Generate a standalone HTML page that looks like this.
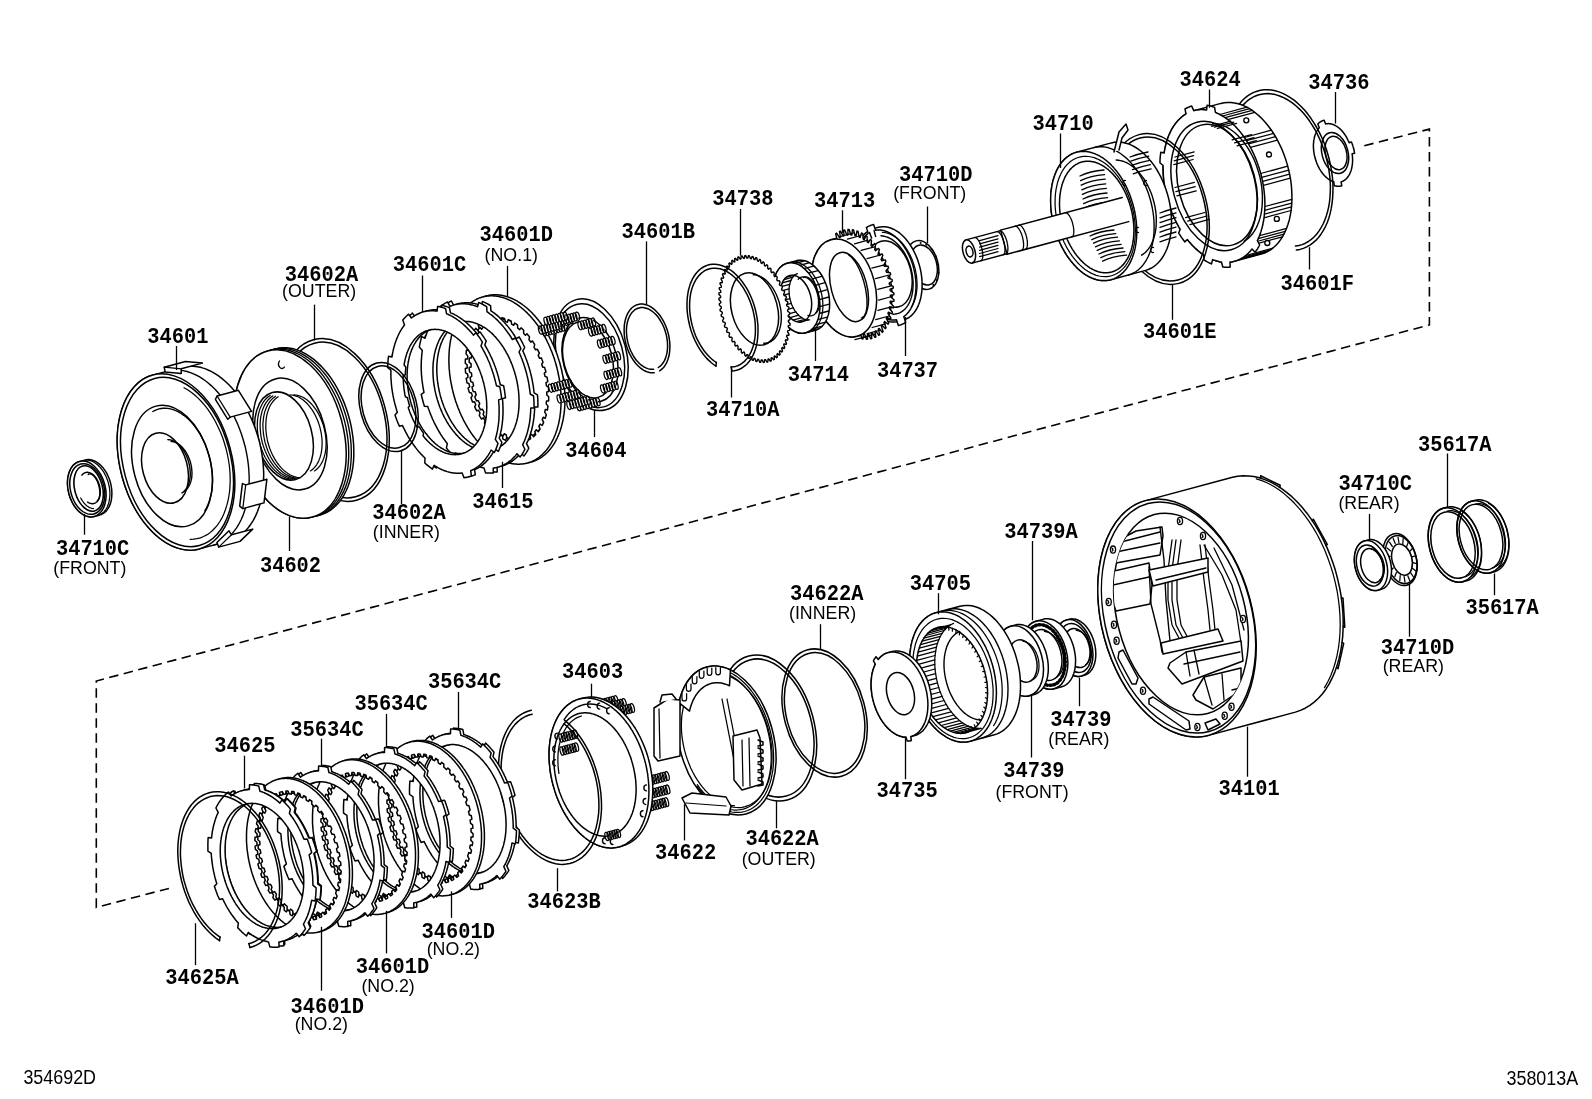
<!DOCTYPE html>
<html><head><meta charset="utf-8"><style>
html,body{margin:0;padding:0;background:#fff;}
svg{display:block;}
.m{font-family:"Liberation Mono",monospace;font-weight:bold;font-size:20.4px;fill:#000;}
.s{font-family:"Liberation Sans",sans-serif;font-size:17.8px;fill:#000;}
.c{font-family:"Liberation Sans",sans-serif;font-size:17.9px;fill:#000;}
</style></head><body>
<svg width="1592" height="1099" viewBox="0 0 1592 1099">
<g fill="none" stroke="#000" stroke-width="1.6" stroke-dasharray="9.5 5.5">
<polyline points="1364.3,145.7 1429.4,129.1 1429.4,324.9 96.3,681 96.3,907.4 168.9,888.4"/>
</g>
<g fill="#fff" stroke="#000" stroke-width="1.5" stroke-linejoin="round" stroke-linecap="round">
<polygon points="1353.4,147.5 1353.5,148.1 1353.7,148.7 1353.8,149.3 1353.9,149.8 1354.1,150.4 1354.2,151.0 1354.3,151.6 1354.4,152.2 1354.5,152.7 1354.6,153.3 1352.1,153.8 1352.2,154.3 1352.3,154.8 1352.3,155.3 1352.4,155.8 1352.4,156.4 1352.5,156.9 1352.5,157.4 1352.5,157.9 1352.5,158.4 1352.6,158.9 1352.6,159.4 1352.6,159.9 1352.6,160.4 1352.6,160.9 1352.6,161.4 1352.5,161.9 1352.5,162.4 1352.5,162.8 1352.4,163.3 1352.4,163.8 1352.4,164.3 1352.3,164.7 1352.2,165.2 1352.2,165.7 1352.1,166.1 1352.0,166.6 1351.9,167.0 1351.8,167.5 1351.8,167.9 1351.7,168.4 1351.5,168.8 1351.4,169.2 1351.3,169.7 1351.2,170.1 1351.1,170.5 1350.9,170.9 1350.8,171.3 1350.6,171.7 1350.5,172.1 1350.3,172.5 1350.2,172.9 1350.0,173.2 1349.8,173.6 1349.7,174.0 1349.5,174.3 1349.3,174.7 1349.1,175.0 1348.9,175.4 1348.7,175.7 1348.5,176.0 1348.3,176.3 1348.1,176.6 1347.9,176.9 1347.6,177.2 1347.4,177.5 1347.2,177.8 1346.9,178.1 1346.7,178.3 1346.4,178.6 1346.2,178.8 1345.9,179.1 1345.7,179.3 1345.4,179.5 1345.2,179.7 1344.9,180.0 1344.6,180.2 1344.3,180.3 1344.1,180.5 1343.8,180.7 1343.5,180.9 1343.2,181.0 1342.9,181.2 1342.6,181.3 1342.3,181.4 1342.0,181.6 1341.7,181.7 1341.4,181.8 1341.1,181.9 1341.8,185.8 1341.4,185.9 1341.1,186.0 1340.7,186.1 1340.4,186.1 1340.0,186.2 1339.6,186.2 1339.3,186.3 1338.9,186.3 1338.5,186.3 1338.1,186.3 1337.8,186.3 1337.4,186.3 1337.0,186.2 1336.6,186.2 1336.2,186.1 1335.8,186.1 1335.5,186.0 1335.1,185.9 1334.7,185.8 1334.3,185.7 1333.8,181.8 1333.5,181.7 1333.1,181.6 1332.8,181.4 1332.4,181.3 1332.1,181.2 1331.8,181.0 1331.4,180.8 1331.1,180.7 1330.7,180.5 1330.4,180.3 1330.1,180.1 1329.7,179.9 1329.4,179.7 1329.1,179.5 1328.7,179.3 1328.4,179.0 1328.1,178.8 1327.7,178.5 1327.4,178.3 1327.1,178.0 1326.7,177.8 1326.4,177.5 1326.1,177.2 1325.8,176.9 1325.5,176.6 1325.2,176.3 1324.8,176.0 1324.5,175.6 1324.2,175.3 1323.9,175.0 1323.6,174.6 1323.3,174.3 1323.0,173.9 1322.7,173.6 1322.4,173.2 1322.2,172.8 1321.9,172.4 1321.6,172.1 1321.3,171.7 1321.1,171.3 1320.8,170.9 1320.5,170.4 1320.3,170.0 1320.0,169.6 1319.7,169.2 1319.5,168.8 1319.3,168.3 1319.0,167.9 1318.8,167.4 1318.5,167.0 1318.3,166.5 1318.1,166.1 1317.9,165.6 1317.7,165.2 1317.4,164.7 1317.2,164.2 1317.0,163.7 1316.8,163.3 1316.7,162.8 1316.5,162.3 1316.3,161.8 1316.1,161.3 1315.9,160.8 1315.8,160.3 1315.6,159.8 1315.5,159.3 1315.3,158.8 1315.2,158.3 1315.0,157.8 1314.9,157.3 1314.8,156.8 1314.7,156.3 1314.5,155.8 1314.4,155.3 1314.3,154.8 1314.2,154.2 1314.1,153.7 1314.0,153.2 1314.0,152.7 1313.9,152.2 1313.8,151.7 1313.7,151.2 1313.7,150.7 1313.6,150.2 1313.6,149.6 1313.5,149.1 1313.5,148.6 1313.5,148.1 1313.5,147.6 1313.4,147.1 1313.4,146.6 1313.4,146.1 1313.4,145.6 1313.4,145.1 1313.4,144.6 1313.5,144.1 1313.5,143.6 1313.5,143.2 1313.6,142.7 1313.6,142.2 1313.6,141.7 1313.7,141.3 1313.8,140.8 1313.8,140.3 1313.9,139.9 1314.0,139.4 1314.1,139.0 1314.2,138.5 1314.2,138.1 1314.3,137.6 1314.5,137.2 1314.6,136.8 1314.7,136.3 1314.8,135.9 1314.9,135.5 1315.1,135.1 1315.2,134.7 1315.4,134.3 1315.5,133.9 1315.7,133.5 1315.8,133.1 1316.0,132.8 1316.2,132.4 1316.3,132.0 1316.5,131.7 1316.7,131.3 1316.9,131.0 1317.1,130.6 1317.3,130.3 1317.5,130.0 1317.7,129.7 1317.9,129.4 1318.1,129.1 1318.4,128.8 1318.6,128.5 1318.8,128.2 1319.1,127.9 1319.3,127.7 1317.8,124.0 1318.1,123.7 1318.3,123.5 1318.6,123.2 1318.9,122.9 1319.2,122.7 1319.5,122.5 1319.8,122.2 1320.2,122.0 1320.5,121.8 1320.8,121.6 1321.1,121.4 1321.5,121.2 1321.8,121.1 1322.1,120.9 1322.5,120.8 1322.8,120.6 1323.1,120.5 1323.5,120.4 1323.8,120.3 1324.2,120.2 1325.6,123.9 1325.9,123.9 1326.2,123.8 1326.5,123.8 1326.8,123.7 1327.2,123.7 1327.5,123.7 1327.8,123.6 1328.1,123.6 1328.5,123.6 1328.8,123.6 1329.1,123.7 1329.5,123.7 1329.8,123.7 1330.2,123.8 1330.5,123.8 1330.8,123.9 1331.2,124.0 1331.5,124.0 1331.8,124.1 1332.2,124.2 1332.5,124.3 1332.9,124.4 1333.2,124.6 1333.6,124.7 1333.9,124.8 1334.2,125.0 1334.6,125.2 1334.9,125.3 1335.3,125.5 1335.6,125.7 1335.9,125.9 1336.3,126.1 1336.6,126.3 1336.9,126.5 1337.3,126.7 1337.6,127.0 1337.9,127.2 1338.3,127.5 1338.6,127.7 1338.9,128.0 1339.3,128.2 1339.6,128.5 1339.9,128.8 1340.2,129.1 1340.5,129.4 1340.8,129.7 1341.2,130.0 1341.5,130.4 1341.8,130.7 1342.1,131.0 1342.4,131.4 1342.7,131.7 1343.0,132.1 1343.3,132.4 1343.6,132.8 1343.8,133.2 1344.1,133.6 1344.4,133.9 1344.7,134.3 1344.9,134.7 1345.2,135.1 1345.5,135.6 1345.7,136.0 1346.0,136.4 1346.3,136.8 1346.5,137.2 1346.7,137.7 1347.0,138.1 1347.2,138.6 1347.5,139.0 1347.7,139.5 1347.9,139.9 1348.1,140.4 1348.3,140.8 1348.6,141.3 1348.8,141.8 1349.0,142.3 1349.2,142.7 1351.5,141.9 1351.7,142.5 1351.9,143.0 1352.1,143.6 1352.3,144.1 1352.5,144.7 1352.7,145.3 1352.9,145.8 1353.0,146.4 1353.2,147.0" fill="#fff" stroke-width="1.5"/>
<ellipse cx="1335.0" cy="153.0" rx="13.0" ry="21.0" transform="rotate(-15 1335.0 153.0)" fill="none" stroke-width="1.5" />
<ellipse cx="1336.0" cy="153.0" rx="10.5" ry="17.0" transform="rotate(-15 1336.0 153.0)" fill="none" stroke-width="1.5" />
<polyline points="1230.9,119.9 1232.6,115.6 1234.5,111.6 1236.7,107.8 1239.0,104.4 1241.6,101.3 1244.4,98.5 1247.3,96.1 1250.4,94.1 1253.7,92.4 1257.0,91.2 1260.5,90.3 1264.1,89.8 1267.8,89.7 1271.5,90.1 1275.2,90.8 1279.0,91.9 1282.8,93.4 1286.6,95.3 1290.3,97.6 1294.0,100.2 1297.6,103.2 1301.1,106.5 1304.5,110.1 1307.8,114.1 1310.9,118.3 1313.9,122.8 1316.7,127.5 1319.3,132.4 1321.8,137.5 1324.0,142.8 1326.0,148.2 1327.7,153.7 1329.2,159.3 1330.5,164.9 1331.5,170.6 1332.3,176.3 1332.8,181.9 1333.0,187.5 1332.9,193.0 1332.6,198.4 1332.0,203.6 1331.2,208.7 1330.1,213.6 1328.8,218.2 1327.2,222.7 1325.3,226.8 1323.2,230.7 1321.0,234.2 1318.5,237.5 1315.8,240.4 1312.9,242.9 1309.9,245.1 1306.7,246.9 1303.4,248.4 1299.9,249.4 1296.4,250.1" fill="none" stroke-width="1.5"/>
<polyline points="1233.2,122.4 1234.9,118.3 1236.7,114.4 1238.7,110.9 1241.0,107.6 1243.5,104.6 1246.1,102.0 1248.9,99.7 1251.8,97.8 1254.9,96.2 1258.1,95.0 1261.4,94.2 1264.9,93.7 1268.3,93.6 1271.9,94.0 1275.4,94.6 1279.0,95.7 1282.6,97.2 1286.2,99.0 1289.8,101.1 1293.3,103.6 1296.7,106.5 1300.0,109.6 1303.3,113.1 1306.4,116.8 1309.4,120.8 1312.2,125.1 1314.9,129.5 1317.4,134.2 1319.7,139.1 1321.8,144.1 1323.7,149.2 1325.4,154.5 1326.8,159.8 1328.0,165.2 1329.0,170.6 1329.7,176.0 1330.2,181.4 1330.4,186.7 1330.3,191.9 1330.0,197.0 1329.5,202.0 1328.7,206.8 1327.6,211.5 1326.3,215.9 1324.8,220.1 1323.1,224.0 1321.1,227.7 1318.9,231.1 1316.6,234.2 1314.0,237.0 1311.3,239.4 1308.4,241.5 1305.4,243.2 1302.2,244.6 1298.9,245.5 1295.5,246.1" fill="none" stroke-width="1.5"/>
<polygon points="1220.9,103.4 1224.2,102.7 1227.6,102.4 1231.0,102.5 1234.5,102.9 1238.1,103.7 1241.6,104.8 1245.2,106.4 1248.7,108.2 1252.2,110.4 1255.6,113.0 1259.0,115.9 1262.3,119.0 1265.4,122.5 1268.5,126.2 1271.4,130.2 1274.2,134.5 1276.8,138.9 1279.2,143.6 1281.5,148.4 1283.5,153.3 1285.4,158.4 1287.0,163.6 1288.4,168.9 1289.6,174.2 1290.6,179.5 1291.3,184.8 1291.7,190.1 1291.9,195.4 1291.9,200.5 1291.6,205.6 1291.1,210.5 1290.3,215.3 1289.3,219.9 1288.0,224.3 1286.5,228.4 1284.8,232.3 1282.9,236.0 1280.8,239.4 1278.5,242.5 1276.0,245.3 1273.3,247.7 1270.5,249.8 1267.5,251.6 1264.4,253.0 1261.2,254.1 1234.2,261.3 1230.9,262.0 1227.5,262.4 1224.0,262.3 1220.5,261.9 1217.0,261.1 1213.4,259.9 1209.9,258.4 1206.4,256.5 1202.9,254.3 1199.4,251.8 1196.1,248.9 1192.8,245.7 1189.6,242.2 1186.6,238.5 1183.6,234.5 1180.9,230.3 1178.3,225.8 1175.8,221.2 1173.6,216.4 1171.5,211.4 1169.7,206.3 1168.0,201.1 1166.6,195.9 1165.4,190.6 1164.5,185.2 1163.8,179.9 1163.3,174.6 1163.1,169.4 1163.2,164.2 1163.5,159.2 1164.0,154.2 1164.8,149.5 1165.8,144.9 1167.0,140.5 1168.5,136.3 1170.2,132.4 1172.1,128.7 1174.2,125.4 1176.6,122.3 1179.1,119.5 1181.7,117.0 1184.5,114.9 1187.5,113.1 1190.6,111.7 1193.8,110.7" fill="#fff" stroke-width="1.5"/>
<line x1="1219.9" y1="114.5" x2="1246.9" y2="107.2" stroke-width="1.25"/>
<line x1="1222.5" y1="116.0" x2="1249.6" y2="108.7" stroke-width="1.25"/>
<line x1="1225.1" y1="117.7" x2="1252.2" y2="110.4" stroke-width="1.25"/>
<line x1="1227.7" y1="119.6" x2="1254.8" y2="112.3" stroke-width="1.25"/>
<line x1="1244.4" y1="137.5" x2="1271.4" y2="130.2" stroke-width="1.25"/>
<line x1="1246.5" y1="140.6" x2="1273.5" y2="133.4" stroke-width="1.25"/>
<line x1="1248.5" y1="143.9" x2="1275.5" y2="136.7" stroke-width="1.25"/>
<line x1="1250.4" y1="147.3" x2="1277.4" y2="140.1" stroke-width="1.25"/>
<line x1="1260.7" y1="173.5" x2="1287.8" y2="166.2" stroke-width="1.25"/>
<line x1="1261.7" y1="177.4" x2="1288.8" y2="170.2" stroke-width="1.25"/>
<line x1="1262.6" y1="181.4" x2="1289.6" y2="174.2" stroke-width="1.25"/>
<line x1="1263.3" y1="185.4" x2="1290.3" y2="178.2" stroke-width="1.25"/>
<line x1="1264.9" y1="206.5" x2="1291.9" y2="199.3" stroke-width="1.25"/>
<line x1="1264.7" y1="210.3" x2="1291.8" y2="203.1" stroke-width="1.25"/>
<line x1="1264.4" y1="214.1" x2="1291.5" y2="206.8" stroke-width="1.25"/>
<line x1="1264.0" y1="217.8" x2="1291.1" y2="210.5" stroke-width="1.25"/>
<line x1="1259.5" y1="235.7" x2="1286.5" y2="228.4" stroke-width="1.25"/>
<line x1="1258.2" y1="238.6" x2="1285.3" y2="231.4" stroke-width="1.25"/>
<line x1="1256.9" y1="241.5" x2="1283.9" y2="234.2" stroke-width="1.25"/>
<line x1="1255.4" y1="244.1" x2="1282.4" y2="236.9" stroke-width="1.25"/>
<line x1="1245.6" y1="255.5" x2="1272.6" y2="248.3" stroke-width="1.25"/>
<line x1="1243.5" y1="257.1" x2="1270.5" y2="249.8" stroke-width="1.25"/>
<line x1="1241.2" y1="258.5" x2="1268.3" y2="251.2" stroke-width="1.25"/>
<line x1="1239.0" y1="259.6" x2="1266.0" y2="252.4" stroke-width="1.25"/>
<circle cx="1246.3" cy="120.3" r="2.5" fill="#fff" stroke-width="1.35"/>
<circle cx="1269.0" cy="154.5" r="2.5" fill="#fff" stroke-width="1.35"/>
<circle cx="1276.8" cy="218.9" r="2.5" fill="#fff" stroke-width="1.35"/>
<circle cx="1267.3" cy="243.0" r="2.5" fill="#fff" stroke-width="1.35"/>
<polygon points="1260.7,173.5 1261.1,174.8 1261.4,176.1 1261.7,177.4 1262.0,178.8 1262.3,180.1 1262.6,181.4 1262.8,182.8 1263.1,184.1 1263.3,185.4 1263.5,186.8 1263.7,188.1 1263.9,189.4 1264.1,190.8 1264.2,192.1 1264.3,193.4 1264.5,194.7 1264.6,196.1 1264.7,197.4 1264.7,198.7 1264.8,200.0 1264.8,201.3 1264.9,202.6 1264.9,203.9 1264.9,205.2 1264.9,206.5 1264.8,207.8 1264.8,209.1 1264.7,210.3 1264.6,211.6 1264.5,212.8 1264.4,214.1 1264.3,215.3 1264.2,216.5 1264.0,217.8 1263.8,219.0 1263.7,220.2 1263.5,221.3 1263.2,222.5 1263.0,223.7 1262.8,224.8 1262.5,226.0 1262.2,227.1 1261.9,228.2 1261.6,229.3 1261.3,230.4 1261.0,231.5 1260.6,232.6 1260.3,233.6 1259.9,234.6 1259.5,235.7 1259.1,236.7 1258.7,237.7 1258.2,238.6 1257.8,239.6 1257.3,240.5 1259.6,245.0 1259.1,246.0 1258.6,246.9 1258.0,247.9 1257.5,248.8 1256.9,249.7 1256.3,250.5 1255.7,251.4 1255.1,252.2 1252.0,249.0 1251.4,249.7 1250.8,250.5 1250.2,251.2 1249.6,251.9 1248.9,252.5 1248.3,253.2 1247.6,253.8 1247.0,254.4 1246.3,255.0 1245.6,255.5 1244.9,256.1 1244.2,256.6 1243.5,257.1 1242.7,257.6 1242.0,258.0 1241.2,258.5 1240.5,258.9 1239.7,259.3 1239.0,259.6 1238.2,260.0 1237.4,260.3 1236.6,260.6 1235.8,260.9 1235.0,261.1 1234.2,261.3 1233.4,261.5 1232.5,261.7 1231.7,261.9 1230.9,262.0 1230.0,262.1 1230.2,267.1 1229.3,267.2 1228.4,267.2 1227.4,267.3 1226.5,267.3 1225.6,267.2 1224.7,267.2 1223.7,267.1 1222.8,267.0 1221.4,262.0 1220.5,261.9 1219.6,261.7 1218.8,261.5 1217.9,261.3 1217.0,261.1 1216.1,260.8 1215.2,260.5 1214.3,260.2 1213.4,259.9 1212.6,259.6 1211.5,263.9 1210.6,263.5 1209.6,263.0 1208.7,262.6 1207.8,262.1 1206.8,261.6 1205.9,261.0 1204.9,260.5 1204.0,259.9 1203.7,254.9 1202.9,254.3 1202.0,253.7 1201.1,253.1 1200.3,252.4 1199.4,251.8 1198.6,251.1 1197.7,250.4 1196.9,249.6 1196.1,248.9 1195.2,248.1 1194.4,247.3 1193.6,246.5 1192.8,245.7 1192.0,244.9 1191.2,244.0 1190.4,243.1 1189.6,242.2 1188.8,241.3 1188.1,240.4 1187.3,239.5 1184.8,241.9 1184.0,240.8 1183.2,239.8 1182.5,238.7 1181.7,237.6 1180.9,236.5 1180.2,235.4 1179.5,234.3 1178.7,233.1 1180.2,229.2 1179.5,228.1 1178.9,227.0 1178.3,225.8 1177.6,224.7 1177.0,223.5 1176.4,222.4 1175.8,221.2 1175.2,220.0 1174.7,218.8 1174.1,217.6 1173.6,216.4 1173.0,215.1 1172.5,213.9 1172.0,212.7 1171.5,211.4 1171.0,210.1 1170.6,208.9 1170.1,207.6 1169.7,206.3 1169.2,205.0 1168.8,203.7 1168.4,202.4 1168.0,201.1 1167.6,199.8 1167.3,198.5 1166.9,197.2 1166.6,195.9 1166.3,194.6 1166.0,193.2 1165.7,191.9 1165.4,190.6 1165.2,189.2 1164.9,187.9 1164.7,186.6 1164.5,185.2 1164.3,183.9 1164.1,182.6 1163.9,181.2 1163.8,179.9 1163.7,178.6 1163.5,177.3 1163.4,175.9 1163.3,174.6 1163.3,173.3 1163.2,172.0 1163.2,170.7 1163.1,169.4 1163.1,168.1 1163.1,166.8 1163.1,165.5 1159.9,162.8 1160.0,161.5 1160.0,160.1 1160.1,158.8 1160.2,157.4 1160.3,156.1 1160.5,154.8 1160.6,153.5 1160.8,152.2 1164.2,153.0 1164.3,151.8 1164.5,150.7 1164.8,149.5 1165.0,148.3 1165.2,147.2 1165.5,146.0 1165.8,144.9 1166.1,143.8 1166.4,142.7 1166.7,141.6 1167.0,140.5 1167.4,139.4 1167.7,138.4 1168.1,137.4 1168.5,136.3 1168.9,135.3 1169.3,134.3 1169.8,133.4 1170.2,132.4 1170.7,131.5 1171.1,130.5 1171.6,129.6 1172.1,128.7 1172.6,127.9 1173.2,127.0 1173.7,126.2 1174.2,125.4 1174.8,124.6 1175.4,123.8 1176.0,123.0 1176.6,122.3 1177.2,121.5 1177.8,120.8 1178.4,120.1 1179.1,119.5 1179.7,118.8 1180.4,118.2 1181.0,117.6 1181.7,117.0 1182.4,116.5 1183.1,115.9 1183.8,115.4 1184.5,114.9 1185.3,114.4 1186.0,114.0 1185.0,108.9 1185.8,108.5 1186.6,108.0 1187.4,107.7 1188.3,107.3 1189.1,107.0 1189.9,106.6 1190.8,106.3 1191.7,106.1 1193.8,110.7 1194.6,110.5 1195.5,110.3 1196.3,110.1 1197.1,110.0 1198.0,109.9 1198.8,109.8 1199.7,109.7 1200.5,109.6 1201.4,109.6 1202.2,109.6 1203.1,109.7 1204.0,109.7 1204.8,109.8 1205.7,109.9 1206.6,110.0 1207.1,105.3 1208.0,105.4 1208.9,105.6 1209.9,105.9 1210.8,106.1 1211.8,106.4 1212.7,106.7 1213.6,107.0 1214.6,107.3 1215.4,112.4 1216.3,112.8 1217.2,113.2 1218.1,113.6 1219.0,114.0 1219.9,114.5 1220.8,115.0 1221.6,115.5 1222.5,116.0 1223.4,116.5 1224.3,117.1 1225.1,117.7 1226.0,118.3 1226.9,118.9 1227.7,119.6 1228.6,120.2 1229.4,120.9 1230.3,121.6 1231.1,122.4 1231.9,123.1 1232.8,123.9 1233.6,124.7 1234.4,125.5 1235.2,126.3 1236.0,127.1 1236.8,128.0 1237.6,128.9 1238.4,129.8 1239.2,130.7 1239.9,131.6 1240.7,132.5 1241.4,133.5 1242.2,134.5 1242.9,135.5 1243.6,136.5 1244.4,137.5 1245.1,138.5 1245.8,139.6 1246.5,140.6 1247.1,141.7 1247.8,142.8 1248.5,143.9 1249.1,145.0 1249.7,146.2 1250.4,147.3 1251.0,148.5 1251.6,149.6 1252.2,150.8 1252.8,152.0 1253.3,153.2 1253.9,154.4 1254.4,155.6 1255.0,156.9 1255.5,158.1 1256.0,159.3 1256.5,160.6 1257.0,161.9 1257.4,163.1 1257.9,164.4 1258.3,165.7 1258.8,167.0 1259.2,168.3 1259.6,169.6 1260.0,170.9 1260.4,172.2" fill="#fff" stroke-width="1.5"/>
<ellipse cx="1214.0" cy="186.0" rx="40.9" ry="66.0" transform="rotate(-15 1214.0 186.0)" fill="none" stroke-width="1.5" />
<ellipse cx="1217.0" cy="185.0" rx="38.4" ry="62.0" transform="rotate(-15 1217.0 185.0)" fill="none" stroke-width="1.5" />
<polyline points="1212.6,123.3 1215.4,123.5 1218.2,124.0 1221.0,124.7 1223.9,125.8 1226.7,127.2 1229.5,128.8 1232.2,130.7 1234.9,132.8 1237.6,135.2 1240.1,137.9 1242.6,140.8 1245.0,143.8 1247.3,147.1 1249.4,150.6 1251.4,154.2 1253.3,157.9 1255.0,161.8 1256.5,165.8 1257.9,169.9 1259.1,174.1 1260.2,178.3 1261.0,182.5 1261.7,186.7 1262.1,190.9 1262.4,195.1 1262.4,199.3 1262.3,203.3 1262.0,207.3 1261.5,211.2 1260.8,214.9 1259.9,218.4 1258.8,221.8 1257.5,225.1 1256.1,228.1 1254.5,230.9 1252.7,233.5 1250.8,235.8 1248.7,237.9 1246.6,239.7 1244.3,241.2" fill="none" stroke-width="1.4"/>
<line x1="1211.6" y1="126.3" x2="1230.9" y2="121.1" stroke-width="1.25"/>
<line x1="1214.4" y1="127.2" x2="1233.8" y2="122.1" stroke-width="1.25"/>
<line x1="1217.3" y1="128.5" x2="1236.6" y2="123.3" stroke-width="1.25"/>
<line x1="1232.1" y1="139.9" x2="1251.4" y2="134.7" stroke-width="1.25"/>
<line x1="1234.6" y1="142.8" x2="1253.9" y2="137.6" stroke-width="1.25"/>
<line x1="1237.0" y1="145.8" x2="1256.3" y2="140.7" stroke-width="1.25"/>
<line x1="1189.9" y1="224.6" x2="1209.2" y2="219.4" stroke-width="1.25"/>
<line x1="1187.7" y1="221.2" x2="1207.0" y2="216.0" stroke-width="1.25"/>
<line x1="1185.6" y1="217.7" x2="1204.9" y2="212.5" stroke-width="1.25"/>
<line x1="1176.9" y1="195.9" x2="1196.2" y2="190.8" stroke-width="1.25"/>
<line x1="1175.8" y1="191.7" x2="1195.2" y2="186.6" stroke-width="1.25"/>
<line x1="1175.0" y1="187.5" x2="1194.3" y2="182.3" stroke-width="1.25"/>
<line x1="1173.8" y1="164.7" x2="1193.1" y2="159.5" stroke-width="1.25"/>
<line x1="1174.2" y1="160.8" x2="1193.6" y2="155.6" stroke-width="1.25"/>
<line x1="1174.9" y1="157.0" x2="1194.2" y2="151.8" stroke-width="1.25"/>
<ellipse cx="1159.0" cy="209.0" rx="47.7" ry="77.0" transform="rotate(-15 1159.0 209.0)" fill="none" stroke-width="1.5" />
<ellipse cx="1159.0" cy="209.0" rx="45.6" ry="73.5" transform="rotate(-15 1159.0 209.0)" fill="none" stroke-width="1.5" />
<polygon points="1111.4,142.9 1114.2,142.3 1117.1,142.1 1120.0,142.1 1122.9,142.5 1125.9,143.2 1128.9,144.1 1131.9,145.4 1134.9,147.0 1137.9,148.9 1140.8,151.0 1143.6,153.5 1146.4,156.2 1149.1,159.1 1151.7,162.3 1154.2,165.6 1156.5,169.2 1158.7,173.0 1160.8,176.9 1162.7,181.0 1164.4,185.2 1166.0,189.5 1167.4,193.9 1168.6,198.3 1169.6,202.8 1170.4,207.3 1171.0,211.8 1171.3,216.3 1171.5,220.7 1171.5,225.1 1171.2,229.4 1170.8,233.6 1170.1,237.6 1169.3,241.5 1168.2,245.2 1167.0,248.7 1165.5,252.0 1163.9,255.1 1162.1,258.0 1160.2,260.6 1158.0,263.0 1155.8,265.0 1153.4,266.8 1150.9,268.3 1148.3,269.5 1145.6,270.4 1110.8,279.8 1108.0,280.3 1105.1,280.6 1102.2,280.6 1099.2,280.2 1096.2,279.5 1093.2,278.5 1090.2,277.3 1087.2,275.7 1084.3,273.8 1081.4,271.6 1078.5,269.2 1075.8,266.5 1073.1,263.6 1070.5,260.4 1068.0,257.0 1065.7,253.5 1063.5,249.7 1061.4,245.8 1059.5,241.7 1057.7,237.5 1056.2,233.2 1054.8,228.8 1053.6,224.4 1052.6,219.9 1051.8,215.4 1051.2,210.9 1050.8,206.4 1050.7,201.9 1050.7,197.6 1050.9,193.3 1051.4,189.1 1052.0,185.1 1052.9,181.2 1054.0,177.5 1055.2,174.0 1056.6,170.6 1058.3,167.5 1060.1,164.7 1062.0,162.1 1064.1,159.7 1066.4,157.6 1068.8,155.8 1071.3,154.3 1073.9,153.1 1076.6,152.2" fill="#fff" stroke-width="1.5"/>
<polyline points="1094.0,147.6 1096.8,147.0 1099.7,146.7 1102.6,146.8 1105.6,147.1 1108.6,147.8 1111.6,148.8 1114.6,150.1 1117.5,151.7 1120.5,153.5 1123.4,155.7 1126.3,158.1 1129.0,160.8 1131.7,163.7 1134.3,166.9 1136.8,170.3 1139.1,173.9 1141.3,177.6 1143.4,181.6 1145.3,185.6 1147.0,189.8 1148.6,194.1 1150.0,198.5 1151.2,203.0 1152.2,207.5 1153.0,212.0 1153.6,216.5 1154.0,221.0 1154.1,225.4 1154.1,229.8 1153.9,234.0 1153.4,238.2 1152.8,242.2 1151.9,246.1 1150.8,249.8 1149.6,253.4 1148.1,256.7 1146.5,259.8 1144.7,262.7 1142.8,265.3 1140.7,267.6 1138.4,269.7 1136.0,271.5 1133.5,273.0 1130.9,274.2 1128.2,275.1" fill="none" stroke-width="1.4"/>
<path d="M1080.0,176.0 q10,-5 24,-6" fill="none" stroke-width="1.3"/>
<path d="M1080.6,180.6 q10,-5 24,-6" fill="none" stroke-width="1.3"/>
<path d="M1081.2,185.2 q10,-5 24,-6" fill="none" stroke-width="1.3"/>
<path d="M1081.8,189.8 q10,-5 24,-6" fill="none" stroke-width="1.3"/>
<path d="M1082.4,194.4 q10,-5 24,-6" fill="none" stroke-width="1.3"/>
<path d="M1083.0,199.0 q10,-5 24,-6" fill="none" stroke-width="1.3"/>
<path d="M1083.6,203.6 q10,-5 24,-6" fill="none" stroke-width="1.3"/>
<path d="M1084.2,208.2 q10,-5 24,-6" fill="none" stroke-width="1.3"/>
<path d="M1090.0,236.0 q10,-5 24,-6" fill="none" stroke-width="1.3"/>
<path d="M1091.8,239.6 q10,-5 24,-6" fill="none" stroke-width="1.3"/>
<path d="M1093.6,243.2 q10,-5 24,-6" fill="none" stroke-width="1.3"/>
<path d="M1095.4,246.8 q10,-5 24,-6" fill="none" stroke-width="1.3"/>
<path d="M1097.2,250.4 q10,-5 24,-6" fill="none" stroke-width="1.3"/>
<path d="M1099.0,254.0 q10,-5 24,-6" fill="none" stroke-width="1.3"/>
<path d="M1100.8,257.6 q10,-5 24,-6" fill="none" stroke-width="1.3"/>
<path d="M1102.6,261.2 q10,-5 24,-6" fill="none" stroke-width="1.3"/>
<path d="M1130.0,157.0 q8,-3 18,-5" fill="none" stroke-width="1.3"/>
<path d="M1130.8,161.2 q8,-3 18,-5" fill="none" stroke-width="1.3"/>
<path d="M1131.6,165.4 q8,-3 18,-5" fill="none" stroke-width="1.3"/>
<path d="M1132.4,169.6 q8,-3 18,-5" fill="none" stroke-width="1.3"/>
<path d="M1133.2,173.8 q8,-3 18,-5" fill="none" stroke-width="1.3"/>
<path d="M1160.0,213.0 q8,-3 16,-5" fill="none" stroke-width="1.3"/>
<path d="M1160.0,217.8 q8,-3 16,-5" fill="none" stroke-width="1.3"/>
<path d="M1160.0,222.6 q8,-3 16,-5" fill="none" stroke-width="1.3"/>
<path d="M1160.0,227.4 q8,-3 16,-5" fill="none" stroke-width="1.3"/>
<path d="M1160.0,232.2 q8,-3 16,-5" fill="none" stroke-width="1.3"/>
<path d="M1160.0,237.0 q8,-3 16,-5" fill="none" stroke-width="1.3"/>
<path d="M1160.0,241.8 q8,-3 16,-5" fill="none" stroke-width="1.3"/>
<polyline points="1116.2,160.0 1118.4,160.2 1120.6,160.6 1122.9,161.2 1125.2,162.1 1127.5,163.2 1129.7,164.5 1131.9,166.0 1134.1,167.7 1136.3,169.7 1138.3,171.8 1140.3,174.1 1142.2,176.6 1144.1,179.2 1145.8,182.0 1147.4,184.9 1148.9,188.0 1150.3,191.1 1151.6,194.3 1152.7,197.6 1153.6,201.0 1154.5,204.4 1155.2,207.8 1155.7,211.2 1156.1,214.6 1156.3,218.0 1156.3,221.3 1156.2,224.6 1156.0,227.8 1155.5,230.9 1155.0,233.9 1154.2,236.8 1153.4,239.5 1152.3,242.1 1151.2,244.6 1149.9,246.8 1148.5,248.9 1146.9,250.8 1145.3,252.5 1143.5,253.9 1141.6,255.2" fill="none" stroke-width="1.4"/>
<path d="M1133.2,205.4 L1133.5,206.5 L1133.8,207.6 L1134.1,208.8 L1134.3,209.9 L1134.6,211.0 L1134.8,212.1 L1135.0,213.3 L1135.2,214.4 L1135.4,215.5 L1135.6,216.6 L1135.8,217.8 L1135.9,218.9 L1136.1,220.0 L1136.2,221.1 L1136.3,222.3 L1136.4,223.4 L1136.5,224.5 L1136.6,225.6 L1136.6,226.7 L1136.7,227.9 L1136.7,229.0 L1136.7,230.1 L1136.8,231.2 L1136.8,232.3 L1136.7,233.3 L1136.7,234.4 L1136.7,235.5 L1136.6,236.6 L1136.6,237.6 L1136.5,238.7 L1136.4,239.8 L1136.3,240.8 L1136.2,241.8 L1136.0,242.9 L1135.9,243.9 L1135.7,244.9 L1135.5,245.9 L1135.4,246.9 L1135.2,247.9 L1135.0,248.9 L1134.7,249.8 L1134.5,250.8 L1134.3,251.7 L1134.0,252.7 L1133.7,253.6 L1133.4,254.5 L1133.1,255.4 L1132.8,256.3 L1132.5,257.2 L1132.2,258.0 L1131.8,258.9 L1131.5,259.7 L1131.1,260.5 L1130.8,261.4 L1130.4,262.1 L1130.0,262.9 L1129.6,263.7 L1129.1,264.5 L1128.7,265.2 L1128.3,265.9 L1127.8,266.6 L1127.3,267.3 L1126.9,268.0 L1126.4,268.7 L1125.9,269.3 L1125.4,269.9 L1124.9,270.5 L1124.3,271.1 L1123.8,271.7 L1123.3,272.3 L1122.7,272.8 L1122.2,273.4 L1121.6,273.9 L1121.0,274.4 L1120.4,274.8 L1119.8,275.3 L1119.2,275.7 L1118.6,276.2 L1118.0,276.6 L1117.4,276.9 L1116.8,277.3 L1116.1,277.7 L1115.5,278.0 L1114.8,278.3 L1114.2,278.6 L1113.5,278.9 L1112.8,279.1 L1112.2,279.3 L1111.5,279.6 L1110.8,279.8 L1110.1,279.9 L1109.4,280.1 L1108.7,280.2 L1108.0,280.3 L1107.3,280.4 L1106.6,280.5 L1105.8,280.6 L1105.1,280.6 L1104.4,280.6 L1103.7,280.6 L1102.9,280.6 L1102.2,280.6 L1101.5,280.5 L1100.7,280.4 L1100.0,280.3 L1099.2,280.2 L1098.5,280.1 L1097.7,279.9 L1097.0,279.7 L1096.2,279.5 L1095.5,279.3 L1094.7,279.1 L1094.0,278.8 L1093.2,278.5 L1092.5,278.3 L1091.7,277.9 L1091.0,277.6 L1090.2,277.3 L1089.5,276.9 L1088.7,276.5 L1088.0,276.1 L1087.2,275.7 L1086.5,275.2 L1085.8,274.8 L1085.0,274.3 L1084.3,273.8 L1083.6,273.3 L1082.8,272.8 L1082.1,272.2 L1081.4,271.6 L1080.7,271.1 L1079.9,270.5 L1079.2,269.8 L1078.5,269.2 L1077.8,268.6 L1077.1,267.9 L1076.4,267.2 L1075.8,266.5 L1075.1,265.8 L1074.4,265.1 L1073.7,264.4 L1073.1,263.6 L1072.4,262.8 L1071.8,262.0 L1071.1,261.2 L1070.5,260.4 L1069.9,259.6 L1069.2,258.8 L1068.6,257.9 L1068.0,257.0 L1067.4,256.2 L1066.8,255.3 L1066.2,254.4 L1065.7,253.5 L1065.1,252.5 L1064.5,251.6 L1064.0,250.7 L1063.5,249.7 L1062.9,248.7 L1062.4,247.8 L1061.9,246.8 L1061.4,245.8 L1060.9,244.8 L1060.4,243.8 L1059.9,242.7 L1059.5,241.7 L1059.0,240.7 L1058.6,239.6 L1058.2,238.6 L1057.7,237.5 L1057.3,236.4 L1056.9,235.4 L1056.6,234.3 L1056.2,233.2 L1055.8,232.1 L1055.5,231.0 L1055.1,229.9 L1054.8,228.8 L1054.5,227.7 L1054.2,226.6 L1053.9,225.5 L1053.6,224.4 L1053.3,223.2 L1053.1,222.1 L1052.8,221.0 L1052.6,219.9 L1052.4,218.7 L1052.2,217.6 L1052.0,216.5 L1051.8,215.4 L1051.6,214.2 L1051.5,213.1 L1051.3,212.0 L1051.2,210.9 L1051.1,209.7 L1051.0,208.6 L1050.9,207.5 L1050.8,206.4 L1050.8,205.3 L1050.7,204.1 L1050.7,203.0 L1050.7,201.9 L1050.6,200.8 L1050.6,199.7 L1050.7,198.7 L1050.7,197.6 L1050.7,196.5 L1050.8,195.4 L1050.8,194.4 L1050.9,193.3 L1051.0,192.2 L1051.1,191.2 L1051.2,190.2 L1051.4,189.1 L1051.5,188.1 L1051.7,187.1 L1051.9,186.1 L1052.0,185.1 L1052.2,184.1 L1052.4,183.1 L1052.7,182.2 L1052.9,181.2 L1053.1,180.3 L1053.4,179.3 L1053.7,178.4 L1054.0,177.5 L1054.3,176.6 L1054.6,175.7 L1054.9,174.8 L1055.2,174.0 L1055.6,173.1 L1055.9,172.3 L1056.3,171.5 L1056.6,170.6 L1057.0,169.9 L1057.4,169.1 L1057.8,168.3 L1058.3,167.5 L1058.7,166.8 L1059.1,166.1 L1059.6,165.4 L1060.1,164.7 L1060.5,164.0 L1061.0,163.3 L1061.5,162.7 L1062.0,162.1 L1062.5,161.5 L1063.1,160.9 L1063.6,160.3 L1064.1,159.7 L1064.7,159.2 L1065.2,158.6 L1065.8,158.1 L1066.4,157.6 L1067.0,157.2 L1067.6,156.7 L1068.2,156.3 L1068.8,155.8 L1069.4,155.4 L1070.0,155.1 L1070.6,154.7 L1071.3,154.3 L1071.9,154.0 L1072.6,153.7 L1073.2,153.4 L1073.9,153.1 L1074.6,152.9 L1075.2,152.7 L1075.9,152.4 L1076.6,152.2 L1077.3,152.1 L1078.0,151.9 L1078.7,151.8 L1079.4,151.7 L1080.1,151.6 L1080.8,151.5 L1081.6,151.4 L1082.3,151.4 L1083.0,151.4 L1083.7,151.4 L1084.5,151.4 L1085.2,151.4 L1085.9,151.5 L1086.7,151.6 L1087.4,151.7 L1088.2,151.8 L1088.9,151.9 L1089.7,152.1 L1090.4,152.3 L1091.2,152.5 L1091.9,152.7 L1092.7,152.9 L1093.4,153.2 L1094.2,153.5 L1094.9,153.7 L1095.7,154.1 L1096.4,154.4 L1097.2,154.7 L1097.9,155.1 L1098.7,155.5 L1099.4,155.9 L1100.2,156.3 L1100.9,156.8 L1101.6,157.2 L1102.4,157.7 L1103.1,158.2 L1103.8,158.7 L1104.6,159.2 L1105.3,159.8 L1106.0,160.4 L1106.7,160.9 L1107.5,161.5 L1108.2,162.2 L1108.9,162.8 L1109.6,163.4 L1110.3,164.1 L1111.0,164.8 L1111.6,165.5 L1112.3,166.2 L1113.0,166.9 L1113.7,167.6 L1114.3,168.4 L1115.0,169.2 L1115.6,170.0 L1116.3,170.8 L1116.9,171.6 L1117.5,172.4 L1118.2,173.2 L1118.8,174.1 L1119.4,175.0 L1120.0,175.8 L1120.6,176.7 L1121.2,177.6 L1121.7,178.5 L1122.3,179.5 L1122.9,180.4 L1123.4,181.3 L1123.9,182.3 L1124.5,183.3 L1125.0,184.2 L1125.5,185.2 L1126.0,186.2 L1126.5,187.2 L1127.0,188.2 L1127.5,189.3 L1127.9,190.3 L1128.4,191.3 L1128.8,192.4 L1129.2,193.4 L1129.7,194.5 L1130.1,195.6 L1130.5,196.6 L1130.8,197.7 L1131.2,198.8 L1131.6,199.9 L1131.9,201.0 L1132.3,202.1 L1132.6,203.2 L1132.9,204.3 Z M1130.8,207.9 L1131.1,208.8 L1131.3,209.8 L1131.6,210.7 L1131.8,211.7 L1132.0,212.7 L1132.2,213.7 L1132.4,214.6 L1132.6,215.6 L1132.7,216.6 L1132.9,217.6 L1133.0,218.5 L1133.2,219.5 L1133.3,220.5 L1133.4,221.4 L1133.5,222.4 L1133.6,223.4 L1133.7,224.4 L1133.7,225.3 L1133.8,226.3 L1133.8,227.2 L1133.9,228.2 L1133.9,229.1 L1133.9,230.1 L1133.9,231.0 L1133.9,232.0 L1133.8,232.9 L1133.8,233.8 L1133.8,234.8 L1133.7,235.7 L1133.6,236.6 L1133.6,237.5 L1133.5,238.4 L1133.4,239.3 L1133.2,240.2 L1133.1,241.1 L1133.0,242.0 L1132.8,242.8 L1132.7,243.7 L1132.5,244.5 L1132.3,245.4 L1132.1,246.2 L1131.9,247.0 L1131.7,247.9 L1131.5,248.7 L1131.3,249.5 L1131.0,250.3 L1130.8,251.0 L1130.5,251.8 L1130.2,252.6 L1129.9,253.3 L1129.6,254.0 L1129.3,254.8 L1129.0,255.5 L1128.7,256.2 L1128.4,256.9 L1128.0,257.5 L1127.7,258.2 L1127.3,258.8 L1126.9,259.5 L1126.5,260.1 L1126.2,260.7 L1125.8,261.3 L1125.3,261.9 L1124.9,262.5 L1124.5,263.0 L1124.1,263.6 L1123.6,264.1 L1123.2,264.6 L1122.7,265.1 L1122.2,265.6 L1121.8,266.1 L1121.3,266.5 L1120.8,267.0 L1120.3,267.4 L1119.8,267.8 L1119.3,268.2 L1118.8,268.6 L1118.2,269.0 L1117.7,269.3 L1117.2,269.6 L1116.6,269.9 L1116.1,270.2 L1115.5,270.5 L1114.9,270.8 L1114.4,271.1 L1113.8,271.3 L1113.2,271.5 L1112.6,271.7 L1112.0,271.9 L1111.5,272.1 L1110.9,272.2 L1110.3,272.3 L1109.6,272.5 L1109.0,272.6 L1108.4,272.6 L1107.8,272.7 L1107.2,272.8 L1106.6,272.8 L1105.9,272.8 L1105.3,272.8 L1104.7,272.8 L1104.0,272.8 L1103.4,272.7 L1102.8,272.6 L1102.1,272.5 L1101.5,272.4 L1100.8,272.3 L1100.2,272.2 L1099.5,272.0 L1098.9,271.9 L1098.2,271.7 L1097.6,271.5 L1096.9,271.3 L1096.3,271.0 L1095.6,270.8 L1095.0,270.5 L1094.3,270.2 L1093.7,269.9 L1093.1,269.6 L1092.4,269.3 L1091.8,268.9 L1091.1,268.5 L1090.5,268.2 L1089.8,267.8 L1089.2,267.3 L1088.6,266.9 L1087.9,266.5 L1087.3,266.0 L1086.7,265.5 L1086.1,265.1 L1085.4,264.6 L1084.8,264.0 L1084.2,263.5 L1083.6,263.0 L1083.0,262.4 L1082.4,261.8 L1081.8,261.2 L1081.2,260.6 L1080.6,260.0 L1080.0,259.4 L1079.5,258.8 L1078.9,258.1 L1078.3,257.4 L1077.8,256.8 L1077.2,256.1 L1076.6,255.4 L1076.1,254.7 L1075.6,253.9 L1075.0,253.2 L1074.5,252.5 L1074.0,251.7 L1073.5,250.9 L1073.0,250.1 L1072.5,249.4 L1072.0,248.6 L1071.5,247.7 L1071.0,246.9 L1070.6,246.1 L1070.1,245.3 L1069.7,244.4 L1069.2,243.6 L1068.8,242.7 L1068.4,241.8 L1068.0,241.0 L1067.5,240.1 L1067.1,239.2 L1066.8,238.3 L1066.4,237.4 L1066.0,236.5 L1065.6,235.6 L1065.3,234.6 L1064.9,233.7 L1064.6,232.8 L1064.3,231.9 L1064.0,230.9 L1063.7,230.0 L1063.4,229.0 L1063.1,228.1 L1062.8,227.1 L1062.6,226.1 L1062.3,225.2 L1062.1,224.2 L1061.8,223.3 L1061.6,222.3 L1061.4,221.3 L1061.2,220.3 L1061.0,219.4 L1060.8,218.4 L1060.7,217.4 L1060.5,216.4 L1060.4,215.5 L1060.2,214.5 L1060.1,213.5 L1060.0,212.6 L1059.9,211.6 L1059.8,210.6 L1059.7,209.6 L1059.7,208.7 L1059.6,207.7 L1059.6,206.8 L1059.5,205.8 L1059.5,204.9 L1059.5,203.9 L1059.5,203.0 L1059.5,202.0 L1059.6,201.1 L1059.6,200.2 L1059.6,199.2 L1059.7,198.3 L1059.8,197.4 L1059.8,196.5 L1059.9,195.6 L1060.0,194.7 L1060.2,193.8 L1060.3,192.9 L1060.4,192.0 L1060.6,191.2 L1060.7,190.3 L1060.9,189.5 L1061.1,188.6 L1061.3,187.8 L1061.5,187.0 L1061.7,186.1 L1061.9,185.3 L1062.1,184.5 L1062.4,183.7 L1062.6,183.0 L1062.9,182.2 L1063.2,181.4 L1063.5,180.7 L1063.8,180.0 L1064.1,179.2 L1064.4,178.5 L1064.7,177.8 L1065.0,177.1 L1065.4,176.5 L1065.7,175.8 L1066.1,175.2 L1066.5,174.5 L1066.9,173.9 L1067.2,173.3 L1067.6,172.7 L1068.1,172.1 L1068.5,171.5 L1068.9,171.0 L1069.3,170.4 L1069.8,169.9 L1070.2,169.4 L1070.7,168.9 L1071.2,168.4 L1071.6,167.9 L1072.1,167.5 L1072.6,167.0 L1073.1,166.6 L1073.6,166.2 L1074.1,165.8 L1074.6,165.4 L1075.2,165.0 L1075.7,164.7 L1076.2,164.4 L1076.8,164.1 L1077.3,163.8 L1077.9,163.5 L1078.5,163.2 L1079.0,162.9 L1079.6,162.7 L1080.2,162.5 L1080.8,162.3 L1081.4,162.1 L1081.9,161.9 L1082.5,161.8 L1083.1,161.7 L1083.8,161.5 L1084.4,161.4 L1085.0,161.4 L1085.6,161.3 L1086.2,161.2 L1086.8,161.2 L1087.5,161.2 L1088.1,161.2 L1088.7,161.2 L1089.4,161.2 L1090.0,161.3 L1090.6,161.4 L1091.3,161.5 L1091.9,161.6 L1092.6,161.7 L1093.2,161.8 L1093.9,162.0 L1094.5,162.1 L1095.2,162.3 L1095.8,162.5 L1096.5,162.7 L1097.1,163.0 L1097.8,163.2 L1098.4,163.5 L1099.1,163.8 L1099.7,164.1 L1100.3,164.4 L1101.0,164.7 L1101.6,165.1 L1102.3,165.5 L1102.9,165.8 L1103.6,166.2 L1104.2,166.7 L1104.8,167.1 L1105.5,167.5 L1106.1,168.0 L1106.7,168.5 L1107.3,168.9 L1108.0,169.4 L1108.6,170.0 L1109.2,170.5 L1109.8,171.0 L1110.4,171.6 L1111.0,172.2 L1111.6,172.8 L1112.2,173.4 L1112.8,174.0 L1113.4,174.6 L1113.9,175.2 L1114.5,175.9 L1115.1,176.6 L1115.6,177.2 L1116.2,177.9 L1116.8,178.6 L1117.3,179.3 L1117.8,180.1 L1118.4,180.8 L1118.9,181.5 L1119.4,182.3 L1119.9,183.1 L1120.4,183.9 L1120.9,184.6 L1121.4,185.4 L1121.9,186.3 L1122.4,187.1 L1122.8,187.9 L1123.3,188.7 L1123.7,189.6 L1124.2,190.4 L1124.6,191.3 L1125.0,192.2 L1125.4,193.0 L1125.9,193.9 L1126.3,194.8 L1126.6,195.7 L1127.0,196.6 L1127.4,197.5 L1127.8,198.4 L1128.1,199.4 L1128.5,200.3 L1128.8,201.2 L1129.1,202.1 L1129.4,203.1 L1129.7,204.0 L1130.0,205.0 L1130.3,205.9 L1130.6,206.9 Z" fill="#fff" fill-rule="evenodd" stroke-width="1.5"/>
<polyline points="1058.4,226.4 1057.3,222.2 1056.5,218.0 1055.9,213.8 1055.4,209.6 1055.1,205.5 1055.1,201.4 1055.2,197.3 1055.5,193.4 1056.0,189.6 1056.8,185.9 1057.6,182.3 1058.7,179.0 1060.0,175.8 1061.4,172.8 1063.0,170.0 1064.7,167.4 1066.6,165.1 1068.7,163.1 1070.8,161.2 1073.1,159.7 1075.5,158.5 1078.0,157.5 1080.6,156.8 1083.2,156.4 1085.9,156.3 1088.7,156.5 1091.4,157.0 1094.2,157.7 1097.0,158.8 1099.8,160.1 1102.6,161.7 1105.3,163.6 1108.0,165.8 1110.6,168.1 1113.2,170.8 1115.6,173.6 1118.0,176.7 1120.2,179.9 1122.4,183.3 1124.4,186.9 1126.2,190.6 1127.9,194.5 1129.5,198.5 1130.8,202.5 1132.0,206.6 1133.1,210.8 1133.9,215.0 1134.5,219.2 1135.0,223.4 1135.3,227.5 1135.3,231.6 1135.2,235.7 1134.9,239.6 1134.4,243.4 1133.6,247.1 1132.8,250.7 1131.7,254.0 1130.4,257.2 1129.0,260.2 1127.4,263.0 1125.7,265.6 1123.8,267.9 1121.7,269.9 1119.6,271.8 1117.3,273.3 1114.9,274.5 1112.4,275.5 1109.8,276.2 1107.2,276.6 1104.5,276.7 1101.7,276.5 1099.0,276.0 1096.2,275.3 1093.4,274.2 1090.6,272.9 1087.8,271.3 1085.1,269.4 1082.4,267.2 1079.8,264.9 1077.2,262.2 1074.8,259.4 1072.4,256.3 1070.2,253.1 1068.0,249.7 1066.0,246.1 1064.2,242.4 1062.5,238.5 1060.9,234.5 1059.6,230.5 1058.4,226.4" fill="none" stroke-width="1.25"/>
<path d="M1125.5,180.5 a2.2,2.6 0 1 0 0,5" fill="none" stroke-width="1.3"/>
<path d="M1146.5,180.5 a2.2,2.6 0 1 0 0,5" fill="none" stroke-width="1.3"/>
<path d="M1138.5,227.5 a2.2,2.6 0 1 0 0,5" fill="none" stroke-width="1.3"/>
<path d="M1153.5,247.5 a2.2,2.6 0 1 0 0,5" fill="none" stroke-width="1.3"/>
<polyline points="1114.0,152.0 1119.0,132.0 1126.0,124.0 1128.0,130.0 1122.0,138.0 1119.0,150.0" fill="#fff" stroke-width="1.5"/>
<polygon points="1000.5,230.1 1122.2,197.5 1128.7,221.6 1007.0,254.3" fill="#fff" stroke="none"/>
<line x1="1000.5" y1="230.1" x2="1122.2" y2="197.5" stroke-width="1.5"/>
<line x1="1128.7" y1="221.6" x2="1007.0" y2="254.3" stroke-width="1.5"/>
<polygon points="965.9,239.9 1000.7,230.6 1006.9,253.8 972.1,263.1" fill="#fff" stroke-width="1.5"/>
<polyline points="1065.3,212.8 1065.6,212.7 1065.9,212.7 1066.2,212.8 1066.5,212.9 1066.9,213.1 1067.3,213.4 1067.6,213.6 1068.0,214.0 1068.4,214.4 1068.7,214.9 1069.1,215.4 1069.5,215.9 1069.8,216.5 1070.2,217.2 1070.5,217.8 1070.9,218.5 1071.2,219.3 1071.5,220.0 1071.8,220.8 1072.1,221.6 1072.4,222.5 1072.6,223.3 1072.8,224.1 1073.0,225.0 1073.2,225.8 1073.4,226.7 1073.5,227.5 1073.6,228.3 1073.7,229.1 1073.8,229.9 1073.8,230.7 1073.8,231.4 1073.8,232.1 1073.8,232.7 1073.7,233.4 1073.6,233.9 1073.5,234.5 1073.3,235.0 1073.2,235.4 1073.0,235.8 1072.8,236.1 1072.5,236.4 1072.3,236.6 1072.0,236.8 1071.7,236.9" fill="none" stroke-width="1.3"/>
<polyline points="1015.0,226.2 1015.3,226.2 1015.6,226.2 1016.0,226.3 1016.3,226.4 1016.7,226.6 1017.0,226.8 1017.4,227.1 1017.8,227.5 1018.1,227.9 1018.5,228.3 1018.9,228.8 1019.2,229.4 1019.6,230.0 1020.0,230.6 1020.3,231.3 1020.6,232.0 1021.0,232.7 1021.3,233.5 1021.6,234.3 1021.9,235.1 1022.1,235.9 1022.4,236.7 1022.6,237.6 1022.8,238.4 1023.0,239.3 1023.1,240.1 1023.3,241.0 1023.4,241.8 1023.5,242.6 1023.5,243.4 1023.6,244.1 1023.6,244.8 1023.6,245.5 1023.5,246.2 1023.5,246.8 1023.4,247.4 1023.2,247.9 1023.1,248.4 1022.9,248.9 1022.7,249.3 1022.5,249.6 1022.3,249.9 1022.1,250.1 1021.8,250.3 1021.5,250.4" fill="none" stroke-width="1.3"/>
<polyline points="1018.9,225.2 1019.2,225.1 1019.5,225.2 1019.8,225.2 1020.2,225.3 1020.5,225.5 1020.9,225.8 1021.3,226.1 1021.6,226.4 1022.0,226.8 1022.4,227.3 1022.7,227.8 1023.1,228.3 1023.5,228.9 1023.8,229.6 1024.2,230.2 1024.5,231.0 1024.8,231.7 1025.1,232.5 1025.4,233.2 1025.7,234.1 1026.0,234.9 1026.2,235.7 1026.5,236.6 1026.7,237.4 1026.8,238.2 1027.0,239.1 1027.1,239.9 1027.3,240.7 1027.3,241.5 1027.4,242.3 1027.4,243.1 1027.4,243.8 1027.4,244.5 1027.4,245.2 1027.3,245.8 1027.2,246.4 1027.1,246.9 1027.0,247.4 1026.8,247.8 1026.6,248.2 1026.4,248.6 1026.2,248.8 1025.9,249.1 1025.6,249.2 1025.4,249.3" fill="none" stroke-width="1.3"/>
<polyline points="996.8,231.6 997.1,231.6 997.4,231.6 997.7,231.7 998.0,231.8 998.4,232.0 998.7,232.2 999.1,232.5 999.4,232.8 999.8,233.2 1000.1,233.6 1000.5,234.1 1000.8,234.7 1001.2,235.2 1001.5,235.8 1001.9,236.5 1002.2,237.2 1002.5,237.9 1002.8,238.6 1003.1,239.4 1003.4,240.1 1003.6,240.9 1003.9,241.7 1004.1,242.5 1004.3,243.3 1004.4,244.2 1004.6,245.0 1004.7,245.8 1004.8,246.6 1004.9,247.3 1005.0,248.1 1005.0,248.8 1005.0,249.5 1005.0,250.2 1005.0,250.8 1004.9,251.4 1004.8,252.0 1004.7,252.5 1004.6,252.9 1004.4,253.4 1004.2,253.7 1004.0,254.1 1003.8,254.3 1003.5,254.5 1003.3,254.7 1003.0,254.8" fill="none" stroke-width="1.3"/>
<polyline points="999.7,230.9 1000.0,230.8 1000.3,230.8 1000.6,230.9 1000.9,231.0 1001.3,231.2 1001.6,231.4 1002.0,231.7 1002.3,232.0 1002.7,232.4 1003.0,232.9 1003.4,233.3 1003.7,233.9 1004.1,234.4 1004.4,235.1 1004.8,235.7 1005.1,236.4 1005.4,237.1 1005.7,237.8 1006.0,238.6 1006.3,239.4 1006.5,240.1 1006.8,241.0 1007.0,241.8 1007.2,242.6 1007.3,243.4 1007.5,244.2 1007.6,245.0 1007.7,245.8 1007.8,246.5 1007.9,247.3 1007.9,248.0 1007.9,248.7 1007.9,249.4 1007.9,250.0 1007.8,250.6 1007.7,251.2 1007.6,251.7 1007.5,252.2 1007.3,252.6 1007.1,253.0 1006.9,253.3 1006.7,253.6 1006.4,253.8 1006.2,253.9 1005.9,254.0" fill="none" stroke-width="1.3"/>
<polyline points="974.6,237.6 974.9,237.5 975.2,237.5 975.5,237.6 975.8,237.7 976.2,237.9 976.5,238.1 976.9,238.4 977.2,238.8 977.6,239.2 977.9,239.6 978.3,240.1 978.6,240.6 979.0,241.2 979.3,241.8 979.7,242.4 980.0,243.1 980.3,243.8 980.6,244.6 980.9,245.3 981.1,246.1 981.4,246.9 981.6,247.7 981.9,248.5 982.1,249.3 982.2,250.1 982.4,250.9 982.5,251.7 982.6,252.5 982.7,253.3 982.8,254.0 982.8,254.8 982.8,255.5 982.8,256.1 982.7,256.8 982.7,257.4 982.6,257.9 982.5,258.4 982.3,258.9 982.2,259.3 982.0,259.7 981.8,260.0 981.6,260.3 981.3,260.5 981.1,260.7 980.8,260.8" fill="none" stroke-width="1.3"/>
<line x1="979.6" y1="240.7" x2="998.0" y2="235.7" stroke-width="1.25"/>
<line x1="979.6" y1="243.9" x2="998.0" y2="238.9" stroke-width="1.25"/>
<line x1="979.6" y1="247.1" x2="998.0" y2="242.1" stroke-width="1.25"/>
<line x1="979.6" y1="250.3" x2="998.0" y2="245.3" stroke-width="1.25"/>
<line x1="979.6" y1="253.5" x2="998.0" y2="248.5" stroke-width="1.25"/>
<line x1="979.6" y1="256.7" x2="998.0" y2="251.7" stroke-width="1.25"/>
<ellipse cx="969.0" cy="251.5" rx="6.0" ry="12.0" transform="rotate(-15 969.0 251.5)" fill="#fff" stroke-width="1.5" />
<ellipse cx="969.5" cy="251.5" rx="3.3" ry="5.5" transform="rotate(-15 969.5 251.5)" fill="none" stroke-width="1.5" />
<ellipse cx="922.5" cy="265.0" rx="15.5" ry="25.0" transform="rotate(-15 922.5 265.0)" fill="#fff" stroke-width="1.5" />
<ellipse cx="924.0" cy="265.0" rx="12.7" ry="20.5" transform="rotate(-15 924.0 265.0)" fill="none" stroke-width="1.5" />
<circle cx="920.6" cy="243.0" r="1" fill="#000" stroke="none"/>
<circle cx="926.2" cy="244.7" r="1" fill="#000" stroke="none"/>
<circle cx="931.5" cy="249.3" r="1" fill="#000" stroke="none"/>
<circle cx="935.7" cy="256.2" r="1" fill="#000" stroke="none"/>
<circle cx="938.2" cy="264.4" r="1" fill="#000" stroke="none"/>
<circle cx="938.6" cy="272.7" r="1" fill="#000" stroke="none"/>
<circle cx="936.9" cy="279.9" r="1" fill="#000" stroke="none"/>
<circle cx="933.3" cy="284.9" r="1" fill="#000" stroke="none"/>
<polygon points="878.4,227.3 880.4,226.9 882.5,226.7 884.7,226.8 886.8,227.0 889.0,227.5 891.2,228.2 893.4,229.2 895.5,230.3 897.7,231.7 899.8,233.2 901.9,235.0 903.9,237.0 905.8,239.1 907.7,241.4 909.5,243.9 911.2,246.5 912.8,249.2 914.3,252.1 915.7,255.0 917.0,258.1 918.1,261.2 919.1,264.4 920.0,267.6 920.7,270.9 921.3,274.2 921.7,277.4 922.0,280.7 922.1,283.9 922.1,287.1 921.9,290.2 921.6,293.2 921.1,296.2 920.5,299.0 919.7,301.7 918.8,304.3 917.8,306.7 916.6,308.9 915.3,311.0 913.9,312.9 912.3,314.6 910.7,316.2 909.0,317.5 907.1,318.5 905.2,319.4 903.3,320.1 898.4,321.4 896.4,321.8 894.3,322.0 892.2,322.0 890.0,321.7 887.8,321.2 885.7,320.5 883.5,319.6 881.3,318.4 879.2,317.0 877.0,315.5 875.0,313.7 873.0,311.7 871.0,309.6 869.1,307.3 867.3,304.9 865.6,302.2 864.0,299.5 862.5,296.7 861.1,293.7 859.8,290.6 858.7,287.5 857.7,284.3 856.8,281.1 856.1,277.8 855.5,274.5 855.1,271.3 854.8,268.0 854.7,264.8 854.7,261.6 854.9,258.5 855.2,255.5 855.7,252.5 856.3,249.7 857.1,247.0 858.0,244.4 859.1,242.0 860.2,239.8 861.5,237.7 863.0,235.8 864.5,234.1 866.1,232.6 867.9,231.3 869.7,230.2 871.6,229.3 873.6,228.6" fill="#fff" stroke-width="1.5"/>
<polygon points="913.5,267.6 913.8,268.4 913.9,269.2 914.1,270.0 914.3,270.7 914.5,271.5 914.6,272.3 914.8,273.1 914.9,273.9 915.1,274.7 915.2,275.4 915.3,276.2 915.4,277.0 915.5,277.8 915.6,278.6 915.7,279.4 915.8,280.2 915.8,280.9 915.9,281.7 915.9,282.5 916.0,283.3 916.0,284.0 916.0,284.8 916.0,285.6 916.0,286.3 916.0,287.1 916.0,287.8 916.0,288.6 915.9,289.3 915.9,290.1 915.8,290.8 915.7,291.6 915.7,292.3 915.6,293.0 915.5,293.7 915.4,294.4 915.3,295.1 915.2,295.8 915.0,296.5 914.9,297.2 914.8,297.9 914.6,298.6 914.4,299.2 914.3,299.9 914.1,300.6 913.9,301.2 913.7,301.8 913.5,302.5 913.3,303.1 913.1,303.7 912.8,304.3 912.6,304.9 912.3,305.5 912.1,306.0 911.8,306.6 911.6,307.2 911.3,307.7 911.0,308.2 910.7,308.8 910.4,309.3 910.1,309.8 909.8,310.3 909.4,310.8 909.1,311.2 908.8,311.7 908.4,312.2 908.1,312.6 907.7,313.0 907.4,313.4 907.0,313.8 906.6,314.2 906.2,314.6 905.8,315.0 905.4,315.3 905.0,315.7 904.6,316.0 904.2,316.3 903.8,316.6 905.6,322.4 905.2,322.7 904.7,323.0 904.2,323.3 903.7,323.6 903.2,323.8 902.6,324.1 902.1,324.3 901.6,324.5 901.1,324.7 900.5,324.9 900.0,325.1 899.5,325.2 898.9,325.4 898.4,325.5 896.4,319.8 896.0,319.8 895.5,319.9 895.0,320.0 894.5,320.0 894.0,320.0 893.4,320.0 892.9,320.0 892.4,320.0 891.9,320.0 891.4,320.0 890.9,319.9 890.4,319.8 889.9,319.7 889.3,319.6 888.8,319.5 888.3,319.4 887.8,319.3 887.2,319.1 886.7,319.0 886.2,318.8 885.7,318.6 885.1,318.4 884.6,318.2 884.1,317.9 883.6,317.7 883.1,317.4 882.5,317.2 882.0,316.9 881.5,316.6 881.0,316.3 880.5,316.0 880.0,315.6 879.4,315.3 878.9,314.9 878.4,314.6 877.9,314.2 877.4,313.8 876.9,313.4 876.4,313.0 875.9,312.5 875.4,312.1 874.9,311.6 874.5,311.2 874.0,310.7 873.5,310.2 873.0,309.7 872.5,309.2 872.1,308.7 871.6,308.2 871.2,307.6 870.7,307.1 870.3,306.5 869.8,306.0 869.4,305.4 868.9,304.8 868.5,304.2 868.1,303.6 867.7,303.0 867.3,302.4 866.9,301.7 866.5,301.1 866.1,300.5 865.7,299.8 865.3,299.2 864.9,298.5 864.5,297.8 864.2,297.1 863.8,296.4 863.5,295.8 863.1,295.0 862.8,294.3 862.5,293.6 862.2,292.9 861.8,292.2 861.5,291.5 861.2,290.7 860.9,290.0 860.7,289.2 860.4,288.5 860.1,287.7 859.8,287.0 859.6,286.2 859.3,285.5 859.1,284.7 858.9,283.9 858.7,283.2 858.5,282.4 858.2,281.6 858.1,280.8 857.9,280.0 857.7,279.3 857.5,278.5 857.4,277.7 857.2,276.9 857.1,276.1 856.9,275.3 856.8,274.6 856.7,273.8 856.6,273.0 856.5,272.2 856.4,271.4 856.3,270.6 856.2,269.8 856.2,269.1 856.1,268.3 856.1,267.5 856.0,266.7 856.0,266.0 856.0,265.2 856.0,264.4 856.0,263.7 856.0,262.9 856.0,262.2 856.0,261.4 856.1,260.7 856.1,259.9 856.2,259.2 856.3,258.4 856.3,257.7 856.4,257.0 856.5,256.3 856.6,255.6 856.7,254.9 856.8,254.2 857.0,253.5 857.1,252.8 857.2,252.1 857.4,251.4 857.6,250.8 857.7,250.1 857.9,249.4 858.1,248.8 858.3,248.2 858.5,247.5 858.7,246.9 858.9,246.3 859.2,245.7 859.4,245.1 859.7,244.5 859.9,244.0 860.2,243.4 860.4,242.8 860.7,242.3 861.0,241.8 861.3,241.2 861.6,240.7 861.9,240.2 862.2,239.7 862.6,239.2 862.9,238.8 863.2,238.3 863.6,237.8 863.9,237.4 864.3,237.0 864.6,236.6 865.0,236.2 865.4,235.8 865.8,235.4 866.2,235.0 866.6,234.7 867.0,234.3 867.4,234.0 867.8,233.7 868.2,233.4 866.4,227.6 866.8,227.3 867.3,227.0 867.8,226.7 868.3,226.4 868.8,226.2 869.4,225.9 869.9,225.7 870.4,225.5 870.9,225.3 871.5,225.1 872.0,224.9 872.5,224.8 873.1,224.6 873.6,224.5 875.6,230.2 876.0,230.2 876.5,230.1 877.0,230.0 877.5,230.0 878.0,230.0 878.6,230.0 879.1,230.0 879.6,230.0 880.1,230.0 880.6,230.0 881.1,230.1 881.6,230.2 882.1,230.3 882.7,230.4 883.2,230.5 883.7,230.6 884.2,230.7 884.8,230.9 885.3,231.0 885.8,231.2 886.3,231.4 886.9,231.6 887.4,231.8 887.9,232.1 888.4,232.3 888.9,232.6 889.5,232.8 890.0,233.1 890.5,233.4 891.0,233.7 891.5,234.0 892.0,234.4 892.6,234.7 893.1,235.1 893.6,235.4 894.1,235.8 894.6,236.2 895.1,236.6 895.6,237.0 896.1,237.5 896.6,237.9 897.1,238.4 897.5,238.8 898.0,239.3 898.5,239.8 899.0,240.3 899.5,240.8 899.9,241.3 900.4,241.8 900.8,242.4 901.3,242.9 901.7,243.5 902.2,244.0 902.6,244.6 903.1,245.2 903.5,245.8 903.9,246.4 904.3,247.0 904.7,247.6 905.1,248.3 905.5,248.9 905.9,249.5 906.3,250.2 906.7,250.8 907.1,251.5 907.5,252.2 907.8,252.9 908.2,253.6 908.5,254.2 908.9,255.0 909.2,255.7 909.5,256.4 909.8,257.1 910.2,257.8 910.5,258.5 910.8,259.3 911.1,260.0 911.3,260.8 911.6,261.5 911.9,262.3 912.2,263.0 912.4,263.8 912.7,264.5 912.9,265.3 913.1,266.1 913.3,266.8" fill="#fff" stroke-width="1.5"/>
<ellipse cx="890.0" cy="274.0" rx="21.1" ry="34.0" transform="rotate(-15 890.0 274.0)" fill="#fff" stroke-width="1.5" />
<polyline points="881.0,235.8 882.7,236.0 884.6,236.3 886.4,236.8 888.2,237.5 890.0,238.3 891.8,239.4 893.6,240.6 895.3,242.0 897.0,243.5 898.7,245.2 900.3,247.1 901.8,249.1 903.3,251.2 904.7,253.4 906.0,255.8 907.2,258.2 908.3,260.7 909.3,263.3 910.2,265.9 911.0,268.6 911.6,271.3 912.2,274.0 912.6,276.8 912.9,279.5 913.1,282.2 913.1,284.9 913.0,287.5 912.8,290.0 912.5,292.5 912.0,294.9 911.4,297.2 910.7,299.4 909.9,301.5 909.0,303.4 907.9,305.3 906.8,306.9 905.6,308.4 904.2,309.8 902.8,310.9 901.4,311.9 899.8,312.8 898.2,313.4 896.5,313.8 894.8,314.1 893.0,314.2" fill="none" stroke-width="1.4"/>
<polyline points="882.5,232.4 884.4,232.5 886.4,232.9 888.3,233.4 890.3,234.1 892.2,235.1 894.2,236.2 896.1,237.5 898.0,239.0 899.8,240.7 901.6,242.5 903.3,244.5 904.9,246.6 906.5,248.9 908.0,251.3 909.4,253.8 910.7,256.4 911.9,259.1 913.0,261.9 913.9,264.7 914.8,267.6 915.5,270.5 916.0,273.4 916.5,276.4 916.8,279.3 917.0,282.2 917.1,285.1 917.0,287.9 916.7,290.7 916.4,293.3 915.9,295.9 915.3,298.4 914.5,300.7 913.6,303.0 912.6,305.1 911.5,307.0" fill="none" stroke-width="1.25"/>
<line x1="869.5" y1="232.5" x2="871.6" y2="238.1" stroke-width="1.5"/>
<line x1="874.1" y1="230.6" x2="875.6" y2="236.4" stroke-width="1.5"/>
<polygon points="846.5,235.6 848.6,235.1 850.8,234.9 853.0,234.9 855.3,235.2 857.5,235.7 859.8,236.5 862.1,237.4 864.3,238.6 866.6,240.1 868.8,241.7 870.9,243.5 873.0,245.6 875.1,247.8 877.0,250.2 878.9,252.8 880.7,255.5 882.4,258.3 883.9,261.3 885.4,264.4 886.7,267.6 887.9,270.8 888.9,274.2 889.8,277.5 890.6,280.9 891.2,284.3 891.6,287.8 891.9,291.2 892.1,294.5 892.0,297.8 891.9,301.1 891.5,304.2 891.0,307.3 890.4,310.2 889.6,313.0 888.6,315.7 887.5,318.2 886.3,320.6 884.9,322.7 883.5,324.7 881.9,326.5 880.1,328.1 878.3,329.4 876.4,330.6 874.5,331.5 872.4,332.2 856.9,336.3 854.8,336.7 852.6,336.9 850.4,336.9 848.2,336.6 845.9,336.1 843.6,335.4 841.4,334.4 839.1,333.2 836.9,331.8 834.7,330.2 832.5,328.3 830.4,326.3 828.4,324.1 826.4,321.7 824.5,319.1 822.8,316.4 821.1,313.5 819.5,310.6 818.1,307.5 816.8,304.3 815.6,301.0 814.5,297.7 813.6,294.3 812.9,290.9 812.3,287.5 811.8,284.1 811.5,280.7 811.4,277.3 811.4,274.0 811.6,270.8 811.9,267.6 812.4,264.6 813.1,261.6 813.9,258.8 814.8,256.2 815.9,253.6 817.2,251.3 818.5,249.1 820.0,247.1 821.6,245.4 823.3,243.8 825.1,242.4 827.0,241.3 829.0,240.4 831.1,239.7" fill="#fff" stroke-width="1.5"/>
<polyline points="837.0,239.3 835.7,233.8 836.6,233.1 839.5,237.6 840.4,237.1 839.5,231.5 840.5,231.1 843.1,236.0 844.0,235.7 843.6,230.1 844.7,229.9 846.9,235.1 847.9,235.0 847.9,229.5 849.1,229.5 850.9,235.0 851.9,235.0 852.4,229.8 853.6,230.0 855.0,235.6 856.0,235.9 857.0,231.0 858.1,231.4 859.1,237.0 860.1,237.5 861.5,233.0 862.7,233.6 863.2,239.2 864.2,239.8 866.0,235.7 867.1,236.5 867.2,242.0 868.2,242.8 870.4,239.3 871.5,240.3 871.0,245.5 872.0,246.5 874.6,243.5 875.6,244.7 874.7,249.7 875.5,250.8 878.5,248.4 879.4,249.7 878.0,254.3 878.8,255.6 882.0,253.8 882.9,255.3 881.1,259.5 881.8,260.8 885.2,259.8 885.9,261.3 883.8,265.0 884.4,266.4 888.0,266.1 888.6,267.7 886.0,270.8 886.5,272.3 890.2,272.7 890.7,274.4 887.9,276.9 888.2,278.4 892.0,279.4 892.3,281.2 889.2,283.0 889.5,284.6 893.2,286.3 893.4,288.0 890.1,289.2 890.2,290.7 893.9,293.1 893.9,294.8 890.4,295.3 890.4,296.8 894.0,299.8 893.9,301.4 890.2,301.2 890.1,302.7 893.5,306.2 893.3,307.8 889.5,306.9 889.3,308.3 892.4,312.3 892.1,313.8 888.3,312.2 888.0,313.5 890.9,318.0 890.4,319.3 886.7,317.1 886.2,318.2 888.7,323.1 888.1,324.3 884.6,321.5 884.0,322.5 886.1,327.7 885.4,328.7 882.0,325.2 881.3,326.1 883.1,331.5 882.3,332.4 879.1,328.4 878.3,329.1 879.7,334.7 878.7,335.3 875.8,330.9 874.9,331.4 875.9,337.0 874.9,337.4 872.2,332.6 871.3,332.9 871.8,338.5 870.7,338.7 868.5,333.6 867.5,333.7 867.5,339.2 866.4,339.2 864.5,333.8 863.5,333.7 863.0,339.0 861.9,338.8 860.4,333.2 859.4,333.0" fill="#fff" stroke-width="1.4"/>
<line x1="853.6" y1="232.9" x2="840.2" y2="236.6" stroke-width="1.25"/>
<line x1="860.8" y1="235.5" x2="847.4" y2="239.1" stroke-width="1.25"/>
<line x1="867.9" y1="240.1" x2="854.5" y2="243.8" stroke-width="1.25"/>
<line x1="874.5" y1="246.8" x2="861.1" y2="250.4" stroke-width="1.25"/>
<line x1="880.4" y1="255.0" x2="867.0" y2="258.7" stroke-width="1.25"/>
<line x1="885.3" y1="264.6" x2="871.8" y2="268.2" stroke-width="1.25"/>
<line x1="889.0" y1="275.0" x2="875.5" y2="278.6" stroke-width="1.25"/>
<line x1="891.2" y1="285.8" x2="877.8" y2="289.4" stroke-width="1.25"/>
<line x1="892.0" y1="296.5" x2="878.6" y2="300.2" stroke-width="1.25"/>
<line x1="891.3" y1="306.8" x2="877.9" y2="310.4" stroke-width="1.25"/>
<line x1="889.1" y1="316.0" x2="875.7" y2="319.6" stroke-width="1.25"/>
<line x1="885.6" y1="323.9" x2="872.1" y2="327.5" stroke-width="1.25"/>
<line x1="880.8" y1="330.0" x2="867.3" y2="333.6" stroke-width="1.25"/>
<line x1="874.9" y1="334.1" x2="861.5" y2="337.8" stroke-width="1.25"/>
<line x1="868.4" y1="336.1" x2="854.9" y2="339.7" stroke-width="1.25"/>
<ellipse cx="844.0" cy="288.0" rx="31.0" ry="50.0" transform="rotate(-15 844.0 288.0)" fill="#fff" stroke-width="1.5" />
<ellipse cx="849.0" cy="287.0" rx="17.8" ry="35.5" transform="rotate(-15 849.0 287.0)" fill="#fff" stroke-width="1.5" />
<polyline points="848.8,255.0 849.7,255.7 850.7,256.5 851.7,257.4 852.6,258.5 853.6,259.7 854.6,261.0 855.6,262.4 856.5,264.0 857.5,265.7 858.4,267.5 859.3,269.3 860.1,271.3 861.0,273.3 861.8,275.4 862.5,277.5 863.2,279.7 863.9,281.9 864.4,284.1 865.0,286.4 865.5,288.6 865.9,290.8 866.2,293.0 866.5,295.2 866.8,297.3 866.9,299.3 867.0,301.3 867.0,303.3 867.0,305.1 866.9,306.9 866.7,308.5 866.5,310.0 866.2,311.4 865.8,312.7 865.3,313.9 864.8,314.9 864.3,315.8 863.7,316.6 863.0,317.1 862.3,317.6 861.5,317.9" fill="none" stroke-width="1.4"/>
<polygon points="796.8,260.6 798.4,260.3 799.9,260.2 801.5,260.2 803.1,260.4 804.8,260.8 806.4,261.3 808.1,262.0 809.7,262.9 811.3,263.9 812.9,265.1 814.4,266.4 815.9,267.9 817.4,269.5 818.8,271.2 820.2,273.0 821.5,275.0 822.7,277.0 823.8,279.2 824.8,281.4 825.8,283.7 826.6,286.0 827.4,288.4 828.0,290.9 828.6,293.3 829.0,295.8 829.3,298.2 829.5,300.7 829.6,303.1 829.6,305.5 829.5,307.8 829.2,310.1 828.9,312.3 828.4,314.4 827.8,316.4 827.2,318.3 826.4,320.1 825.5,321.8 824.5,323.4 823.4,324.8 822.3,326.1 821.1,327.2 819.8,328.2 818.4,329.0 817.0,329.7 815.5,330.2 805.8,332.8 804.3,333.1 802.7,333.2 801.1,333.2 799.5,333.0 797.9,332.7 796.2,332.1 794.6,331.4 793.0,330.6 791.4,329.5 789.8,328.4 788.2,327.0 786.7,325.6 785.2,324.0 783.8,322.2 782.5,320.4 781.2,318.4 780.0,316.4 778.9,314.2 777.8,312.0 776.9,309.7 776.0,307.4 775.3,305.0 774.6,302.6 774.1,300.1 773.7,297.7 773.3,295.2 773.1,292.7 773.0,290.3 773.0,287.9 773.2,285.6 773.4,283.3 773.8,281.1 774.2,279.0 774.8,277.0 775.5,275.1 776.3,273.3 777.2,271.6 778.2,270.0 779.2,268.6 780.4,267.3 781.6,266.2 782.9,265.2 784.3,264.4 785.7,263.7 787.2,263.2" fill="#fff" stroke-width="1.5"/>
<polyline points="790.1,262.5 791.6,262.1 793.2,262.0 794.8,262.0 796.4,262.2 798.0,262.6 799.7,263.1 801.3,263.8 802.9,264.7 804.5,265.7 806.1,266.9 807.7,268.2 809.2,269.7 810.7,271.3 812.1,273.0 813.4,274.8 814.7,276.8 815.9,278.8 817.0,281.0 818.1,283.2 819.0,285.5 819.9,287.8 820.6,290.2 821.3,292.7 821.8,295.1 822.2,297.6 822.6,300.0 822.8,302.5 822.9,304.9 822.9,307.3 822.7,309.6 822.5,311.9 822.1,314.1 821.7,316.2 821.1,318.2 820.4,320.1 819.6,322.0 818.7,323.7 817.7,325.2 816.7,326.6 815.5,327.9 814.3,329.1 813.0,330.0 811.6,330.9 810.2,331.5 808.7,332.0" fill="none" stroke-width="1.25"/>
<line x1="789.6" y1="263.3" x2="799.2" y2="260.7" stroke-width="1.3"/>
<line x1="794.3" y1="263.6" x2="804.0" y2="261.0" stroke-width="1.3"/>
<line x1="799.2" y1="265.5" x2="808.8" y2="262.9" stroke-width="1.3"/>
<line x1="803.9" y1="268.7" x2="813.6" y2="266.1" stroke-width="1.3"/>
<line x1="808.3" y1="273.2" x2="818.0" y2="270.6" stroke-width="1.3"/>
<line x1="812.2" y1="278.8" x2="821.8" y2="276.3" stroke-width="1.3"/>
<line x1="815.4" y1="285.3" x2="825.0" y2="282.7" stroke-width="1.3"/>
<line x1="817.8" y1="292.3" x2="827.4" y2="289.7" stroke-width="1.3"/>
<line x1="819.2" y1="299.6" x2="828.9" y2="297.0" stroke-width="1.3"/>
<line x1="819.7" y1="306.7" x2="829.3" y2="304.2" stroke-width="1.3"/>
<line x1="819.1" y1="313.5" x2="828.8" y2="311.0" stroke-width="1.3"/>
<line x1="817.6" y1="319.7" x2="827.2" y2="317.1" stroke-width="1.3"/>
<line x1="815.1" y1="324.8" x2="824.7" y2="322.3" stroke-width="1.3"/>
<line x1="811.8" y1="328.9" x2="821.5" y2="326.3" stroke-width="1.3"/>
<line x1="807.9" y1="331.5" x2="817.5" y2="328.9" stroke-width="1.3"/>
<ellipse cx="796.5" cy="298.0" rx="22.3" ry="36.0" transform="rotate(-15 796.5 298.0)" fill="#fff" stroke-width="1.5" />
<ellipse cx="796.0" cy="298.7" rx="14.9" ry="24.0" transform="rotate(-15 796.0 298.7)" fill="#fff" stroke-width="1.5" />
<polyline points="809.6,319.8 808.6,319.9 807.5,319.8 806.4,319.7 805.3,319.4 804.2,319.0 803.1,318.5 802.0,317.9 800.9,317.1 799.8,316.3 798.8,315.4 797.8,314.3 796.8,313.2 795.9,312.0 795.0,310.8 794.1,309.4 793.4,308.0 792.6,306.5 791.9,305.0 791.3,303.4 790.8,301.8 790.3,300.2 789.9,298.6 789.6,296.9 789.3,295.3 789.2,293.6 789.1,292.0 789.0,290.3 789.1,288.8 789.2,287.2 789.4,285.7 789.7,284.3 790.1,282.9 790.5,281.5 791.0,280.3 791.6,279.1 792.2,278.0 792.9,277.0 793.7,276.1 794.5,275.4 795.4,274.7 796.3,274.1 797.3,273.6" fill="none" stroke-width="1.3"/>
<line x1="799.6" y1="322.2" x2="808.3" y2="319.9" stroke-width="1.3"/>
<line x1="796.4" y1="321.6" x2="805.1" y2="319.3" stroke-width="1.3"/>
<line x1="793.1" y1="320.1" x2="801.8" y2="317.7" stroke-width="1.3"/>
<line x1="790.0" y1="317.6" x2="798.7" y2="315.2" stroke-width="1.3"/>
<line x1="787.1" y1="314.3" x2="795.8" y2="311.9" stroke-width="1.3"/>
<line x1="784.6" y1="310.2" x2="793.3" y2="307.9" stroke-width="1.3"/>
<line x1="782.6" y1="305.7" x2="791.3" y2="303.4" stroke-width="1.3"/>
<line x1="781.2" y1="300.9" x2="789.9" y2="298.6" stroke-width="1.3"/>
<line x1="780.5" y1="296.0" x2="789.2" y2="293.7" stroke-width="1.3"/>
<line x1="780.4" y1="291.2" x2="789.1" y2="288.9" stroke-width="1.3"/>
<line x1="781.0" y1="286.7" x2="789.7" y2="284.4" stroke-width="1.3"/>
<line x1="782.3" y1="282.8" x2="790.9" y2="280.5" stroke-width="1.3"/>
<line x1="784.1" y1="279.6" x2="792.8" y2="277.2" stroke-width="1.3"/>
<line x1="786.5" y1="277.1" x2="795.2" y2="274.8" stroke-width="1.3"/>
<polyline points="798.2,279.2 798.8,278.6 799.4,278.1 800.1,277.6 800.8,277.3 801.5,277.1 802.3,276.9 803.0,276.8 803.8,276.9 804.6,277.0 805.5,277.2 806.3,277.6 807.1,278.0 807.9,278.5 808.8,279.1 809.6,279.7 810.4,280.5 811.1,281.3 811.9,282.2 812.6,283.2 813.3,284.2 814.0,285.3 814.6,286.5 815.2,287.7 815.8,288.9 816.3,290.2 816.7,291.5 817.1,292.9 817.5,294.2 817.8,295.6 818.1,296.9 818.3,298.3 818.4,299.6 818.5,301.0 818.5,302.3 818.5,303.6 818.4,304.8 818.3,306.0 818.1,307.2 817.8,308.3 817.5,309.3 817.1,310.3 816.7,311.2 816.3,312.1 815.7,312.9 815.2,313.6 814.6,314.2 814.0,314.7 813.3,315.1 812.6,315.4 811.9,315.7 811.1,315.8 810.3,315.9 809.5,315.9 808.7,315.7 807.9,315.5" fill="none" stroke-width="1.3"/>
<polyline points="803.4,277.7 803.9,277.3 804.5,277.1 805.1,277.0 805.7,276.9 806.3,276.9 806.9,277.0 807.6,277.2 808.2,277.5 808.9,277.9 809.6,278.4 810.2,278.9 810.9,279.5 811.6,280.3 812.2,281.0 812.9,281.9 813.5,282.8 814.1,283.8 814.7,284.8 815.2,285.9 815.8,287.0 816.3,288.2 816.7,289.4 817.2,290.6 817.6,291.9 818.0,293.2 818.3,294.4 818.6,295.7 818.8,297.0 819.0,298.3 819.1,299.6 819.2,300.8 819.3,302.0 819.3,303.2 819.3,304.4 819.2,305.5 819.1,306.5 818.9,307.5 818.7,308.5 818.4,309.3 818.1,310.2 817.7,310.9 817.3,311.6 816.9,312.1 816.5,312.6 816.0,313.1" fill="none" stroke-width="1.25"/>
<polygon points="785.6,300.7 787.6,301.6 787.9,303.0 786.6,304.6 786.9,306.0 788.8,307.2 789.0,308.6 787.6,309.9 787.8,311.3 789.6,312.8 789.7,314.2 788.2,315.3 788.3,316.6 790.0,318.3 790.1,319.7 788.4,320.5 788.4,321.8 790.1,323.8 790.1,325.1 788.3,325.6 788.2,326.9 789.8,329.1 789.6,330.4 787.8,330.6 787.6,331.8 789.0,334.2 788.8,335.4 786.9,335.3 786.6,336.4 787.9,338.9 787.6,340.1 785.7,339.7 785.3,340.7 786.5,343.4 786.1,344.5 784.1,343.8 783.7,344.7 784.7,347.5 784.2,348.5 782.2,347.5 781.7,348.3 782.5,351.2 781.9,352.0 780.1,350.7 779.5,351.5 780.1,354.4 779.4,355.1 777.6,353.6 776.9,354.2 777.3,357.1 776.6,357.7 774.9,355.9 774.1,356.4 774.4,359.3 773.6,359.7 771.9,357.7 771.1,358.1 771.2,360.9 770.3,361.2 768.8,359.0 768.0,359.2 767.8,362.0 766.9,362.1 765.5,359.7 764.6,359.8 764.2,362.4 763.3,362.5 762.1,359.9 761.2,359.9 760.6,362.3 759.7,362.2 758.6,359.5 757.7,359.3 756.9,361.6 756.0,361.4 755.0,358.6 754.1,358.3 753.2,360.4 752.2,360.0 751.5,357.1 750.6,356.7 749.5,358.5 748.5,358.0 748.0,355.1 747.1,354.5 745.8,356.2 744.9,355.5 744.5,352.6 743.7,351.9 742.2,353.3 741.4,352.5 741.2,349.6 740.4,348.8 738.8,349.9 738.0,349.0 738.0,346.2 737.2,345.3 735.6,346.1 734.8,345.1 735.0,342.4 734.3,341.3 732.5,341.9 731.8,340.7 732.2,338.2 731.5,337.1 729.7,337.3 729.0,336.1 729.6,333.6 729.0,332.5 727.2,332.4 726.6,331.1 727.4,328.8 726.8,327.6 724.9,327.2 724.4,325.9 725.4,323.8 724.9,322.5 723.0,321.9 722.6,320.5 723.7,318.7 723.4,317.3 721.4,316.4 721.1,315.0 722.4,313.4 722.1,312.0 720.2,310.8 720.0,309.4 721.4,308.1 721.2,306.7 719.4,305.2 719.3,303.8 720.8,302.7 720.7,301.4 719.0,299.7 718.9,298.3 720.6,297.5 720.6,296.2 718.9,294.2 718.9,292.9 720.7,292.4 720.8,291.1 719.2,288.9 719.4,287.6 721.2,287.4 721.4,286.2 720.0,283.8 720.2,282.6 722.1,282.7 722.4,281.6 721.1,279.1 721.4,277.9 723.3,278.3 723.7,277.3 722.5,274.6 722.9,273.5 724.9,274.2 725.3,273.3 724.3,270.5 724.8,269.5 726.8,270.5 727.3,269.7 726.5,266.8 727.1,266.0 728.9,267.3 729.5,266.5 728.9,263.6 729.6,262.9 731.4,264.4 732.1,263.8 731.7,260.9 732.4,260.3 734.1,262.1 734.9,261.6 734.6,258.7 735.4,258.3 737.1,260.3 737.9,259.9 737.8,257.1 738.7,256.8 740.2,259.0 741.0,258.8 741.2,256.0 742.1,255.9 743.5,258.3 744.4,258.2 744.8,255.6 745.7,255.5 746.9,258.1 747.8,258.1 748.4,255.7 749.3,255.8 750.4,258.5 751.3,258.7 752.1,256.4 753.0,256.6 754.0,259.4 754.9,259.7 755.8,257.6 756.8,258.0 757.5,260.9 758.4,261.3 759.5,259.5 760.5,260.0 761.0,262.9 761.9,263.5 763.2,261.8 764.1,262.5 764.5,265.4 765.3,266.1 766.8,264.7 767.6,265.5 767.8,268.4 768.6,269.2 770.2,268.1 771.0,269.0 771.0,271.8 771.8,272.7 773.4,271.9 774.2,272.9 774.0,275.6 774.7,276.7 776.5,276.1 777.2,277.3 776.8,279.8 777.5,280.9 779.3,280.7 780.0,281.9 779.4,284.4 780.0,285.5 781.8,285.6 782.4,286.9 781.6,289.2 782.2,290.4 784.1,290.8 784.6,292.1 783.6,294.2 784.1,295.5 786.0,296.1 786.4,297.5 785.3,299.3 785.6,300.7" fill="#fff" stroke-width="1.4"/>
<ellipse cx="754.5" cy="309.0" rx="22.9" ry="37.0" transform="rotate(-15 754.5 309.0)" fill="none" stroke-width="1.5" />
<polyline points="753.2,274.7 754.8,274.8 756.4,275.1 758.0,275.6 759.5,276.2 761.1,276.9 762.7,277.8 764.3,278.9 765.8,280.1 767.3,281.5 768.7,283.0 770.1,284.6 771.5,286.3 772.8,288.2 774.0,290.1 775.1,292.2 776.2,294.3 777.1,296.5 778.0,298.7 778.8,301.0 779.5,303.4 780.0,305.8 780.5,308.1 780.9,310.5 781.1,312.9 781.3,315.3 781.3,317.6 781.3,319.9 781.1,322.2 780.8,324.3 780.4,326.4 779.9,328.4 779.3,330.4 778.5,332.2 777.7,333.9 776.8,335.5 775.8,336.9 774.8,338.2 773.6,339.4 772.4,340.4 771.1,341.3 769.7,342.0 768.3,342.6 766.8,343.0 765.3,343.2 763.8,343.3" fill="none" stroke-width="1.4"/>
<polyline points="715.9,366.1 713.5,364.5 711.1,362.5 708.8,360.4 706.5,358.1 704.3,355.5 702.2,352.8 700.2,349.9 698.3,346.9 696.6,343.6 694.9,340.3 693.4,336.9 692.0,333.3 690.8,329.7 689.8,326.0 688.9,322.3 688.2,318.6 687.6,314.8 687.2,311.1 687.0,307.4 687.0,303.7 687.1,300.2 687.4,296.7 687.9,293.3 688.5,290.0 689.4,286.9 690.3,283.9 691.5,281.1 692.8,278.4 694.2,276.0 695.8,273.7 697.5,271.7 699.4,269.9 701.3,268.3 703.4,267.0 705.5,266.0 707.8,265.1 710.1,264.6 712.4,264.3 714.8,264.3 717.3,264.5 719.8,265.0 722.3,265.7 724.8,266.7 727.3,268.0 729.7,269.5 732.1,271.2 734.5,273.2 736.8,275.4 739.1,277.8 741.3,280.4 743.3,283.2 745.3,286.1 747.2,289.2 748.9,292.4 750.5,295.8 752.0,299.3 753.3,302.8 754.5,306.5 755.5,310.2 756.3,313.9 757.0,317.6 757.5,321.4 757.9,325.1 758.0,328.8 758.0,332.4 757.8,336.0 757.5,339.5 757.0,342.8 756.3,346.1 755.4,349.2 754.4,352.1 753.2,354.9 751.8,357.5 750.4,359.9 748.7,362.0 747.0,364.0 745.1,365.7 743.1,367.2 741.1,368.5 738.9,369.5 736.6,370.2 734.3,370.7 731.9,370.9" fill="none" stroke-width="1.5"/>
<polyline points="716.4,362.6 714.2,361.0 712.0,359.3 709.8,357.3 707.7,355.1 705.7,352.8 703.7,350.2 701.9,347.5 700.1,344.7 698.5,341.7 696.9,338.6 695.5,335.5 694.3,332.2 693.2,328.8 692.2,325.4 691.4,322.0 690.7,318.5 690.2,315.0 689.8,311.6 689.6,308.1 689.6,304.8 689.7,301.4 690.0,298.2 690.4,295.1 691.0,292.0 691.8,289.1 692.7,286.4 693.8,283.7 695.0,281.3 696.3,279.0 697.8,277.0 699.4,275.1 701.1,273.4 702.9,272.0 704.8,270.7 706.8,269.7 708.8,269.0 711.0,268.5 713.2,268.2 715.4,268.2 717.7,268.4 720.0,268.8 722.3,269.5 724.6,270.5 726.9,271.6 729.2,273.0 731.4,274.6 733.6,276.5 735.8,278.5 737.9,280.7 739.9,283.1 741.8,285.7 743.6,288.4 745.3,291.3 747.0,294.3 748.4,297.4 749.8,300.6 751.0,303.9 752.1,307.3 753.1,310.7 753.8,314.2 754.5,317.6 755.0,321.1 755.3,324.6 755.4,328.0 755.4,331.3 755.3,334.6 754.9,337.9 754.4,341.0 753.8,344.0 753.0,346.8 752.0,349.6 750.9,352.1 749.7,354.5 748.3,356.8 746.8,358.8 745.2,360.6 743.5,362.2 741.6,363.6 739.7,364.8 737.7,365.7 735.6,366.4 733.4,366.8 731.2,367.0" fill="none" stroke-width="1.5"/>
<line x1="715.9" y1="366.1" x2="716.4" y2="362.6" stroke-width="1.5"/>
<line x1="731.9" y1="370.9" x2="731.2" y2="367.0" stroke-width="1.5"/>
<polyline points="654.2,372.7 652.7,372.8 651.1,372.7 649.5,372.5 647.9,372.1 646.3,371.5 644.7,370.8 643.1,369.9 641.6,368.8 640.0,367.6 638.5,366.3 637.0,364.8 635.6,363.2 634.3,361.5 633.0,359.7 631.7,357.7 630.6,355.7 629.5,353.6 628.5,351.4 627.6,349.1 626.8,346.8 626.1,344.5 625.5,342.1 625.0,339.7 624.6,337.3 624.3,334.9 624.2,332.5 624.1,330.2 624.2,327.8 624.3,325.6 624.6,323.4 625.0,321.3 625.5,319.2 626.1,317.3 626.8,315.4 627.6,313.7 628.5,312.1 629.5,310.6 630.5,309.3 631.7,308.0 632.9,307.0 634.2,306.1 635.6,305.4 637.0,304.8 638.5,304.4 640.0,304.1 641.5,304.0 643.1,304.1 644.7,304.4 646.3,304.8 647.9,305.4 649.5,306.1 651.1,307.0 652.6,308.1 654.2,309.3 655.7,310.7 657.1,312.2 658.5,313.8 659.9,315.5 661.2,317.4 662.4,319.3 663.6,321.4 664.6,323.5 665.6,325.7 666.5,328.0 667.3,330.3 668.0,332.6 668.6,335.0 669.1,337.4 669.4,339.8 669.7,342.2 669.9,344.6 669.9,346.9 669.8,349.3 669.6,351.5 669.4,353.7 669.0,355.8 668.4,357.8 667.8,359.8 667.1,361.6 666.3,363.3 665.4,364.9 664.4,366.4 663.3,367.7 662.1,368.9 660.9,369.9 659.6,370.8" fill="none" stroke-width="1.5"/>
<polyline points="653.5,369.2 652.1,369.2 650.7,369.2 649.3,369.0 647.8,368.6 646.4,368.1 645.0,367.4 643.5,366.7 642.1,365.7 640.7,364.6 639.4,363.5 638.1,362.1 636.8,360.7 635.6,359.2 634.4,357.5 633.3,355.8 632.3,353.9 631.3,352.0 630.4,350.1 629.6,348.0 628.9,346.0 628.2,343.9 627.7,341.7 627.3,339.6 626.9,337.4 626.7,335.3 626.5,333.1 626.4,331.0 626.5,328.9 626.6,326.9 626.9,324.9 627.2,323.0 627.7,321.2 628.2,319.4 628.9,317.8 629.6,316.2 630.4,314.8 631.3,313.4 632.2,312.2 633.3,311.2 634.4,310.2 635.5,309.4 636.8,308.7 638.0,308.2 639.3,307.9 640.7,307.6 642.1,307.6 643.5,307.6 644.9,307.9 646.4,308.2 647.8,308.8 649.2,309.4 650.7,310.3 652.1,311.2 653.4,312.3 654.8,313.5 656.1,314.8 657.4,316.3 658.6,317.9 659.7,319.5 660.8,321.3 661.9,323.1 662.8,325.0 663.7,327.0 664.5,329.0 665.2,331.1 665.8,333.2 666.4,335.4 666.8,337.5 667.1,339.7 667.4,341.8 667.5,344.0 667.6,346.1 667.5,348.1 667.3,350.2 667.1,352.1 666.7,354.0 666.2,355.9 665.7,357.6 665.1,359.2 664.3,360.8 663.5,362.2 662.6,363.5 661.6,364.7 660.6,365.8 659.5,366.7 658.3,367.5" fill="none" stroke-width="1.5"/>
<ellipse cx="591.0" cy="354.7" rx="35.3" ry="57.0" transform="rotate(-15 591.0 354.7)" fill="#fff" stroke-width="1.5" />
<ellipse cx="590.0" cy="355.7" rx="32.9" ry="53.0" transform="rotate(-15 590.0 355.7)" fill="none" stroke-width="1.5" />
<ellipse cx="590.0" cy="359.7" rx="26.7" ry="43.0" transform="rotate(-15 590.0 359.7)" fill="none" stroke-width="1.5" />
<ellipse cx="588.0" cy="359.7" rx="24.2" ry="39.0" transform="rotate(-15 588.0 359.7)" fill="none" stroke-width="1.5" />
<path d="M560.4,365.2 L560.7,366.6 L561.1,368.1 L561.5,369.5 L561.8,371.0 L562.1,372.5 L562.4,373.9 L562.7,375.4 L563.0,376.9 L563.2,378.3 L563.4,379.8 L563.7,381.3 L563.9,382.7 L564.1,384.2 L564.2,385.7 L564.4,387.1 L564.5,388.6 L564.6,390.1 L564.7,391.5 L564.8,393.0 L564.9,394.4 L564.9,395.9 L565.0,397.3 L565.0,398.7 L565.0,400.1 L564.9,401.6 L564.9,403.0 L564.9,404.4 L564.8,405.8 L564.7,407.2 L564.6,408.5 L564.5,409.9 L564.3,411.3 L564.2,412.6 L564.0,414.0 L563.8,415.3 L563.6,416.6 L563.4,417.9 L563.2,419.2 L562.9,420.5 L562.6,421.8 L562.3,423.0 L562.0,424.3 L561.7,425.5 L561.4,426.7 L561.0,427.9 L560.7,429.1 L560.3,430.3 L559.9,431.5 L559.5,432.6 L559.0,433.7 L558.6,434.8 L558.1,435.9 L557.6,437.0 L557.1,438.1 L556.6,439.1 L556.1,440.1 L555.6,441.1 L555.0,442.1 L554.5,443.1 L553.9,444.0 L553.3,444.9 L552.7,445.8 L552.1,446.7 L551.4,447.6 L550.8,448.4 L550.1,449.2 L549.5,450.0 L548.8,450.8 L548.1,451.6 L547.4,452.3 L546.7,453.0 L545.9,453.7 L545.2,454.4 L544.5,455.0 L543.7,455.6 L542.9,456.2 L542.1,456.8 L541.3,457.3 L540.5,457.9 L539.7,458.4 L538.9,458.9 L538.1,459.3 L537.2,459.7 L536.4,460.1 L535.5,460.5 L534.7,460.9 L533.8,461.2 L532.9,461.5 L532.0,461.8 L531.1,462.0 L530.2,462.3 L529.3,462.5 L528.4,462.6 L527.5,462.8 L526.5,462.9 L525.6,463.0 L524.7,463.1 L523.7,463.1 L522.8,463.2 L521.8,463.2 L520.9,463.1 L519.9,463.1 L519.0,463.0 L518.0,462.9 L517.0,462.8 L516.1,462.6 L515.1,462.4 L514.1,462.2 L513.1,462.0 L512.2,461.7 L511.2,461.5 L510.2,461.2 L509.2,460.8 L508.2,460.5 L507.3,460.1 L506.3,459.7 L505.3,459.2 L504.3,458.8 L503.4,458.3 L502.4,457.8 L501.4,457.3 L500.4,456.7 L499.5,456.1 L498.5,455.5 L497.6,454.9 L496.6,454.3 L495.6,453.6 L494.7,452.9 L493.7,452.2 L492.8,451.5 L491.9,450.7 L490.9,449.9 L490.0,449.1 L489.1,448.3 L488.2,447.5 L487.3,446.6 L486.4,445.7 L485.5,444.8 L484.6,443.9 L483.7,442.9 L482.8,442.0 L482.0,441.0 L481.1,440.0 L480.3,439.0 L479.4,437.9 L478.6,436.9 L477.8,435.8 L477.0,434.7 L476.2,433.6 L475.4,432.5 L474.6,431.3 L473.8,430.1 L473.1,429.0 L472.3,427.8 L471.6,426.6 L470.9,425.4 L470.2,424.1 L469.4,422.9 L468.8,421.6 L468.1,420.3 L467.4,419.1 L466.8,417.8 L466.1,416.4 L465.5,415.1 L464.9,413.8 L464.3,412.5 L463.7,411.1 L463.1,409.7 L462.6,408.4 L462.0,407.0 L461.5,405.6 L461.0,404.2 L460.5,402.8 L460.0,401.4 L459.5,400.0 L459.0,398.5 L458.6,397.1 L458.2,395.7 L457.8,394.2 L457.4,392.8 L457.0,391.3 L456.6,389.9 L456.3,388.4 L455.9,386.9 L455.6,385.5 L455.3,384.0 L455.0,382.5 L454.8,381.1 L454.5,379.6 L454.3,378.1 L454.1,376.7 L453.9,375.2 L453.7,373.7 L453.5,372.3 L453.4,370.8 L453.2,369.3 L453.1,367.9 L453.0,366.4 L452.9,365.0 L452.9,363.5 L452.8,362.1 L452.8,360.6 L452.8,359.2 L452.8,357.8 L452.8,356.4 L452.8,355.0 L452.9,353.5 L452.9,352.2 L453.0,350.8 L453.1,349.4 L453.3,348.0 L453.4,346.6 L453.5,345.3 L453.7,344.0 L453.9,342.6 L454.1,341.3 L454.3,340.0 L454.6,338.7 L454.8,337.4 L455.1,336.1 L455.4,334.9 L455.7,333.6 L456.0,332.4 L456.4,331.2 L456.7,330.0 L457.1,328.8 L457.5,327.6 L457.9,326.5 L458.3,325.3 L458.7,324.2 L459.2,323.1 L459.6,322.0 L460.1,320.9 L460.6,319.9 L461.1,318.8 L461.6,317.8 L462.1,316.8 L462.7,315.8 L463.3,314.9 L463.8,313.9 L464.4,313.0 L465.0,312.1 L465.6,311.2 L466.3,310.4 L466.9,309.5 L467.6,308.7 L468.3,307.9 L468.9,307.1 L469.6,306.4 L470.3,305.6 L471.1,304.9 L471.8,304.2 L472.5,303.6 L473.3,302.9 L474.0,302.3 L474.8,301.7 L475.6,301.1 L476.4,300.6 L477.2,300.1 L478.0,299.6 L478.8,299.1 L479.7,298.6 L480.5,298.2 L481.3,297.8 L482.2,297.4 L483.1,297.1 L483.9,296.7 L484.8,296.4 L485.7,296.1 L486.6,295.9 L487.5,295.7 L488.4,295.5 L489.3,295.3 L490.3,295.1 L491.2,295.0 L492.1,294.9 L493.0,294.8 L494.0,294.8 L494.9,294.8 L495.9,294.8 L496.8,294.8 L497.8,294.8 L498.8,294.9 L499.7,295.0 L500.7,295.2 L501.7,295.3 L502.6,295.5 L503.6,295.7 L504.6,295.9 L505.6,296.2 L506.5,296.5 L507.5,296.8 L508.5,297.1 L509.5,297.5 L510.5,297.8 L511.4,298.3 L512.4,298.7 L513.4,299.1 L514.4,299.6 L515.3,300.1 L516.3,300.7 L517.3,301.2 L518.2,301.8 L519.2,302.4 L520.2,303.0 L521.1,303.6 L522.1,304.3 L523.0,305.0 L524.0,305.7 L524.9,306.5 L525.9,307.2 L526.8,308.0 L527.7,308.8 L528.6,309.6 L529.5,310.5 L530.4,311.3 L531.4,312.2 L532.2,313.1 L533.1,314.1 L534.0,315.0 L534.9,316.0 L535.7,316.9 L536.6,318.0 L537.4,319.0 L538.3,320.0 L539.1,321.1 L539.9,322.1 L540.7,323.2 L541.5,324.4 L542.3,325.5 L543.1,326.6 L543.9,327.8 L544.6,329.0 L545.4,330.1 L546.1,331.4 L546.9,332.6 L547.6,333.8 L548.3,335.1 L549.0,336.3 L549.6,337.6 L550.3,338.9 L551.0,340.2 L551.6,341.5 L552.2,342.8 L552.9,344.1 L553.5,345.5 L554.0,346.8 L554.6,348.2 L555.2,349.6 L555.7,350.9 L556.3,352.3 L556.8,353.7 L557.3,355.1 L557.8,356.6 L558.2,358.0 L558.7,359.4 L559.1,360.8 L559.6,362.3 L560.0,363.7 Z M549.2,368.7 L549.5,369.8 L549.7,370.9 L548.2,372.3 L548.4,373.3 L548.6,374.3 L548.8,375.4 L550.9,376.3 L551.1,377.4 L551.3,378.5 L551.5,379.6 L551.6,380.7 L549.9,381.6 L550.0,382.7 L550.1,383.7 L550.2,384.8 L552.3,386.1 L552.4,387.2 L552.4,388.3 L552.5,389.4 L552.5,390.5 L550.6,390.9 L550.6,392.0 L550.7,393.0 L550.7,394.0 L552.6,395.8 L552.6,396.8 L552.5,397.9 L552.5,398.9 L552.4,400.0 L550.4,399.9 L550.3,400.9 L550.2,401.9 L550.1,402.8 L551.9,405.0 L551.8,406.0 L551.6,407.0 L551.4,408.0 L551.3,408.9 L549.2,408.4 L549.0,409.3 L548.8,410.2 L548.6,411.1 L550.2,413.6 L549.9,414.5 L549.7,415.4 L549.4,416.3 L549.1,417.2 L547.0,416.2 L546.7,417.0 L546.4,417.8 L546.1,418.6 L547.5,421.4 L547.2,422.2 L546.8,422.9 L546.4,423.7 L546.0,424.5 L544.0,423.0 L543.6,423.7 L543.2,424.4 L542.8,425.1 L543.9,428.1 L543.5,428.7 L543.0,429.4 L542.6,430.0 L542.1,430.7 L540.1,428.8 L539.7,429.4 L539.2,429.9 L538.7,430.5 L539.5,433.5 L539.0,434.1 L538.5,434.6 L537.9,435.1 L537.4,435.6 L535.6,433.3 L535.0,433.8 L534.5,434.2 L533.9,434.6 L534.4,437.7 L533.8,438.1 L533.2,438.4 L532.6,438.8 L532.0,439.1 L530.4,436.5 L529.8,436.8 L529.2,437.1 L528.5,437.3 L528.8,440.4 L528.1,440.6 L527.4,440.8 L526.8,441.0 L526.1,441.1 L524.7,438.3 L524.1,438.4 L523.4,438.5 L522.7,438.6 L522.6,441.6 L521.9,441.6 L521.2,441.6 L520.5,441.6 L519.8,441.6 L518.7,438.6 L518.0,438.6 L517.3,438.5 L516.7,438.4 L516.2,441.2 L515.5,441.1 L514.8,440.9 L514.0,440.8 L513.3,440.6 L512.5,437.5 L511.8,437.3 L511.1,437.0 L510.4,436.8 L509.7,439.3 L508.9,439.0 L508.2,438.7 L507.5,438.4 L506.8,438.0 L506.3,434.9 L505.6,434.5 L504.9,434.1 L504.2,433.7 L503.2,436.0 L502.4,435.5 L501.7,435.0 L501.0,434.5 L500.3,434.0 L500.1,430.9 L499.5,430.4 L498.8,429.9 L498.2,429.3 L496.8,431.2 L496.2,430.6 L495.5,429.9 L494.8,429.3 L494.1,428.6 L494.3,425.7 L493.7,425.0 L493.0,424.3 L492.4,423.7 L490.9,425.1 L490.2,424.4 L489.6,423.6 L489.0,422.8 L488.4,422.0 L488.8,419.3 L488.2,418.5 L487.7,417.7 L487.1,416.9 L485.4,417.9 L484.8,417.1 L484.2,416.2 L483.7,415.3 L483.1,414.4 L483.9,411.9 L483.4,411.0 L482.9,410.1 L482.4,409.2 L480.5,409.8 L480.0,408.8 L479.5,407.8 L479.1,406.9 L478.6,405.9 L479.7,403.7 L479.2,402.7 L478.8,401.8 L478.4,400.8 L476.4,400.8 L476.0,399.8 L475.6,398.8 L475.2,397.7 L474.8,396.7 L476.2,394.9 L475.8,393.9 L475.5,392.8 L475.2,391.8 L473.1,391.4 L472.8,390.3 L472.5,389.2 L472.3,388.2 L472.0,387.1 L473.6,385.7 L473.3,384.6 L473.1,383.6 L472.9,382.5 L470.8,381.6 L470.6,380.5 L470.4,379.4 L470.2,378.3 L470.1,377.3 L471.8,376.3 L471.7,375.2 L471.6,374.2 L471.5,373.2 L469.5,371.8 L469.4,370.7 L469.3,369.6 L469.2,368.5 L469.2,367.5 L471.1,367.0 L471.1,366.0 L471.1,365.0 L471.1,363.9 L469.1,362.1 L469.2,361.1 L469.2,360.0 L469.2,359.0 L469.3,358.0 L471.3,358.0 L471.4,357.0 L471.5,356.0 L471.6,355.1 L469.8,352.9 L470.0,351.9 L470.1,350.9 L470.3,350.0 L470.5,349.0 L472.5,349.5 L472.7,348.6 L472.9,347.7 L473.2,346.8 L471.5,344.3 L471.8,343.4 L472.0,342.5 L472.3,341.6 L472.6,340.8 L474.7,341.7 L475.0,340.9 L475.3,340.1 L475.6,339.3 L474.2,336.6 L474.6,335.8 L474.9,335.0 L475.3,334.2 L475.7,333.5 L477.7,334.9 L478.1,334.2 L478.5,333.5 L478.9,332.8 L477.8,329.9 L478.2,329.2 L478.7,328.5 L479.2,327.9 L479.7,327.3 L481.6,329.1 L482.1,328.6 L482.5,328.0 L483.0,327.5 L482.2,324.4 L482.7,323.9 L483.3,323.3 L483.8,322.8 L484.4,322.4 L486.2,324.6 L486.7,324.2 L487.3,323.8 L487.8,323.4 L487.3,320.2 L487.9,319.9 L488.5,319.5 L489.1,319.2 L489.8,318.9 L491.3,321.4 L492.0,321.1 L492.6,320.9 L493.2,320.6 L493.0,317.5 L493.6,317.3 L494.3,317.1 L495.0,317.0 L495.6,316.8 L497.0,319.6 L497.7,319.5 L498.3,319.4 L499.0,319.3 L499.1,316.4 L499.8,316.3 L500.5,316.3 L501.2,316.3 L501.9,316.3 L503.0,319.3 L503.7,319.4 L504.4,319.4 L505.1,319.5 L505.5,316.7 L506.2,316.8 L507.0,317.0 L507.7,317.2 L508.4,317.4 L509.2,320.4 L509.9,320.7 L510.6,320.9 L511.3,321.2 L512.0,318.6 L512.8,318.9 L513.5,319.2 L514.2,319.6 L515.0,319.9 L515.5,323.0 L516.1,323.4 L516.8,323.8 L517.5,324.2 L518.6,322.0 L519.3,322.4 L520.0,322.9 L520.7,323.4 L521.4,323.9 L521.6,327.0 L522.3,327.5 L522.9,328.1 L523.6,328.6 L524.9,326.7 L525.6,327.4 L526.3,328.0 L526.9,328.6 L527.6,329.3 L527.4,332.3 L528.1,332.9 L528.7,333.6 L529.3,334.3 L530.9,332.8 L531.5,333.6 L532.1,334.3 L532.8,335.1 L533.4,335.9 L532.9,338.7 L533.5,339.4 L534.0,340.2 L534.6,341.0 L536.4,340.0 L536.9,340.9 L537.5,341.7 L538.1,342.6 L538.6,343.5 L537.8,346.1 L538.3,346.9 L538.8,347.8 L539.3,348.7 L541.2,348.2 L541.7,349.1 L542.2,350.1 L542.7,351.1 L543.1,352.1 L542.1,354.3 L542.5,355.2 L542.9,356.2 L543.3,357.1 L545.3,357.1 L545.7,358.1 L546.1,359.2 L546.5,360.2 L546.9,361.2 L545.5,363.1 L545.9,364.1 L546.2,365.1 L546.5,366.1 L548.6,366.5 L548.9,367.6 Z" fill="#fff" fill-rule="evenodd" stroke-width="1.5"/>
<path d="M556.5,366.2 L556.9,367.7 L557.2,369.1 L557.6,370.6 L557.9,372.0 L558.2,373.5 L558.5,375.0 L558.8,376.4 L559.1,377.9 L559.4,379.4 L559.6,380.8 L559.8,382.3 L560.0,383.8 L560.2,385.2 L560.4,386.7 L560.5,388.2 L560.6,389.6 L560.8,391.1 L560.9,392.5 L560.9,394.0 L561.0,395.4 L561.1,396.9 L561.1,398.3 L561.1,399.8 L561.1,401.2 L561.1,402.6 L561.0,404.0 L561.0,405.4 L560.9,406.8 L560.8,408.2 L560.7,409.6 L560.6,411.0 L560.5,412.3 L560.3,413.7 L560.1,415.0 L560.0,416.3 L559.8,417.7 L559.5,419.0 L559.3,420.3 L559.0,421.6 L558.8,422.8 L558.5,424.1 L558.2,425.3 L557.8,426.6 L557.5,427.8 L557.2,429.0 L556.8,430.2 L556.4,431.3 L556.0,432.5 L555.6,433.6 L555.2,434.8 L554.7,435.9 L554.2,437.0 L553.8,438.0 L553.3,439.1 L552.8,440.1 L552.3,441.2 L551.7,442.2 L551.2,443.1 L550.6,444.1 L550.0,445.0 L549.4,446.0 L548.8,446.9 L548.2,447.8 L547.6,448.6 L546.9,449.5 L546.3,450.3 L545.6,451.1 L544.9,451.9 L544.2,452.6 L543.5,453.3 L542.8,454.1 L542.1,454.7 L541.3,455.4 L540.6,456.0 L539.8,456.7 L539.1,457.3 L538.3,457.8 L537.5,458.4 L536.7,458.9 L535.9,459.4 L535.0,459.9 L534.2,460.3 L533.4,460.8 L532.5,461.2 L531.7,461.6 L530.8,461.9 L529.9,462.2 L529.0,462.5 L528.2,462.8 L527.3,463.1 L526.4,463.3 L525.4,463.5 L524.5,463.7 L523.6,463.8 L522.7,464.0 L521.8,464.1 L520.8,464.1 L519.9,464.2 L518.9,464.2 L518.0,464.2 L517.0,464.2 L516.1,464.1 L515.1,464.0 L514.1,463.9 L513.2,463.8 L512.2,463.7 L511.2,463.5 L510.3,463.3 L509.3,463.0 L508.3,462.8 L507.3,462.5 L506.3,462.2 L505.4,461.9 L504.4,461.5 L503.4,461.1 L502.4,460.7 L501.5,460.3 L500.5,459.8 L499.5,459.3 L498.5,458.8 L497.6,458.3 L496.6,457.8 L495.6,457.2 L494.7,456.6 L493.7,456.0 L492.7,455.3 L491.8,454.6 L490.8,454.0 L489.9,453.2 L488.9,452.5 L488.0,451.7 L487.1,451.0 L486.2,450.2 L485.2,449.3 L484.3,448.5 L483.4,447.6 L482.5,446.7 L481.6,445.8 L480.7,444.9 L479.9,444.0 L479.0,443.0 L478.1,442.0 L477.3,441.0 L476.4,440.0 L475.6,439.0 L474.7,437.9 L473.9,436.8 L473.1,435.7 L472.3,434.6 L471.5,433.5 L470.7,432.3 L470.0,431.2 L469.2,430.0 L468.5,428.8 L467.7,427.6 L467.0,426.4 L466.3,425.2 L465.6,423.9 L464.9,422.7 L464.2,421.4 L463.5,420.1 L462.9,418.8 L462.3,417.5 L461.6,416.2 L461.0,414.8 L460.4,413.5 L459.8,412.1 L459.3,410.8 L458.7,409.4 L458.1,408.0 L457.6,406.6 L457.1,405.2 L456.6,403.8 L456.1,402.4 L455.6,401.0 L455.2,399.6 L454.7,398.1 L454.3,396.7 L453.9,395.2 L453.5,393.8 L453.1,392.3 L452.8,390.9 L452.4,389.4 L452.1,388.0 L451.8,386.5 L451.5,385.0 L451.2,383.6 L450.9,382.1 L450.6,380.6 L450.4,379.2 L450.2,377.7 L450.0,376.2 L449.8,374.8 L449.6,373.3 L449.5,371.8 L449.4,370.4 L449.2,368.9 L449.1,367.5 L449.1,366.0 L449.0,364.6 L448.9,363.1 L448.9,361.7 L448.9,360.2 L448.9,358.8 L448.9,357.4 L449.0,356.0 L449.0,354.6 L449.1,353.2 L449.2,351.8 L449.3,350.4 L449.4,349.0 L449.5,347.7 L449.7,346.3 L449.9,345.0 L450.0,343.7 L450.2,342.3 L450.5,341.0 L450.7,339.7 L451.0,338.4 L451.2,337.2 L451.5,335.9 L451.8,334.7 L452.2,333.4 L452.5,332.2 L452.8,331.0 L453.2,329.8 L453.6,328.7 L454.0,327.5 L454.4,326.4 L454.8,325.2 L455.3,324.1 L455.8,323.0 L456.2,322.0 L456.7,320.9 L457.2,319.9 L457.7,318.8 L458.3,317.8 L458.8,316.9 L459.4,315.9 L460.0,315.0 L460.6,314.0 L461.2,313.1 L461.8,312.2 L462.4,311.4 L463.1,310.5 L463.7,309.7 L464.4,308.9 L465.1,308.1 L465.8,307.4 L466.5,306.7 L467.2,305.9 L467.9,305.3 L468.7,304.6 L469.4,304.0 L470.2,303.3 L470.9,302.7 L471.7,302.2 L472.5,301.6 L473.3,301.1 L474.1,300.6 L475.0,300.1 L475.8,299.7 L476.6,299.2 L477.5,298.8 L478.3,298.4 L479.2,298.1 L480.1,297.8 L481.0,297.5 L481.8,297.2 L482.7,296.9 L483.6,296.7 L484.6,296.5 L485.5,296.3 L486.4,296.2 L487.3,296.0 L488.2,295.9 L489.2,295.9 L490.1,295.8 L491.1,295.8 L492.0,295.8 L493.0,295.8 L493.9,295.9 L494.9,296.0 L495.9,296.1 L496.8,296.2 L497.8,296.3 L498.8,296.5 L499.7,296.7 L500.7,297.0 L501.7,297.2 L502.7,297.5 L503.7,297.8 L504.6,298.1 L505.6,298.5 L506.6,298.9 L507.6,299.3 L508.5,299.7 L509.5,300.2 L510.5,300.7 L511.5,301.2 L512.4,301.7 L513.4,302.2 L514.4,302.8 L515.3,303.4 L516.3,304.0 L517.3,304.7 L518.2,305.4 L519.2,306.0 L520.1,306.8 L521.1,307.5 L522.0,308.3 L522.9,309.0 L523.8,309.8 L524.8,310.7 L525.7,311.5 L526.6,312.4 L527.5,313.3 L528.4,314.2 L529.3,315.1 L530.1,316.0 L531.0,317.0 L531.9,318.0 L532.7,319.0 L533.6,320.0 L534.4,321.0 L535.3,322.1 L536.1,323.2 L536.9,324.3 L537.7,325.4 L538.5,326.5 L539.3,327.7 L540.0,328.8 L540.8,330.0 L541.5,331.2 L542.3,332.4 L543.0,333.6 L543.7,334.8 L544.4,336.1 L545.1,337.3 L545.8,338.6 L546.5,339.9 L547.1,341.2 L547.7,342.5 L548.4,343.8 L549.0,345.2 L549.6,346.5 L550.2,347.9 L550.7,349.2 L551.3,350.6 L551.9,352.0 L552.4,353.4 L552.9,354.8 L553.4,356.2 L553.9,357.6 L554.4,359.0 L554.8,360.4 L555.3,361.9 L555.7,363.3 L556.1,364.8 Z M545.3,369.7 L545.6,370.8 L545.9,371.9 L544.3,373.3 L544.5,374.3 L544.8,375.4 L545.0,376.4 L547.1,377.3 L547.3,378.4 L547.4,379.5 L547.6,380.6 L547.8,381.7 L546.0,382.7 L546.1,383.7 L546.3,384.8 L546.4,385.8 L548.4,387.2 L548.5,388.3 L548.6,389.3 L548.6,390.4 L548.7,391.5 L546.8,392.0 L546.8,393.0 L546.8,394.0 L546.8,395.0 L548.7,396.8 L548.7,397.9 L548.7,398.9 L548.6,400.0 L548.6,401.0 L546.5,401.0 L546.4,402.0 L546.3,402.9 L546.2,403.9 L548.0,406.1 L547.9,407.0 L547.7,408.0 L547.6,409.0 L547.4,410.0 L545.3,409.5 L545.1,410.4 L544.9,411.3 L544.7,412.2 L546.3,414.6 L546.1,415.6 L545.8,416.5 L545.5,417.3 L545.3,418.2 L543.2,417.2 L542.9,418.0 L542.6,418.8 L542.3,419.6 L543.6,422.4 L543.3,423.2 L542.9,424.0 L542.6,424.7 L542.2,425.5 L540.1,424.1 L539.7,424.8 L539.3,425.5 L538.9,426.1 L540.1,429.1 L539.6,429.8 L539.2,430.4 L538.7,431.1 L538.2,431.7 L536.3,429.8 L535.8,430.4 L535.3,431.0 L534.8,431.5 L535.7,434.6 L535.1,435.1 L534.6,435.6 L534.0,436.1 L533.5,436.6 L531.7,434.4 L531.2,434.8 L530.6,435.2 L530.0,435.6 L530.6,438.7 L530.0,439.1 L529.4,439.5 L528.7,439.8 L528.1,440.1 L526.5,437.6 L525.9,437.8 L525.3,438.1 L524.7,438.3 L524.9,441.4 L524.2,441.6 L523.6,441.8 L522.9,442.0 L522.2,442.1 L520.9,439.4 L520.2,439.5 L519.5,439.6 L518.9,439.6 L518.8,442.6 L518.1,442.6 L517.4,442.7 L516.7,442.7 L515.9,442.6 L514.8,439.7 L514.2,439.6 L513.5,439.5 L512.8,439.4 L512.4,442.3 L511.6,442.1 L510.9,442.0 L510.2,441.8 L509.5,441.6 L508.6,438.5 L508.0,438.3 L507.3,438.1 L506.6,437.8 L505.8,440.4 L505.1,440.1 L504.4,439.7 L503.6,439.4 L502.9,439.0 L502.4,435.9 L501.7,435.5 L501.0,435.2 L500.3,434.7 L499.3,437.0 L498.6,436.5 L497.9,436.0 L497.2,435.6 L496.5,435.0 L496.3,432.0 L495.6,431.4 L494.9,430.9 L494.3,430.3 L493.0,432.2 L492.3,431.6 L491.6,431.0 L490.9,430.3 L490.3,429.7 L490.4,426.7 L489.8,426.0 L489.2,425.4 L488.5,424.7 L487.0,426.2 L486.4,425.4 L485.7,424.6 L485.1,423.9 L484.5,423.1 L485.0,420.3 L484.4,419.5 L483.8,418.7 L483.3,417.9 L481.5,419.0 L480.9,418.1 L480.4,417.2 L479.8,416.3 L479.3,415.4 L480.0,412.9 L479.5,412.0 L479.0,411.1 L478.6,410.3 L476.6,410.8 L476.2,409.8 L475.7,408.9 L475.2,407.9 L474.7,406.9 L475.8,404.7 L475.4,403.8 L475.0,402.8 L474.5,401.8 L472.5,401.9 L472.1,400.8 L471.7,399.8 L471.4,398.8 L471.0,397.7 L472.3,395.9 L472.0,394.9 L471.7,393.9 L471.3,392.9 L469.3,392.4 L469.0,391.3 L468.7,390.3 L468.4,389.2 L468.1,388.1 L469.7,386.7 L469.5,385.7 L469.2,384.6 L469.0,383.6 L466.9,382.7 L466.7,381.6 L466.6,380.5 L466.4,379.4 L466.2,378.3 L468.0,377.3 L467.9,376.3 L467.7,375.2 L467.6,374.2 L465.6,372.8 L465.5,371.7 L465.4,370.7 L465.4,369.6 L465.3,368.5 L467.2,368.0 L467.2,367.0 L467.2,366.0 L467.2,365.0 L465.3,363.2 L465.3,362.1 L465.3,361.1 L465.4,360.0 L465.4,359.0 L467.5,359.0 L467.6,358.0 L467.7,357.1 L467.8,356.1 L466.0,353.9 L466.1,353.0 L466.3,352.0 L466.4,351.0 L466.6,350.0 L468.7,350.5 L468.9,349.6 L469.1,348.7 L469.3,347.8 L467.7,345.4 L467.9,344.4 L468.2,343.5 L468.5,342.7 L468.7,341.8 L470.8,342.8 L471.1,342.0 L471.4,341.2 L471.7,340.4 L470.4,337.6 L470.7,336.8 L471.1,336.0 L471.4,335.3 L471.8,334.5 L473.9,335.9 L474.3,335.2 L474.7,334.5 L475.1,333.9 L473.9,330.9 L474.4,330.2 L474.8,329.6 L475.3,328.9 L475.8,328.3 L477.7,330.2 L478.2,329.6 L478.7,329.0 L479.2,328.5 L478.3,325.4 L478.9,324.9 L479.4,324.4 L480.0,323.9 L480.5,323.4 L482.3,325.6 L482.8,325.2 L483.4,324.8 L484.0,324.4 L483.4,321.3 L484.0,320.9 L484.6,320.5 L485.3,320.2 L485.9,319.9 L487.5,322.4 L488.1,322.2 L488.7,321.9 L489.3,321.7 L489.1,318.6 L489.8,318.4 L490.4,318.2 L491.1,318.0 L491.8,317.9 L493.1,320.6 L493.8,320.5 L494.5,320.4 L495.1,320.4 L495.2,317.4 L495.9,317.4 L496.6,317.3 L497.3,317.3 L498.1,317.4 L499.2,320.3 L499.8,320.4 L500.5,320.5 L501.2,320.6 L501.6,317.7 L502.4,317.9 L503.1,318.0 L503.8,318.2 L504.5,318.4 L505.4,321.5 L506.0,321.7 L506.7,321.9 L507.4,322.2 L508.2,319.6 L508.9,319.9 L509.6,320.3 L510.4,320.6 L511.1,321.0 L511.6,324.1 L512.3,324.5 L513.0,324.8 L513.7,325.3 L514.7,323.0 L515.4,323.5 L516.1,324.0 L516.8,324.4 L517.5,325.0 L517.7,328.0 L518.4,328.6 L519.1,329.1 L519.7,329.7 L521.0,327.8 L521.7,328.4 L522.4,329.0 L523.1,329.7 L523.7,330.3 L523.6,333.3 L524.2,334.0 L524.8,334.6 L525.5,335.3 L527.0,333.8 L527.6,334.6 L528.3,335.4 L528.9,336.1 L529.5,336.9 L529.0,339.7 L529.6,340.5 L530.2,341.3 L530.7,342.1 L532.5,341.0 L533.1,341.9 L533.6,342.8 L534.2,343.7 L534.7,344.6 L534.0,347.1 L534.5,348.0 L535.0,348.9 L535.4,349.7 L537.4,349.2 L537.8,350.2 L538.3,351.1 L538.8,352.1 L539.3,353.1 L538.2,355.3 L538.6,356.2 L539.0,357.2 L539.5,358.2 L541.5,358.1 L541.9,359.2 L542.3,360.2 L542.6,361.2 L543.0,362.3 L541.7,364.1 L542.0,365.1 L542.3,366.1 L542.7,367.1 L544.7,367.6 L545.0,368.7 Z" fill="#fff" fill-rule="evenodd" stroke-width="1.5"/>
<path d="M530.2,371.5 L530.5,372.9 L530.9,374.3 L531.2,375.8 L531.6,377.2 L531.9,378.6 L532.2,380.0 L532.4,381.5 L532.7,382.9 L533.0,384.3 L533.2,385.8 L533.4,387.2 L533.6,388.6 L533.8,390.1 L533.9,391.5 L534.1,392.9 L537.4,394.9 L537.6,396.4 L537.7,397.9 L537.8,399.4 L537.8,400.9 L537.9,402.4 L537.9,403.9 L537.9,405.4 L537.9,406.9 L534.6,407.0 L534.6,408.4 L534.6,409.8 L534.5,411.2 L534.4,412.5 L534.3,413.9 L534.2,415.2 L534.0,416.5 L533.9,417.9 L533.7,419.2 L533.5,420.5 L533.3,421.8 L533.1,423.0 L532.9,424.3 L532.6,425.6 L532.4,426.8 L532.1,428.0 L531.8,429.2 L531.5,430.4 L531.2,431.6 L530.8,432.8 L530.4,434.0 L530.1,435.1 L529.7,436.2 L529.3,437.4 L528.9,438.5 L528.4,439.5 L528.0,440.6 L527.5,441.7 L527.0,442.7 L526.5,443.7 L528.8,448.2 L528.2,449.3 L527.6,450.3 L527.1,451.3 L526.5,452.3 L525.9,453.2 L525.2,454.2 L524.6,455.1 L523.9,456.0 L520.8,452.8 L520.2,453.6 L519.5,454.4 L518.9,455.1 L518.2,455.9 L517.5,456.6 L516.8,457.3 L516.1,458.0 L515.4,458.6 L514.6,459.2 L513.9,459.8 L513.1,460.4 L512.4,461.0 L511.6,461.5 L510.8,462.0 L510.0,462.5 L509.2,463.0 L508.4,463.4 L507.6,463.9 L506.7,464.2 L505.9,464.6 L505.1,465.0 L504.2,465.3 L503.3,465.6 L502.5,465.9 L501.6,466.1 L500.7,466.3 L499.8,466.5 L498.9,466.7 L498.0,466.8 L497.1,467.0 L497.2,472.0 L496.2,472.0 L495.3,472.1 L494.3,472.1 L493.3,472.1 L492.3,472.1 L491.3,472.0 L490.3,471.9 L489.3,471.8 L487.8,466.8 L486.9,466.7 L485.9,466.5 L485.0,466.3 L484.0,466.1 L483.1,465.8 L482.1,465.5 L481.2,465.2 L480.2,464.9 L479.3,464.6 L478.3,464.2 L477.4,463.8 L476.4,463.4 L475.4,462.9 L474.5,462.5 L473.5,462.0 L472.6,461.5 L471.6,460.9 L470.7,460.4 L469.8,459.8 L468.8,459.2 L467.9,458.5 L467.0,457.9 L466.0,457.2 L465.1,456.5 L464.2,455.8 L463.3,455.0 L462.4,454.3 L461.5,453.5 L460.6,452.7 L459.7,451.9 L457.5,455.0 L456.6,454.0 L455.7,453.1 L454.8,452.1 L453.8,451.2 L452.9,450.2 L452.0,449.1 L451.2,448.1 L450.3,447.0 L451.1,442.5 L450.3,441.5 L449.5,440.5 L448.7,439.4 L447.9,438.3 L447.2,437.2 L446.4,436.1 L445.7,435.0 L444.9,433.8 L444.2,432.6 L443.5,431.5 L442.8,430.3 L442.1,429.1 L441.4,427.9 L440.7,426.6 L440.0,425.4 L439.4,424.1 L438.7,422.9 L438.1,421.6 L437.5,420.3 L436.9,419.0 L436.3,417.7 L435.7,416.4 L435.2,415.0 L434.6,413.7 L434.1,412.3 L433.6,411.0 L433.1,409.6 L432.6,408.2 L432.1,406.9 L431.6,405.5 L428.3,405.2 L427.8,403.7 L427.4,402.2 L427.0,400.7 L426.6,399.2 L426.2,397.7 L425.8,396.2 L425.4,394.7 L425.1,393.2 L427.9,391.3 L427.6,389.9 L427.3,388.5 L427.0,387.0 L426.8,385.6 L426.5,384.1 L426.3,382.7 L426.1,381.3 L426.0,379.8 L425.8,378.4 L425.6,377.0 L425.5,375.6 L425.4,374.1 L425.3,372.7 L425.2,371.3 L425.2,369.9 L425.1,368.5 L425.1,367.1 L425.1,365.7 L425.1,364.3 L425.1,362.9 L425.1,361.5 L425.2,360.1 L425.2,358.8 L425.3,357.4 L425.4,356.1 L425.5,354.7 L425.7,353.4 L425.8,352.1 L426.0,350.8 L426.2,349.5 L423.2,346.0 L423.4,344.6 L423.7,343.3 L423.9,342.0 L424.2,340.6 L424.5,339.3 L424.8,338.1 L425.2,336.8 L425.5,335.5 L428.9,337.1 L429.3,336.0 L429.7,334.8 L430.0,333.7 L430.5,332.6 L430.9,331.5 L431.3,330.4 L431.8,329.3 L432.2,328.3 L432.7,327.2 L433.2,326.2 L433.7,325.2 L434.2,324.3 L434.8,323.3 L435.3,322.4 L435.9,321.4 L436.5,320.5 L437.1,319.7 L437.7,318.8 L438.3,317.9 L438.9,317.1 L439.5,316.3 L440.2,315.5 L440.9,314.8 L441.5,314.0 L442.2,313.3 L442.9,312.6 L443.6,312.0 L444.4,311.3 L445.1,310.7 L445.8,310.1 L444.6,305.0 L445.4,304.4 L446.3,303.8 L447.1,303.3 L447.9,302.8 L448.8,302.3 L449.6,301.8 L450.5,301.4 L451.4,301.0 L453.8,305.3 L454.7,305.0 L455.5,304.6 L456.4,304.3 L457.2,304.1 L458.1,303.8 L459.0,303.6 L459.9,303.4 L460.8,303.2 L461.7,303.1 L462.6,303.0 L463.5,302.9 L464.4,302.8 L465.3,302.7 L466.3,302.7 L467.2,302.7 L468.1,302.7 L469.1,302.8 L470.0,302.9 L470.9,303.0 L471.9,303.1 L472.8,303.3 L473.8,303.4 L474.7,303.6 L475.7,303.9 L476.6,304.1 L477.6,304.4 L478.6,304.7 L479.5,305.0 L480.5,305.4 L481.4,305.7 L482.5,301.4 L483.5,301.9 L484.5,302.4 L485.6,302.9 L486.6,303.4 L487.6,303.9 L488.6,304.5 L489.6,305.1 L490.6,305.7 L490.9,310.8 L491.8,311.4 L492.8,312.1 L493.7,312.7 L494.6,313.4 L495.5,314.1 L496.5,314.9 L497.4,315.6 L498.3,316.4 L499.2,317.2 L500.1,318.1 L500.9,318.9 L501.8,319.8 L502.7,320.7 L503.6,321.6 L504.4,322.5 L505.3,323.4 L506.1,324.4 L507.0,325.4 L507.8,326.4 L508.6,327.4 L509.4,328.4 L510.2,329.5 L511.0,330.5 L511.8,331.6 L512.6,332.7 L513.3,333.8 L514.1,335.0 L514.8,336.1 L515.5,337.3 L516.3,338.5 L519.2,337.0 L519.9,338.2 L520.7,339.5 L521.4,340.8 L522.1,342.1 L522.8,343.5 L523.4,344.8 L524.1,346.2 L524.7,347.5 L522.8,350.9 L523.4,352.3 L524.0,353.6 L524.5,354.9 L525.1,356.3 L525.6,357.6 L526.1,359.0 L526.7,360.3 L527.1,361.7 L527.6,363.1 L528.1,364.5 L528.5,365.9 L529.0,367.3 L529.4,368.7 L529.8,370.1 Z M519.4,374.4 L519.7,375.5 L520.0,376.6 L520.2,377.7 L520.5,378.8 L520.7,380.0 L521.0,381.1 L521.2,382.2 L521.4,383.3 L521.6,384.5 L521.8,385.6 L521.9,386.7 L522.1,387.9 L522.2,389.0 L522.3,390.1 L522.5,391.2 L522.6,392.4 L522.7,393.5 L522.7,394.6 L522.8,395.7 L522.8,396.8 L522.9,397.9 L522.9,399.0 L522.9,400.1 L522.9,401.2 L522.9,402.3 L522.9,403.4 L522.8,404.5 L522.8,405.5 L522.7,406.6 L522.6,407.7 L522.5,408.7 L522.4,409.8 L522.3,410.8 L522.2,411.8 L522.0,412.9 L521.9,413.9 L521.7,414.9 L521.5,415.9 L521.3,416.9 L521.1,417.8 L520.9,418.8 L520.7,419.8 L520.4,420.7 L520.2,421.6 L519.9,422.6 L519.6,423.5 L519.3,424.4 L519.0,425.3 L518.7,426.1 L518.4,427.0 L518.0,427.8 L517.7,428.7 L517.3,429.5 L516.9,430.3 L516.5,431.1 L516.1,431.9 L515.7,432.7 L515.3,433.4 L514.9,434.2 L514.4,434.9 L514.0,435.6 L513.5,436.3 L513.0,437.0 L512.5,437.6 L512.0,438.3 L511.5,438.9 L511.0,439.5 L510.5,440.1 L510.0,440.7 L509.4,441.2 L508.9,441.8 L508.3,442.3 L507.8,442.8 L507.2,443.3 L506.6,443.8 L506.0,444.3 L505.4,444.7 L504.8,445.1 L504.2,445.5 L503.5,445.9 L502.9,446.3 L502.3,446.6 L501.6,446.9 L501.0,447.3 L500.3,447.6 L499.7,447.8 L499.0,448.1 L498.3,448.3 L497.6,448.5 L496.9,448.7 L496.3,448.9 L495.6,449.0 L494.9,449.2 L494.1,449.3 L493.4,449.4 L492.7,449.5 L492.0,449.5 L491.3,449.6 L490.6,449.6 L489.8,449.6 L489.1,449.6 L488.4,449.5 L487.6,449.5 L486.9,449.4 L486.1,449.3 L485.4,449.2 L484.6,449.0 L483.9,448.9 L483.1,448.7 L482.4,448.5 L481.6,448.3 L480.9,448.0 L480.1,447.8 L479.4,447.5 L478.6,447.2 L477.9,446.9 L477.1,446.6 L476.4,446.2 L475.6,445.9 L474.9,445.5 L474.1,445.1 L473.4,444.6 L472.7,444.2 L471.9,443.7 L471.2,443.3 L470.5,442.8 L469.7,442.3 L469.0,441.7 L468.3,441.2 L467.5,440.6 L466.8,440.0 L466.1,439.4 L465.4,438.8 L464.7,438.2 L464.0,437.5 L463.3,436.9 L462.6,436.2 L461.9,435.5 L461.2,434.8 L460.6,434.1 L459.9,433.3 L459.2,432.6 L458.6,431.8 L457.9,431.0 L457.3,430.2 L456.6,429.4 L456.0,428.6 L455.4,427.7 L454.8,426.9 L454.2,426.0 L453.6,425.1 L453.0,424.2 L452.4,423.3 L451.8,422.4 L451.3,421.5 L450.7,420.6 L450.2,419.6 L449.6,418.7 L449.1,417.7 L448.6,416.7 L448.1,415.7 L447.6,414.7 L447.1,413.7 L446.6,412.7 L446.1,411.7 L445.6,410.7 L445.2,409.6 L444.8,408.6 L444.3,407.5 L443.9,406.5 L443.5,405.4 L443.1,404.3 L442.7,403.2 L442.3,402.2 L442.0,401.1 L441.6,400.0 L441.3,398.9 L441.0,397.8 L440.6,396.7 L440.3,395.6 L440.0,394.4 L439.8,393.3 L439.5,392.2 L439.2,391.1 L439.0,390.0 L438.8,388.8 L438.6,387.7 L438.3,386.6 L438.2,385.5 L438.0,384.3 L437.8,383.2 L437.7,382.1 L437.5,380.9 L437.4,379.8 L437.3,378.7 L437.2,377.6 L437.1,376.5 L437.0,375.3 L436.9,374.2 L436.9,373.1 L436.8,372.0 L436.8,370.9 L436.8,369.8 L436.8,368.7 L436.8,367.6 L436.8,366.5 L436.9,365.5 L436.9,364.4 L437.0,363.3 L437.1,362.3 L437.2,361.2 L437.3,360.2 L437.4,359.1 L437.5,358.1 L437.7,357.1 L437.8,356.1 L438.0,355.1 L438.2,354.1 L438.4,353.1 L438.6,352.1 L438.8,351.1 L439.1,350.2 L439.3,349.2 L439.6,348.3 L439.8,347.4 L440.1,346.5 L440.4,345.6 L440.7,344.7 L441.0,343.8 L441.4,342.9 L441.7,342.1 L442.1,341.2 L442.4,340.4 L442.8,339.6 L443.2,338.8 L443.6,338.0 L444.0,337.3 L444.4,336.5 L444.9,335.8 L445.3,335.1 L445.8,334.3 L446.2,333.6 L446.7,333.0 L447.2,332.3 L447.7,331.7 L448.2,331.0 L448.7,330.4 L449.2,329.8 L449.8,329.2 L450.3,328.7 L450.8,328.1 L451.4,327.6 L452.0,327.1 L452.5,326.6 L453.1,326.1 L453.7,325.7 L454.3,325.2 L454.9,324.8 L455.6,324.4 L456.2,324.0 L456.8,323.7 L457.4,323.3 L458.1,323.0 L458.7,322.7 L459.4,322.4 L460.1,322.1 L460.7,321.9 L461.4,321.6 L462.1,321.4 L462.8,321.2 L463.5,321.0 L464.2,320.9 L464.9,320.7 L465.6,320.6 L466.3,320.5 L467.0,320.5 L467.7,320.4 L468.4,320.4 L469.2,320.3 L469.9,320.3 L470.6,320.4 L471.4,320.4 L472.1,320.5 L472.9,320.5 L473.6,320.6 L474.3,320.8 L475.1,320.9 L475.8,321.1 L476.6,321.2 L477.3,321.4 L478.1,321.7 L478.8,321.9 L479.6,322.1 L480.3,322.4 L481.1,322.7 L481.8,323.0 L482.6,323.4 L483.3,323.7 L484.1,324.1 L484.8,324.5 L485.6,324.9 L486.3,325.3 L487.1,325.7 L487.8,326.2 L488.5,326.7 L489.3,327.2 L490.0,327.7 L490.7,328.2 L491.5,328.8 L492.2,329.3 L492.9,329.9 L493.6,330.5 L494.3,331.1 L495.0,331.7 L495.7,332.4 L496.4,333.1 L497.1,333.7 L497.8,334.4 L498.5,335.1 L499.2,335.9 L499.8,336.6 L500.5,337.4 L501.2,338.1 L501.8,338.9 L502.4,339.7 L503.1,340.5 L503.7,341.4 L504.3,342.2 L504.9,343.1 L505.6,343.9 L506.2,344.8 L506.7,345.7 L507.3,346.6 L507.9,347.5 L508.5,348.4 L509.0,349.4 L509.6,350.3 L510.1,351.3 L510.6,352.2 L511.2,353.2 L511.7,354.2 L512.2,355.2 L512.7,356.2 L513.1,357.2 L513.6,358.2 L514.1,359.3 L514.5,360.3 L515.0,361.4 L515.4,362.4 L515.8,363.5 L516.2,364.5 L516.6,365.6 L517.0,366.7 L517.4,367.8 L517.8,368.9 L518.1,370.0 L518.4,371.1 L518.8,372.2 L519.1,373.3 Z" fill="#fff" fill-rule="evenodd" stroke-width="1.5"/>
<path d="M526.3,372.5 L526.7,373.9 L527.0,375.4 L527.4,376.8 L527.7,378.2 L528.0,379.6 L528.3,381.1 L528.6,382.5 L528.8,383.9 L529.1,385.4 L529.3,386.8 L529.5,388.3 L529.7,389.7 L529.9,391.1 L530.1,392.6 L530.2,394.0 L533.6,396.0 L533.7,397.5 L533.8,399.0 L533.9,400.5 L534.0,402.0 L534.0,403.5 L534.0,405.0 L534.1,406.4 L534.1,407.9 L530.8,408.1 L530.7,409.5 L530.7,410.8 L530.6,412.2 L530.5,413.5 L530.4,414.9 L530.3,416.2 L530.2,417.6 L530.0,418.9 L529.9,420.2 L529.7,421.5 L529.5,422.8 L529.3,424.1 L529.0,425.3 L528.8,426.6 L528.5,427.8 L528.2,429.1 L527.9,430.3 L527.6,431.5 L527.3,432.7 L526.9,433.8 L526.6,435.0 L526.2,436.1 L525.8,437.3 L525.4,438.4 L525.0,439.5 L524.6,440.6 L524.1,441.6 L523.6,442.7 L523.2,443.7 L522.7,444.7 L524.9,449.3 L524.3,450.3 L523.8,451.3 L523.2,452.3 L522.6,453.3 L522.0,454.3 L521.4,455.2 L520.7,456.1 L520.1,457.0 L517.0,453.8 L516.3,454.6 L515.7,455.4 L515.0,456.2 L514.3,456.9 L513.6,457.6 L512.9,458.3 L512.2,459.0 L511.5,459.7 L510.8,460.3 L510.0,460.9 L509.3,461.5 L508.5,462.0 L507.7,462.6 L506.9,463.1 L506.1,463.6 L505.3,464.0 L504.5,464.5 L503.7,464.9 L502.9,465.3 L502.0,465.7 L501.2,466.0 L500.3,466.3 L499.5,466.6 L498.6,466.9 L497.7,467.1 L496.9,467.4 L496.0,467.6 L495.1,467.7 L494.2,467.9 L493.3,468.0 L493.3,473.0 L492.4,473.1 L491.4,473.1 L490.4,473.1 L489.4,473.1 L488.4,473.1 L487.4,473.1 L486.5,473.0 L485.5,472.9 L484.0,467.9 L483.0,467.7 L482.1,467.5 L481.1,467.3 L480.2,467.1 L479.2,466.9 L478.3,466.6 L477.3,466.3 L476.4,466.0 L475.4,465.6 L474.4,465.2 L473.5,464.8 L472.5,464.4 L471.6,464.0 L470.6,463.5 L469.7,463.0 L468.7,462.5 L467.8,462.0 L466.8,461.4 L465.9,460.8 L465.0,460.2 L464.0,459.6 L463.1,458.9 L462.2,458.2 L461.2,457.5 L460.3,456.8 L459.4,456.1 L458.5,455.3 L457.6,454.5 L456.7,453.7 L455.8,452.9 L453.7,456.0 L452.7,455.1 L451.8,454.1 L450.9,453.2 L450.0,452.2 L449.1,451.2 L448.2,450.2 L447.3,449.1 L446.4,448.1 L447.3,443.6 L446.5,442.5 L445.7,441.5 L444.9,440.4 L444.1,439.3 L443.3,438.2 L442.5,437.1 L441.8,436.0 L441.0,434.8 L440.3,433.7 L439.6,432.5 L438.9,431.3 L438.2,430.1 L437.5,428.9 L436.8,427.7 L436.2,426.4 L435.5,425.2 L434.9,423.9 L434.2,422.6 L433.6,421.3 L433.0,420.0 L432.4,418.7 L431.9,417.4 L431.3,416.1 L430.8,414.7 L430.2,413.4 L429.7,412.0 L429.2,410.6 L428.7,409.3 L428.2,407.9 L427.8,406.5 L424.4,406.2 L424.0,404.8 L423.5,403.3 L423.1,401.8 L422.7,400.3 L422.3,398.8 L421.9,397.3 L421.6,395.8 L421.2,394.3 L424.0,392.4 L423.7,390.9 L423.4,389.5 L423.2,388.1 L422.9,386.6 L422.7,385.2 L422.5,383.7 L422.3,382.3 L422.1,380.9 L421.9,379.4 L421.8,378.0 L421.7,376.6 L421.5,375.2 L421.4,373.7 L421.4,372.3 L421.3,370.9 L421.2,369.5 L421.2,368.1 L421.2,366.7 L421.2,365.3 L421.2,363.9 L421.3,362.5 L421.3,361.2 L421.4,359.8 L421.5,358.5 L421.6,357.1 L421.7,355.8 L421.8,354.4 L422.0,353.1 L422.1,351.8 L422.3,350.5 L419.3,347.0 L419.6,345.7 L419.8,344.3 L420.1,343.0 L420.4,341.7 L420.7,340.4 L421.0,339.1 L421.3,337.8 L421.7,336.6 L425.1,338.2 L425.4,337.0 L425.8,335.9 L426.2,334.7 L426.6,333.6 L427.0,332.5 L427.4,331.4 L427.9,330.4 L428.4,329.3 L428.8,328.3 L429.3,327.3 L429.8,326.3 L430.4,325.3 L430.9,324.3 L431.5,323.4 L432.0,322.5 L432.6,321.6 L433.2,320.7 L433.8,319.8 L434.4,319.0 L435.0,318.2 L435.7,317.4 L436.3,316.6 L437.0,315.8 L437.7,315.1 L438.4,314.4 L439.1,313.7 L439.8,313.0 L440.5,312.3 L441.2,311.7 L442.0,311.1 L440.8,306.0 L441.6,305.4 L442.4,304.9 L443.2,304.3 L444.1,303.8 L444.9,303.3 L445.8,302.9 L446.6,302.4 L447.5,302.0 L450.0,306.3 L450.8,306.0 L451.7,305.7 L452.5,305.4 L453.4,305.1 L454.3,304.9 L455.1,304.6 L456.0,304.4 L456.9,304.3 L457.8,304.1 L458.7,304.0 L459.6,303.9 L460.6,303.8 L461.5,303.8 L462.4,303.8 L463.3,303.8 L464.3,303.8 L465.2,303.8 L466.1,303.9 L467.1,304.0 L468.0,304.1 L469.0,304.3 L469.9,304.5 L470.9,304.7 L471.8,304.9 L472.8,305.1 L473.7,305.4 L474.7,305.7 L475.6,306.0 L476.6,306.4 L477.6,306.8 L478.7,302.5 L479.7,302.9 L480.7,303.4 L481.7,303.9 L482.7,304.4 L483.7,305.0 L484.7,305.5 L485.7,306.1 L486.7,306.7 L487.0,311.8 L488.0,312.4 L488.9,313.1 L489.8,313.8 L490.8,314.5 L491.7,315.2 L492.6,315.9 L493.5,316.7 L494.4,317.5 L495.3,318.3 L496.2,319.1 L497.1,319.9 L498.0,320.8 L498.8,321.7 L499.7,322.6 L500.6,323.5 L501.4,324.5 L502.3,325.4 L503.1,326.4 L503.9,327.4 L504.7,328.4 L505.5,329.5 L506.3,330.5 L507.1,331.6 L507.9,332.7 L508.7,333.8 L509.5,334.9 L510.2,336.0 L511.0,337.2 L511.7,338.3 L512.4,339.5 L515.3,338.0 L516.1,339.3 L516.8,340.6 L517.5,341.9 L518.2,343.2 L518.9,344.5 L519.6,345.9 L520.2,347.2 L520.9,348.6 L519.0,352.0 L519.6,353.3 L520.1,354.6 L520.7,355.9 L521.2,357.3 L521.8,358.6 L522.3,360.0 L522.8,361.4 L523.3,362.7 L523.8,364.1 L524.2,365.5 L524.7,366.9 L525.1,368.3 L525.5,369.7 L525.9,371.1 Z M515.5,375.4 L515.8,376.5 L516.1,377.6 L516.4,378.8 L516.6,379.9 L516.9,381.0 L517.1,382.1 L517.3,383.3 L517.5,384.4 L517.7,385.5 L517.9,386.6 L518.1,387.8 L518.2,388.9 L518.4,390.0 L518.5,391.1 L518.6,392.3 L518.7,393.4 L518.8,394.5 L518.9,395.6 L518.9,396.7 L519.0,397.9 L519.0,399.0 L519.0,400.1 L519.1,401.2 L519.1,402.3 L519.0,403.3 L519.0,404.4 L519.0,405.5 L518.9,406.6 L518.9,407.6 L518.8,408.7 L518.7,409.8 L518.6,410.8 L518.5,411.8 L518.3,412.9 L518.2,413.9 L518.0,414.9 L517.8,415.9 L517.7,416.9 L517.5,417.9 L517.3,418.9 L517.0,419.8 L516.8,420.8 L516.6,421.7 L516.3,422.7 L516.0,423.6 L515.7,424.5 L515.4,425.4 L515.1,426.3 L514.8,427.2 L514.5,428.0 L514.1,428.9 L513.8,429.7 L513.4,430.5 L513.1,431.4 L512.7,432.1 L512.3,432.9 L511.9,433.7 L511.4,434.5 L511.0,435.2 L510.6,435.9 L510.1,436.6 L509.6,437.3 L509.2,438.0 L508.7,438.7 L508.2,439.3 L507.7,439.9 L507.2,440.5 L506.6,441.1 L506.1,441.7 L505.6,442.3 L505.0,442.8 L504.5,443.4 L503.9,443.9 L503.3,444.4 L502.7,444.8 L502.1,445.3 L501.5,445.7 L500.9,446.2 L500.3,446.6 L499.7,446.9 L499.1,447.3 L498.4,447.7 L497.8,448.0 L497.1,448.3 L496.5,448.6 L495.8,448.9 L495.1,449.1 L494.5,449.3 L493.8,449.6 L493.1,449.8 L492.4,449.9 L491.7,450.1 L491.0,450.2 L490.3,450.3 L489.6,450.4 L488.9,450.5 L488.1,450.6 L487.4,450.6 L486.7,450.6 L486.0,450.6 L485.2,450.6 L484.5,450.6 L483.8,450.5 L483.0,450.4 L482.3,450.3 L481.5,450.2 L480.8,450.1 L480.0,449.9 L479.3,449.7 L478.5,449.5 L477.8,449.3 L477.0,449.1 L476.3,448.8 L475.5,448.5 L474.8,448.3 L474.0,447.9 L473.3,447.6 L472.5,447.3 L471.8,446.9 L471.0,446.5 L470.3,446.1 L469.5,445.7 L468.8,445.2 L468.1,444.8 L467.3,444.3 L466.6,443.8 L465.9,443.3 L465.1,442.8 L464.4,442.2 L463.7,441.6 L463.0,441.1 L462.2,440.5 L461.5,439.8 L460.8,439.2 L460.1,438.6 L459.4,437.9 L458.7,437.2 L458.1,436.5 L457.4,435.8 L456.7,435.1 L456.0,434.4 L455.4,433.6 L454.7,432.8 L454.1,432.0 L453.4,431.2 L452.8,430.4 L452.2,429.6 L451.5,428.8 L450.9,427.9 L450.3,427.0 L449.7,426.2 L449.1,425.3 L448.5,424.4 L448.0,423.5 L447.4,422.5 L446.8,421.6 L446.3,420.7 L445.8,419.7 L445.2,418.7 L444.7,417.8 L444.2,416.8 L443.7,415.8 L443.2,414.8 L442.7,413.8 L442.2,412.7 L441.8,411.7 L441.3,410.7 L440.9,409.6 L440.5,408.6 L440.0,407.5 L439.6,406.4 L439.2,405.4 L438.9,404.3 L438.5,403.2 L438.1,402.1 L437.8,401.0 L437.4,399.9 L437.1,398.8 L436.8,397.7 L436.5,396.6 L436.2,395.5 L435.9,394.4 L435.6,393.2 L435.4,392.1 L435.1,391.0 L434.9,389.9 L434.7,388.7 L434.5,387.6 L434.3,386.5 L434.1,385.4 L433.9,384.2 L433.8,383.1 L433.6,382.0 L433.5,380.9 L433.4,379.7 L433.3,378.6 L433.2,377.5 L433.1,376.4 L433.1,375.3 L433.0,374.1 L433.0,373.0 L433.0,371.9 L432.9,370.8 L432.9,369.7 L433.0,368.7 L433.0,367.6 L433.0,366.5 L433.1,365.4 L433.1,364.4 L433.2,363.3 L433.3,362.2 L433.4,361.2 L433.5,360.2 L433.7,359.1 L433.8,358.1 L434.0,357.1 L434.2,356.1 L434.3,355.1 L434.5,354.1 L434.7,353.1 L435.0,352.2 L435.2,351.2 L435.4,350.3 L435.7,349.3 L436.0,348.4 L436.3,347.5 L436.6,346.6 L436.9,345.7 L437.2,344.8 L437.5,344.0 L437.9,343.1 L438.2,342.3 L438.6,341.5 L438.9,340.6 L439.3,339.9 L439.7,339.1 L440.1,338.3 L440.6,337.5 L441.0,336.8 L441.4,336.1 L441.9,335.4 L442.4,334.7 L442.8,334.0 L443.3,333.3 L443.8,332.7 L444.3,332.1 L444.8,331.5 L445.4,330.9 L445.9,330.3 L446.4,329.7 L447.0,329.2 L447.5,328.6 L448.1,328.1 L448.7,327.6 L449.3,327.2 L449.9,326.7 L450.5,326.3 L451.1,325.8 L451.7,325.4 L452.3,325.1 L452.9,324.7 L453.6,324.3 L454.2,324.0 L454.9,323.7 L455.5,323.4 L456.2,323.1 L456.9,322.9 L457.5,322.7 L458.2,322.4 L458.9,322.2 L459.6,322.1 L460.3,321.9 L461.0,321.8 L461.7,321.7 L462.4,321.6 L463.1,321.5 L463.9,321.4 L464.6,321.4 L465.3,321.4 L466.0,321.4 L466.8,321.4 L467.5,321.4 L468.2,321.5 L469.0,321.6 L469.7,321.7 L470.5,321.8 L471.2,321.9 L472.0,322.1 L472.7,322.3 L473.5,322.5 L474.2,322.7 L475.0,322.9 L475.7,323.2 L476.5,323.5 L477.2,323.7 L478.0,324.1 L478.7,324.4 L479.5,324.7 L480.2,325.1 L481.0,325.5 L481.7,325.9 L482.5,326.3 L483.2,326.8 L483.9,327.2 L484.7,327.7 L485.4,328.2 L486.1,328.7 L486.9,329.2 L487.6,329.8 L488.3,330.4 L489.0,330.9 L489.8,331.5 L490.5,332.2 L491.2,332.8 L491.9,333.4 L492.6,334.1 L493.3,334.8 L493.9,335.5 L494.6,336.2 L495.3,336.9 L496.0,337.6 L496.6,338.4 L497.3,339.2 L497.9,340.0 L498.6,340.8 L499.2,341.6 L499.8,342.4 L500.5,343.2 L501.1,344.1 L501.7,345.0 L502.3,345.8 L502.9,346.7 L503.5,347.6 L504.0,348.5 L504.6,349.5 L505.2,350.4 L505.7,351.3 L506.2,352.3 L506.8,353.3 L507.3,354.2 L507.8,355.2 L508.3,356.2 L508.8,357.2 L509.3,358.2 L509.8,359.3 L510.2,360.3 L510.7,361.3 L511.1,362.4 L511.5,363.4 L512.0,364.5 L512.4,365.6 L512.8,366.6 L513.1,367.7 L513.5,368.8 L513.9,369.9 L514.2,371.0 L514.6,372.1 L514.9,373.2 L515.2,374.3 Z" fill="#fff" fill-rule="evenodd" stroke-width="1.5"/>
<path d="M498.6,377.6 L498.9,379.0 L499.3,380.5 L499.6,381.9 L499.9,383.3 L500.3,384.7 L503.7,385.8 L503.9,387.3 L504.2,388.8 L504.5,390.3 L504.7,391.8 L504.9,393.3 L505.1,394.8 L505.3,396.3 L505.5,397.8 L502.4,398.8 L502.6,400.3 L502.7,401.7 L502.8,403.1 L502.9,404.5 L502.9,405.9 L503.0,407.3 L503.0,408.6 L503.0,410.0 L503.0,411.4 L503.0,412.8 L503.0,414.1 L502.9,415.5 L502.8,416.8 L502.8,418.2 L502.7,419.5 L502.5,420.8 L502.4,422.2 L502.3,423.5 L502.1,424.8 L501.9,426.0 L501.7,427.3 L501.5,428.6 L501.3,429.8 L501.0,431.1 L500.7,432.3 L500.5,433.5 L500.2,434.7 L499.9,435.9 L499.5,437.1 L499.2,438.2 L501.9,442.3 L501.5,443.5 L501.1,444.7 L500.6,445.9 L500.2,447.0 L499.7,448.1 L499.3,449.3 L498.8,450.4 L498.3,451.4 L495.0,449.0 L494.5,450.0 L494.0,450.9 L493.4,451.9 L492.9,452.8 L492.3,453.7 L491.8,454.6 L491.2,455.5 L490.6,456.4 L490.0,457.2 L489.3,458.0 L488.7,458.8 L488.1,459.6 L487.4,460.3 L486.7,461.0 L486.1,461.7 L485.4,462.4 L484.7,463.1 L483.9,463.7 L483.2,464.4 L482.5,465.0 L481.7,465.5 L481.0,466.1 L480.2,466.6 L479.4,467.1 L478.7,467.6 L477.9,468.1 L477.1,468.5 L476.2,468.9 L475.4,469.3 L474.6,469.7 L475.3,474.8 L474.4,475.1 L473.5,475.4 L472.6,475.7 L471.6,476.0 L470.7,476.2 L469.8,476.4 L468.9,476.6 L467.9,476.7 L465.9,472.0 L465.0,472.1 L464.1,472.2 L463.2,472.2 L462.3,472.2 L461.4,472.2 L460.5,472.2 L459.5,472.2 L458.6,472.1 L457.7,472.0 L456.7,471.9 L455.8,471.7 L454.9,471.5 L453.9,471.3 L453.0,471.1 L452.0,470.9 L451.1,470.6 L450.2,470.3 L449.2,470.0 L448.3,469.6 L447.3,469.3 L446.4,468.9 L445.4,468.4 L444.5,468.0 L443.6,467.5 L442.6,467.1 L441.7,466.5 L440.7,466.0 L439.8,465.5 L438.9,464.9 L438.0,464.3 L436.3,468.0 L435.3,467.3 L434.4,466.6 L433.4,465.9 L432.4,465.2 L431.5,464.4 L430.5,463.6 L429.6,462.8 L428.6,461.9 L428.9,457.1 L428.0,456.2 L427.2,455.4 L426.3,454.5 L425.4,453.6 L424.6,452.7 L423.8,451.8 L422.9,450.8 L422.1,449.9 L421.3,448.9 L420.5,447.9 L419.7,446.8 L418.9,445.8 L418.1,444.7 L417.3,443.7 L416.6,442.6 L415.8,441.5 L415.1,440.4 L414.3,439.2 L413.6,438.1 L412.9,436.9 L412.2,435.7 L411.5,434.6 L410.8,433.3 L410.2,432.1 L409.5,430.9 L408.9,429.7 L408.2,428.4 L407.6,427.1 L407.0,425.9 L406.4,424.6 L403.2,425.2 L402.6,423.8 L402.0,422.5 L401.5,421.0 L400.9,419.6 L400.4,418.2 L399.8,416.8 L399.3,415.3 L398.8,413.9 L401.2,411.2 L400.8,409.8 L400.3,408.5 L399.9,407.1 L399.5,405.7 L399.2,404.3 L398.8,402.9 L398.4,401.5 L398.1,400.1 L397.8,398.7 L397.5,397.2 L397.2,395.8 L396.9,394.4 L396.7,393.0 L396.4,391.6 L396.2,390.2 L396.0,388.7 L395.8,387.3 L395.6,385.9 L395.4,384.5 L395.3,383.1 L395.2,381.7 L395.0,380.3 L395.0,378.9 L394.9,377.5 L394.8,376.1 L394.8,374.7 L394.7,373.3 L394.7,371.9 L394.7,370.5 L394.7,369.2 L391.5,366.4 L391.6,365.0 L391.6,363.5 L391.7,362.1 L391.8,360.7 L392.0,359.3 L392.1,357.9 L392.3,356.5 L392.4,355.1 L395.8,355.9 L396.0,354.6 L396.2,353.4 L396.5,352.1 L396.7,350.9 L397.0,349.6 L397.3,348.4 L397.6,347.2 L397.9,346.0 L398.2,344.9 L398.5,343.7 L398.9,342.5 L399.3,341.4 L399.6,340.3 L400.0,339.2 L400.5,338.1 L400.9,337.0 L401.3,336.0 L401.8,335.0 L402.3,333.9 L402.8,332.9 L403.3,331.9 L403.8,331.0 L404.3,330.0 L404.8,329.1 L405.4,328.2 L406.0,327.3 L406.6,326.4 L407.2,325.6 L407.8,324.7 L408.4,323.9 L406.6,319.1 L407.3,318.2 L408.0,317.4 L408.7,316.7 L409.4,315.9 L410.2,315.2 L410.9,314.5 L411.7,313.8 L412.4,313.1 L415.2,317.0 L416.0,316.4 L416.8,315.8 L417.5,315.3 L418.3,314.8 L419.1,314.3 L419.9,313.9 L420.7,313.4 L421.5,313.0 L422.3,312.6 L423.1,312.3 L424.0,311.9 L424.8,311.6 L425.7,311.3 L426.5,311.0 L427.4,310.8 L428.3,310.6 L429.1,310.4 L430.0,310.2 L430.9,310.1 L431.8,309.9 L432.7,309.8 L433.6,309.8 L434.5,309.7 L435.4,309.7 L436.3,309.7 L437.3,309.7 L438.2,309.8 L439.1,309.9 L440.0,310.0 L441.0,310.1 L441.5,305.4 L442.5,305.5 L443.5,305.8 L444.5,306.0 L445.5,306.3 L446.5,306.5 L447.5,306.9 L448.5,307.2 L449.5,307.6 L450.4,312.7 L451.3,313.1 L452.3,313.5 L453.2,313.9 L454.2,314.4 L455.1,314.9 L456.1,315.4 L457.0,315.9 L457.9,316.5 L458.8,317.1 L459.8,317.7 L460.7,318.3 L461.6,318.9 L462.5,319.6 L463.5,320.3 L464.4,321.0 L465.3,321.7 L466.2,322.5 L467.1,323.2 L467.9,324.0 L468.8,324.9 L469.7,325.7 L470.6,326.5 L471.4,327.4 L472.3,328.3 L473.1,329.2 L474.0,330.2 L474.8,331.1 L475.6,332.1 L476.5,333.1 L477.3,334.1 L479.8,331.7 L480.7,332.8 L481.5,333.9 L482.3,335.1 L483.1,336.2 L483.9,337.4 L484.7,338.6 L485.5,339.8 L486.2,341.0 L484.8,345.0 L485.5,346.2 L486.2,347.4 L486.9,348.6 L487.6,349.8 L488.2,351.0 L488.9,352.3 L489.5,353.5 L490.1,354.8 L490.7,356.1 L491.3,357.3 L491.9,358.6 L492.5,360.0 L493.0,361.3 L493.6,362.6 L494.1,363.9 L494.6,365.3 L495.1,366.6 L495.6,368.0 L496.1,369.3 L496.5,370.7 L497.0,372.1 L497.4,373.5 L497.8,374.9 L498.2,376.2 Z M487.2,380.7 L487.5,381.8 L487.7,382.9 L488.0,383.9 L488.3,385.0 L488.5,386.1 L488.7,387.2 L488.9,388.3 L489.1,389.4 L489.3,390.5 L489.5,391.6 L489.6,392.7 L489.8,393.8 L489.9,394.9 L490.1,396.0 L490.2,397.0 L490.3,398.1 L490.4,399.2 L490.4,400.3 L490.5,401.4 L490.5,402.5 L490.6,403.5 L490.6,404.6 L490.6,405.7 L490.6,406.7 L490.6,407.8 L490.6,408.8 L490.5,409.9 L490.5,410.9 L490.4,412.0 L490.3,413.0 L490.2,414.0 L490.1,415.0 L490.0,416.0 L489.9,417.0 L489.8,418.0 L489.6,419.0 L489.4,420.0 L489.3,420.9 L489.1,421.9 L488.9,422.8 L488.7,423.8 L488.4,424.7 L488.2,425.6 L487.9,426.5 L487.7,427.4 L487.4,428.3 L487.1,429.2 L486.8,430.0 L486.5,430.9 L486.2,431.7 L485.9,432.5 L485.5,433.4 L485.2,434.2 L484.8,434.9 L484.4,435.7 L484.0,436.5 L483.6,437.2 L483.2,437.9 L482.8,438.7 L482.4,439.4 L481.9,440.1 L481.5,440.7 L481.0,441.4 L480.6,442.0 L480.1,442.7 L479.6,443.3 L479.1,443.9 L478.6,444.4 L478.1,445.0 L477.5,445.5 L477.0,446.1 L476.5,446.6 L475.9,447.1 L475.4,447.6 L474.8,448.0 L474.2,448.5 L473.6,448.9 L473.0,449.3 L472.4,449.7 L471.8,450.1 L471.2,450.4 L470.6,450.8 L470.0,451.1 L469.3,451.4 L468.7,451.7 L468.1,451.9 L467.4,452.2 L466.8,452.4 L466.1,452.6 L465.4,452.8 L464.8,453.0 L464.1,453.1 L463.4,453.2 L462.7,453.3 L462.0,453.4 L461.3,453.5 L460.6,453.6 L459.9,453.6 L459.2,453.6 L458.5,453.6 L457.8,453.6 L457.1,453.6 L456.4,453.5 L455.7,453.4 L454.9,453.3 L454.2,453.2 L453.5,453.1 L452.8,452.9 L452.0,452.8 L451.3,452.6 L450.6,452.4 L449.9,452.1 L449.1,451.9 L448.4,451.6 L447.7,451.3 L446.9,451.0 L446.2,450.7 L445.5,450.4 L444.8,450.0 L444.0,449.6 L443.3,449.2 L442.6,448.8 L441.9,448.4 L441.2,448.0 L440.4,447.5 L439.7,447.0 L439.0,446.5 L438.3,446.0 L437.6,445.5 L436.9,444.9 L436.2,444.4 L435.5,443.8 L434.8,443.2 L434.2,442.6 L433.5,441.9 L432.8,441.3 L432.1,440.6 L431.5,440.0 L430.8,439.3 L430.2,438.6 L429.5,437.9 L428.9,437.1 L428.2,436.4 L427.6,435.6 L427.0,434.8 L426.4,434.0 L425.7,433.2 L425.1,432.4 L424.5,431.6 L424.0,430.8 L423.4,429.9 L422.8,429.1 L422.2,428.2 L421.7,427.3 L421.1,426.4 L420.6,425.5 L420.1,424.6 L419.5,423.6 L419.0,422.7 L418.5,421.8 L418.0,420.8 L417.5,419.8 L417.1,418.9 L416.6,417.9 L416.1,416.9 L415.7,415.9 L415.2,414.9 L414.8,413.9 L414.4,412.8 L414.0,411.8 L413.6,410.8 L413.2,409.7 L412.8,408.7 L412.5,407.6 L412.1,406.6 L411.8,405.5 L411.5,404.5 L411.1,403.4 L410.8,402.3 L410.5,401.2 L410.3,400.2 L410.0,399.1 L409.7,398.0 L409.5,396.9 L409.2,395.8 L409.0,394.7 L408.8,393.6 L408.6,392.5 L408.4,391.4 L408.2,390.3 L408.1,389.3 L407.9,388.2 L407.8,387.1 L407.7,386.0 L407.6,384.9 L407.5,383.8 L407.4,382.7 L407.3,381.6 L407.2,380.5 L407.2,379.5 L407.1,378.4 L407.1,377.3 L407.1,376.3 L407.1,375.2 L407.1,374.1 L407.2,373.1 L407.2,372.0 L407.2,371.0 L407.3,370.0 L407.4,368.9 L407.5,367.9 L407.6,366.9 L407.7,365.9 L407.8,364.9 L408.0,363.9 L408.1,362.9 L408.3,362.0 L408.5,361.0 L408.7,360.0 L408.9,359.1 L409.1,358.2 L409.3,357.2 L409.5,356.3 L409.8,355.4 L410.0,354.5 L410.3,353.6 L410.6,352.8 L410.9,351.9 L411.2,351.0 L411.5,350.2 L411.9,349.4 L412.2,348.6 L412.6,347.8 L412.9,347.0 L413.3,346.2 L413.7,345.5 L414.1,344.7 L414.5,344.0 L414.9,343.3 L415.4,342.6 L415.8,341.9 L416.2,341.2 L416.7,340.5 L417.2,339.9 L417.7,339.3 L418.1,338.7 L418.6,338.1 L419.1,337.5 L419.7,336.9 L420.2,336.4 L420.7,335.9 L421.3,335.3 L421.8,334.8 L422.4,334.4 L422.9,333.9 L423.5,333.5 L424.1,333.0 L424.7,332.6 L425.3,332.2 L425.9,331.9 L426.5,331.5 L427.1,331.2 L427.8,330.9 L428.4,330.6 L429.0,330.3 L429.7,330.0 L430.3,329.8 L431.0,329.5 L431.6,329.3 L432.3,329.1 L433.0,329.0 L433.6,328.8 L434.3,328.7 L435.0,328.6 L435.7,328.5 L436.4,328.4 L437.1,328.4 L437.8,328.3 L438.5,328.3 L439.2,328.3 L439.9,328.3 L440.6,328.4 L441.3,328.4 L442.1,328.5 L442.8,328.6 L443.5,328.7 L444.2,328.8 L445.0,329.0 L445.7,329.2 L446.4,329.4 L447.1,329.6 L447.9,329.8 L448.6,330.0 L449.3,330.3 L450.0,330.6 L450.8,330.9 L451.5,331.2 L452.2,331.6 L453.0,331.9 L453.7,332.3 L454.4,332.7 L455.1,333.1 L455.8,333.5 L456.6,334.0 L457.3,334.4 L458.0,334.9 L458.7,335.4 L459.4,335.9 L460.1,336.5 L460.8,337.0 L461.5,337.6 L462.2,338.2 L462.9,338.7 L463.6,339.4 L464.3,340.0 L464.9,340.6 L465.6,341.3 L466.3,342.0 L466.9,342.7 L467.6,343.4 L468.2,344.1 L468.9,344.8 L469.5,345.6 L470.1,346.3 L470.8,347.1 L471.4,347.9 L472.0,348.7 L472.6,349.5 L473.2,350.3 L473.8,351.2 L474.4,352.0 L474.9,352.9 L475.5,353.7 L476.1,354.6 L476.6,355.5 L477.1,356.4 L477.7,357.4 L478.2,358.3 L478.7,359.2 L479.2,360.2 L479.7,361.1 L480.2,362.1 L480.7,363.1 L481.1,364.1 L481.6,365.0 L482.0,366.0 L482.5,367.1 L482.9,368.1 L483.3,369.1 L483.7,370.1 L484.1,371.2 L484.5,372.2 L484.9,373.2 L485.3,374.3 L485.6,375.3 L485.9,376.4 L486.3,377.5 L486.6,378.5 L486.9,379.6 Z" fill="#fff" fill-rule="evenodd" stroke-width="1.5"/>
<path d="M494.7,378.7 L495.1,380.1 L495.4,381.5 L495.8,382.9 L496.1,384.3 L496.4,385.7 L499.8,386.8 L500.1,388.3 L500.4,389.8 L500.6,391.3 L500.9,392.9 L501.1,394.4 L501.3,395.9 L501.5,397.4 L501.6,398.9 L498.6,399.9 L498.7,401.3 L498.8,402.7 L498.9,404.1 L499.0,405.5 L499.1,406.9 L499.1,408.3 L499.1,409.7 L499.1,411.1 L499.1,412.4 L499.1,413.8 L499.1,415.2 L499.0,416.5 L499.0,417.9 L498.9,419.2 L498.8,420.6 L498.7,421.9 L498.5,423.2 L498.4,424.5 L498.2,425.8 L498.0,427.1 L497.8,428.3 L497.6,429.6 L497.4,430.9 L497.1,432.1 L496.9,433.3 L496.6,434.5 L496.3,435.7 L496.0,436.9 L495.7,438.1 L495.3,439.3 L498.0,443.3 L497.6,444.5 L497.2,445.7 L496.8,446.9 L496.3,448.0 L495.9,449.2 L495.4,450.3 L494.9,451.4 L494.4,452.5 L491.1,450.0 L490.6,451.0 L490.1,452.0 L489.6,452.9 L489.0,453.9 L488.5,454.8 L487.9,455.7 L487.3,456.5 L486.7,457.4 L486.1,458.2 L485.5,459.0 L484.8,459.8 L484.2,460.6 L483.5,461.3 L482.9,462.1 L482.2,462.8 L481.5,463.5 L480.8,464.1 L480.1,464.8 L479.4,465.4 L478.6,466.0 L477.9,466.6 L477.1,467.1 L476.3,467.7 L475.6,468.2 L474.8,468.6 L474.0,469.1 L473.2,469.5 L472.4,470.0 L471.6,470.3 L470.7,470.7 L471.4,475.8 L470.5,476.1 L469.6,476.5 L468.7,476.7 L467.8,477.0 L466.9,477.2 L465.9,477.4 L465.0,477.6 L464.0,477.8 L462.1,473.0 L461.2,473.1 L460.3,473.2 L459.4,473.2 L458.4,473.3 L457.5,473.3 L456.6,473.2 L455.7,473.2 L454.7,473.1 L453.8,473.0 L452.9,472.9 L451.9,472.7 L451.0,472.6 L450.1,472.4 L449.1,472.1 L448.2,471.9 L447.2,471.6 L446.3,471.3 L445.4,471.0 L444.4,470.7 L443.5,470.3 L442.5,469.9 L441.6,469.5 L440.6,469.0 L439.7,468.6 L438.8,468.1 L437.8,467.6 L436.9,467.0 L435.9,466.5 L435.0,465.9 L434.1,465.3 L432.4,469.1 L431.5,468.4 L430.5,467.7 L429.5,466.9 L428.6,466.2 L427.6,465.4 L426.7,464.6 L425.7,463.8 L424.8,463.0 L425.0,458.1 L424.2,457.3 L423.3,456.4 L422.4,455.5 L421.6,454.6 L420.7,453.7 L419.9,452.8 L419.1,451.9 L418.2,450.9 L417.4,449.9 L416.6,448.9 L415.8,447.9 L415.0,446.8 L414.2,445.8 L413.5,444.7 L412.7,443.6 L411.9,442.5 L411.2,441.4 L410.5,440.3 L409.7,439.1 L409.0,438.0 L408.3,436.8 L407.6,435.6 L407.0,434.4 L406.3,433.2 L405.6,431.9 L405.0,430.7 L404.4,429.4 L403.7,428.2 L403.1,426.9 L402.5,425.6 L399.4,426.3 L398.8,424.9 L398.2,423.5 L397.6,422.1 L397.1,420.7 L396.5,419.2 L396.0,417.8 L395.5,416.4 L395.0,414.9 L397.4,412.3 L396.9,410.9 L396.5,409.5 L396.1,408.1 L395.7,406.7 L395.3,405.3 L394.9,403.9 L394.6,402.5 L394.2,401.1 L393.9,399.7 L393.6,398.3 L393.3,396.9 L393.0,395.4 L392.8,394.0 L392.5,392.6 L392.3,391.2 L392.1,389.8 L391.9,388.4 L391.7,386.9 L391.6,385.5 L391.4,384.1 L391.3,382.7 L391.2,381.3 L391.1,379.9 L391.0,378.5 L390.9,377.1 L390.9,375.7 L390.9,374.3 L390.9,372.9 L390.9,371.6 L390.9,370.2 L387.6,367.4 L387.7,366.0 L387.8,364.6 L387.9,363.1 L388.0,361.7 L388.1,360.3 L388.2,358.9 L388.4,357.5 L388.6,356.2 L392.0,356.9 L392.2,355.7 L392.4,354.4 L392.6,353.1 L392.9,351.9 L393.1,350.7 L393.4,349.5 L393.7,348.3 L394.0,347.1 L394.3,345.9 L394.7,344.7 L395.0,343.6 L395.4,342.4 L395.8,341.3 L396.2,340.2 L396.6,339.1 L397.0,338.1 L397.5,337.0 L397.9,336.0 L398.4,335.0 L398.9,334.0 L399.4,333.0 L399.9,332.0 L400.4,331.1 L401.0,330.1 L401.5,329.2 L402.1,328.3 L402.7,327.5 L403.3,326.6 L403.9,325.8 L404.5,325.0 L402.8,320.1 L403.4,319.3 L404.1,318.5 L404.9,317.7 L405.6,317.0 L406.3,316.2 L407.1,315.5 L407.8,314.8 L408.6,314.2 L411.4,318.0 L412.1,317.4 L412.9,316.9 L413.7,316.3 L414.4,315.8 L415.2,315.4 L416.0,314.9 L416.8,314.5 L417.6,314.0 L418.4,313.7 L419.3,313.3 L420.1,313.0 L420.9,312.6 L421.8,312.3 L422.7,312.1 L423.5,311.8 L424.4,311.6 L425.3,311.4 L426.1,311.2 L427.0,311.1 L427.9,311.0 L428.8,310.9 L429.7,310.8 L430.6,310.8 L431.6,310.7 L432.5,310.7 L433.4,310.8 L434.3,310.8 L435.3,310.9 L436.2,311.0 L437.1,311.1 L437.6,306.4 L438.6,306.6 L439.6,306.8 L440.6,307.0 L441.6,307.3 L442.6,307.6 L443.6,307.9 L444.6,308.2 L445.6,308.6 L446.5,313.7 L447.5,314.1 L448.4,314.5 L449.4,315.0 L450.3,315.4 L451.2,315.9 L452.2,316.4 L453.1,317.0 L454.1,317.5 L455.0,318.1 L455.9,318.7 L456.8,319.3 L457.8,320.0 L458.7,320.6 L459.6,321.3 L460.5,322.0 L461.4,322.8 L462.3,323.5 L463.2,324.3 L464.1,325.1 L465.0,325.9 L465.8,326.7 L466.7,327.6 L467.6,328.5 L468.4,329.4 L469.3,330.3 L470.1,331.2 L470.9,332.1 L471.8,333.1 L472.6,334.1 L473.4,335.1 L476.0,332.8 L476.8,333.9 L477.6,335.0 L478.4,336.1 L479.3,337.3 L480.1,338.4 L480.8,339.6 L481.6,340.8 L482.4,342.0 L481.0,346.0 L481.7,347.2 L482.4,348.4 L483.0,349.6 L483.7,350.8 L484.4,352.1 L485.0,353.3 L485.6,354.6 L486.3,355.8 L486.9,357.1 L487.5,358.4 L488.0,359.7 L488.6,361.0 L489.2,362.3 L489.7,363.6 L490.2,365.0 L490.7,366.3 L491.2,367.7 L491.7,369.0 L492.2,370.4 L492.6,371.7 L493.1,373.1 L493.5,374.5 L493.9,375.9 L494.3,377.3 Z M483.3,381.7 L483.6,382.8 L483.9,383.9 L484.1,385.0 L484.4,386.1 L484.6,387.2 L484.8,388.2 L485.1,389.3 L485.3,390.4 L485.4,391.5 L485.6,392.6 L485.8,393.7 L485.9,394.8 L486.1,395.9 L486.2,397.0 L486.3,398.1 L486.4,399.2 L486.5,400.3 L486.6,401.3 L486.6,402.4 L486.7,403.5 L486.7,404.6 L486.7,405.6 L486.8,406.7 L486.8,407.8 L486.7,408.8 L486.7,409.9 L486.7,410.9 L486.6,412.0 L486.6,413.0 L486.5,414.0 L486.4,415.0 L486.3,416.0 L486.2,417.1 L486.0,418.1 L485.9,419.0 L485.7,420.0 L485.6,421.0 L485.4,422.0 L485.2,422.9 L485.0,423.9 L484.8,424.8 L484.6,425.7 L484.3,426.6 L484.1,427.6 L483.8,428.5 L483.5,429.3 L483.3,430.2 L483.0,431.1 L482.6,431.9 L482.3,432.8 L482.0,433.6 L481.6,434.4 L481.3,435.2 L480.9,436.0 L480.6,436.7 L480.2,437.5 L479.8,438.3 L479.4,439.0 L478.9,439.7 L478.5,440.4 L478.1,441.1 L477.6,441.8 L477.2,442.4 L476.7,443.1 L476.2,443.7 L475.7,444.3 L475.2,444.9 L474.7,445.5 L474.2,446.0 L473.7,446.6 L473.1,447.1 L472.6,447.6 L472.0,448.1 L471.5,448.6 L470.9,449.1 L470.3,449.5 L469.8,449.9 L469.2,450.3 L468.6,450.7 L468.0,451.1 L467.4,451.5 L466.7,451.8 L466.1,452.1 L465.5,452.4 L464.8,452.7 L464.2,453.0 L463.5,453.2 L462.9,453.4 L462.2,453.6 L461.6,453.8 L460.9,454.0 L460.2,454.1 L459.5,454.3 L458.9,454.4 L458.2,454.5 L457.5,454.6 L456.8,454.6 L456.1,454.6 L455.4,454.7 L454.7,454.7 L453.9,454.6 L453.2,454.6 L452.5,454.5 L451.8,454.5 L451.1,454.4 L450.4,454.3 L449.6,454.1 L448.9,454.0 L448.2,453.8 L447.5,453.6 L446.7,453.4 L446.0,453.2 L445.3,452.9 L444.5,452.7 L443.8,452.4 L443.1,452.1 L442.4,451.7 L441.6,451.4 L440.9,451.0 L440.2,450.7 L439.5,450.3 L438.7,449.9 L438.0,449.4 L437.3,449.0 L436.6,448.5 L435.9,448.0 L435.2,447.6 L434.5,447.0 L433.8,446.5 L433.1,446.0 L432.4,445.4 L431.7,444.8 L431.0,444.2 L430.3,443.6 L429.6,443.0 L428.9,442.3 L428.3,441.7 L427.6,441.0 L426.9,440.3 L426.3,439.6 L425.6,438.9 L425.0,438.2 L424.4,437.4 L423.7,436.6 L423.1,435.9 L423.5,433.1 L423.0,432.3 L422.4,431.5 L421.8,430.7 L421.3,429.9 L420.7,429.1 L420.2,428.3 L419.6,427.5 L419.1,426.6 L417.3,427.4 L416.7,426.5 L416.2,425.6 L415.7,424.7 L415.2,423.7 L414.6,422.8 L414.2,421.8 L413.7,420.9 L413.2,419.9 L412.7,418.9 L412.3,417.9 L411.8,416.9 L411.4,415.9 L411.0,414.9 L410.5,413.9 L410.1,412.8 L409.7,411.8 L409.4,410.8 L409.0,409.7 L408.6,408.7 L408.3,407.6 L409.7,405.9 L409.3,404.9 L409.0,403.8 L408.7,402.8 L408.5,401.8 L408.2,400.8 L407.9,399.7 L407.7,398.7 L407.5,397.7 L405.4,396.8 L405.2,395.8 L404.9,394.7 L404.7,393.6 L404.6,392.5 L404.4,391.4 L404.2,390.3 L404.1,389.2 L403.9,388.1 L403.8,387.0 L403.7,385.9 L403.6,384.8 L403.5,383.7 L403.4,382.7 L403.4,381.6 L403.3,380.5 L403.3,379.4 L403.3,378.4 L403.2,377.3 L403.2,376.2 L403.3,375.2 L405.2,375.0 L405.3,374.0 L405.3,373.0 L405.4,372.0 L405.5,371.0 L405.6,370.0 L405.7,369.1 L405.8,368.1 L405.9,367.2 L404.1,365.0 L404.3,364.0 L404.4,363.0 L404.6,362.0 L404.8,361.1 L405.0,360.1 L405.2,359.2 L405.4,358.3 L405.7,357.4 L405.9,356.4 L406.2,355.5 L406.5,354.7 L406.7,353.8 L407.0,352.9 L407.4,352.1 L407.7,351.2 L408.0,350.4 L408.4,349.6 L408.7,348.8 L409.1,348.0 L409.4,347.3 L409.8,346.5 L410.2,345.7 L410.6,345.0 L411.1,344.3 L411.5,343.6 L411.9,342.9 L412.4,342.2 L412.8,341.6 L413.3,340.9 L413.8,340.3 L414.3,339.7 L414.8,339.1 L415.3,338.5 L415.8,338.0 L416.3,337.4 L416.9,336.9 L417.4,336.4 L418.0,335.9 L418.5,335.4 L419.1,334.9 L419.7,334.5 L420.2,334.1 L420.8,333.7 L421.4,333.3 L422.0,332.9 L422.6,332.5 L423.3,332.2 L423.9,331.9 L424.5,331.6 L425.2,331.3 L425.8,331.0 L426.5,330.8 L427.1,330.6 L427.8,330.4 L428.4,330.2 L429.1,330.0 L429.8,329.9 L430.5,329.7 L431.1,329.6 L431.8,329.5 L432.5,329.4 L433.2,329.4 L433.9,329.4 L434.6,329.3 L435.3,329.3 L436.1,329.4 L436.8,329.4 L437.5,329.5 L438.2,329.5 L438.9,329.6 L439.6,329.7 L440.4,329.9 L441.1,330.0 L441.8,330.2 L442.5,330.4 L443.3,330.6 L444.0,330.8 L444.7,331.1 L445.5,331.3 L446.2,331.6 L446.9,331.9 L447.6,332.3 L448.4,332.6 L449.1,333.0 L449.8,333.3 L450.5,333.7 L451.3,334.1 L452.0,334.6 L452.7,335.0 L453.4,335.5 L454.1,336.0 L454.8,336.4 L455.5,337.0 L456.2,337.5 L456.9,338.0 L457.6,338.6 L458.3,339.2 L459.0,339.8 L459.7,340.4 L460.4,341.0 L461.1,341.7 L461.7,342.3 L462.4,343.0 L463.1,343.7 L463.7,344.4 L464.4,345.1 L465.0,345.8 L465.6,346.6 L466.3,347.4 L466.9,348.1 L467.5,348.9 L468.1,349.7 L468.7,350.5 L469.3,351.4 L469.9,352.2 L470.5,353.0 L471.1,353.9 L471.6,354.8 L472.2,355.7 L472.7,356.6 L473.3,357.5 L473.8,358.4 L474.3,359.3 L474.8,360.3 L475.4,361.2 L475.8,362.2 L476.3,363.1 L476.8,364.1 L477.3,365.1 L477.7,366.1 L478.2,367.1 L478.6,368.1 L479.0,369.1 L479.5,370.1 L479.9,371.2 L480.3,372.2 L480.6,373.2 L481.0,374.3 L481.4,375.3 L481.7,376.4 L482.1,377.4 L482.4,378.5 L482.7,379.6 L483.0,380.7 Z" fill="#fff" fill-rule="evenodd" stroke-width="1.5"/>
<polygon points="564.3,322.3 543.0,328.0 545.2,336.2 566.5,330.5" fill="#fff" stroke="none"/>
<ellipse cx="565.4" cy="326.4" rx="1.8" ry="4.2" transform="rotate(-15 565.4 326.4)" fill="none" stroke-width="1.25"/>
<ellipse cx="562.7" cy="327.1" rx="1.8" ry="4.2" transform="rotate(-15 562.7 327.1)" fill="none" stroke-width="1.25"/>
<ellipse cx="560.1" cy="327.8" rx="1.8" ry="4.2" transform="rotate(-15 560.1 327.8)" fill="none" stroke-width="1.25"/>
<ellipse cx="557.4" cy="328.5" rx="1.8" ry="4.2" transform="rotate(-15 557.4 328.5)" fill="none" stroke-width="1.25"/>
<ellipse cx="554.8" cy="329.2" rx="1.8" ry="4.2" transform="rotate(-15 554.8 329.2)" fill="none" stroke-width="1.25"/>
<ellipse cx="552.1" cy="330.0" rx="1.8" ry="4.2" transform="rotate(-15 552.1 330.0)" fill="none" stroke-width="1.25"/>
<ellipse cx="549.4" cy="330.7" rx="1.8" ry="4.2" transform="rotate(-15 549.4 330.7)" fill="none" stroke-width="1.25"/>
<ellipse cx="546.8" cy="331.4" rx="1.8" ry="4.2" transform="rotate(-15 546.8 331.4)" fill="none" stroke-width="1.25"/>
<ellipse cx="544.1" cy="332.1" rx="1.8" ry="4.2" transform="rotate(-15 544.1 332.1)" fill="none" stroke-width="1.25"/>
<polygon points="569.7,315.7 548.5,321.4 550.6,329.5 571.9,323.8" fill="#fff" stroke="none"/>
<ellipse cx="570.8" cy="319.8" rx="1.8" ry="4.2" transform="rotate(-15 570.8 319.8)" fill="none" stroke-width="1.25"/>
<ellipse cx="568.1" cy="320.5" rx="1.8" ry="4.2" transform="rotate(-15 568.1 320.5)" fill="none" stroke-width="1.25"/>
<ellipse cx="565.5" cy="321.2" rx="1.8" ry="4.2" transform="rotate(-15 565.5 321.2)" fill="none" stroke-width="1.25"/>
<ellipse cx="562.8" cy="321.9" rx="1.8" ry="4.2" transform="rotate(-15 562.8 321.9)" fill="none" stroke-width="1.25"/>
<ellipse cx="560.2" cy="322.6" rx="1.8" ry="4.2" transform="rotate(-15 560.2 322.6)" fill="none" stroke-width="1.25"/>
<ellipse cx="557.5" cy="323.4" rx="1.8" ry="4.2" transform="rotate(-15 557.5 323.4)" fill="none" stroke-width="1.25"/>
<ellipse cx="554.9" cy="324.1" rx="1.8" ry="4.2" transform="rotate(-15 554.9 324.1)" fill="none" stroke-width="1.25"/>
<ellipse cx="552.2" cy="324.8" rx="1.8" ry="4.2" transform="rotate(-15 552.2 324.8)" fill="none" stroke-width="1.25"/>
<ellipse cx="549.5" cy="325.5" rx="1.8" ry="4.2" transform="rotate(-15 549.5 325.5)" fill="none" stroke-width="1.25"/>
<polygon points="576.5,312.1 555.3,317.8 557.4,326.0 578.7,320.3" fill="#fff" stroke="none"/>
<ellipse cx="577.6" cy="316.2" rx="1.8" ry="4.2" transform="rotate(-15 577.6 316.2)" fill="none" stroke-width="1.25"/>
<ellipse cx="575.0" cy="316.9" rx="1.8" ry="4.2" transform="rotate(-15 575.0 316.9)" fill="none" stroke-width="1.25"/>
<ellipse cx="572.3" cy="317.6" rx="1.8" ry="4.2" transform="rotate(-15 572.3 317.6)" fill="none" stroke-width="1.25"/>
<ellipse cx="569.6" cy="318.3" rx="1.8" ry="4.2" transform="rotate(-15 569.6 318.3)" fill="none" stroke-width="1.25"/>
<ellipse cx="567.0" cy="319.0" rx="1.8" ry="4.2" transform="rotate(-15 567.0 319.0)" fill="none" stroke-width="1.25"/>
<ellipse cx="564.3" cy="319.8" rx="1.8" ry="4.2" transform="rotate(-15 564.3 319.8)" fill="none" stroke-width="1.25"/>
<ellipse cx="561.7" cy="320.5" rx="1.8" ry="4.2" transform="rotate(-15 561.7 320.5)" fill="none" stroke-width="1.25"/>
<ellipse cx="559.0" cy="321.2" rx="1.8" ry="4.2" transform="rotate(-15 559.0 321.2)" fill="none" stroke-width="1.25"/>
<ellipse cx="556.4" cy="321.9" rx="1.8" ry="4.2" transform="rotate(-15 556.4 321.9)" fill="none" stroke-width="1.25"/>
<polygon points="558.7,320.9 539.4,326.0 541.6,334.2 560.9,329.0" fill="#fff" stroke="none"/>
<ellipse cx="559.8" cy="324.9" rx="1.8" ry="4.2" transform="rotate(-15 559.8 324.9)" fill="none" stroke-width="1.25"/>
<ellipse cx="557.0" cy="325.7" rx="1.8" ry="4.2" transform="rotate(-15 557.0 325.7)" fill="none" stroke-width="1.25"/>
<ellipse cx="554.3" cy="326.4" rx="1.8" ry="4.2" transform="rotate(-15 554.3 326.4)" fill="none" stroke-width="1.25"/>
<ellipse cx="551.5" cy="327.1" rx="1.8" ry="4.2" transform="rotate(-15 551.5 327.1)" fill="none" stroke-width="1.25"/>
<ellipse cx="548.8" cy="327.9" rx="1.8" ry="4.2" transform="rotate(-15 548.8 327.9)" fill="none" stroke-width="1.25"/>
<ellipse cx="546.0" cy="328.6" rx="1.8" ry="4.2" transform="rotate(-15 546.0 328.6)" fill="none" stroke-width="1.25"/>
<ellipse cx="543.2" cy="329.4" rx="1.8" ry="4.2" transform="rotate(-15 543.2 329.4)" fill="none" stroke-width="1.25"/>
<ellipse cx="540.5" cy="330.1" rx="1.8" ry="4.2" transform="rotate(-15 540.5 330.1)" fill="none" stroke-width="1.25"/>
<polygon points="564.2,312.0 544.9,317.2 547.1,325.3 566.4,320.1" fill="#fff" stroke="none"/>
<ellipse cx="565.3" cy="316.1" rx="1.8" ry="4.2" transform="rotate(-15 565.3 316.1)" fill="none" stroke-width="1.25"/>
<ellipse cx="562.6" cy="316.8" rx="1.8" ry="4.2" transform="rotate(-15 562.6 316.8)" fill="none" stroke-width="1.25"/>
<ellipse cx="559.8" cy="317.6" rx="1.8" ry="4.2" transform="rotate(-15 559.8 317.6)" fill="none" stroke-width="1.25"/>
<ellipse cx="557.0" cy="318.3" rx="1.8" ry="4.2" transform="rotate(-15 557.0 318.3)" fill="none" stroke-width="1.25"/>
<ellipse cx="554.3" cy="319.0" rx="1.8" ry="4.2" transform="rotate(-15 554.3 319.0)" fill="none" stroke-width="1.25"/>
<ellipse cx="551.5" cy="319.8" rx="1.8" ry="4.2" transform="rotate(-15 551.5 319.8)" fill="none" stroke-width="1.25"/>
<ellipse cx="548.8" cy="320.5" rx="1.8" ry="4.2" transform="rotate(-15 548.8 320.5)" fill="none" stroke-width="1.25"/>
<ellipse cx="546.0" cy="321.3" rx="1.8" ry="4.2" transform="rotate(-15 546.0 321.3)" fill="none" stroke-width="1.25"/>
<polygon points="592.5,318.1 578.9,321.7 581.1,329.8 594.6,326.2" fill="#fff" stroke="none"/>
<ellipse cx="593.5" cy="322.1" rx="1.8" ry="4.2" transform="rotate(-15 593.5 322.1)" fill="none" stroke-width="1.25"/>
<ellipse cx="590.8" cy="322.8" rx="1.8" ry="4.2" transform="rotate(-15 590.8 322.8)" fill="none" stroke-width="1.25"/>
<ellipse cx="588.1" cy="323.6" rx="1.8" ry="4.2" transform="rotate(-15 588.1 323.6)" fill="none" stroke-width="1.25"/>
<ellipse cx="585.4" cy="324.3" rx="1.8" ry="4.2" transform="rotate(-15 585.4 324.3)" fill="none" stroke-width="1.25"/>
<ellipse cx="582.7" cy="325.0" rx="1.8" ry="4.2" transform="rotate(-15 582.7 325.0)" fill="none" stroke-width="1.25"/>
<ellipse cx="580.0" cy="325.7" rx="1.8" ry="4.2" transform="rotate(-15 580.0 325.7)" fill="none" stroke-width="1.25"/>
<polygon points="603.0,324.4 589.5,328.0 591.7,336.1 605.2,332.5" fill="#fff" stroke="none"/>
<ellipse cx="604.1" cy="328.4" rx="1.8" ry="4.2" transform="rotate(-15 604.1 328.4)" fill="none" stroke-width="1.25"/>
<ellipse cx="601.4" cy="329.2" rx="1.8" ry="4.2" transform="rotate(-15 601.4 329.2)" fill="none" stroke-width="1.25"/>
<ellipse cx="598.7" cy="329.9" rx="1.8" ry="4.2" transform="rotate(-15 598.7 329.9)" fill="none" stroke-width="1.25"/>
<ellipse cx="596.0" cy="330.6" rx="1.8" ry="4.2" transform="rotate(-15 596.0 330.6)" fill="none" stroke-width="1.25"/>
<ellipse cx="593.3" cy="331.3" rx="1.8" ry="4.2" transform="rotate(-15 593.3 331.3)" fill="none" stroke-width="1.25"/>
<ellipse cx="590.6" cy="332.1" rx="1.8" ry="4.2" transform="rotate(-15 590.6 332.1)" fill="none" stroke-width="1.25"/>
<polygon points="611.9,336.4 598.4,340.0 600.6,348.1 614.1,344.5" fill="#fff" stroke="none"/>
<ellipse cx="613.0" cy="340.4" rx="1.8" ry="4.2" transform="rotate(-15 613.0 340.4)" fill="none" stroke-width="1.25"/>
<ellipse cx="610.3" cy="341.1" rx="1.8" ry="4.2" transform="rotate(-15 610.3 341.1)" fill="none" stroke-width="1.25"/>
<ellipse cx="607.6" cy="341.9" rx="1.8" ry="4.2" transform="rotate(-15 607.6 341.9)" fill="none" stroke-width="1.25"/>
<ellipse cx="604.9" cy="342.6" rx="1.8" ry="4.2" transform="rotate(-15 604.9 342.6)" fill="none" stroke-width="1.25"/>
<ellipse cx="602.2" cy="343.3" rx="1.8" ry="4.2" transform="rotate(-15 602.2 343.3)" fill="none" stroke-width="1.25"/>
<ellipse cx="599.5" cy="344.0" rx="1.8" ry="4.2" transform="rotate(-15 599.5 344.0)" fill="none" stroke-width="1.25"/>
<polygon points="617.4,351.8 603.9,355.4 606.1,363.5 619.6,359.9" fill="#fff" stroke="none"/>
<ellipse cx="618.5" cy="355.8" rx="1.8" ry="4.2" transform="rotate(-15 618.5 355.8)" fill="none" stroke-width="1.25"/>
<ellipse cx="615.8" cy="356.5" rx="1.8" ry="4.2" transform="rotate(-15 615.8 356.5)" fill="none" stroke-width="1.25"/>
<ellipse cx="613.1" cy="357.3" rx="1.8" ry="4.2" transform="rotate(-15 613.1 357.3)" fill="none" stroke-width="1.25"/>
<ellipse cx="610.4" cy="358.0" rx="1.8" ry="4.2" transform="rotate(-15 610.4 358.0)" fill="none" stroke-width="1.25"/>
<ellipse cx="607.7" cy="358.7" rx="1.8" ry="4.2" transform="rotate(-15 607.7 358.7)" fill="none" stroke-width="1.25"/>
<ellipse cx="605.0" cy="359.4" rx="1.8" ry="4.2" transform="rotate(-15 605.0 359.4)" fill="none" stroke-width="1.25"/>
<polygon points="618.5,367.7 605.0,371.3 607.2,379.5 620.7,375.8" fill="#fff" stroke="none"/>
<ellipse cx="619.6" cy="371.8" rx="1.8" ry="4.2" transform="rotate(-15 619.6 371.8)" fill="none" stroke-width="1.25"/>
<ellipse cx="616.9" cy="372.5" rx="1.8" ry="4.2" transform="rotate(-15 616.9 372.5)" fill="none" stroke-width="1.25"/>
<ellipse cx="614.2" cy="373.2" rx="1.8" ry="4.2" transform="rotate(-15 614.2 373.2)" fill="none" stroke-width="1.25"/>
<ellipse cx="611.5" cy="373.9" rx="1.8" ry="4.2" transform="rotate(-15 611.5 373.9)" fill="none" stroke-width="1.25"/>
<ellipse cx="608.8" cy="374.7" rx="1.8" ry="4.2" transform="rotate(-15 608.8 374.7)" fill="none" stroke-width="1.25"/>
<ellipse cx="606.1" cy="375.4" rx="1.8" ry="4.2" transform="rotate(-15 606.1 375.4)" fill="none" stroke-width="1.25"/>
<polygon points="615.0,381.2 601.5,384.8 603.7,393.0 617.2,389.3" fill="#fff" stroke="none"/>
<ellipse cx="616.1" cy="385.3" rx="1.8" ry="4.2" transform="rotate(-15 616.1 385.3)" fill="none" stroke-width="1.25"/>
<ellipse cx="613.4" cy="386.0" rx="1.8" ry="4.2" transform="rotate(-15 613.4 386.0)" fill="none" stroke-width="1.25"/>
<ellipse cx="610.7" cy="386.7" rx="1.8" ry="4.2" transform="rotate(-15 610.7 386.7)" fill="none" stroke-width="1.25"/>
<ellipse cx="608.0" cy="387.4" rx="1.8" ry="4.2" transform="rotate(-15 608.0 387.4)" fill="none" stroke-width="1.25"/>
<ellipse cx="605.3" cy="388.2" rx="1.8" ry="4.2" transform="rotate(-15 605.3 388.2)" fill="none" stroke-width="1.25"/>
<ellipse cx="602.6" cy="388.9" rx="1.8" ry="4.2" transform="rotate(-15 602.6 388.9)" fill="none" stroke-width="1.25"/>
<polygon points="597.0,397.6 577.6,402.8 579.8,410.9 599.1,405.7" fill="#fff" stroke="none"/>
<ellipse cx="598.0" cy="401.7" rx="1.8" ry="4.2" transform="rotate(-15 598.0 401.7)" fill="none" stroke-width="1.25"/>
<ellipse cx="595.3" cy="402.4" rx="1.8" ry="4.2" transform="rotate(-15 595.3 402.4)" fill="none" stroke-width="1.25"/>
<ellipse cx="592.5" cy="403.1" rx="1.8" ry="4.2" transform="rotate(-15 592.5 403.1)" fill="none" stroke-width="1.25"/>
<ellipse cx="589.8" cy="403.9" rx="1.8" ry="4.2" transform="rotate(-15 589.8 403.9)" fill="none" stroke-width="1.25"/>
<ellipse cx="587.0" cy="404.6" rx="1.8" ry="4.2" transform="rotate(-15 587.0 404.6)" fill="none" stroke-width="1.25"/>
<ellipse cx="584.2" cy="405.4" rx="1.8" ry="4.2" transform="rotate(-15 584.2 405.4)" fill="none" stroke-width="1.25"/>
<ellipse cx="581.5" cy="406.1" rx="1.8" ry="4.2" transform="rotate(-15 581.5 406.1)" fill="none" stroke-width="1.25"/>
<ellipse cx="578.7" cy="406.8" rx="1.8" ry="4.2" transform="rotate(-15 578.7 406.8)" fill="none" stroke-width="1.25"/>
<polygon points="587.1,396.1 567.8,401.3 570.0,409.4 589.3,404.3" fill="#fff" stroke="none"/>
<ellipse cx="588.2" cy="400.2" rx="1.8" ry="4.2" transform="rotate(-15 588.2 400.2)" fill="none" stroke-width="1.25"/>
<ellipse cx="585.4" cy="400.9" rx="1.8" ry="4.2" transform="rotate(-15 585.4 400.9)" fill="none" stroke-width="1.25"/>
<ellipse cx="582.7" cy="401.7" rx="1.8" ry="4.2" transform="rotate(-15 582.7 401.7)" fill="none" stroke-width="1.25"/>
<ellipse cx="579.9" cy="402.4" rx="1.8" ry="4.2" transform="rotate(-15 579.9 402.4)" fill="none" stroke-width="1.25"/>
<ellipse cx="577.1" cy="403.2" rx="1.8" ry="4.2" transform="rotate(-15 577.1 403.2)" fill="none" stroke-width="1.25"/>
<ellipse cx="574.4" cy="403.9" rx="1.8" ry="4.2" transform="rotate(-15 574.4 403.9)" fill="none" stroke-width="1.25"/>
<ellipse cx="571.6" cy="404.6" rx="1.8" ry="4.2" transform="rotate(-15 571.6 404.6)" fill="none" stroke-width="1.25"/>
<ellipse cx="568.9" cy="405.4" rx="1.8" ry="4.2" transform="rotate(-15 568.9 405.4)" fill="none" stroke-width="1.25"/>
<polygon points="577.3,389.7 558.0,394.9 560.2,403.0 579.5,397.8" fill="#fff" stroke="none"/>
<ellipse cx="578.4" cy="393.7" rx="1.8" ry="4.2" transform="rotate(-15 578.4 393.7)" fill="none" stroke-width="1.25"/>
<ellipse cx="575.7" cy="394.5" rx="1.8" ry="4.2" transform="rotate(-15 575.7 394.5)" fill="none" stroke-width="1.25"/>
<ellipse cx="572.9" cy="395.2" rx="1.8" ry="4.2" transform="rotate(-15 572.9 395.2)" fill="none" stroke-width="1.25"/>
<ellipse cx="570.1" cy="396.0" rx="1.8" ry="4.2" transform="rotate(-15 570.1 396.0)" fill="none" stroke-width="1.25"/>
<ellipse cx="567.4" cy="396.7" rx="1.8" ry="4.2" transform="rotate(-15 567.4 396.7)" fill="none" stroke-width="1.25"/>
<ellipse cx="564.6" cy="397.4" rx="1.8" ry="4.2" transform="rotate(-15 564.6 397.4)" fill="none" stroke-width="1.25"/>
<ellipse cx="561.9" cy="398.2" rx="1.8" ry="4.2" transform="rotate(-15 561.9 398.2)" fill="none" stroke-width="1.25"/>
<ellipse cx="559.1" cy="398.9" rx="1.8" ry="4.2" transform="rotate(-15 559.1 398.9)" fill="none" stroke-width="1.25"/>
<polygon points="568.8,379.0 549.5,384.2 551.7,392.3 571.0,387.1" fill="#fff" stroke="none"/>
<ellipse cx="569.9" cy="383.1" rx="1.8" ry="4.2" transform="rotate(-15 569.9 383.1)" fill="none" stroke-width="1.25"/>
<ellipse cx="567.2" cy="383.8" rx="1.8" ry="4.2" transform="rotate(-15 567.2 383.8)" fill="none" stroke-width="1.25"/>
<ellipse cx="564.4" cy="384.5" rx="1.8" ry="4.2" transform="rotate(-15 564.4 384.5)" fill="none" stroke-width="1.25"/>
<ellipse cx="561.7" cy="385.3" rx="1.8" ry="4.2" transform="rotate(-15 561.7 385.3)" fill="none" stroke-width="1.25"/>
<ellipse cx="558.9" cy="386.0" rx="1.8" ry="4.2" transform="rotate(-15 558.9 386.0)" fill="none" stroke-width="1.25"/>
<ellipse cx="556.1" cy="386.8" rx="1.8" ry="4.2" transform="rotate(-15 556.1 386.8)" fill="none" stroke-width="1.25"/>
<ellipse cx="553.4" cy="387.5" rx="1.8" ry="4.2" transform="rotate(-15 553.4 387.5)" fill="none" stroke-width="1.25"/>
<ellipse cx="550.6" cy="388.2" rx="1.8" ry="4.2" transform="rotate(-15 550.6 388.2)" fill="none" stroke-width="1.25"/>
<ellipse cx="388.5" cy="407.0" rx="28.2" ry="45.5" transform="rotate(-15 388.5 407.0)" fill="none" stroke-width="1.5" />
<ellipse cx="388.5" cy="407.0" rx="26.0" ry="42.0" transform="rotate(-15 388.5 407.0)" fill="none" stroke-width="1.5" />
<ellipse cx="335.0" cy="420.0" rx="51.5" ry="83.0" transform="rotate(-15 335.0 420.0)" fill="none" stroke-width="1.5" />
<ellipse cx="335.0" cy="420.0" rx="49.3" ry="79.5" transform="rotate(-15 335.0 420.0)" fill="none" stroke-width="1.5" />
<polygon points="275.5,348.9 279.1,348.1 282.9,347.7 286.7,347.8 290.5,348.3 294.4,349.1 298.3,350.4 302.3,352.1 306.1,354.2 310.0,356.6 313.8,359.4 317.5,362.6 321.1,366.1 324.6,369.9 328.0,374.0 331.2,378.4 334.3,383.1 337.1,388.0 339.8,393.1 342.3,398.4 344.6,403.9 346.6,409.5 348.4,415.2 350.0,421.0 351.3,426.9 352.3,432.8 353.1,438.6 353.6,444.5 353.8,450.3 353.8,455.9 353.5,461.5 352.9,466.9 352.0,472.2 350.9,477.3 349.5,482.1 347.9,486.7 346.0,491.0 343.9,495.1 341.6,498.8 339.0,502.2 336.3,505.3 333.3,508.0 330.2,510.3 326.9,512.3 323.5,513.8 320.0,515.0 312.3,517.1 308.6,517.8 304.9,518.2 301.1,518.1 297.2,517.7 293.3,516.8 289.4,515.5 285.5,513.8 281.6,511.8 277.7,509.3 273.9,506.5 270.2,503.3 266.6,499.8 263.1,496.0 259.7,491.9 256.5,487.5 253.5,482.8 250.6,477.9 247.9,472.8 245.4,467.5 243.1,462.0 241.1,456.4 239.3,450.7 237.8,444.9 236.5,439.0 235.4,433.2 234.6,427.3 234.1,421.5 233.9,415.7 234.0,410.0 234.3,404.4 234.9,399.0 235.7,393.7 236.8,388.7 238.2,383.8 239.8,379.2 241.7,374.9 243.8,370.9 246.2,367.1 248.7,363.7 251.5,360.7 254.4,358.0 257.5,355.6 260.8,353.7 264.2,352.1 267.7,350.9" fill="#fff" stroke-width="1.5"/>
<polyline points="270.3,350.2 274.0,349.5 277.7,349.1 281.5,349.2 285.4,349.6 289.3,350.5 293.2,351.8 297.1,353.5 301.0,355.5 304.9,358.0 308.7,360.8 312.4,364.0 316.0,367.5 319.5,371.3 322.9,375.4 326.1,379.8 329.1,384.5 332.0,389.4 334.7,394.5 337.2,399.8 339.5,405.3 341.5,410.9 343.3,416.6 344.9,422.4 346.2,428.3 347.2,434.1 348.0,440.0 348.5,445.8 348.7,451.6 348.7,457.3 348.3,462.9 347.8,468.3 346.9,473.6 345.8,478.6 344.4,483.5 342.8,488.1 340.9,492.4 338.8,496.4 336.4,500.2 333.9,503.6 331.1,506.6 328.2,509.3 325.1,511.7 321.8,513.6 318.4,515.2 314.9,516.4" fill="none" stroke-width="1.4"/>
<polyline points="273.0,349.5 276.6,348.8 280.3,348.4 284.2,348.5 288.0,348.9 291.9,349.8 295.8,351.1 299.7,352.8 303.6,354.8 307.5,357.3 311.3,360.1 315.0,363.3 318.6,366.8 322.1,370.6 325.5,374.7 328.7,379.1 331.7,383.8 334.6,388.7 337.3,393.8 339.8,399.1 342.1,404.6 344.1,410.2 345.9,415.9 347.5,421.7 348.8,427.6 349.8,433.4 350.6,439.3 351.1,445.1 351.3,450.9 351.3,456.6 350.9,462.2 350.4,467.6 349.5,472.9 348.4,477.9 347.0,482.8 345.4,487.4 343.5,491.7 341.4,495.7 339.0,499.5 336.5,502.9 333.7,505.9 330.8,508.7 327.7,511.0 324.4,512.9 321.0,514.5 317.5,515.7" fill="none" stroke-width="1.4"/>
<ellipse cx="290.0" cy="434.0" rx="53.3" ry="86.0" transform="rotate(-15 290.0 434.0)" fill="#fff" stroke-width="1.5" />
<path d="M279.5,361 a3,4 0 1 0 5,6" fill="#fff" stroke-width="1.3"/>
<ellipse cx="290.0" cy="434.0" rx="35.3" ry="57.0" transform="rotate(-15 290.0 434.0)" fill="#fff" stroke-width="1.5" />
<ellipse cx="284.0" cy="436.0" rx="27.9" ry="45.0" transform="rotate(-15 284.0 436.0)" fill="#fff" stroke-width="1.5" />
<polyline points="292.6,479.1 290.7,478.9 288.7,478.6 286.7,478.1 284.7,477.3 282.7,476.3 280.7,475.2 278.8,473.8 276.8,472.3 275.0,470.6 273.1,468.7 271.4,466.7 269.7,464.5 268.1,462.2 266.6,459.7 265.1,457.2 263.8,454.5 262.6,451.7 261.5,448.9 260.5,446.0 259.6,443.1 258.9,440.1 258.3,437.1 257.9,434.1 257.5,431.1 257.3,428.1 257.3,425.2 257.4,422.3 257.6,419.5 258.0,416.7 258.5,414.1 259.1,411.6 259.9,409.1 260.8,406.9 261.8,404.7 263.0,402.7 264.2,400.9 265.6,399.2 267.0,397.8 268.6,396.5 270.2,395.4" fill="none" stroke-width="1.25"/>
<polyline points="295.1,478.6 293.1,478.5 291.2,478.1 289.2,477.6 287.2,476.8 285.2,475.9 283.3,474.7 281.3,473.4 279.4,471.9 277.6,470.2 275.8,468.4 274.0,466.3 272.4,464.2 270.8,461.9 269.3,459.5 267.9,456.9 266.6,454.3 265.4,451.6 264.3,448.8 263.3,445.9 262.4,443.0 261.7,440.0 261.1,437.1 260.7,434.1 260.4,431.1 260.2,428.2 260.1,425.3 260.2,422.4 260.4,419.7 260.8,416.9 261.3,414.3 261.9,411.8 262.7,409.4 263.6,407.2 264.6,405.1 265.7,403.1 267.0,401.3 268.3,399.7 269.7,398.2 271.3,396.9 272.9,395.8" fill="none" stroke-width="1.25"/>
<polyline points="297.5,478.1 295.6,478.0 293.6,477.6 291.7,477.1 289.7,476.4 287.8,475.4 285.8,474.3 283.9,473.0 282.0,471.5 280.2,469.8 278.4,468.0 276.7,466.0 275.1,463.9 273.5,461.6 272.0,459.2 270.6,456.7 269.3,454.1 268.1,451.4 267.0,448.6 266.1,445.8 265.2,442.9 264.5,440.0 264.0,437.1 263.5,434.1 263.2,431.2 263.0,428.3 262.9,425.4 263.0,422.6 263.3,419.8 263.6,417.2 264.1,414.6 264.7,412.1 265.5,409.8 266.4,407.5 267.4,405.4 268.5,403.5 269.7,401.7 271.0,400.1 272.5,398.6 274.0,397.4 275.6,396.3" fill="none" stroke-width="1.25"/>
<polyline points="299.9,477.6 298.0,477.5 296.1,477.2 294.2,476.6 292.2,475.9 290.3,475.0 288.4,473.8 286.5,472.5 284.6,471.1 282.8,469.4 281.1,467.6 279.4,465.6 277.7,463.5 276.2,461.3 274.7,458.9 273.3,456.4 272.1,453.9 270.9,451.2 269.8,448.5 268.9,445.7 268.0,442.8 267.3,439.9 266.8,437.0 266.3,434.1 266.0,431.2 265.8,428.4 265.8,425.5 265.9,422.7 266.1,420.0 266.4,417.4 266.9,414.8 267.6,412.4 268.3,410.1 269.2,407.8 270.1,405.8 271.2,403.9 272.5,402.1 273.8,400.5 275.2,399.1 276.7,397.8 278.2,396.8" fill="none" stroke-width="1.25"/>
<polyline points="290.0,394.8 291.7,395.0 293.6,395.3 295.4,395.8 297.2,396.5 299.0,397.3 300.8,398.4 302.6,399.6 304.3,401.0 306.0,402.5 307.7,404.2 309.3,406.1 310.8,408.1 312.3,410.2 313.7,412.4 315.0,414.8 316.2,417.2 317.3,419.7 318.3,422.3 319.2,424.9 320.0,427.6 320.6,430.3 321.2,433.0 321.6,435.8 321.9,438.5 322.1,441.2 322.1,443.9 322.0,446.5 321.8,449.0 321.5,451.5 321.0,453.9 320.4,456.2 319.7,458.4 318.9,460.5 318.0,462.4 316.9,464.3 315.8,465.9 314.6,467.4 313.2,468.8 311.8,469.9 310.4,470.9" fill="none" stroke-width="1.25"/>
<polyline points="294.0,394.8 295.7,395.0 297.6,395.3 299.4,395.8 301.2,396.5 303.0,397.3 304.8,398.4 306.6,399.6 308.3,401.0 310.0,402.5 311.7,404.2 313.3,406.1 314.8,408.1 316.3,410.2 317.7,412.4 319.0,414.8 320.2,417.2 321.3,419.7 322.3,422.3 323.2,424.9 324.0,427.6 324.6,430.3 325.2,433.0 325.6,435.8 325.9,438.5 326.1,441.2 326.1,443.9 326.0,446.5 325.8,449.0 325.5,451.5 325.0,453.9 324.4,456.2 323.7,458.4 322.9,460.5 322.0,462.4 320.9,464.3 319.8,465.9 318.6,467.4 317.2,468.8 315.8,469.9 314.4,470.9" fill="none" stroke-width="1.25"/>
<polygon points="181.7,367.3 185.5,366.5 189.4,366.1 193.4,366.2 197.4,366.7 201.5,367.6 205.6,368.9 209.7,370.7 213.8,372.9 217.8,375.4 221.8,378.4 225.7,381.7 229.4,385.3 233.1,389.3 236.6,393.6 240.0,398.3 243.2,403.1 246.2,408.3 249.0,413.6 251.6,419.2 254.0,424.9 256.1,430.8 258.0,436.8 259.7,442.8 261.0,449.0 262.1,455.1 262.9,461.3 263.4,467.4 263.7,473.4 263.6,479.4 263.3,485.2 262.7,490.9 261.8,496.4 260.6,501.7 259.2,506.7 257.5,511.5 255.5,516.1 253.3,520.3 250.8,524.2 248.2,527.8 245.3,531.0 242.2,533.8 239.0,536.3 235.5,538.3 232.0,539.9 228.3,541.2 199.3,548.9 195.5,549.7 191.6,550.1 187.6,550.0 183.5,549.5 179.5,548.6 175.4,547.3 171.3,545.5 167.2,543.4 163.2,540.8 159.2,537.9 155.3,534.6 151.5,530.9 147.9,526.9 144.3,522.6 141.0,518.0 137.8,513.1 134.8,508.0 131.9,502.6 129.3,497.0 127.0,491.3 124.8,485.4 122.9,479.5 121.3,473.4 120.0,467.3 118.9,461.1 118.1,455.0 117.5,448.9 117.3,442.8 117.3,436.9 117.7,431.0 118.3,425.4 119.2,419.9 120.4,414.6 121.8,409.5 123.5,404.7 125.5,400.2 127.7,395.9 130.1,392.0 132.8,388.5 135.7,385.2 138.8,382.4 142.0,380.0 145.4,377.9 149.0,376.3 152.7,375.1" fill="#fff" stroke-width="1.5"/>
<polyline points="167.2,371.2 171.0,370.4 174.9,370.0 178.9,370.1 183.0,370.6 187.0,371.5 191.1,372.8 195.2,374.6 199.3,376.7 203.3,379.3 207.3,382.2 211.2,385.6 215.0,389.2 218.6,393.2 222.1,397.5 225.5,402.1 228.7,407.0 231.7,412.2 234.6,417.5 237.2,423.1 239.5,428.8 241.7,434.7 243.5,440.7 245.2,446.7 246.5,452.8 247.6,459.0 248.4,465.1 248.9,471.2 249.2,477.3 249.1,483.2 248.8,489.1 248.2,494.8 247.3,500.3 246.1,505.6 244.7,510.6 243.0,515.4 241.0,520.0 238.8,524.2 236.4,528.1 233.7,531.7 230.8,534.9 227.7,537.7 224.5,540.1 221.1,542.2 217.5,543.8 213.8,545.1" fill="none" stroke-width="1.4"/>
<polygon points="165.2,372.1 164.2,367.2 185.4,361.5 202.4,363.1 181.2,368.8 181.3,373.6" fill="#fff" stroke-width="1.5"/>
<line x1="164.2" y1="367.2" x2="181.2" y2="368.8" stroke-width="1.25"/>
<polygon points="215.4,399.3 217.1,396.0 238.4,390.3 251.5,411.4 230.2,417.1 227.8,419.3" fill="#fff" stroke-width="1.5"/>
<line x1="217.1" y1="396.0" x2="230.2" y2="417.1" stroke-width="1.25"/>
<polygon points="242.4,483.6 245.7,484.9 266.9,479.2 264.0,502.9 242.8,508.6 239.7,506.1" fill="#fff" stroke-width="1.5"/>
<line x1="245.7" y1="484.9" x2="242.8" y2="508.6" stroke-width="1.25"/>
<polygon points="229.0,530.8 231.5,534.8 252.7,529.1 240.0,541.4 218.7,547.1 216.9,542.5" fill="#fff" stroke-width="1.5"/>
<line x1="231.5" y1="534.8" x2="218.7" y2="547.1" stroke-width="1.25"/>
<ellipse cx="176.0" cy="462.0" rx="55.8" ry="90.0" transform="rotate(-15 176.0 462.0)" fill="#fff" stroke-width="1.5" />
<ellipse cx="177.0" cy="462.0" rx="53.6" ry="86.5" transform="rotate(-15 177.0 462.0)" fill="none" stroke-width="1.5" />
<polyline points="184.0,387.7 187.6,389.8 191.2,392.2 194.7,395.0 198.1,398.1 201.4,401.5 204.6,405.2 207.7,409.2 210.6,413.4 213.3,417.8 215.9,422.5 218.3,427.4 220.6,432.4 222.6,437.5 224.3,442.8 225.9,448.2 227.2,453.6 228.3,459.0 229.2,464.5 229.8,470.0 230.1,475.4 230.2,480.7 230.0,485.9 229.6,491.1 228.9,496.0 228.0,500.8 226.8,505.4 225.4,509.8 223.8,514.0 222.0,517.9 219.9,521.5 217.6,524.8 215.1,527.8 212.5,530.5 209.7,532.9 206.7,534.9 203.6,536.5 200.4,537.8 197.0,538.7 193.6,539.2 190.1,539.3" fill="none" stroke-width="1.25"/>
<ellipse cx="172.0" cy="466.0" rx="38.4" ry="62.0" transform="rotate(-15 172.0 466.0)" fill="#fff" stroke-width="1.5" />
<polyline points="152.8,411.5 155.1,410.3 157.5,409.4 160.0,408.7 162.5,408.3 165.1,408.2 167.7,408.4 170.4,408.9 173.1,409.6 175.8,410.6 178.4,411.9 181.1,413.5 183.7,415.3 186.3,417.3 188.8,419.6 191.3,422.1 193.6,424.8 195.9,427.8 198.0,430.9 200.1,434.2 202.0,437.6 203.8,441.2 205.4,444.9 206.9,448.7 208.2,452.6 209.3,456.5 210.3,460.5 211.1,464.6 211.7,468.6 212.2,472.6 212.4,476.6 212.5,480.5 212.4,484.4 212.1,488.2 211.6,491.8 210.9,495.4 210.0,498.8 209.0,502.0 207.8,505.1 206.4,508.0 204.9,510.6" fill="none" stroke-width="1.4"/>
<ellipse cx="165.0" cy="468.0" rx="22.3" ry="36.0" transform="rotate(-15 165.0 468.0)" fill="#fff" stroke-width="1.5" />
<polyline points="167.8,439.6 169.0,439.7 170.3,439.9 171.6,440.2 172.8,440.7 174.1,441.3 175.4,442.1 176.6,442.9 177.8,443.9 179.0,445.0 180.2,446.2 181.3,447.5 182.4,448.9 183.4,450.3 184.4,451.9 185.3,453.5 186.1,455.2 186.9,457.0 187.6,458.8 188.2,460.6 188.8,462.5 189.2,464.4 189.6,466.3 189.9,468.2 190.1,470.1 190.2,472.0 190.3,473.9 190.2,475.7 190.1,477.5 189.8,479.3 189.5,480.9 189.1,482.6 188.6,484.1 188.0,485.5 187.4,486.9 186.7,488.2 185.9,489.3 185.0,490.4 184.1,491.3 183.1,492.2 182.0,492.9" fill="none" stroke-width="1.4"/>
<polyline points="171.1,441.5 172.2,441.6 173.4,441.8 174.6,442.2 175.8,442.6 177.0,443.2 178.1,443.8 179.3,444.6 180.4,445.5 181.5,446.6 182.6,447.7 183.6,448.9 184.6,450.2 185.6,451.5 186.5,453.0 187.3,454.5 188.1,456.1 188.8,457.7 189.5,459.4 190.1,461.1 190.6,462.8 191.0,464.6 191.4,466.4 191.6,468.1 191.8,469.9 191.9,471.7 192.0,473.4 191.9,475.1 191.8,476.8 191.6,478.4 191.3,479.9 190.9,481.4 190.4,482.9 189.9,484.2 189.3,485.5 188.6,486.7 187.9,487.7 187.1,488.7 186.2,489.6 185.3,490.4 184.3,491.0" fill="none" stroke-width="1.4"/>
<polygon points="85.2,460.0 86.5,459.7 87.8,459.6 89.1,459.6 90.4,459.8 91.8,460.0 93.1,460.4 94.5,461.0 95.8,461.7 97.1,462.4 98.4,463.4 99.7,464.4 100.9,465.5 102.1,466.8 103.3,468.1 104.4,469.6 105.4,471.1 106.4,472.7 107.3,474.4 108.1,476.2 108.9,478.0 109.6,479.8 110.2,481.7 110.7,483.6 111.1,485.6 111.4,487.5 111.7,489.4 111.8,491.4 111.9,493.3 111.8,495.2 111.7,497.0 111.5,498.8 111.2,500.6 110.8,502.3 110.3,503.9 109.7,505.4 109.0,506.8 108.3,508.2 107.5,509.4 106.6,510.6 105.6,511.6 104.6,512.5 103.5,513.3 102.4,513.9 101.2,514.5 99.9,514.9 94.2,516.4 92.9,516.7 91.6,516.8 90.3,516.8 89.0,516.7 87.6,516.4 86.3,516.0 84.9,515.5 83.6,514.8 82.3,514.0 81.0,513.1 79.7,512.1 78.5,510.9 77.3,509.7 76.1,508.3 75.0,506.9 74.0,505.3 73.0,503.7 72.1,502.0 71.3,500.3 70.5,498.5 69.8,496.6 69.2,494.7 68.7,492.8 68.3,490.9 68.0,488.9 67.7,487.0 67.6,485.1 67.5,483.2 67.6,481.3 67.7,479.4 67.9,477.6 68.2,475.9 68.6,474.2 69.1,472.6 69.7,471.1 70.4,469.6 71.1,468.3 71.9,467.0 72.8,465.9 73.8,464.9 74.8,463.9 75.9,463.2 77.0,462.5 78.2,462.0 79.4,461.6" fill="#fff" stroke-width="1.5"/>
<polyline points="86.5,460.1 87.8,460.2 89.1,460.4 90.5,460.7 91.8,461.2 93.1,461.8 94.5,462.5 95.8,463.4 97.1,464.4 98.3,465.5 99.5,466.7 100.7,468.0 101.8,469.4 102.9,470.8 103.9,472.4 104.8,474.1 105.7,475.8 106.5,477.6 107.2,479.4 107.9,481.3 108.4,483.2 108.9,485.1 109.3,487.0 109.6,489.0 109.8,490.9 109.9,492.8 109.9,494.7 109.8,496.6 109.6,498.4 109.3,500.2 109.0,501.9 108.5,503.6 108.0,505.1 107.4,506.6 106.7,508.0 105.9,509.3 105.0,510.5 104.1,511.6 103.1,512.6 102.0,513.4 100.9,514.1" fill="none" stroke-width="1.25"/>
<ellipse cx="86.8" cy="489.0" rx="18.5" ry="28.4" transform="rotate(-15 86.8 489.0)" fill="#fff" stroke-width="1.5" />
<ellipse cx="87.3" cy="489.0" rx="16.8" ry="25.8" transform="rotate(-15 87.3 489.0)" fill="none" stroke-width="1.5" />
<ellipse cx="88.6" cy="488.5" rx="13.9" ry="23.2" transform="rotate(-15 88.6 488.5)" fill="#fff" stroke-width="1.6" />
<polyline points="82.0,475.1 82.5,474.5 83.0,474.0 83.6,473.5 84.2,473.1 84.8,472.8 85.5,472.6 86.2,472.4 86.9,472.3 87.6,472.3 88.3,472.4 89.0,472.6 89.7,472.8 90.5,473.1 91.2,473.4 91.9,473.9 92.6,474.4 93.3,474.9 94.0,475.6 94.6,476.3 95.3,477.0 95.9,477.8 96.5,478.7 97.0,479.6 97.5,480.5 98.0,481.5 98.4,482.5 98.8,483.6 99.2,484.6 99.5,485.7 99.7,486.8 99.9,487.9 100.1,489.0 100.2,490.1 100.2,491.1 100.2,492.2 100.2,493.2 100.1,494.3 99.9,495.3 99.7,496.2 99.5,497.1 99.2,498.0 98.9,498.8 98.5,499.6 98.1,500.3 97.6,500.9 97.1,501.5 96.6,502.0 96.0,502.5 95.4,502.9 94.8,503.2 94.1,503.4 93.4,503.6 92.7,503.7 92.0,503.7 91.3,503.6 90.6,503.4 89.9,503.2 89.1,502.9 88.4,502.6 87.7,502.1" fill="none" stroke-width="1.5"/>
<polyline points="88.2,474.5 88.6,474.2 89.0,474.0 89.4,473.9 89.8,473.9 90.3,473.9 90.8,474.0 91.2,474.1 91.7,474.4 92.2,474.6 92.7,475.0 93.2,475.4 93.7,475.8 94.2,476.4 94.7,476.9 95.1,477.6 95.6,478.2 96.0,479.0 96.5,479.7 96.9,480.5 97.3,481.3 97.7,482.2 98.0,483.1 98.3,484.0 98.6,484.9 98.9,485.9 99.1,486.8 99.3,487.8 99.5,488.7 99.6,489.7 99.8,490.6 99.8,491.5 99.9,492.4 99.9,493.3 99.9,494.1 99.8,494.9 99.7,495.7 99.6,496.5 99.4,497.2 99.2,497.8 99.0,498.4 98.7,498.9 98.4,499.4 98.1,499.9 97.8,500.2 97.4,500.5" fill="none" stroke-width="1.4"/>
<polyline points="93.5,508.5 92.6,508.5 91.7,508.3 90.8,508.0 89.8,507.7 88.9,507.2 88.0,506.6 87.1,506.0 86.2,505.3 85.3,504.4 84.5,503.5 83.6,502.6 82.9,501.5 82.1,500.4 81.4,499.2 80.7,498.0" fill="none" stroke-width="1.25"/>
<polygon points="1475.3,500.2 1476.9,499.9 1478.5,499.7 1480.1,499.8 1481.8,500.0 1483.4,500.4 1485.1,500.9 1486.8,501.6 1488.5,502.5 1490.1,503.6 1491.8,504.8 1493.4,506.1 1494.9,507.6 1496.4,509.3 1497.9,511.1 1499.3,513.0 1500.6,515.0 1501.8,517.1 1503.0,519.3 1504.0,521.6 1505.0,523.9 1505.9,526.3 1506.7,528.8 1507.3,531.3 1507.9,533.8 1508.3,536.3 1508.7,538.8 1508.9,541.4 1509.0,543.8 1509.0,546.3 1508.8,548.7 1508.6,551.0 1508.2,553.3 1507.7,555.5 1507.1,557.5 1506.4,559.5 1505.6,561.4 1504.7,563.1 1503.7,564.7 1502.6,566.2 1501.4,567.5 1500.2,568.7 1498.8,569.7 1497.4,570.5 1496.0,571.2 1494.4,571.7 1490.6,572.7 1489.0,573.1 1487.4,573.2 1485.8,573.2 1484.1,573.0 1482.4,572.6 1480.7,572.1 1479.1,571.3 1477.4,570.5 1475.7,569.4 1474.1,568.2 1472.5,566.8 1470.9,565.3 1469.4,563.7 1468.0,561.9 1466.6,560.0 1465.3,558.0 1464.0,555.9 1462.9,553.7 1461.8,551.4 1460.8,549.1 1460.0,546.6 1459.2,544.2 1458.5,541.7 1458.0,539.2 1457.5,536.6 1457.2,534.1 1457.0,531.6 1456.9,529.1 1456.9,526.7 1457.0,524.3 1457.3,521.9 1457.6,519.7 1458.1,517.5 1458.7,515.4 1459.4,513.4 1460.2,511.6 1461.1,509.8 1462.1,508.2 1463.2,506.8 1464.4,505.4 1465.7,504.3 1467.0,503.3 1468.4,502.4 1469.9,501.8 1471.4,501.3" fill="none" stroke-width="1.5"/>
<ellipse cx="1481.0" cy="537.0" rx="22.9" ry="37.0" transform="rotate(-15 1481.0 537.0)" fill="none" stroke-width="1.5" />
<ellipse cx="1481.0" cy="537.0" rx="20.8" ry="33.5" transform="rotate(-15 1481.0 537.0)" fill="none" stroke-width="1.5" />
<polyline points="1475.5,504.1 1476.9,503.8 1478.3,503.7 1479.8,503.7 1481.2,503.9 1482.7,504.2 1484.2,504.7 1485.7,505.4 1487.2,506.2 1488.7,507.1 1490.2,508.2 1491.6,509.4 1493.0,510.7 1494.3,512.2 1495.6,513.8 1496.8,515.5 1498.0,517.3 1499.1,519.1 1500.2,521.1 1501.1,523.2 1502.0,525.2 1502.8,527.4 1503.5,529.6 1504.0,531.8 1504.5,534.1 1504.9,536.3 1505.2,538.6 1505.4,540.8 1505.5,543.0 1505.5,545.2 1505.4,547.4 1505.2,549.4 1504.8,551.5 1504.4,553.4 1503.9,555.3 1503.2,557.0 1502.5,558.7 1501.7,560.2 1500.8,561.7 1499.8,563.0 1498.8,564.1 1497.7,565.2 1496.5,566.1 1495.2,566.8 1493.9,567.4 1492.5,567.9" fill="none" stroke-width="1.25"/>
<polyline points="1488.6,503.4 1490.2,504.3 1491.8,505.4 1493.3,506.6 1494.8,508.0 1496.2,509.5 1497.6,511.1 1499.0,512.8 1500.3,514.7 1501.5,516.6 1502.6,518.7 1503.7,520.8 1504.6,523.0 1505.5,525.2 1506.3,527.5 1507.0,529.9 1507.5,532.3 1508.0,534.6 1508.4,537.0 1508.6,539.4 1508.8,541.8 1508.8,544.1 1508.8,546.4 1508.6,548.7 1508.3,550.8 1507.9,552.9 1507.4,554.9 1506.8,556.9 1506.0,558.7 1505.2,560.4 1504.3,562.0 1503.3,563.4 1502.3,564.7 1501.1,565.9 1499.9,566.9 1498.6,567.8" fill="none" stroke-width="1.25"/>
<polygon points="1447.0,507.3 1448.6,506.9 1450.3,506.8 1452.0,506.8 1453.7,507.0 1455.4,507.4 1457.1,508.0 1458.9,508.7 1460.6,509.6 1462.3,510.7 1464.0,511.9 1465.6,513.3 1467.2,514.9 1468.7,516.6 1470.2,518.4 1471.7,520.3 1473.0,522.4 1474.3,524.6 1475.5,526.8 1476.6,529.2 1477.6,531.6 1478.5,534.1 1479.3,536.6 1480.0,539.2 1480.5,541.7 1481.0,544.3 1481.3,546.9 1481.5,549.5 1481.6,552.1 1481.6,554.6 1481.5,557.0 1481.2,559.4 1480.9,561.8 1480.4,564.0 1479.7,566.1 1479.0,568.2 1478.2,570.1 1477.3,571.9 1476.2,573.5 1475.1,575.0 1473.9,576.4 1472.6,577.6 1471.2,578.6 1469.8,579.5 1468.3,580.2 1466.7,580.7 1462.8,581.7 1461.2,582.0 1459.6,582.2 1457.9,582.2 1456.2,582.0 1454.5,581.6 1452.7,581.0 1451.0,580.3 1449.3,579.4 1447.6,578.3 1445.9,577.0 1444.3,575.6 1442.7,574.1 1441.1,572.4 1439.6,570.6 1438.2,568.6 1436.9,566.6 1435.6,564.4 1434.4,562.1 1433.3,559.8 1432.3,557.4 1431.4,554.9 1430.6,552.4 1429.9,549.8 1429.3,547.2 1428.9,544.6 1428.5,542.0 1428.3,539.5 1428.2,536.9 1428.2,534.4 1428.4,531.9 1428.6,529.5 1429.0,527.2 1429.5,525.0 1430.1,522.8 1430.8,520.8 1431.7,518.9 1432.6,517.1 1433.6,515.5 1434.8,513.9 1436.0,512.6 1437.3,511.4 1438.6,510.4 1440.1,509.5 1441.6,508.8 1443.2,508.3" fill="none" stroke-width="1.5"/>
<ellipse cx="1453.0" cy="545.0" rx="23.6" ry="38.0" transform="rotate(-15 1453.0 545.0)" fill="none" stroke-width="1.5" />
<ellipse cx="1453.0" cy="545.0" rx="21.1" ry="34.0" transform="rotate(-15 1453.0 545.0)" fill="none" stroke-width="1.5" />
<polyline points="1447.2,511.2 1448.6,510.9 1450.1,510.7 1451.6,510.7 1453.2,510.9 1454.7,511.3 1456.2,511.8 1457.8,512.4 1459.3,513.3 1460.8,514.2 1462.3,515.3 1463.8,516.6 1465.2,518.0 1466.6,519.5 1468.0,521.1 1469.2,522.9 1470.4,524.7 1471.6,526.6 1472.6,528.7 1473.6,530.8 1474.5,532.9 1475.3,535.1 1476.0,537.4 1476.7,539.7 1477.2,542.0 1477.6,544.3 1477.9,546.7 1478.1,549.0 1478.2,551.2 1478.2,553.5 1478.0,555.7 1477.8,557.8 1477.5,559.9 1477.0,561.9 1476.5,563.8 1475.8,565.7 1475.1,567.4 1474.3,569.0 1473.3,570.4 1472.3,571.8 1471.2,573.0 1470.1,574.1 1468.8,575.0 1467.5,575.8 1466.2,576.4 1464.8,576.8" fill="none" stroke-width="1.25"/>
<polyline points="1460.7,510.5 1462.3,511.4 1463.9,512.5 1465.5,513.8 1467.0,515.2 1468.5,516.7 1470.0,518.4 1471.3,520.2 1472.7,522.1 1473.9,524.1 1475.1,526.2 1476.2,528.4 1477.2,530.6 1478.1,532.9 1478.9,535.3 1479.6,537.7 1480.2,540.2 1480.6,542.6 1481.0,545.1 1481.3,547.5 1481.4,550.0 1481.5,552.4 1481.4,554.7 1481.2,557.0 1480.9,559.3 1480.5,561.4 1480.0,563.5 1479.4,565.5 1478.6,567.3 1477.8,569.1 1476.8,570.7 1475.8,572.2 1474.7,573.6 1473.5,574.8 1472.3,575.8 1470.9,576.7" fill="none" stroke-width="1.25"/>
<ellipse cx="1400.0" cy="559.6" rx="16.4" ry="26.5" transform="rotate(-15 1400.0 559.6)" fill="#fff" stroke-width="1.5" />
<ellipse cx="1401.0" cy="559.6" rx="15.2" ry="24.5" transform="rotate(-15 1401.0 559.6)" fill="none" stroke-width="1.5" />
<ellipse cx="1402.0" cy="559.6" rx="9.9" ry="16.0" transform="rotate(-15 1402.0 559.6)" fill="#fff" stroke-width="1.5" />
<line x1="1412.0" y1="556.8" x2="1415.3" y2="555.9" stroke-width="1.25"/>
<line x1="1412.9" y1="562.7" x2="1416.5" y2="563.7" stroke-width="1.25"/>
<line x1="1412.4" y1="568.3" x2="1415.9" y2="571.1" stroke-width="1.25"/>
<line x1="1410.7" y1="572.8" x2="1413.5" y2="577.0" stroke-width="1.25"/>
<line x1="1407.8" y1="575.8" x2="1409.8" y2="580.8" stroke-width="1.25"/>
<line x1="1404.1" y1="576.7" x2="1405.0" y2="582.1" stroke-width="1.25"/>
<line x1="1400.2" y1="575.6" x2="1399.8" y2="580.7" stroke-width="1.25"/>
<line x1="1396.4" y1="572.6" x2="1394.8" y2="576.7" stroke-width="1.25"/>
<line x1="1393.2" y1="568.0" x2="1390.6" y2="570.7" stroke-width="1.25"/>
<line x1="1391.0" y1="562.4" x2="1387.7" y2="563.3" stroke-width="1.25"/>
<line x1="1390.1" y1="556.5" x2="1386.5" y2="555.5" stroke-width="1.25"/>
<line x1="1390.6" y1="550.9" x2="1387.1" y2="548.1" stroke-width="1.25"/>
<line x1="1392.3" y1="546.4" x2="1389.5" y2="542.2" stroke-width="1.25"/>
<line x1="1395.2" y1="543.4" x2="1393.2" y2="538.4" stroke-width="1.25"/>
<line x1="1398.9" y1="542.5" x2="1398.0" y2="537.1" stroke-width="1.25"/>
<line x1="1402.8" y1="543.6" x2="1403.2" y2="538.5" stroke-width="1.25"/>
<line x1="1406.6" y1="546.6" x2="1408.2" y2="542.5" stroke-width="1.25"/>
<line x1="1409.8" y1="551.2" x2="1412.4" y2="548.5" stroke-width="1.25"/>
<polygon points="1368.3,539.9 1369.3,539.7 1370.5,539.6 1371.6,539.6 1372.7,539.8 1373.9,540.0 1375.0,540.4 1376.2,540.9 1377.4,541.5 1378.5,542.2 1379.6,543.1 1380.7,544.0 1381.8,545.0 1382.8,546.2 1383.8,547.4 1384.8,548.7 1385.7,550.1 1386.6,551.5 1387.3,553.1 1388.1,554.6 1388.8,556.3 1389.4,557.9 1389.9,559.6 1390.4,561.3 1390.7,563.1 1391.0,564.8 1391.3,566.6 1391.4,568.3 1391.5,570.0 1391.5,571.7 1391.4,573.3 1391.2,574.9 1391.0,576.5 1390.6,578.0 1390.2,579.4 1389.7,580.8 1389.2,582.1 1388.6,583.3 1387.9,584.4 1387.1,585.4 1386.3,586.3 1385.4,587.1 1384.5,587.8 1383.5,588.4 1382.5,588.9 1381.5,589.2 1377.6,590.2 1376.5,590.5 1375.4,590.6 1374.3,590.5 1373.1,590.4 1372.0,590.1 1370.8,589.8 1369.7,589.3 1368.5,588.7 1367.4,587.9 1366.2,587.1 1365.1,586.2 1364.1,585.1 1363.0,584.0 1362.0,582.8 1361.1,581.5 1360.2,580.1 1359.3,578.6 1358.5,577.1 1357.8,575.5 1357.1,573.9 1356.5,572.2 1356.0,570.5 1355.5,568.8 1355.1,567.1 1354.8,565.4 1354.6,563.6 1354.4,561.9 1354.4,560.2 1354.4,558.5 1354.5,556.8 1354.6,555.2 1354.9,553.7 1355.2,552.2 1355.6,550.7 1356.1,549.4 1356.7,548.1 1357.3,546.9 1358.0,545.8 1358.8,544.8 1359.6,543.9 1360.4,543.1 1361.4,542.4 1362.3,541.8 1363.4,541.3 1364.4,541.0" fill="#fff" stroke-width="1.5"/>
<ellipse cx="1371.0" cy="565.6" rx="15.8" ry="25.5" transform="rotate(-15 1371.0 565.6)" fill="#fff" stroke-width="1.5" />
<ellipse cx="1370.0" cy="565.6" rx="13.0" ry="21.0" transform="rotate(-15 1370.0 565.6)" fill="none" stroke-width="1.5" />
<ellipse cx="1372.0" cy="565.6" rx="10.8" ry="17.5" transform="rotate(-15 1372.0 565.6)" fill="none" stroke-width="1.5" />
<polyline points="1371.6,549.3 1372.3,549.4 1373.0,549.5 1373.7,549.7 1374.5,550.0 1375.2,550.3 1375.9,550.8 1376.6,551.2 1377.3,551.8 1378.0,552.4 1378.7,553.1 1379.3,553.8 1379.9,554.6 1380.5,555.5 1381.1,556.4 1381.6,557.3 1382.1,558.3 1382.5,559.3 1382.9,560.3 1383.3,561.4 1383.6,562.4 1383.8,563.5 1384.1,564.6 1384.2,565.7 1384.4,566.8 1384.4,567.9 1384.4,568.9 1384.4,570.0 1384.3,571.0 1384.2,572.0 1384.0,573.0 1383.8,573.9 1383.5,574.8 1383.2,575.6 1382.8,576.4 1382.4,577.1 1381.9,577.8 1381.4,578.4 1380.9,578.9 1380.3,579.4 1379.7,579.8" fill="none" stroke-width="1.25"/>
<polygon points="1232.5,477.3 1237.6,476.3 1242.9,475.8 1248.3,475.9 1253.8,476.5 1259.3,477.8 1264.8,479.6 1270.3,481.9 1275.8,484.8 1281.3,488.3 1286.6,492.3 1291.9,496.7 1297.0,501.7 1301.9,507.1 1306.7,512.9 1311.2,519.1 1315.5,525.7 1319.6,532.7 1323.4,539.9 1326.9,547.4 1330.1,555.1 1333.0,563.0 1335.6,571.1 1337.7,579.3 1339.6,587.6 1341.1,595.9 1342.1,604.2 1342.9,612.4 1343.2,620.6 1343.1,628.6 1342.7,636.5 1341.8,644.2 1340.6,651.6 1339.0,658.7 1337.1,665.6 1334.8,672.1 1332.1,678.2 1329.2,683.9 1325.9,689.2 1322.3,694.0 1318.4,698.3 1314.2,702.1 1309.8,705.4 1305.2,708.2 1300.4,710.4 1295.4,712.1 1208.4,735.4 1203.3,736.4 1198.0,736.9 1192.6,736.8 1187.2,736.2 1181.7,735.0 1176.1,733.1 1170.6,730.8 1165.1,727.9 1159.7,724.4 1154.3,720.4 1149.1,716.0 1144.0,711.0 1139.0,705.6 1134.3,699.8 1129.7,693.6 1125.4,687.0 1121.3,680.0 1117.5,672.8 1114.0,665.3 1110.8,657.6 1107.9,649.7 1105.4,641.6 1103.2,633.4 1101.3,625.1 1099.9,616.8 1098.8,608.5 1098.1,600.3 1097.8,592.1 1097.8,584.1 1098.3,576.2 1099.1,568.5 1100.3,561.1 1101.9,554.0 1103.8,547.1 1106.1,540.6 1108.8,534.5 1111.8,528.8 1115.1,523.5 1118.7,518.7 1122.6,514.4 1126.7,510.6 1131.1,507.3 1135.7,504.5 1140.6,502.3 1145.6,500.6" fill="#fff" stroke-width="1.5"/>
<polyline points="1260.7,478.2 1260.6,475.8 1280.2,485.2 1279.9,487.4" fill="none" stroke-width="1.5"/>
<polyline points="1312.3,520.8 1313.3,519.2 1327.4,544.5 1326.1,545.5" fill="none" stroke-width="1.5"/>
<polyline points="1341.4,598.0 1343.0,598.0 1344.8,627.3 1343.2,626.6" fill="none" stroke-width="1.5"/>
<polyline points="1342.1,642.3 1343.7,643.3 1338.1,668.7 1336.6,667.2" fill="none" stroke-width="1.5"/>
<polyline points="1256.3,478.8 1261.9,480.6 1267.5,483.0 1273.1,486.0 1278.6,489.5 1284.0,493.6 1289.3,498.2 1294.5,503.3 1299.5,508.8 1304.3,514.8 1308.9,521.1 1313.3,527.9 1317.4,535.0 1321.2,542.4 1324.7,550.1 1327.8,558.0 1330.7,566.1 1333.2,574.3 1335.3,582.6 1337.1,591.0 1338.4,599.5 1339.4,607.9 1340.0,616.2 1340.2,624.5 1340.0,632.6 1339.4,640.5 1338.4,648.2 1337.0,655.6 1335.2,662.8 1333.1,669.6 1330.6,676.0 1327.7,682.0 1324.5,687.6" fill="none" stroke-width="1.25"/>
<ellipse cx="1177.0" cy="618.0" rx="75.3" ry="121.5" transform="rotate(-15 1177.0 618.0)" fill="#fff" stroke-width="1.5" />
<ellipse cx="1178.5" cy="617.5" rx="73.2" ry="118.0" transform="rotate(-15 1178.5 617.5)" fill="none" stroke-width="1.5" />
<ellipse cx="1181.0" cy="614.0" rx="63.9" ry="103.0" transform="rotate(-15 1181.0 614.0)" fill="#fff" stroke-width="1.5" />
<clipPath id="hc"><ellipse cx="1181" cy="614" rx="63.9" ry="103.0" transform="rotate(-15 1181 614)"/></clipPath>
<g clip-path="url(#hc)">
<polyline points="1198.1,518.2 1202.2,517.9 1206.4,518.1 1210.6,518.8 1214.8,519.8 1219.1,521.4 1223.4,523.4 1227.6,525.8 1231.8,528.6 1235.9,531.8 1239.9,535.5 1243.8,539.4 1247.5,543.8 1251.1,548.4 1254.6,553.4 1257.8,558.6 1260.8,564.1 1263.6,569.8 1266.2,575.7 1268.5,581.8 1270.6,588.0 1272.4,594.3 1273.9,600.6 1275.1,607.0 1276.0,613.4 1276.6,619.8 1277.0,626.1 1277.0,632.4 1276.7,638.5 1276.1,644.4 1275.2,650.2 1274.1,655.8 1272.6,661.1 1270.8,666.1 1268.8,670.9 1266.5,675.3 1264.0,679.4 1261.2,683.1 1258.2,686.5" fill="none" stroke-width="1.4"/>
<polyline points="1196.8,518.0 1201.0,518.3 1205.3,519.0 1209.5,520.2 1213.8,521.8 1218.1,523.8 1222.3,526.3 1226.5,529.2 1230.6,532.4 1234.6,536.1 1238.5,540.1 1242.2,544.4 1245.8,549.1 1249.3,554.1 1252.5,559.3 1255.6,564.8 1258.4,570.5 1261.0,576.4 1263.4,582.4 1265.5,588.6 1267.3,594.9 1268.9,601.3 1270.1,607.7 1271.1,614.1 1271.8,620.5 1272.2,626.9 1272.3,633.2 1272.1,639.3 1271.6,645.3 1270.8,651.2 1269.8,656.8 1268.4,662.2 1266.7,667.4 1264.8,672.3 1262.6,676.8 1260.2,681.1" fill="none" stroke-width="1.25"/>
<polyline points="1172.0,540.0 1168.0,570.0 1168.0,600.0 1172.0,625.0 1180.0,640.0" fill="none" stroke-width="1.3"/>
<polyline points="1176.0,540.0 1172.0,570.0 1172.0,600.0 1176.0,625.0 1184.0,640.0" fill="none" stroke-width="1.3"/>
<polyline points="1181.0,540.0 1177.0,570.0 1177.0,600.0 1181.0,625.0 1189.0,640.0" fill="none" stroke-width="1.3"/>
<polyline points="1200.0,545.0 1204.0,580.0 1208.0,610.0 1210.0,630.0" fill="none" stroke-width="1.3"/>
<polyline points="1205.0,545.0 1209.0,580.0 1213.0,610.0 1215.0,630.0" fill="none" stroke-width="1.3"/>
<polyline points="1204.0,545.0 1222.0,575.0 1236.0,610.0 1241.0,643.0" fill="none" stroke-width="1.3"/>
<polyline points="1214.0,548.0 1232.0,585.0 1244.0,630.0" fill="none" stroke-width="1.3"/>
<polygon points="1119.0,540.0 1136.0,531.0 1162.0,527.0 1163.0,536.0 1160.0,555.0 1116.0,563.0 1112.0,556.0" fill="#fff" stroke-width="1.5"/>
<line x1="1121.0" y1="542.0" x2="1160.0" y2="532.0" stroke-width="1.3"/>
<line x1="1116.0" y1="552.0" x2="1160.0" y2="543.0" stroke-width="1.3"/>
<polygon points="1110.0,572.0 1149.0,563.0 1152.0,585.0 1150.0,604.0 1116.0,611.0 1112.0,600.0" fill="#fff" stroke-width="1.5"/>
<line x1="1113.0" y1="585.0" x2="1149.0" y2="577.0" stroke-width="1.3"/>
<polyline points="1149.0,567.0 1151.0,604.0 1160.0,640.0 1162.0,652.0" fill="none" stroke-width="1.4"/>
<polyline points="1160.0,527.0 1164.0,560.0 1166.0,600.0 1170.0,641.0" fill="none" stroke-width="1.4"/>
<polygon points="1149.0,570.0 1208.0,558.0 1208.0,572.0 1153.0,586.0" fill="#fff" stroke-width="1.5"/>
<line x1="1156.0" y1="580.0" x2="1206.0" y2="568.0" stroke-width="1.3"/>
<polygon points="1161.0,643.0 1218.0,629.0 1223.0,641.0 1163.0,654.0" fill="#fff" stroke-width="1.5"/>
<polygon points="1170.0,663.0 1186.0,652.0 1241.0,641.0 1243.0,661.0 1182.0,684.0 1168.0,668.0" fill="#fff" stroke-width="1.5"/>
<line x1="1186.0" y1="652.0" x2="1190.0" y2="676.0" stroke-width="1.3"/>
<line x1="1194.0" y1="650.0" x2="1199.0" y2="674.0" stroke-width="1.3"/>
<line x1="1184.0" y1="664.0" x2="1240.0" y2="652.0" stroke-width="1.3"/>
<polygon points="1193.0,695.0 1204.0,677.0 1241.0,668.0 1241.0,690.0 1213.0,709.0 1196.0,700.0" fill="#fff" stroke-width="1.5"/>
<line x1="1204.0" y1="677.0" x2="1212.0" y2="705.0" stroke-width="1.3"/>
<line x1="1222.0" y1="674.0" x2="1224.0" y2="700.0" stroke-width="1.3"/>
<line x1="1232.0" y1="690.0" x2="1240.0" y2="688.0" stroke-width="1.3"/>
</g>
<ellipse cx="1113.0" cy="549.6" rx="2.6" ry="3.6" fill="#fff" stroke-width="1.3"/>
<path d="M1111.8,548.1 q2,0.5 0.5,1.5 q2,0.5 -0.3,1.6" fill="none" stroke-width="1.1"/>
<ellipse cx="1108.7" cy="602.0" rx="2.6" ry="3.6" fill="#fff" stroke-width="1.3"/>
<path d="M1107.5,600.5 q2,0.5 0.5,1.5 q2,0.5 -0.3,1.6" fill="none" stroke-width="1.1"/>
<ellipse cx="1114.0" cy="624.7" rx="2.6" ry="3.6" fill="#fff" stroke-width="1.3"/>
<path d="M1112.8,623.2 q2,0.5 0.5,1.5 q2,0.5 -0.3,1.6" fill="none" stroke-width="1.1"/>
<ellipse cx="1116.6" cy="640.7" rx="2.6" ry="3.6" fill="#fff" stroke-width="1.3"/>
<path d="M1115.4,639.2 q2,0.5 0.5,1.5 q2,0.5 -0.3,1.6" fill="none" stroke-width="1.1"/>
<ellipse cx="1143.0" cy="690.7" rx="2.6" ry="3.6" fill="#fff" stroke-width="1.3"/>
<path d="M1141.8,689.2 q2,0.5 0.5,1.5 q2,0.5 -0.3,1.6" fill="none" stroke-width="1.1"/>
<ellipse cx="1197.4" cy="727.0" rx="2.6" ry="3.6" fill="#fff" stroke-width="1.3"/>
<path d="M1196.2,725.5 q2,0.5 0.5,1.5 q2,0.5 -0.3,1.6" fill="none" stroke-width="1.1"/>
<ellipse cx="1224.7" cy="715.8" rx="2.6" ry="3.6" fill="#fff" stroke-width="1.3"/>
<path d="M1223.5,714.3 q2,0.5 0.5,1.5 q2,0.5 -0.3,1.6" fill="none" stroke-width="1.1"/>
<ellipse cx="1231.5" cy="706.7" rx="2.6" ry="3.6" fill="#fff" stroke-width="1.3"/>
<path d="M1230.3,705.2 q2,0.5 0.5,1.5 q2,0.5 -0.3,1.6" fill="none" stroke-width="1.1"/>
<ellipse cx="1243.0" cy="619.0" rx="2.6" ry="3.6" fill="#fff" stroke-width="1.3"/>
<path d="M1241.8,617.5 q2,0.5 0.5,1.5 q2,0.5 -0.3,1.6" fill="none" stroke-width="1.1"/>
<ellipse cx="1203.0" cy="536.0" rx="2.6" ry="3.6" fill="#fff" stroke-width="1.3"/>
<path d="M1201.8,534.5 q2,0.5 0.5,1.5 q2,0.5 -0.3,1.6" fill="none" stroke-width="1.1"/>
<ellipse cx="1180.0" cy="521.0" rx="2.6" ry="3.6" fill="#fff" stroke-width="1.3"/>
<path d="M1178.8,519.5 q2,0.5 0.5,1.5 q2,0.5 -0.3,1.6" fill="none" stroke-width="1.1"/>
<polygon points="1119.0,652.0 1123.0,650.0 1138.0,678.0 1136.0,684.0 1132.0,684.0 1118.0,658.0" fill="#fff" stroke-width="1.5"/>
<polygon points="1149.0,699.0 1153.0,697.0 1189.0,721.0 1190.0,729.0 1186.0,730.0 1149.0,704.0" fill="#fff" stroke-width="1.5"/>
<polygon points="1205.0,723.0 1216.0,719.0 1220.0,724.0 1208.0,730.0" fill="#fff" stroke-width="1.5"/>
<polygon points="1069.4,619.2 1070.6,619.0 1071.9,618.8 1073.2,618.9 1074.5,619.0 1075.8,619.3 1077.1,619.7 1078.4,620.3 1079.7,621.0 1081.0,621.8 1082.3,622.8 1083.6,623.8 1084.8,625.0 1086.0,626.3 1087.1,627.7 1088.2,629.2 1089.2,630.8 1090.2,632.4 1091.1,634.1 1091.9,635.9 1092.7,637.8 1093.4,639.7 1094.0,641.6 1094.5,643.6 1095.0,645.5 1095.3,647.5 1095.6,649.5 1095.7,651.5 1095.8,653.4 1095.8,655.3 1095.7,657.2 1095.5,659.0 1095.2,660.8 1094.8,662.5 1094.4,664.1 1093.8,665.7 1093.2,667.2 1092.5,668.5 1091.7,669.8 1090.8,670.9 1089.9,672.0 1088.9,672.9 1087.9,673.7 1086.7,674.3 1085.6,674.8 1084.4,675.2 1081.5,676.0 1080.3,676.3 1079.0,676.4 1077.7,676.4 1076.4,676.2 1075.1,675.9 1073.8,675.5 1072.5,674.9 1071.2,674.2 1069.9,673.4 1068.6,672.4 1067.3,671.4 1066.1,670.2 1064.9,668.9 1063.8,667.5 1062.7,666.0 1061.7,664.5 1060.7,662.8 1059.8,661.1 1059.0,659.3 1058.2,657.4 1057.5,655.6 1056.9,653.6 1056.4,651.7 1055.9,649.7 1055.6,647.7 1055.3,645.7 1055.2,643.8 1055.1,641.8 1055.1,639.9 1055.2,638.0 1055.4,636.2 1055.7,634.4 1056.1,632.7 1056.5,631.1 1057.1,629.5 1057.7,628.1 1058.4,626.7 1059.2,625.5 1060.1,624.3 1061.0,623.3 1062.0,622.4 1063.0,621.6 1064.2,620.9 1065.3,620.4 1066.5,620.0" fill="#fff" stroke-width="1.5"/>
<ellipse cx="1074.0" cy="648.0" rx="18.0" ry="29.0" transform="rotate(-15 1074.0 648.0)" fill="#fff" stroke-width="1.5" />
<ellipse cx="1075.0" cy="648.0" rx="15.5" ry="25.0" transform="rotate(-15 1075.0 648.0)" fill="none" stroke-width="1.5" />
<ellipse cx="1077.0" cy="648.0" rx="12.4" ry="20.0" transform="rotate(-15 1077.0 648.0)" fill="#fff" stroke-width="1.5" />
<polyline points="1076.3,630.4 1077.1,630.4 1077.9,630.6 1078.7,630.8 1079.5,631.1 1080.4,631.5 1081.2,632.0 1082.0,632.5 1082.8,633.1 1083.5,633.8 1084.3,634.6 1085.0,635.4 1085.7,636.3 1086.3,637.3 1087.0,638.3 1087.5,639.3 1088.1,640.4 1088.6,641.6 1089.0,642.7 1089.4,643.9 1089.8,645.1 1090.1,646.3 1090.3,647.6 1090.5,648.8 1090.6,650.0 1090.7,651.2 1090.7,652.4 1090.7,653.6 1090.6,654.8 1090.5,655.9 1090.3,657.0 1090.0,658.0 1089.7,659.0 1089.3,659.9 1088.9,660.8 1088.4,661.6 1087.9,662.4 1087.4,663.0 1086.8,663.6 1086.1,664.2 1085.5,664.6" fill="none" stroke-width="1.25"/>
<polygon points="1043.7,619.1 1045.2,618.8 1046.7,618.7 1048.2,618.7 1049.8,618.9 1051.4,619.2 1053.0,619.8 1054.6,620.4 1056.2,621.3 1057.7,622.3 1059.3,623.4 1060.8,624.7 1062.2,626.1 1063.7,627.7 1065.0,629.4 1066.4,631.2 1067.6,633.1 1068.8,635.1 1069.9,637.1 1070.9,639.3 1071.8,641.5 1072.6,643.8 1073.4,646.1 1074.0,648.5 1074.5,650.9 1074.9,653.3 1075.3,655.7 1075.5,658.0 1075.6,660.4 1075.5,662.7 1075.4,665.0 1075.2,667.2 1074.8,669.3 1074.4,671.4 1073.8,673.3 1073.1,675.2 1072.4,677.0 1071.5,678.6 1070.6,680.1 1069.5,681.5 1068.4,682.8 1067.2,683.9 1065.9,684.8 1064.6,685.6 1063.2,686.3 1061.8,686.7 1054.1,688.8 1052.6,689.1 1051.1,689.3 1049.5,689.2 1047.9,689.0 1046.3,688.7 1044.8,688.2 1043.2,687.5 1041.6,686.6 1040.0,685.7 1038.5,684.5 1037.0,683.2 1035.5,681.8 1034.1,680.2 1032.7,678.6 1031.4,676.8 1030.1,674.9 1029.0,672.9 1027.9,670.8 1026.9,668.6 1025.9,666.4 1025.1,664.1 1024.4,661.8 1023.7,659.4 1023.2,657.1 1022.8,654.7 1022.5,652.3 1022.3,649.9 1022.2,647.5 1022.2,645.2 1022.3,643.0 1022.6,640.8 1022.9,638.6 1023.4,636.6 1023.9,634.6 1024.6,632.7 1025.4,631.0 1026.2,629.3 1027.2,627.8 1028.2,626.4 1029.3,625.2 1030.5,624.1 1031.8,623.1 1033.1,622.3 1034.5,621.7 1035.9,621.2" fill="#fff" stroke-width="1.5"/>
<ellipse cx="1045.0" cy="655.0" rx="21.7" ry="35.0" transform="rotate(-15 1045.0 655.0)" fill="#fff" stroke-width="1.5" />
<ellipse cx="1045.0" cy="655.0" rx="19.2" ry="31.0" transform="rotate(-15 1045.0 655.0)" fill="none" stroke-width="3.5" stroke-dasharray="1.2 2.6" />
<ellipse cx="1045.0" cy="655.0" rx="16.1" ry="26.0" transform="rotate(-15 1045.0 655.0)" fill="#fff" stroke-width="1.5" />
<polyline points="1044.4,631.5 1045.4,631.6 1046.5,631.8 1047.6,632.1 1048.7,632.5 1049.8,633.0 1050.9,633.6 1052.0,634.4 1053.0,635.2 1054.0,636.1 1055.0,637.1 1056.0,638.3 1056.9,639.4 1057.8,640.7 1058.6,642.1 1059.4,643.5 1060.1,644.9 1060.8,646.4 1061.4,648.0 1061.9,649.5 1062.4,651.1 1062.8,652.8 1063.1,654.4 1063.4,656.1 1063.5,657.7 1063.6,659.3 1063.7,660.9 1063.6,662.5 1063.5,664.0 1063.3,665.5 1063.0,667.0 1062.7,668.3 1062.2,669.7 1061.7,670.9 1061.2,672.1 1060.6,673.2 1059.9,674.1 1059.1,675.1 1058.3,675.9 1057.5,676.6 1056.6,677.2" fill="none" stroke-width="1.25"/>
<polygon points="1015.5,624.9 1017.0,624.6 1018.6,624.5 1020.2,624.5 1021.8,624.7 1023.4,625.1 1025.1,625.6 1026.7,626.3 1028.4,627.2 1030.0,628.2 1031.6,629.4 1033.1,630.7 1034.6,632.1 1036.1,633.7 1037.5,635.5 1038.8,637.3 1040.1,639.3 1041.3,641.3 1042.5,643.5 1043.5,645.7 1044.4,648.0 1045.3,650.3 1046.1,652.7 1046.7,655.1 1047.2,657.6 1047.7,660.1 1048.0,662.5 1048.2,665.0 1048.3,667.4 1048.3,669.8 1048.2,672.1 1047.9,674.4 1047.6,676.6 1047.1,678.7 1046.5,680.7 1045.8,682.6 1045.0,684.4 1044.2,686.1 1043.2,687.7 1042.1,689.1 1041.0,690.4 1039.7,691.5 1038.4,692.5 1037.1,693.3 1035.6,694.0 1034.1,694.5 1029.3,695.8 1027.8,696.1 1026.2,696.2 1024.6,696.2 1023.0,696.0 1021.4,695.7 1019.7,695.1 1018.1,694.4 1016.5,693.6 1014.9,692.5 1013.3,691.4 1011.7,690.0 1010.2,688.6 1008.7,687.0 1007.3,685.2 1006.0,683.4 1004.7,681.4 1003.5,679.4 1002.4,677.2 1001.3,675.0 1000.4,672.7 999.5,670.4 998.8,668.0 998.1,665.6 997.6,663.1 997.2,660.7 996.8,658.2 996.6,655.7 996.5,653.3 996.5,650.9 996.7,648.6 996.9,646.3 997.3,644.1 997.7,642.0 998.3,640.0 999.0,638.1 999.8,636.3 1000.7,634.6 1001.7,633.0 1002.7,631.6 1003.9,630.3 1005.1,629.2 1006.4,628.2 1007.8,627.4 1009.2,626.7 1010.7,626.2" fill="#fff" stroke-width="1.5"/>
<ellipse cx="1020.0" cy="661.0" rx="22.3" ry="36.0" transform="rotate(-15 1020.0 661.0)" fill="#fff" stroke-width="1.5" />
<ellipse cx="1023.0" cy="661.0" rx="13.4" ry="21.6" transform="rotate(-15 1023.0 661.0)" fill="#fff" stroke-width="1.5" />
<polyline points="1023.0,641.4 1023.9,641.5 1024.8,641.6 1025.7,641.9 1026.6,642.2 1027.5,642.7 1028.4,643.2 1029.3,643.8 1030.2,644.5 1031.0,645.3 1031.8,646.1 1032.6,647.0 1033.4,648.0 1034.1,649.1 1034.8,650.2 1035.5,651.4 1036.1,652.6 1036.6,653.8 1037.1,655.1 1037.6,656.5 1038.0,657.8 1038.3,659.1 1038.6,660.5 1038.8,661.9 1038.9,663.2 1039.0,664.6 1039.0,665.9 1039.0,667.2 1038.9,668.5 1038.7,669.8 1038.5,671.0 1038.2,672.1 1037.9,673.2 1037.5,674.2 1037.0,675.2 1036.5,676.1 1035.9,677.0 1035.3,677.7 1034.6,678.4 1033.9,679.0 1033.2,679.5" fill="none" stroke-width="1.25"/>
<polygon points="959.9,606.3 962.8,605.7 965.6,605.4 968.6,605.5 971.6,605.8 974.6,606.5 977.6,607.5 980.6,608.8 983.7,610.4 986.6,612.3 989.6,614.5 992.4,616.9 995.2,619.6 997.9,622.6 1000.5,625.8 1003.0,629.2 1005.4,632.8 1007.6,636.6 1009.7,640.5 1011.6,644.6 1013.4,648.9 1015.0,653.2 1016.3,657.6 1017.5,662.1 1018.6,666.6 1019.4,671.2 1020.0,675.7 1020.3,680.2 1020.5,684.7 1020.5,689.1 1020.2,693.4 1019.8,697.6 1019.1,701.7 1018.3,705.6 1017.2,709.3 1015.9,712.9 1014.5,716.2 1012.8,719.3 1011.0,722.2 1009.1,724.9 1006.9,727.2 1004.7,729.3 1002.3,731.1 999.7,732.7 997.1,733.9 994.4,734.8 970.2,741.2 967.4,741.8 964.5,742.1 961.6,742.0 958.6,741.7 955.6,741.0 952.5,740.0 949.5,738.7 946.5,737.1 943.5,735.2 940.6,733.1 937.7,730.6 934.9,727.9 932.2,725.0 929.6,721.8 927.1,718.4 924.8,714.7 922.5,711.0 920.4,707.0 918.5,702.9 916.8,698.7 915.2,694.3 913.8,689.9 912.6,685.4 911.6,680.9 910.8,676.4 910.2,671.8 909.8,667.3 909.6,662.8 909.7,658.4 909.9,654.1 910.4,649.9 911.0,645.9 911.9,641.9 913.0,638.2 914.2,634.7 915.7,631.3 917.3,628.2 919.1,625.3 921.1,622.7 923.2,620.3 925.5,618.2 927.9,616.4 930.4,614.9 933.1,613.7 935.8,612.8" fill="#fff" stroke-width="1.5"/>
<polyline points="947.4,609.7 950.2,609.1 953.1,608.8 956.0,608.8 959.0,609.2 962.0,609.9 965.1,610.9 968.1,612.2 971.1,613.8 974.1,615.7 977.0,617.8 979.9,620.3 982.7,623.0 985.4,625.9 988.0,629.1 990.5,632.5 992.8,636.1 995.1,639.9 997.1,643.9 999.1,648.0 1000.8,652.2 1002.4,656.6 1003.8,661.0 1005.0,665.5 1006.0,670.0 1006.8,674.5 1007.4,679.1 1007.8,683.6 1008.0,688.1 1007.9,692.5 1007.7,696.8 1007.2,701.0 1006.6,705.0 1005.7,708.9 1004.6,712.7 1003.4,716.2 1001.9,719.6 1000.3,722.7 998.5,725.6 996.5,728.2 994.4,730.6 992.1,732.7 989.7,734.5 987.2,736.0 984.5,737.2 981.8,738.1" fill="none" stroke-width="1.4"/>
<polyline points="941.6,611.2 944.4,610.6 947.4,610.4 950.4,610.4 953.4,610.8 956.4,611.5 959.5,612.5 962.6,613.9 965.6,615.5 968.6,617.5 971.6,619.7 974.5,622.2 977.3,625.0 980.0,628.0 982.7,631.3 985.2,634.8 987.5,638.5 989.8,642.4 991.8,646.4 993.7,650.6 995.5,654.9 997.0,659.4 998.4,663.9 999.5,668.4 1000.5,673.0 1001.2,677.6 1001.8,682.2 1002.1,686.8 1002.2,691.3 1002.1,695.7 1001.7,700.0 1001.2,704.2 1000.4,708.3 999.5,712.2 998.3,715.9 996.9,719.4 995.4,722.7 993.6,725.7" fill="none" stroke-width="1.25"/>
<path d="M992.8,666.3 L993.1,667.5 L993.4,668.6 L993.7,669.7 L993.9,670.8 L994.2,672.0 L994.4,673.1 L994.6,674.2 L994.8,675.4 L995.0,676.5 L995.2,677.6 L995.4,678.8 L995.5,679.9 L995.7,681.1 L995.8,682.2 L995.9,683.3 L996.0,684.4 L996.1,685.6 L996.2,686.7 L996.3,687.8 L996.3,688.9 L996.3,690.1 L996.4,691.2 L996.4,692.3 L996.4,693.4 L996.4,694.5 L996.3,695.6 L996.3,696.7 L996.2,697.7 L996.2,698.8 L996.1,699.9 L996.0,700.9 L995.9,702.0 L995.8,703.0 L995.6,704.1 L995.5,705.1 L995.3,706.1 L995.2,707.1 L995.0,708.1 L994.8,709.1 L994.6,710.1 L994.3,711.1 L994.1,712.1 L993.9,713.0 L993.6,713.9 L993.3,714.9 L993.0,715.8 L992.7,716.7 L992.4,717.6 L992.1,718.5 L991.8,719.3 L991.4,720.2 L991.1,721.0 L990.7,721.9 L990.3,722.7 L989.9,723.5 L989.5,724.3 L989.1,725.1 L988.7,725.8 L988.3,726.6 L987.8,727.3 L987.4,728.0 L986.9,728.7 L986.4,729.4 L985.9,730.1 L985.4,730.7 L984.9,731.3 L984.4,732.0 L983.9,732.6 L983.3,733.1 L982.8,733.7 L982.2,734.3 L981.7,734.8 L981.1,735.3 L980.5,735.8 L979.9,736.3 L979.3,736.7 L978.7,737.2 L978.1,737.6 L977.5,738.0 L976.9,738.4 L976.2,738.8 L975.6,739.1 L974.9,739.5 L974.3,739.8 L973.6,740.1 L972.9,740.3 L972.3,740.6 L971.6,740.8 L970.9,741.0 L970.2,741.2 L969.5,741.4 L968.8,741.6 L968.1,741.7 L967.4,741.8 L966.7,741.9 L966.0,742.0 L965.2,742.1 L964.5,742.1 L963.8,742.1 L963.0,742.1 L962.3,742.1 L961.6,742.0 L960.8,742.0 L960.1,741.9 L959.3,741.8 L958.6,741.7 L957.8,741.5 L957.1,741.4 L956.3,741.2 L955.6,741.0 L954.8,740.8 L954.0,740.6 L953.3,740.3 L952.5,740.0 L951.8,739.7 L951.0,739.4 L950.3,739.1 L949.5,738.7 L948.7,738.4 L948.0,738.0 L947.2,737.6 L946.5,737.1 L945.7,736.7 L945.0,736.2 L944.3,735.7 L943.5,735.2 L942.8,734.7 L942.0,734.2 L941.3,733.6 L940.6,733.1 L939.9,732.5 L939.1,731.9 L938.4,731.3 L937.7,730.6 L937.0,730.0 L936.3,729.3 L935.6,728.6 L934.9,727.9 L934.2,727.2 L933.6,726.5 L932.9,725.7 L932.2,725.0 L931.6,724.2 L930.9,723.4 L930.2,722.6 L929.6,721.8 L929.0,720.9 L928.3,720.1 L927.7,719.2 L927.1,718.4 L926.5,717.5 L925.9,716.6 L925.3,715.7 L924.8,714.7 L924.2,713.8 L923.6,712.9 L923.1,711.9 L922.5,711.0 L922.0,710.0 L921.5,709.0 L920.9,708.0 L920.4,707.0 L919.9,706.0 L919.5,705.0 L919.0,703.9 L918.5,702.9 L918.1,701.8 L917.6,700.8 L917.2,699.7 L916.8,698.7 L916.4,697.6 L916.0,696.5 L915.6,695.4 L915.2,694.3 L914.8,693.2 L914.5,692.1 L914.1,691.0 L913.8,689.9 L913.5,688.8 L913.2,687.7 L912.9,686.5 L912.6,685.4 L912.3,684.3 L912.1,683.2 L911.8,682.0 L911.6,680.9 L911.4,679.8 L911.2,678.6 L911.0,677.5 L910.8,676.4 L910.6,675.2 L910.5,674.1 L910.3,672.9 L910.2,671.8 L910.1,670.7 L910.0,669.6 L909.9,668.4 L909.8,667.3 L909.7,666.2 L909.7,665.1 L909.7,663.9 L909.6,662.8 L909.6,661.7 L909.6,660.6 L909.6,659.5 L909.7,658.4 L909.7,657.3 L909.8,656.3 L909.8,655.2 L909.9,654.1 L910.0,653.1 L910.1,652.0 L910.2,651.0 L910.4,649.9 L910.5,648.9 L910.7,647.9 L910.8,646.9 L911.0,645.9 L911.2,644.9 L911.4,643.9 L911.7,642.9 L911.9,641.9 L912.1,641.0 L912.4,640.1 L912.7,639.1 L913.0,638.2 L913.3,637.3 L913.6,636.4 L913.9,635.5 L914.2,634.7 L914.6,633.8 L914.9,633.0 L915.3,632.1 L915.7,631.3 L916.1,630.5 L916.5,629.7 L916.9,628.9 L917.3,628.2 L917.7,627.4 L918.2,626.7 L918.6,626.0 L919.1,625.3 L919.6,624.6 L920.1,623.9 L920.6,623.3 L921.1,622.7 L921.6,622.0 L922.1,621.4 L922.7,620.9 L923.2,620.3 L923.8,619.7 L924.3,619.2 L924.9,618.7 L925.5,618.2 L926.1,617.7 L926.7,617.3 L927.3,616.8 L927.9,616.4 L928.5,616.0 L929.1,615.6 L929.8,615.2 L930.4,614.9 L931.1,614.5 L931.7,614.2 L932.4,613.9 L933.1,613.7 L933.7,613.4 L934.4,613.2 L935.1,613.0 L935.8,612.8 L936.5,612.6 L937.2,612.4 L937.9,612.3 L938.6,612.2 L939.3,612.1 L940.0,612.0 L940.8,611.9 L941.5,611.9 L942.2,611.9 L943.0,611.9 L943.7,611.9 L944.4,612.0 L945.2,612.0 L945.9,612.1 L946.7,612.2 L947.4,612.3 L948.2,612.5 L948.9,612.6 L949.7,612.8 L950.4,613.0 L951.2,613.2 L952.0,613.4 L952.7,613.7 L953.5,614.0 L954.2,614.3 L955.0,614.6 L955.7,614.9 L956.5,615.3 L957.3,615.6 L958.0,616.0 L958.8,616.4 L959.5,616.9 L960.3,617.3 L961.0,617.8 L961.7,618.3 L962.5,618.8 L963.2,619.3 L964.0,619.8 L964.7,620.4 L965.4,620.9 L966.1,621.5 L966.9,622.1 L967.6,622.7 L968.3,623.4 L969.0,624.0 L969.7,624.7 L970.4,625.4 L971.1,626.1 L971.8,626.8 L972.4,627.5 L973.1,628.3 L973.8,629.0 L974.4,629.8 L975.1,630.6 L975.8,631.4 L976.4,632.2 L977.0,633.1 L977.7,633.9 L978.3,634.8 L978.9,635.6 L979.5,636.5 L980.1,637.4 L980.7,638.3 L981.2,639.3 L981.8,640.2 L982.4,641.1 L982.9,642.1 L983.5,643.0 L984.0,644.0 L984.5,645.0 L985.1,646.0 L985.6,647.0 L986.1,648.0 L986.5,649.0 L987.0,650.1 L987.5,651.1 L987.9,652.2 L988.4,653.2 L988.8,654.3 L989.2,655.3 L989.6,656.4 L990.0,657.5 L990.4,658.6 L990.8,659.7 L991.2,660.8 L991.5,661.9 L991.9,663.0 L992.2,664.1 L992.5,665.2 Z M984.6,671.3 L984.9,672.2 L985.1,673.1 L985.3,674.0 L985.5,674.9 L985.7,675.9 L985.9,676.8 L986.1,677.7 L986.3,678.7 L986.4,679.6 L986.6,680.5 L986.7,681.5 L986.9,682.4 L987.0,683.3 L987.1,684.2 L987.2,685.2 L987.3,686.1 L987.3,687.0 L987.4,688.0 L987.5,688.9 L987.5,689.8 L987.5,690.7 L987.5,691.6 L987.6,692.5 L987.6,693.4 L987.5,694.3 L987.5,695.2 L987.5,696.1 L987.4,697.0 L987.4,697.9 L987.3,698.7 L987.2,699.6 L987.2,700.5 L987.1,701.3 L986.9,702.2 L986.8,703.0 L986.7,703.9 L986.6,704.7 L986.4,705.5 L986.2,706.3 L986.1,707.1 L985.9,707.9 L985.7,708.7 L985.5,709.5 L985.3,710.3 L985.1,711.0 L984.8,711.8 L984.6,712.5 L984.3,713.3 L984.1,714.0 L983.8,714.7 L983.5,715.4 L983.2,716.1 L982.9,716.8 L982.6,717.4 L982.3,718.1 L981.9,718.8 L981.6,719.4 L981.3,720.0 L980.9,720.6 L980.5,721.2 L980.2,721.8 L979.8,722.4 L979.4,722.9 L979.0,723.5 L978.6,724.0 L978.2,724.5 L977.7,725.0 L977.3,725.5 L976.9,726.0 L976.4,726.5 L976.0,726.9 L975.5,727.4 L975.0,727.8 L974.6,728.2 L974.1,728.6 L973.6,729.0 L973.1,729.3 L972.6,729.7 L972.1,730.0 L971.6,730.3 L971.0,730.6 L970.5,730.9 L970.0,731.2 L969.4,731.4 L968.9,731.7 L968.3,731.9 L967.8,732.1 L967.2,732.3 L966.7,732.5 L966.1,732.6 L965.5,732.8 L965.0,732.9 L964.4,733.0 L963.8,733.1 L963.2,733.2 L962.6,733.3 L962.0,733.3 L961.4,733.3 L960.8,733.4 L960.2,733.4 L959.6,733.3 L959.0,733.3 L958.4,733.3 L957.8,733.2 L957.2,733.1 L956.6,733.0 L955.9,732.9 L955.3,732.8 L954.7,732.6 L954.1,732.5 L953.5,732.3 L952.9,732.1 L952.2,731.9 L951.6,731.6 L951.0,731.4 L950.4,731.1 L949.8,730.9 L949.1,730.6 L948.5,730.3 L947.9,730.0 L947.3,729.6 L946.7,729.3 L946.1,728.9 L945.4,728.5 L944.8,728.1 L944.2,727.7 L943.6,727.3 L943.0,726.9 L942.4,726.4 L941.8,725.9 L941.2,725.5 L940.6,725.0 L940.1,724.5 L939.5,723.9 L938.9,723.4 L938.3,722.9 L937.7,722.3 L937.2,721.7 L936.6,721.1 L936.1,720.5 L935.5,719.9 L935.0,719.3 L934.4,718.7 L933.9,718.0 L933.4,717.4 L932.8,716.7 L932.3,716.0 L931.8,715.3 L931.3,714.6 L930.8,713.9 L930.3,713.2 L929.8,712.4 L929.3,711.7 L928.8,710.9 L928.4,710.2 L927.9,709.4 L927.5,708.6 L927.0,707.8 L926.6,707.0 L926.2,706.2 L925.7,705.4 L925.3,704.6 L924.9,703.8 L924.5,702.9 L924.1,702.1 L923.7,701.2 L923.4,700.4 L923.0,699.5 L922.7,698.6 L922.3,697.8 L922.0,696.9 L921.6,696.0 L921.3,695.1 L921.0,694.2 L920.7,693.3 L920.4,692.4 L920.1,691.5 L919.9,690.6 L919.6,689.7 L919.4,688.7 L919.1,687.8 L918.9,686.9 L918.7,686.0 L918.5,685.1 L918.3,684.1 L918.1,683.2 L917.9,682.3 L917.7,681.3 L917.6,680.4 L917.4,679.5 L917.3,678.5 L917.1,677.6 L917.0,676.7 L916.9,675.8 L916.8,674.8 L916.7,673.9 L916.7,673.0 L916.6,672.0 L916.5,671.1 L916.5,670.2 L916.5,669.3 L916.5,668.4 L916.4,667.5 L916.4,666.6 L916.5,665.7 L916.5,664.8 L916.5,663.9 L916.6,663.0 L916.6,662.1 L916.7,661.3 L916.8,660.4 L916.8,659.5 L916.9,658.7 L917.1,657.8 L917.2,657.0 L917.3,656.1 L917.4,655.3 L917.6,654.5 L917.8,653.7 L917.9,652.9 L918.1,652.1 L918.3,651.3 L918.5,650.5 L918.7,649.7 L918.9,649.0 L919.2,648.2 L919.4,647.5 L919.7,646.7 L919.9,646.0 L920.2,645.3 L920.5,644.6 L920.8,643.9 L921.1,643.2 L921.4,642.6 L921.7,641.9 L922.1,641.2 L922.4,640.6 L922.7,640.0 L923.1,639.4 L923.5,638.8 L923.8,638.2 L924.2,637.6 L924.6,637.1 L925.0,636.5 L925.4,636.0 L925.8,635.5 L926.3,635.0 L926.7,634.5 L927.1,634.0 L927.6,633.5 L928.0,633.1 L928.5,632.6 L929.0,632.2 L929.4,631.8 L929.9,631.4 L930.4,631.0 L930.9,630.7 L931.4,630.3 L931.9,630.0 L932.4,629.7 L933.0,629.4 L933.5,629.1 L934.0,628.8 L934.6,628.6 L935.1,628.3 L935.7,628.1 L936.2,627.9 L936.8,627.7 L937.3,627.5 L937.9,627.4 L938.5,627.2 L939.0,627.1 L939.6,627.0 L940.2,626.9 L940.8,626.8 L941.4,626.7 L942.0,626.7 L942.6,626.7 L943.2,626.6 L943.8,626.6 L944.4,626.7 L945.0,626.7 L945.6,626.7 L946.2,626.8 L946.8,626.9 L947.4,627.0 L948.1,627.1 L948.7,627.2 L949.3,627.4 L949.9,627.5 L950.5,627.7 L951.1,627.9 L951.8,628.1 L952.4,628.4 L953.0,628.6 L953.6,628.9 L954.2,629.1 L954.9,629.4 L955.5,629.7 L956.1,630.0 L956.7,630.4 L957.3,630.7 L957.9,631.1 L958.6,631.5 L959.2,631.9 L959.8,632.3 L960.4,632.7 L961.0,633.1 L961.6,633.6 L962.2,634.1 L962.8,634.5 L963.4,635.0 L963.9,635.5 L964.5,636.1 L965.1,636.6 L965.7,637.1 L966.3,637.7 L966.8,638.3 L967.4,638.9 L967.9,639.5 L968.5,640.1 L969.0,640.7 L969.6,641.3 L970.1,642.0 L970.6,642.6 L971.2,643.3 L971.7,644.0 L972.2,644.7 L972.7,645.4 L973.2,646.1 L973.7,646.8 L974.2,647.6 L974.7,648.3 L975.2,649.1 L975.6,649.8 L976.1,650.6 L976.5,651.4 L977.0,652.2 L977.4,653.0 L977.8,653.8 L978.3,654.6 L978.7,655.4 L979.1,656.2 L979.5,657.1 L979.9,657.9 L980.3,658.8 L980.6,659.6 L981.0,660.5 L981.3,661.4 L981.7,662.2 L982.0,663.1 L982.4,664.0 L982.7,664.9 L983.0,665.8 L983.3,666.7 L983.6,667.6 L983.9,668.5 L984.1,669.4 L984.4,670.3 Z" fill="#fff" fill-rule="evenodd" stroke-width="1.5"/>
<polyline points="916.2,688.4 915.1,684.2 914.3,680.0 913.7,675.8 913.2,671.6 912.9,667.5 912.9,663.4 913.0,659.3 913.3,655.4 913.8,651.6 914.6,647.9 915.4,644.3 916.5,641.0 917.8,637.8 919.2,634.8 920.8,632.0 922.5,629.4 924.4,627.1 926.5,625.1 928.6,623.2 930.9,621.7 933.3,620.5 935.8,619.5 938.4,618.8 941.0,618.4 943.7,618.3 946.5,618.5 949.2,619.0 952.0,619.7 954.8,620.8 957.6,622.1 960.4,623.7 963.1,625.6 965.8,627.8 968.4,630.1 971.0,632.8 973.4,635.6 975.8,638.7 978.0,641.9 980.2,645.3 982.2,648.9 984.0,652.6 985.7,656.5 987.3,660.5 988.6,664.5 989.8,668.6 990.9,672.8 991.7,677.0 992.3,681.2 992.8,685.4 993.1,689.5 993.1,693.6 993.0,697.7 992.7,701.6 992.2,705.4 991.4,709.1 990.6,712.7 989.5,716.0 988.2,719.2 986.8,722.2 985.2,725.0 983.5,727.6 981.6,729.9 979.5,731.9 977.4,733.8 975.1,735.3 972.7,736.5 970.2,737.5 967.6,738.2 965.0,738.6 962.3,738.7 959.5,738.5 956.8,738.0 954.0,737.3 951.2,736.2 948.4,734.9 945.6,733.3 942.9,731.4 940.2,729.2 937.6,726.9 935.0,724.2 932.6,721.4 930.2,718.3 928.0,715.1 925.8,711.7 923.8,708.1 922.0,704.4 920.3,700.5 918.7,696.5 917.4,692.5 916.2,688.4" fill="none" stroke-width="1.25"/>
<line x1="962.6" y1="733.3" x2="981.0" y2="728.4" stroke-width="1.25"/>
<line x1="959.6" y1="733.3" x2="978.0" y2="728.4" stroke-width="1.25"/>
<line x1="956.6" y1="733.0" x2="974.9" y2="728.1" stroke-width="1.25"/>
<line x1="953.5" y1="732.3" x2="971.8" y2="727.4" stroke-width="1.25"/>
<line x1="950.4" y1="731.1" x2="968.7" y2="726.2" stroke-width="1.25"/>
<line x1="947.3" y1="729.6" x2="965.6" y2="724.7" stroke-width="1.25"/>
<line x1="944.2" y1="727.7" x2="962.6" y2="722.8" stroke-width="1.25"/>
<line x1="941.2" y1="725.5" x2="959.6" y2="720.6" stroke-width="1.25"/>
<line x1="938.3" y1="722.9" x2="956.7" y2="717.9" stroke-width="1.25"/>
<line x1="935.5" y1="719.9" x2="953.9" y2="715.0" stroke-width="1.25"/>
<line x1="932.8" y1="716.7" x2="951.2" y2="711.8" stroke-width="1.25"/>
<line x1="930.3" y1="713.2" x2="948.6" y2="708.3" stroke-width="1.25"/>
<line x1="927.9" y1="709.4" x2="946.3" y2="704.5" stroke-width="1.25"/>
<line x1="925.7" y1="705.4" x2="944.1" y2="700.5" stroke-width="1.25"/>
<line x1="923.7" y1="701.2" x2="942.1" y2="696.3" stroke-width="1.25"/>
<line x1="922.0" y1="696.9" x2="940.3" y2="692.0" stroke-width="1.25"/>
<line x1="920.4" y1="692.4" x2="938.8" y2="687.5" stroke-width="1.25"/>
<line x1="919.1" y1="687.8" x2="937.5" y2="682.9" stroke-width="1.25"/>
<line x1="918.1" y1="683.2" x2="936.4" y2="678.3" stroke-width="1.25"/>
<line x1="917.3" y1="678.5" x2="935.6" y2="673.6" stroke-width="1.25"/>
<line x1="916.7" y1="673.9" x2="935.1" y2="669.0" stroke-width="1.25"/>
<line x1="916.5" y1="669.3" x2="934.8" y2="664.4" stroke-width="1.25"/>
<line x1="916.5" y1="664.8" x2="934.8" y2="659.9" stroke-width="1.25"/>
<line x1="916.8" y1="660.4" x2="935.1" y2="655.5" stroke-width="1.25"/>
<line x1="917.3" y1="656.1" x2="935.7" y2="651.2" stroke-width="1.25"/>
<line x1="918.1" y1="652.1" x2="936.5" y2="647.1" stroke-width="1.25"/>
<line x1="919.2" y1="648.2" x2="937.5" y2="643.3" stroke-width="1.25"/>
<line x1="920.5" y1="644.6" x2="938.9" y2="639.7" stroke-width="1.25"/>
<line x1="922.1" y1="641.2" x2="940.4" y2="636.3" stroke-width="1.25"/>
<line x1="923.8" y1="638.2" x2="942.2" y2="633.3" stroke-width="1.25"/>
<line x1="925.8" y1="635.5" x2="944.2" y2="630.5" stroke-width="1.25"/>
<line x1="928.0" y1="633.1" x2="946.4" y2="628.2" stroke-width="1.25"/>
<line x1="930.4" y1="631.0" x2="948.8" y2="626.1" stroke-width="1.25"/>
<line x1="933.0" y1="629.4" x2="951.3" y2="624.5" stroke-width="1.25"/>
<line x1="941.4" y1="626.7" x2="942.0" y2="629.7" stroke-width="1.25"/>
<line x1="945.0" y1="626.7" x2="945.4" y2="629.6" stroke-width="1.25"/>
<line x1="948.7" y1="627.2" x2="948.9" y2="630.1" stroke-width="1.25"/>
<line x1="952.4" y1="628.4" x2="952.4" y2="631.2" stroke-width="1.25"/>
<line x1="956.1" y1="630.0" x2="955.9" y2="632.8" stroke-width="1.25"/>
<line x1="959.8" y1="632.3" x2="959.3" y2="634.9" stroke-width="1.25"/>
<line x1="963.4" y1="635.0" x2="962.7" y2="637.5" stroke-width="1.25"/>
<line x1="966.8" y1="638.3" x2="966.0" y2="640.6" stroke-width="1.25"/>
<line x1="970.1" y1="642.0" x2="969.1" y2="644.1" stroke-width="1.25"/>
<line x1="973.2" y1="646.1" x2="972.0" y2="648.0" stroke-width="1.25"/>
<line x1="976.1" y1="650.6" x2="974.8" y2="652.2" stroke-width="1.25"/>
<line x1="978.7" y1="655.4" x2="977.2" y2="656.8" stroke-width="1.25"/>
<line x1="981.0" y1="660.5" x2="979.4" y2="661.6" stroke-width="1.25"/>
<line x1="983.0" y1="665.8" x2="981.3" y2="666.6" stroke-width="1.25"/>
<line x1="984.6" y1="671.3" x2="982.8" y2="671.7" stroke-width="1.25"/>
<line x1="985.9" y1="676.8" x2="984.1" y2="677.0" stroke-width="1.25"/>
<line x1="986.9" y1="682.4" x2="984.9" y2="682.3" stroke-width="1.25"/>
<line x1="987.4" y1="688.0" x2="985.5" y2="687.5" stroke-width="1.25"/>
<line x1="987.6" y1="693.4" x2="985.6" y2="692.7" stroke-width="1.25"/>
<line x1="987.3" y1="698.7" x2="985.4" y2="697.7" stroke-width="1.25"/>
<line x1="986.7" y1="703.9" x2="984.8" y2="702.6" stroke-width="1.25"/>
<line x1="985.7" y1="708.7" x2="983.8" y2="707.1" stroke-width="1.25"/>
<line x1="984.3" y1="713.3" x2="982.5" y2="711.4" stroke-width="1.25"/>
<line x1="982.6" y1="717.4" x2="980.9" y2="715.4" stroke-width="1.25"/>
<line x1="980.5" y1="721.2" x2="979.0" y2="718.9" stroke-width="1.25"/>
<line x1="978.2" y1="724.5" x2="976.7" y2="722.1" stroke-width="1.25"/>
<line x1="975.5" y1="727.4" x2="974.2" y2="724.8" stroke-width="1.25"/>
<line x1="972.6" y1="729.7" x2="971.5" y2="726.9" stroke-width="1.25"/>
<line x1="969.4" y1="731.4" x2="968.5" y2="728.6" stroke-width="1.25"/>
<line x1="966.1" y1="732.6" x2="965.3" y2="729.7" stroke-width="1.25"/>
<polyline points="981.0,728.4 978.6,728.4 976.1,728.3 973.6,727.8 971.1,727.1 968.6,726.2 966.2,725.0 963.7,723.6 961.3,721.9 958.9,719.9 956.5,717.8 954.3,715.5 952.1,712.9 950.0,710.2 948.0,707.3 946.1,704.2 944.3,701.0 942.7,697.7 941.2,694.2 939.8,690.7 938.6,687.0 937.6,683.4 936.7,679.6 936.0,675.9 935.4,672.2 935.0,668.4 934.8,664.7 934.8,661.1 934.9,657.5 935.3,654.0 935.8,650.6 936.4,647.4 937.2,644.2 938.2,641.2 939.4,638.4 940.7,635.8 942.1,633.4 943.7,631.1 945.4,629.1 947.3,627.3 949.2,625.8 951.3,624.5 953.5,623.4" fill="none" stroke-width="1.25"/>
<polyline points="980.9,720.0 978.9,719.9 976.8,719.5 974.7,718.9 972.6,718.1 970.5,717.1 968.4,715.9 966.3,714.5 964.3,712.9 962.3,711.1 960.4,709.1 958.6,706.9 956.8,704.6 955.1,702.2 953.5,699.6 952.1,696.9 950.7,694.1 949.4,691.2 948.3,688.2 947.2,685.1 946.4,682.0 945.6,678.9 945.0,675.7 944.5,672.5 944.2,669.4 944.0,666.3 944.0,663.2 944.1,660.2 944.4,657.2 944.8,654.4 945.4,651.6 946.1,649.0 946.9,646.4 947.9,644.1 949.0,641.8 950.2,639.8 951.5,637.9 953.0,636.2 954.5,634.7 956.2,633.4 957.9,632.3 959.7,631.4" fill="none" stroke-width="1.4"/>
<polygon points="892.1,651.5 893.9,651.2 895.8,651.0 897.8,651.0 899.7,651.3 901.7,651.7 903.7,652.3 905.7,653.2 907.6,654.2 909.6,655.5 911.5,656.9 913.4,658.5 915.2,660.3 917.0,662.2 918.7,664.3 920.3,666.5 921.8,668.9 923.3,671.4 924.7,673.9 925.9,676.6 927.1,679.4 928.1,682.2 929.0,685.1 929.8,688.1 930.4,691.0 931.0,694.0 931.4,697.0 931.6,699.9 931.7,702.8 931.7,705.7 931.6,708.5 931.3,711.3 930.8,713.9 930.3,716.5 929.6,718.9 928.7,721.3 927.8,723.5 926.7,725.5 925.5,727.4 924.2,729.1 922.9,730.7 921.4,732.0 919.8,733.2 918.1,734.2 916.4,735.0 914.6,735.6 910.8,736.6 908.9,737.0 907.0,737.2 905.1,737.2 903.1,736.9 901.2,736.5 899.2,735.8 897.2,735.0 895.2,733.9 893.3,732.7 891.4,731.3 889.5,729.7 887.7,727.9 885.9,726.0 884.2,723.9 882.6,721.7 881.0,719.3 879.6,716.8 878.2,714.2 876.9,711.5 875.8,708.8 874.8,705.9 873.9,703.0 873.1,700.1 872.4,697.2 871.9,694.2 871.5,691.2 871.2,688.3 871.1,685.3 871.2,682.5 871.3,679.6 871.6,676.9 872.0,674.2 872.6,671.7 873.3,669.2 874.1,666.9 875.1,664.7 876.1,662.7 877.3,660.8 878.6,659.1 880.0,657.5 881.5,656.1 883.1,655.0 884.7,654.0 886.5,653.2 888.2,652.6" fill="#fff" stroke-width="1.5"/>
<polygon points="925.6,687.6 925.7,688.4 925.9,689.1 926.1,689.8 926.3,690.6 926.4,691.3 926.6,692.0 926.7,692.8 926.9,693.5 927.0,694.3 927.1,695.0 927.2,695.8 927.3,696.5 927.4,697.3 927.5,698.0 927.6,698.7 927.6,699.5 927.7,700.2 927.8,700.9 927.8,701.7 927.8,702.4 927.9,703.1 927.9,703.9 927.9,704.6 927.9,705.3 927.9,706.0 927.8,706.7 927.8,707.5 927.8,708.2 927.7,708.9 927.7,709.6 927.6,710.3 927.6,710.9 927.5,711.6 927.4,712.3 927.3,713.0 927.2,713.7 927.1,714.3 927.0,715.0 926.8,715.6 926.7,716.3 926.5,716.9 926.4,717.5 926.2,718.2 926.1,718.8 925.9,719.4 925.7,720.0 925.5,720.6 925.3,721.2 925.1,721.7 924.9,722.3 924.6,722.9 924.4,723.4 924.2,724.0 923.9,724.5 923.7,725.0 923.4,725.5 923.1,726.0 922.9,726.5 922.6,727.0 922.3,727.5 922.0,728.0 921.7,728.4 921.4,728.9 921.0,729.3 920.7,729.7 920.4,730.1 920.0,730.6 919.7,730.9 919.3,731.3 919.0,731.7 918.6,732.1 918.3,732.4 917.9,732.7 917.5,733.1 917.1,733.4 916.7,733.7 916.3,734.0 915.9,734.2 915.5,734.5 915.1,734.8 914.7,735.0 914.3,735.2 913.8,735.5 913.4,735.7 913.0,735.8 912.5,736.0 912.1,736.2 911.7,736.3 911.2,736.5 910.8,736.6 911.3,740.6 910.8,740.7 910.3,740.8 909.8,740.9 909.3,741.0 908.8,741.0 908.2,741.1 907.7,741.1 907.2,741.1 906.1,737.2 905.6,737.2 905.1,737.2 904.6,737.1 904.1,737.1 903.6,737.0 903.1,736.9 902.7,736.8 902.2,736.7 901.7,736.6 901.2,736.5 900.7,736.3 900.2,736.2 899.7,736.0 899.2,735.8 898.7,735.6 898.2,735.4 897.7,735.2 897.2,735.0 896.7,734.7 896.2,734.5 895.7,734.2 895.2,733.9 894.8,733.6 894.3,733.3 893.8,733.0 893.3,732.7 892.8,732.4 892.3,732.0 891.9,731.6 891.4,731.3 890.9,730.9 890.4,730.5 890.0,730.1 889.5,729.7 889.0,729.2 888.6,728.8 888.1,728.4 887.7,727.9 887.2,727.4 886.8,727.0 886.3,726.5 885.9,726.0 885.5,725.5 885.0,724.9 884.6,724.4 884.2,723.9 883.8,723.3 883.4,722.8 883.0,722.2 882.6,721.7 882.2,721.1 881.8,720.5 881.4,719.9 881.0,719.3 880.6,718.7 880.3,718.1 879.9,717.4 879.6,716.8 879.2,716.2 878.9,715.5 878.5,714.9 878.2,714.2 877.9,713.6 877.6,712.9 877.3,712.2 876.9,711.5 876.6,710.9 876.4,710.2 876.1,709.5 875.8,708.8 875.5,708.1 875.3,707.4 875.0,706.6 874.8,705.9 874.5,705.2 874.3,704.5 874.1,703.8 873.9,703.0 873.6,702.3 873.4,701.6 873.3,700.8 873.1,700.1 872.9,699.4 872.7,698.6 872.6,697.9 872.4,697.2 872.3,696.4 872.1,695.7 872.0,694.9 871.9,694.2 871.8,693.4 871.7,692.7 871.6,691.9 871.5,691.2 871.4,690.5 871.4,689.7 871.3,689.0 871.2,688.3 871.2,687.5 871.2,686.8 871.1,686.1 871.1,685.3 871.1,684.6 871.1,683.9 871.1,683.2 871.2,682.5 871.2,681.7 871.2,681.0 871.3,680.3 871.3,679.6 871.4,678.9 871.4,678.3 871.5,677.6 871.6,676.9 871.7,676.2 871.8,675.5 871.9,674.9 872.0,674.2 872.2,673.6 872.3,672.9 872.5,672.3 872.6,671.7 872.8,671.0 872.9,670.4 873.1,669.8 873.3,669.2 873.5,668.6 873.7,668.0 873.9,667.5 874.1,666.9 874.4,666.3 874.6,665.8 874.8,665.2 875.1,664.7 875.3,664.2 873.4,660.8 873.7,660.3 874.0,659.7 874.3,659.2 874.6,658.7 875.0,658.2 875.3,657.7 875.6,657.2 876.0,656.7 878.3,659.5 878.6,659.1 879.0,658.6 879.3,658.3 879.7,657.9 880.0,657.5 880.4,657.1 880.7,656.8 881.1,656.5 881.5,656.1 881.9,655.8 882.3,655.5 882.7,655.2 883.1,655.0 883.5,654.7 883.9,654.4 884.3,654.2 884.7,654.0 885.2,653.7 885.6,653.5 886.0,653.4 886.5,653.2 886.9,653.0 887.3,652.9 887.8,652.7 888.2,652.6 888.7,652.5 889.2,652.4 889.6,652.3 890.1,652.2 890.6,652.1 891.0,652.1 891.5,652.0 892.0,652.0 892.5,652.0 892.9,652.0 893.4,652.0 893.9,652.0 894.4,652.1 894.9,652.1 895.4,652.2 895.9,652.3 896.3,652.4 896.8,652.5 897.3,652.6 897.8,652.7 898.3,652.9 898.8,653.0 899.3,653.2 899.8,653.4 900.3,653.6 900.8,653.8 901.3,654.0 901.8,654.2 902.3,654.5 902.8,654.7 903.3,655.0 903.8,655.3 904.2,655.6 904.7,655.9 905.2,656.2 905.7,656.5 906.2,656.8 906.7,657.2 907.1,657.6 907.6,657.9 908.1,658.3 908.6,658.7 909.0,659.1 909.5,659.5 910.0,660.0 910.4,660.4 910.9,660.8 911.3,661.3 911.8,661.8 912.2,662.2 912.7,662.7 913.1,663.2 913.5,663.7 914.0,664.3 914.4,664.8 914.8,665.3 915.2,665.9 915.6,666.4 916.0,667.0 916.4,667.5 916.8,668.1 917.2,668.7 917.6,669.3 918.0,669.9 918.4,670.5 918.7,671.1 919.1,671.8 919.4,672.4 919.8,673.0 920.1,673.7 920.5,674.3 920.8,675.0 921.1,675.6 921.4,676.3 921.7,677.0 922.1,677.7 922.4,678.3 922.6,679.0 922.9,679.7 923.2,680.4 923.5,681.1 923.7,681.8 924.0,682.6 924.2,683.3 924.5,684.0 924.7,684.7 924.9,685.4 925.1,686.2 925.4,686.9" fill="#fff" stroke-width="1.5"/>
<ellipse cx="900.5" cy="693.6" rx="13.4" ry="21.6" transform="rotate(-15 900.5 693.6)" fill="#fff" stroke-width="1.5" />
<ellipse cx="824.6" cy="713.0" rx="40.5" ry="65.4" transform="rotate(-15 824.6 713.0)" fill="none" stroke-width="1.5" />
<ellipse cx="824.6" cy="713.0" rx="38.2" ry="61.6" transform="rotate(-15 824.6 713.0)" fill="none" stroke-width="1.5" />
<ellipse cx="768.0" cy="728.0" rx="46.2" ry="74.5" transform="rotate(-15 768.0 728.0)" fill="none" stroke-width="1.5" />
<ellipse cx="768.0" cy="728.0" rx="43.7" ry="70.5" transform="rotate(-15 768.0 728.0)" fill="none" stroke-width="1.5" />
<ellipse cx="726.4" cy="740.5" rx="47.1" ry="76.0" transform="rotate(-15 726.4 740.5)" fill="#fff" stroke-width="1.5" />
<polyline points="734.4,805.6 731.4,805.4 728.4,804.9 725.3,804.0 722.3,802.9 719.2,801.4 716.2,799.6 713.3,797.6 710.3,795.2 707.5,792.6 704.7,789.7 702.1,786.6 699.5,783.2 697.1,779.6 694.8,775.9 692.7,772.0 690.7,767.9 688.9,763.6 687.3,759.3 685.8,754.9 684.6,750.4 683.5,745.8 682.7,741.3 682.0,736.7 681.6,732.2 681.4,727.7 681.4,723.2 681.6,718.9 682.0,714.6 682.7,710.5 683.5,706.6 684.6,702.8 685.8,699.2 687.3,695.8 688.9,692.7 690.7,689.8 692.7,687.1 694.8,684.7" fill="none" stroke-width="1.25"/>
<polyline points="678.0,715.2 678.5,710.6 679.3,706.1 680.2,701.8 681.4,697.6 682.8,693.7 684.4,690.0 686.2,686.5 688.2,683.4 690.4,680.4 692.7,677.8 695.2,675.5 697.9,673.5 700.7,671.8 703.6,670.5 706.6,669.5 709.7,668.9 712.9,668.6 716.2,668.6 719.5,669.0 722.8,669.8 726.2,670.8 729.5,672.3 732.8,674.0 736.1,676.1 739.4,678.5 742.5,681.2 745.6,684.2 748.6,687.5 751.5,691.0 754.3,694.8 756.9,698.8 759.3,703.0 761.6,707.3 763.8,711.9 765.7,716.6 767.4,721.3 769.0,726.2 770.3,731.2 771.4,736.2 772.3,741.2 773.0,746.2 773.4,751.2 773.6,756.2 773.6,761.0 773.3,765.8 772.8,770.4 772.0,774.9 771.1,779.2 769.9,783.4 768.5,787.3 766.9,791.0 765.1,794.5 763.1,797.6 760.9,800.6 758.6,803.2 756.1,805.5 753.4,807.5 750.6,809.2 747.7,810.5 744.7,811.5 741.6,812.1 738.4,812.4 735.1,812.4 731.8,812.0 728.5,811.2 725.1,810.2 721.8,808.7 718.5,807.0 715.2,804.9 711.9,802.5 708.8,799.8 705.7,796.8 702.7,793.5 699.8,790.0 697.0,786.2" fill="none" stroke-width="1.25"/>
<polyline points="678.9,716.1 679.4,711.6 680.1,707.3 681.0,703.1 682.1,699.1 683.5,695.3 685.0,691.7 686.8,688.4 688.7,685.3 690.8,682.5 693.1,680.0 695.5,677.7 698.1,675.8 700.8,674.2 703.6,672.9 706.5,671.9 709.5,671.3 712.6,671.0 715.8,671.0 719.0,671.4 722.2,672.2 725.4,673.2 728.6,674.6 731.8,676.3 735.0,678.3 738.2,680.6 741.2,683.3 744.2,686.1 747.1,689.3 749.9,692.7 752.5,696.3 755.1,700.2 757.4,704.2 759.7,708.5 761.7,712.9 763.6,717.4 765.3,722.0 766.8,726.7 768.0,731.5 769.1,736.3 770.0,741.2 770.6,746.0 771.0,750.9 771.2,755.6 771.2,760.3 770.9,764.9 770.4,769.4 769.7,773.7 768.8,777.9 767.7,781.9 766.3,785.7 764.8,789.3 763.0,792.6 761.1,795.7 759.0,798.5 756.7,801.0 754.3,803.3 751.7,805.2 749.0,806.8 746.2,808.1 743.3,809.1 740.3,809.7 737.2,810.0 734.0,810.0 730.8,809.6 727.6,808.8 724.4,807.8 721.2,806.4 718.0,804.7 714.8,802.7 711.6,800.4 708.6,797.7 705.6,794.9 702.7,791.7 699.9,788.3 697.3,784.7" fill="none" stroke-width="1.25"/>
<polyline points="696.7,682.1 699.1,679.9 701.5,678.1 704.1,676.5 706.9,675.3 709.7,674.3 712.6,673.7 715.6,673.4 718.6,673.5 721.7,673.9 724.8,674.6 727.9,675.6 731.0,676.9 734.1,678.6 737.2,680.5 740.2,682.7 743.1,685.3 746.0,688.1 748.8,691.1 751.5,694.4 754.1,697.9 756.5,701.6 758.8,705.5 760.9,709.6 762.9,713.8 764.7,718.2 766.3,722.7 767.8,727.2 769.0,731.8 770.1,736.5 770.9,741.2 771.5,745.8 771.9,750.5 772.1,755.1 772.0,759.6 771.8,764.1 771.3,768.4 770.6,772.6 769.7,776.6 768.7,780.5 767.4,784.1 765.9,787.6 764.2,790.8 762.3,793.8 760.3,796.5 758.1,798.9 755.7,801.1 753.3,802.9 750.7,804.5 747.9,805.7 745.1,806.7 742.2,807.3 739.2,807.6 736.2,807.5 733.1,807.1 730.0,806.4" fill="none" stroke-width="1.25"/>
<line x1="722.0" y1="699.0" x2="735.0" y2="765.0" stroke-width="1.25"/>
<line x1="727.0" y1="699.0" x2="740.0" y2="765.0" stroke-width="1.25"/>
<polygon points="733.0,736.0 757.0,730.0 760.0,738.0 762.0,784.0 742.0,790.0 734.0,780.0" fill="#fff" stroke-width="1.5"/>
<polyline points="758.0,740.0 763.0,742.0 763.0,745.0 758.0,746.0" fill="none" stroke-width="1.5"/>
<polyline points="758.0,748.0 763.0,750.0 763.0,753.0 758.0,754.0" fill="none" stroke-width="1.5"/>
<polyline points="758.0,756.0 763.0,758.0 763.0,761.0 758.0,762.0" fill="none" stroke-width="1.5"/>
<polyline points="758.0,764.0 763.0,766.0 763.0,769.0 758.0,770.0" fill="none" stroke-width="1.5"/>
<polyline points="758.0,772.0 763.0,774.0 763.0,777.0 758.0,778.0" fill="none" stroke-width="1.5"/>
<polyline points="758.0,780.0 763.0,782.0 763.0,785.0 758.0,786.0" fill="none" stroke-width="1.5"/>
<line x1="742.0" y1="740.0" x2="743.0" y2="786.0" stroke-width="1.25"/>
<line x1="749.0" y1="738.0" x2="750.0" y2="786.0" stroke-width="1.25"/>
<polygon points="678.9,702.7 680.0,698.2 681.4,693.9 683.0,689.9 684.8,686.1 686.9,682.6 689.1,679.4 691.6,676.5 694.2,674.0 697.0,671.7 699.9,669.9 703.0,668.4 706.1,667.3 709.4,666.5 712.8,666.1 716.3,666.1 719.8,666.5 723.3,667.3 726.9,668.4 730.4,670.0 729.5,685.7 726.8,684.6 724.0,683.7 721.3,683.1 718.5,682.8 715.9,682.8 713.2,683.1 710.7,683.6 708.2,684.5 705.8,685.7 703.5,687.1 701.4,688.8 699.4,690.8 697.5,693.1 695.7,695.5 694.1,698.3 692.7,701.2 691.5,704.3 690.4,707.6 689.5,711.1" fill="#fff" stroke-width="1.5"/>
<path d="M682.0,693.7 v5 a2.3,2.3 0 0 0 4.6,0 v-5" fill="#fff" stroke-width="1.25"/>
<path d="M686.4,684.1 v5 a2.3,2.3 0 0 0 4.6,0 v-5" fill="#fff" stroke-width="1.25"/>
<path d="M692.3,676.5 v5 a2.3,2.3 0 0 0 4.6,0 v-5" fill="#fff" stroke-width="1.25"/>
<path d="M699.3,671.0 v5 a2.3,2.3 0 0 0 4.6,0 v-5" fill="#fff" stroke-width="1.25"/>
<path d="M707.2,668.1 v5 a2.3,2.3 0 0 0 4.6,0 v-5" fill="#fff" stroke-width="1.25"/>
<path d="M715.8,667.6 v5 a2.3,2.3 0 0 0 4.6,0 v-5" fill="#fff" stroke-width="1.25"/>
<polygon points="654.0,708.0 668.0,699.0 680.0,700.0 680.0,756.0 658.0,761.0 654.0,756.0" fill="#fff" stroke-width="1.5"/>
<line x1="659.0" y1="709.0" x2="660.0" y2="758.0" stroke-width="1.25"/>
<polyline points="660.0,702.0 662.0,695.0 672.0,694.0 676.0,699.0" fill="#fff" stroke-width="1.5"/>
<polygon points="682.0,798.0 692.0,793.0 726.0,797.0 731.0,806.0 729.0,815.0 690.0,813.0" fill="#fff" stroke-width="1.5"/>
<line x1="686.0" y1="803.0" x2="726.0" y2="806.0" stroke-width="1.25"/>
<polygon points="597.4,700.5 614.8,695.8 617.1,704.5 599.7,709.1" fill="#fff" stroke="none"/>
<ellipse cx="598.6" cy="704.8" rx="1.9" ry="4.5" transform="rotate(-15 598.6 704.8)" fill="none" stroke-width="1.25"/>
<ellipse cx="601.1" cy="704.1" rx="1.9" ry="4.5" transform="rotate(-15 601.1 704.1)" fill="none" stroke-width="1.25"/>
<ellipse cx="603.5" cy="703.5" rx="1.9" ry="4.5" transform="rotate(-15 603.5 703.5)" fill="none" stroke-width="1.25"/>
<ellipse cx="606.0" cy="702.8" rx="1.9" ry="4.5" transform="rotate(-15 606.0 702.8)" fill="none" stroke-width="1.25"/>
<ellipse cx="608.5" cy="702.1" rx="1.9" ry="4.5" transform="rotate(-15 608.5 702.1)" fill="none" stroke-width="1.25"/>
<ellipse cx="611.0" cy="701.5" rx="1.9" ry="4.5" transform="rotate(-15 611.0 701.5)" fill="none" stroke-width="1.25"/>
<ellipse cx="613.5" cy="700.8" rx="1.9" ry="4.5" transform="rotate(-15 613.5 700.8)" fill="none" stroke-width="1.25"/>
<ellipse cx="616.0" cy="700.1" rx="1.9" ry="4.5" transform="rotate(-15 616.0 700.1)" fill="none" stroke-width="1.25"/>
<polygon points="605.7,703.4 623.0,698.7 625.4,707.4 608.0,712.1" fill="#fff" stroke="none"/>
<ellipse cx="606.8" cy="707.7" rx="1.9" ry="4.5" transform="rotate(-15 606.8 707.7)" fill="none" stroke-width="1.25"/>
<ellipse cx="609.3" cy="707.0" rx="1.9" ry="4.5" transform="rotate(-15 609.3 707.0)" fill="none" stroke-width="1.25"/>
<ellipse cx="611.8" cy="706.4" rx="1.9" ry="4.5" transform="rotate(-15 611.8 706.4)" fill="none" stroke-width="1.25"/>
<ellipse cx="614.3" cy="705.7" rx="1.9" ry="4.5" transform="rotate(-15 614.3 705.7)" fill="none" stroke-width="1.25"/>
<ellipse cx="616.8" cy="705.0" rx="1.9" ry="4.5" transform="rotate(-15 616.8 705.0)" fill="none" stroke-width="1.25"/>
<ellipse cx="619.2" cy="704.4" rx="1.9" ry="4.5" transform="rotate(-15 619.2 704.4)" fill="none" stroke-width="1.25"/>
<ellipse cx="621.7" cy="703.7" rx="1.9" ry="4.5" transform="rotate(-15 621.7 703.7)" fill="none" stroke-width="1.25"/>
<ellipse cx="624.2" cy="703.0" rx="1.9" ry="4.5" transform="rotate(-15 624.2 703.0)" fill="none" stroke-width="1.25"/>
<polygon points="613.8,708.3 631.2,703.6 633.5,712.3 616.1,717.0" fill="#fff" stroke="none"/>
<ellipse cx="614.9" cy="712.7" rx="1.9" ry="4.5" transform="rotate(-15 614.9 712.7)" fill="none" stroke-width="1.25"/>
<ellipse cx="617.4" cy="712.0" rx="1.9" ry="4.5" transform="rotate(-15 617.4 712.0)" fill="none" stroke-width="1.25"/>
<ellipse cx="619.9" cy="711.3" rx="1.9" ry="4.5" transform="rotate(-15 619.9 711.3)" fill="none" stroke-width="1.25"/>
<ellipse cx="622.4" cy="710.7" rx="1.9" ry="4.5" transform="rotate(-15 622.4 710.7)" fill="none" stroke-width="1.25"/>
<ellipse cx="624.9" cy="710.0" rx="1.9" ry="4.5" transform="rotate(-15 624.9 710.0)" fill="none" stroke-width="1.25"/>
<ellipse cx="627.4" cy="709.3" rx="1.9" ry="4.5" transform="rotate(-15 627.4 709.3)" fill="none" stroke-width="1.25"/>
<ellipse cx="629.8" cy="708.7" rx="1.9" ry="4.5" transform="rotate(-15 629.8 708.7)" fill="none" stroke-width="1.25"/>
<ellipse cx="632.3" cy="708.0" rx="1.9" ry="4.5" transform="rotate(-15 632.3 708.0)" fill="none" stroke-width="1.25"/>
<polygon points="648.5,776.3 665.9,771.6 668.2,780.3 650.8,785.0" fill="#fff" stroke="none"/>
<ellipse cx="649.7" cy="780.7" rx="1.9" ry="4.5" transform="rotate(-15 649.7 780.7)" fill="none" stroke-width="1.25"/>
<ellipse cx="652.2" cy="780.0" rx="1.9" ry="4.5" transform="rotate(-15 652.2 780.0)" fill="none" stroke-width="1.25"/>
<ellipse cx="654.6" cy="779.3" rx="1.9" ry="4.5" transform="rotate(-15 654.6 779.3)" fill="none" stroke-width="1.25"/>
<ellipse cx="657.1" cy="778.7" rx="1.9" ry="4.5" transform="rotate(-15 657.1 778.7)" fill="none" stroke-width="1.25"/>
<ellipse cx="659.6" cy="778.0" rx="1.9" ry="4.5" transform="rotate(-15 659.6 778.0)" fill="none" stroke-width="1.25"/>
<ellipse cx="662.1" cy="777.3" rx="1.9" ry="4.5" transform="rotate(-15 662.1 777.3)" fill="none" stroke-width="1.25"/>
<ellipse cx="664.6" cy="776.7" rx="1.9" ry="4.5" transform="rotate(-15 664.6 776.7)" fill="none" stroke-width="1.25"/>
<ellipse cx="667.1" cy="776.0" rx="1.9" ry="4.5" transform="rotate(-15 667.1 776.0)" fill="none" stroke-width="1.25"/>
<polygon points="649.1,789.7 666.5,785.0 668.8,793.7 651.4,798.4" fill="#fff" stroke="none"/>
<ellipse cx="650.3" cy="794.1" rx="1.9" ry="4.5" transform="rotate(-15 650.3 794.1)" fill="none" stroke-width="1.25"/>
<ellipse cx="652.8" cy="793.4" rx="1.9" ry="4.5" transform="rotate(-15 652.8 793.4)" fill="none" stroke-width="1.25"/>
<ellipse cx="655.2" cy="792.7" rx="1.9" ry="4.5" transform="rotate(-15 655.2 792.7)" fill="none" stroke-width="1.25"/>
<ellipse cx="657.7" cy="792.1" rx="1.9" ry="4.5" transform="rotate(-15 657.7 792.1)" fill="none" stroke-width="1.25"/>
<ellipse cx="660.2" cy="791.4" rx="1.9" ry="4.5" transform="rotate(-15 660.2 791.4)" fill="none" stroke-width="1.25"/>
<ellipse cx="662.7" cy="790.7" rx="1.9" ry="4.5" transform="rotate(-15 662.7 790.7)" fill="none" stroke-width="1.25"/>
<ellipse cx="665.2" cy="790.1" rx="1.9" ry="4.5" transform="rotate(-15 665.2 790.1)" fill="none" stroke-width="1.25"/>
<ellipse cx="667.7" cy="789.4" rx="1.9" ry="4.5" transform="rotate(-15 667.7 789.4)" fill="none" stroke-width="1.25"/>
<polygon points="648.0,802.4 665.4,797.7 667.7,806.4 650.3,811.1" fill="#fff" stroke="none"/>
<ellipse cx="649.2" cy="806.8" rx="1.9" ry="4.5" transform="rotate(-15 649.2 806.8)" fill="none" stroke-width="1.25"/>
<ellipse cx="651.6" cy="806.1" rx="1.9" ry="4.5" transform="rotate(-15 651.6 806.1)" fill="none" stroke-width="1.25"/>
<ellipse cx="654.1" cy="805.4" rx="1.9" ry="4.5" transform="rotate(-15 654.1 805.4)" fill="none" stroke-width="1.25"/>
<ellipse cx="656.6" cy="804.8" rx="1.9" ry="4.5" transform="rotate(-15 656.6 804.8)" fill="none" stroke-width="1.25"/>
<ellipse cx="659.1" cy="804.1" rx="1.9" ry="4.5" transform="rotate(-15 659.1 804.1)" fill="none" stroke-width="1.25"/>
<ellipse cx="661.6" cy="803.4" rx="1.9" ry="4.5" transform="rotate(-15 661.6 803.4)" fill="none" stroke-width="1.25"/>
<ellipse cx="664.1" cy="802.8" rx="1.9" ry="4.5" transform="rotate(-15 664.1 802.8)" fill="none" stroke-width="1.25"/>
<ellipse cx="666.5" cy="802.1" rx="1.9" ry="4.5" transform="rotate(-15 666.5 802.1)" fill="none" stroke-width="1.25"/>
<polygon points="583.1,698.1 586.3,697.4 589.6,697.1 593.0,697.1 596.5,697.6 599.9,698.3 603.4,699.5 606.9,701.0 610.4,702.8 613.8,705.0 617.1,707.5 620.4,710.3 623.7,713.4 626.8,716.8 629.8,720.5 632.6,724.4 635.4,728.5 637.9,732.9 640.3,737.5 642.5,742.2 644.5,747.0 646.4,752.0 648.0,757.1 649.3,762.3 650.5,767.5 651.4,772.7 652.1,777.9 652.6,783.1 652.8,788.3 652.7,793.3 652.4,798.3 651.9,803.1 651.2,807.8 650.2,812.3 648.9,816.6 647.5,820.7 645.8,824.5 643.9,828.1 641.9,831.4 639.6,834.5 637.1,837.2 634.5,839.6 631.8,841.7 628.8,843.4 625.8,844.8 622.7,845.9 618.8,846.9 615.6,847.6 612.2,847.9 608.8,847.8 605.4,847.4 601.9,846.6 598.5,845.5 595.0,844.0 591.5,842.2 588.1,840.0 584.7,837.5 581.4,834.7 578.2,831.6 575.1,828.2 572.1,824.5 569.2,820.6 566.5,816.4 563.9,812.1 561.5,807.5 559.3,802.8 557.3,797.9 555.5,792.9 553.9,787.8 552.5,782.7 551.4,777.5 550.4,772.3 549.8,767.0 549.3,761.8 549.1,756.7 549.1,751.6 549.4,746.7 549.9,741.9 550.7,737.2 551.7,732.7 552.9,728.4 554.4,724.3 556.1,720.4 557.9,716.8 560.0,713.5 562.3,710.5 564.7,707.8 567.3,705.4 570.1,703.3 573.0,701.5 576.1,700.1 579.2,699.1" fill="#fff" stroke-width="1.5"/>
<path d="M644.8,760.7 L645.2,762.0 L645.5,763.3 L645.8,764.6 L646.1,765.9 L646.4,767.2 L646.6,768.5 L646.9,769.8 L647.1,771.1 L647.3,772.4 L647.6,773.7 L647.8,775.0 L647.9,776.4 L648.1,777.7 L648.2,779.0 L648.4,780.3 L648.5,781.6 L648.6,782.9 L648.7,784.2 L648.8,785.5 L648.8,786.7 L648.9,788.0 L648.9,789.3 L648.9,790.6 L648.9,791.8 L648.9,793.1 L648.9,794.4 L648.8,795.6 L648.7,796.9 L648.7,798.1 L648.6,799.3 L648.5,800.5 L648.3,801.7 L648.2,802.9 L648.1,804.1 L647.9,805.3 L647.7,806.5 L647.5,807.7 L647.3,808.8 L647.1,810.0 L646.8,811.1 L646.6,812.2 L646.3,813.3 L646.0,814.4 L645.7,815.5 L645.4,816.6 L645.1,817.6 L644.7,818.7 L644.4,819.7 L644.0,820.7 L643.6,821.7 L643.2,822.7 L642.8,823.7 L642.4,824.6 L641.9,825.6 L641.5,826.5 L641.0,827.4 L640.6,828.3 L640.1,829.2 L639.6,830.0 L639.1,830.9 L638.5,831.7 L638.0,832.5 L637.4,833.3 L636.9,834.0 L636.3,834.8 L635.7,835.5 L635.1,836.2 L634.5,836.9 L633.9,837.6 L633.3,838.2 L632.6,838.9 L632.0,839.5 L631.3,840.1 L630.7,840.6 L630.0,841.2 L629.3,841.7 L628.6,842.2 L627.9,842.7 L627.2,843.2 L626.5,843.6 L625.7,844.1 L625.0,844.5 L624.2,844.8 L623.5,845.2 L622.7,845.5 L621.9,845.9 L621.2,846.1 L620.4,846.4 L619.6,846.7 L618.8,846.9 L618.0,847.1 L617.2,847.3 L616.4,847.4 L615.6,847.6 L614.7,847.7 L613.9,847.8 L613.1,847.8 L612.2,847.9 L611.4,847.9 L610.5,847.9 L609.7,847.9 L608.8,847.8 L608.0,847.8 L607.1,847.7 L606.3,847.6 L605.4,847.4 L604.5,847.3 L603.7,847.1 L602.8,846.9 L601.9,846.6 L601.1,846.4 L600.2,846.1 L599.3,845.8 L598.5,845.5 L597.6,845.2 L596.7,844.8 L595.8,844.4 L595.0,844.0 L594.1,843.6 L593.2,843.1 L592.4,842.7 L591.5,842.2 L590.7,841.7 L589.8,841.1 L588.9,840.6 L588.1,840.0 L587.2,839.4 L586.4,838.8 L585.6,838.2 L584.7,837.5 L583.9,836.8 L583.1,836.1 L582.2,835.4 L581.4,834.7 L580.6,833.9 L579.8,833.2 L579.0,832.4 L578.2,831.6 L577.4,830.7 L576.6,829.9 L575.9,829.0 L575.1,828.2 L574.3,827.3 L573.6,826.4 L572.8,825.4 L572.1,824.5 L571.4,823.5 L570.6,822.6 L569.9,821.6 L569.2,820.6 L568.5,819.6 L567.8,818.5 L567.2,817.5 L566.5,816.4 L565.8,815.4 L565.2,814.3 L564.6,813.2 L563.9,812.1 L563.3,810.9 L562.7,809.8 L562.1,808.7 L561.5,807.5 L561.0,806.3 L560.4,805.2 L559.9,804.0 L559.3,802.8 L558.8,801.6 L558.3,800.4 L557.8,799.1 L557.3,797.9 L556.8,796.7 L556.4,795.4 L555.9,794.2 L555.5,792.9 L555.1,791.7 L554.7,790.4 L554.3,789.1 L553.9,787.8 L553.5,786.6 L553.2,785.3 L552.8,784.0 L552.5,782.7 L552.2,781.4 L551.9,780.1 L551.6,778.8 L551.4,777.5 L551.1,776.2 L550.9,774.9 L550.7,773.6 L550.4,772.3 L550.2,771.0 L550.1,769.6 L549.9,768.3 L549.8,767.0 L549.6,765.7 L549.5,764.4 L549.4,763.1 L549.3,761.8 L549.2,760.5 L549.2,759.3 L549.1,758.0 L549.1,756.7 L549.1,755.4 L549.1,754.2 L549.1,752.9 L549.1,751.6 L549.2,750.4 L549.3,749.1 L549.3,747.9 L549.4,746.7 L549.5,745.5 L549.7,744.3 L549.8,743.1 L549.9,741.9 L550.1,740.7 L550.3,739.5 L550.5,738.3 L550.7,737.2 L550.9,736.0 L551.2,734.9 L551.4,733.8 L551.7,732.7 L552.0,731.6 L552.3,730.5 L552.6,729.4 L552.9,728.4 L553.3,727.3 L553.6,726.3 L554.0,725.3 L554.4,724.3 L554.8,723.3 L555.2,722.3 L555.6,721.4 L556.1,720.4 L556.5,719.5 L557.0,718.6 L557.4,717.7 L557.9,716.8 L558.4,716.0 L558.9,715.1 L559.5,714.3 L560.0,713.5 L560.6,712.7 L561.1,712.0 L561.7,711.2 L562.3,710.5 L562.9,709.8 L563.5,709.1 L564.1,708.4 L564.7,707.8 L565.4,707.1 L566.0,706.5 L566.7,705.9 L567.3,705.4 L568.0,704.8 L568.7,704.3 L569.4,703.8 L570.1,703.3 L570.8,702.8 L571.5,702.4 L572.3,701.9 L573.0,701.5 L573.8,701.2 L574.5,700.8 L575.3,700.5 L576.1,700.1 L576.8,699.9 L577.6,699.6 L578.4,699.3 L579.2,699.1 L580.0,698.9 L580.8,698.7 L581.6,698.6 L582.4,698.4 L583.3,698.3 L584.1,698.2 L584.9,698.2 L585.8,698.1 L586.6,698.1 L587.5,698.1 L588.3,698.1 L589.2,698.2 L590.0,698.2 L590.9,698.3 L591.7,698.4 L592.6,698.6 L593.5,698.7 L594.3,698.9 L595.2,699.1 L596.1,699.4 L596.9,699.6 L597.8,699.9 L598.7,700.2 L599.5,700.5 L600.4,700.8 L601.3,701.2 L602.2,701.6 L603.0,702.0 L603.9,702.4 L604.8,702.9 L605.6,703.3 L606.5,703.8 L607.3,704.3 L608.2,704.9 L609.1,705.4 L609.9,706.0 L610.8,706.6 L611.6,707.2 L612.4,707.8 L613.3,708.5 L614.1,709.2 L614.9,709.9 L615.8,710.6 L616.6,711.3 L617.4,712.1 L618.2,712.8 L619.0,713.6 L619.8,714.4 L620.6,715.3 L621.4,716.1 L622.1,717.0 L622.9,717.8 L623.7,718.7 L624.4,719.6 L625.2,720.6 L625.9,721.5 L626.6,722.5 L627.4,723.4 L628.1,724.4 L628.8,725.4 L629.5,726.4 L630.2,727.5 L630.8,728.5 L631.5,729.6 L632.2,730.6 L632.8,731.7 L633.4,732.8 L634.1,733.9 L634.7,735.1 L635.3,736.2 L635.9,737.3 L636.5,738.5 L637.0,739.7 L637.6,740.8 L638.1,742.0 L638.7,743.2 L639.2,744.4 L639.7,745.6 L640.2,746.9 L640.7,748.1 L641.2,749.3 L641.6,750.6 L642.1,751.8 L642.5,753.1 L642.9,754.3 L643.3,755.6 L643.7,756.9 L644.1,758.2 L644.5,759.4 Z M632.7,764.4 L633.0,765.5 L633.3,766.5 L633.5,767.6 L633.8,768.7 L634.0,769.7 L634.2,770.8 L634.4,771.9 L634.6,773.0 L634.8,774.0 L635.0,775.1 L635.1,776.2 L635.3,777.3 L635.4,778.3 L635.6,779.4 L635.7,780.5 L635.8,781.6 L635.8,782.6 L635.9,783.7 L636.0,784.8 L636.0,785.8 L636.1,786.9 L636.1,787.9 L636.1,789.0 L636.1,790.0 L636.1,791.1 L636.1,792.1 L636.0,793.1 L636.0,794.1 L635.9,795.2 L635.8,796.2 L635.7,797.2 L635.6,798.2 L635.5,799.2 L635.4,800.1 L635.3,801.1 L635.1,802.1 L634.9,803.0 L634.8,804.0 L634.6,804.9 L634.4,805.9 L634.2,806.8 L633.9,807.7 L633.7,808.6 L633.5,809.5 L633.2,810.4 L632.9,811.3 L632.7,812.1 L632.4,813.0 L632.1,813.8 L631.7,814.6 L631.4,815.4 L631.1,816.2 L630.7,817.0 L630.4,817.8 L630.0,818.5 L629.6,819.3 L629.2,820.0 L628.8,820.7 L628.4,821.5 L628.0,822.1 L627.6,822.8 L627.1,823.5 L626.7,824.1 L626.2,824.8 L625.7,825.4 L625.2,826.0 L624.8,826.6 L624.3,827.1 L623.7,827.7 L623.2,828.2 L622.7,828.7 L622.2,829.3 L621.6,829.7 L621.1,830.2 L620.5,830.7 L619.9,831.1 L619.4,831.5 L618.8,831.9 L618.2,832.3 L617.6,832.7 L617.0,833.0 L616.4,833.4 L615.8,833.7 L615.2,834.0 L614.5,834.2 L613.9,834.5 L613.3,834.7 L612.6,835.0 L612.0,835.2 L611.3,835.4 L610.6,835.5 L610.0,835.7 L609.3,835.8 L608.6,835.9 L608.0,836.0 L607.3,836.1 L606.6,836.1 L605.9,836.2 L605.2,836.2 L604.5,836.2 L603.8,836.2 L603.1,836.1 L602.4,836.1 L601.7,836.0 L601.0,835.9 L600.3,835.8 L599.6,835.7 L598.8,835.5 L598.1,835.3 L597.4,835.1 L596.7,834.9 L596.0,834.7 L595.3,834.5 L594.6,834.2 L593.8,833.9 L593.1,833.6 L592.4,833.3 L591.7,833.0 L591.0,832.6 L590.3,832.3 L589.5,831.9 L588.8,831.5 L588.1,831.0 L587.4,830.6 L586.7,830.1 L586.0,829.7 L585.3,829.2 L584.6,828.7 L583.9,828.2 L583.2,827.6 L582.6,827.1 L581.9,826.5 L581.2,825.9 L580.5,825.3 L579.9,824.7 L579.2,824.0 L578.5,823.4 L577.9,822.7 L577.2,822.1 L576.6,821.4 L575.9,820.7 L575.3,819.9 L574.7,819.2 L574.1,818.4 L573.4,817.7 L572.8,816.9 L572.2,816.1 L571.6,815.3 L571.1,814.5 L570.5,813.7 L569.9,812.8 L569.3,812.0 L568.8,811.1 L568.2,810.3 L567.7,809.4 L567.2,808.5 L566.6,807.6 L566.1,806.7 L565.6,805.7 L565.1,804.8 L564.6,803.9 L564.2,802.9 L563.7,802.0 L563.2,801.0 L562.8,800.0 L562.3,799.0 L561.9,798.0 L561.5,797.0 L561.1,796.0 L560.7,795.0 L560.3,794.0 L559.9,793.0 L559.5,792.0 L559.2,790.9 L558.8,789.9 L558.5,788.8 L558.2,787.8 L557.9,786.7 L557.6,785.7 L557.3,784.6 L557.0,783.5 L556.7,782.5 L556.5,781.4 L556.2,780.3 L556.0,779.3 L555.8,778.2 L555.6,777.1 L555.4,776.0 L555.2,775.0 L555.0,773.9 L554.9,772.8 L554.7,771.7 L554.6,770.7 L554.4,769.6 L554.3,768.5 L554.2,767.4 L554.2,766.4 L554.1,765.3 L554.0,764.2 L554.0,763.2 L553.9,762.1 L553.9,761.1 L553.9,760.0 L553.9,759.0 L553.9,757.9 L553.9,756.9 L554.0,755.9 L554.0,754.9 L554.1,753.8 L554.2,752.8 L554.3,751.8 L554.4,750.8 L554.5,749.8 L554.6,748.9 L554.7,747.9 L554.9,746.9 L555.1,746.0 L555.2,745.0 L555.4,744.1 L555.6,743.1 L555.8,742.2 L556.1,741.3 L556.3,740.4 L556.5,739.5 L556.8,738.6 L557.1,737.7 L557.3,736.9 L557.6,736.0 L557.9,735.2 L558.3,734.4 L558.6,733.6 L558.9,732.8 L559.3,732.0 L559.6,731.2 L560.0,730.5 L560.4,729.7 L560.8,729.0 L561.2,728.3 L561.6,727.5 L562.0,726.9 L562.4,726.2 L562.9,725.5 L563.3,724.9 L563.8,724.2 L564.3,723.6 L564.8,723.0 L565.2,722.4 L565.7,721.9 L566.3,721.3 L566.8,720.8 L567.3,720.3 L567.8,719.7 L568.4,719.3 L568.9,718.8 L569.5,718.3 L570.1,717.9 L570.6,717.5 L571.2,717.1 L571.8,716.7 L572.4,716.3 L573.0,716.0 L573.6,715.6 L574.2,715.3 L574.8,715.0 L575.5,714.8 L576.1,714.5 L576.7,714.3 L577.4,714.0 L578.0,713.8 L578.7,713.6 L579.4,713.5 L580.0,713.3 L580.7,713.2 L581.4,713.1 L582.0,713.0 L582.7,712.9 L583.4,712.9 L584.1,712.8 L584.8,712.8 L585.5,712.8 L586.2,712.8 L586.9,712.9 L587.6,712.9 L588.3,713.0 L589.0,713.1 L589.7,713.2 L590.4,713.3 L591.2,713.5 L591.9,713.7 L592.6,713.9 L593.3,714.1 L594.0,714.3 L594.7,714.5 L595.4,714.8 L596.2,715.1 L596.9,715.4 L597.6,715.7 L598.3,716.0 L599.0,716.4 L599.7,716.7 L600.5,717.1 L601.2,717.5 L601.9,718.0 L602.6,718.4 L603.3,718.9 L604.0,719.3 L604.7,719.8 L605.4,720.3 L606.1,720.8 L606.8,721.4 L607.4,721.9 L608.1,722.5 L608.8,723.1 L609.5,723.7 L610.1,724.3 L610.8,725.0 L611.5,725.6 L612.1,726.3 L612.8,726.9 L613.4,727.6 L614.1,728.3 L614.7,729.1 L615.3,729.8 L615.9,730.6 L616.6,731.3 L617.2,732.1 L617.8,732.9 L618.4,733.7 L618.9,734.5 L619.5,735.3 L620.1,736.2 L620.7,737.0 L621.2,737.9 L621.8,738.7 L622.3,739.6 L622.8,740.5 L623.4,741.4 L623.9,742.3 L624.4,743.3 L624.9,744.2 L625.4,745.1 L625.8,746.1 L626.3,747.0 L626.8,748.0 L627.2,749.0 L627.7,750.0 L628.1,751.0 L628.5,752.0 L628.9,753.0 L629.3,754.0 L629.7,755.0 L630.1,756.0 L630.5,757.0 L630.8,758.1 L631.2,759.1 L631.5,760.2 L631.8,761.2 L632.1,762.3 L632.4,763.3 Z" fill="#fff" fill-rule="evenodd" stroke-width="1.5"/>
<polyline points="564.1,719.7 566.1,716.8 568.3,714.1 570.6,711.7 573.1,709.7 575.7,707.9 578.4,706.5 581.3,705.3 584.2,704.5 587.3,704.1 590.4,704.0 593.5,704.2 596.7,704.7 599.9,705.6 603.1,706.8 606.3,708.4" fill="none" stroke-width="1.4"/>
<path d="M590.2,701.5 a2.6,3 0 1 0 0,6" fill="none" stroke-width="1.4"/>
<path d="M599.7,703.1 a2.6,3 0 1 0 0,6" fill="none" stroke-width="1.4"/>
<path d="M609.2,707.7 a2.6,3 0 1 0 0,6" fill="none" stroke-width="1.4"/>
<path d="M646.5,784.9 a2.6,3 0 1 0 0,6" fill="none" stroke-width="1.4"/>
<path d="M645.7,798.5 a2.6,3 0 1 0 0,6" fill="none" stroke-width="1.4"/>
<path d="M643.0,810.8 a2.6,3 0 1 0 0,6" fill="none" stroke-width="1.4"/>
<path d="M555.3,759.8 a2.6,3 0 1 0 0,6" fill="none" stroke-width="1.4"/>
<path d="M555.4,745.9 a2.6,3 0 1 0 0,6" fill="none" stroke-width="1.4"/>
<path d="M557.5,733.1 a2.6,3 0 1 0 0,6" fill="none" stroke-width="1.4"/>
<path d="M612.9,838.5 a2.6,3 0 1 0 0,6" fill="none" stroke-width="1.4"/>
<path d="M605.1,837.8 a2.6,3 0 1 0 0,6" fill="none" stroke-width="1.4"/>
<polygon points="605.8,832.4 617.4,829.3 619.6,837.4 608.0,840.5" fill="#fff" stroke="none"/>
<ellipse cx="606.9" cy="836.5" rx="1.8" ry="4.2" transform="rotate(-15 606.9 836.5)" fill="none" stroke-width="1.25"/>
<ellipse cx="609.2" cy="835.8" rx="1.8" ry="4.2" transform="rotate(-15 609.2 835.8)" fill="none" stroke-width="1.25"/>
<ellipse cx="611.5" cy="835.2" rx="1.8" ry="4.2" transform="rotate(-15 611.5 835.2)" fill="none" stroke-width="1.25"/>
<ellipse cx="613.9" cy="834.6" rx="1.8" ry="4.2" transform="rotate(-15 613.9 834.6)" fill="none" stroke-width="1.25"/>
<ellipse cx="616.2" cy="834.0" rx="1.8" ry="4.2" transform="rotate(-15 616.2 834.0)" fill="none" stroke-width="1.25"/>
<ellipse cx="618.5" cy="833.4" rx="1.8" ry="4.2" transform="rotate(-15 618.5 833.4)" fill="none" stroke-width="1.25"/>
<polyline points="558.9,773.4 558.4,769.3 558.0,765.2 557.9,761.2 557.9,757.2 558.1,753.4 558.5,749.6 559.1,745.9 559.9,742.4 560.9,739.0 562.0,735.8 563.3,732.8 564.8,730.0 566.4,727.3 568.2,725.0 570.1,722.8 572.2,720.9 574.3,719.3 576.6,717.9 579.0,716.9 581.5,716.0" fill="none" stroke-width="1.25"/>
<polygon points="559.9,733.8 574.4,730.0 576.6,738.3 562.1,742.2" fill="#fff" stroke="none"/>
<ellipse cx="561.0" cy="738.0" rx="1.8" ry="4.3" transform="rotate(-15 561.0 738.0)" fill="none" stroke-width="1.25"/>
<ellipse cx="563.4" cy="737.4" rx="1.8" ry="4.3" transform="rotate(-15 563.4 737.4)" fill="none" stroke-width="1.25"/>
<ellipse cx="565.8" cy="736.7" rx="1.8" ry="4.3" transform="rotate(-15 565.8 736.7)" fill="none" stroke-width="1.25"/>
<ellipse cx="568.2" cy="736.1" rx="1.8" ry="4.3" transform="rotate(-15 568.2 736.1)" fill="none" stroke-width="1.25"/>
<ellipse cx="570.7" cy="735.4" rx="1.8" ry="4.3" transform="rotate(-15 570.7 735.4)" fill="none" stroke-width="1.25"/>
<ellipse cx="573.1" cy="734.8" rx="1.8" ry="4.3" transform="rotate(-15 573.1 734.8)" fill="none" stroke-width="1.25"/>
<ellipse cx="575.5" cy="734.1" rx="1.8" ry="4.3" transform="rotate(-15 575.5 734.1)" fill="none" stroke-width="1.25"/>
<polygon points="560.9,746.8 575.4,743.0 577.6,751.3 563.1,755.2" fill="#fff" stroke="none"/>
<ellipse cx="562.0" cy="751.0" rx="1.8" ry="4.3" transform="rotate(-15 562.0 751.0)" fill="none" stroke-width="1.25"/>
<ellipse cx="564.4" cy="750.4" rx="1.8" ry="4.3" transform="rotate(-15 564.4 750.4)" fill="none" stroke-width="1.25"/>
<ellipse cx="566.8" cy="749.7" rx="1.8" ry="4.3" transform="rotate(-15 566.8 749.7)" fill="none" stroke-width="1.25"/>
<ellipse cx="569.2" cy="749.1" rx="1.8" ry="4.3" transform="rotate(-15 569.2 749.1)" fill="none" stroke-width="1.25"/>
<ellipse cx="571.7" cy="748.4" rx="1.8" ry="4.3" transform="rotate(-15 571.7 748.4)" fill="none" stroke-width="1.25"/>
<ellipse cx="574.1" cy="747.8" rx="1.8" ry="4.3" transform="rotate(-15 574.1 747.8)" fill="none" stroke-width="1.25"/>
<ellipse cx="576.5" cy="747.1" rx="1.8" ry="4.3" transform="rotate(-15 576.5 747.1)" fill="none" stroke-width="1.25"/>
<polyline points="564.7,720.4 568.2,723.3 571.5,726.6 574.8,730.1 577.9,733.9 580.8,738.0 583.7,742.3 586.3,746.9 588.8,751.6 591.1,756.5 593.2,761.6 595.0,766.8 596.7,772.1 598.1,777.4 599.3,782.8 600.2,788.3 600.9,793.7 601.3,799.1 601.5,804.4 601.5,809.7 601.1,814.8 600.6,819.8 599.7,824.6 598.7,829.3 597.4,833.7 595.8,837.9 594.0,841.9 592.1,845.6 589.9,849.0 587.5,852.1 584.9,854.9 582.2,857.3 579.2,859.4 576.2,861.1 573.0,862.5 569.7,863.5 566.3,864.1 562.9,864.4 559.3,864.2 555.7,863.7 552.1,862.8 548.5,861.5 544.9,859.9 541.3,857.9 537.8,855.5 534.3,852.8 530.9,849.8 527.6,846.5 524.4,842.9 521.3,839.0 518.4,834.8 515.6,830.4 513.0,825.8 510.5,821.0 508.3,816.1 506.3,811.0 504.5,805.8 502.9,800.4 501.5,795.1 500.4,789.6 499.6,784.2 498.9,778.8 498.6,773.4 498.5,768.1 498.6,762.9 499.0,757.8 499.6,752.8 500.5,748.0 501.7,743.4 503.0,739.1 504.7,734.9 506.5,731.0 508.5,727.4 510.8,724.1 513.2,721.1 515.8,718.4 518.6,716.1 521.6,714.1 524.7,712.5 527.9,711.2 531.2,710.3" fill="none" stroke-width="1.5"/>
<polyline points="564.0,723.8 567.3,726.5 570.4,729.6 573.5,733.0 576.5,736.6 579.3,740.5 582.0,744.6 584.5,748.9 586.8,753.4 589.0,758.1 591.0,762.9 592.8,767.8 594.3,772.8 595.7,777.9 596.8,783.1 597.7,788.2 598.3,793.4 598.7,798.5 598.9,803.5 598.9,808.5 598.6,813.4 598.0,818.1 597.2,822.7 596.2,827.2 595.0,831.4 593.5,835.4 591.8,839.1 589.9,842.6 587.8,845.9 585.6,848.8 583.1,851.4 580.5,853.7 577.8,855.7 574.9,857.4 571.9,858.7 568.7,859.6 565.5,860.2 562.2,860.4 558.9,860.3 555.5,859.8 552.0,858.9 548.6,857.7 545.2,856.2 541.8,854.3 538.4,852.0 535.1,849.5 531.8,846.6 528.7,843.5 525.7,840.0 522.7,836.3 520.0,832.4 517.3,828.2 514.8,823.9 512.5,819.3 510.4,814.6 508.5,809.8 506.8,804.8 505.3,799.8 504.0,794.7 502.9,789.5 502.1,784.4 501.5,779.2 501.2,774.1 501.1,769.1 501.2,764.1 501.6,759.3 502.2,754.6 503.0,750.0 504.1,745.7 505.4,741.5 506.9,737.6 508.7,733.9 510.6,730.4 512.8,727.3 515.1,724.4 517.6,721.9 520.2,719.7 523.0,717.8 526.0,716.2 529.0,715.0 532.2,714.2" fill="none" stroke-width="1.5"/>
<path d="M515.0,795.3 L512.4,797.4 L512.7,798.7 L513.0,800.0 L513.3,801.3 L513.6,802.6 L513.8,803.9 L514.1,805.2 L514.3,806.5 L514.6,807.9 L514.8,809.2 L515.0,810.5 L515.1,811.8 L515.3,813.1 L515.5,814.4 L515.6,815.7 L515.7,817.0 L515.8,818.4 L515.9,819.7 L516.0,821.0 L516.0,822.3 L516.1,823.5 L516.1,824.8 L516.1,826.1 L516.1,827.4 L519.4,830.0 L519.3,831.3 L519.3,832.7 L519.2,834.0 L519.1,835.3 L519.0,836.6 L518.9,837.9 L518.8,839.2 L518.6,840.5 L518.5,841.8 L518.3,843.1 L514.9,842.1 L514.7,843.3 L514.5,844.5 L514.3,845.6 L514.0,846.8 L513.8,847.9 L513.5,849.0 L513.2,850.1 L512.9,851.2 L512.6,852.3 L512.3,853.3 L511.9,854.4 L511.6,855.4 L511.2,856.4 L510.8,857.5 L510.4,858.4 L510.0,859.4 L509.6,860.4 L509.1,861.3 L508.7,862.3 L508.2,863.2 L507.7,864.1 L507.2,865.0 L506.7,865.8 L508.8,870.4 L508.3,871.3 L507.7,872.2 L507.1,873.0 L506.5,873.8 L505.9,874.6 L505.3,875.4 L504.6,876.2 L504.0,876.9 L503.3,877.7 L502.6,878.4 L499.8,874.7 L499.1,875.3 L498.4,875.9 L497.8,876.5 L497.1,877.1 L496.4,877.6 L495.7,878.1 L495.0,878.6 L494.3,879.1 L493.5,879.5 L492.8,880.0 L492.1,880.4 L491.3,880.7 L490.5,881.1 L489.8,881.4 L489.0,881.8 L488.2,882.1 L487.4,882.3 L486.6,882.6 L485.8,882.8 L485.0,883.0 L484.2,883.2 L483.4,883.3 L482.6,883.5 L482.8,888.5 L481.9,888.6 L481.0,888.6 L480.1,888.7 L479.2,888.7 L478.3,888.7 L477.4,888.7 L476.4,888.6 L475.5,888.6 L474.6,888.5 L473.7,888.3 L472.3,883.3 L471.5,883.2 L470.6,883.0 L469.7,882.8 L468.9,882.5 L468.0,882.3 L467.1,882.0 L466.2,881.7 L465.3,881.4 L464.5,881.1 L463.6,880.7 L462.7,880.3 L461.8,879.9 L461.0,879.5 L460.1,879.0 L459.2,878.5 L458.4,878.0 L457.5,877.5 L456.6,877.0 L455.8,876.4 L454.9,875.9 L454.1,875.3 L453.2,874.6 L452.4,874.0 L450.6,877.6 L449.7,876.8 L448.8,876.1 L447.9,875.3 L447.1,874.5 L446.2,873.7 L445.3,872.9 L444.5,872.1 L443.6,871.2 L442.8,870.3 L441.9,869.4 L442.6,864.8 L441.8,864.0 L441.1,863.1 L440.3,862.1 L439.6,861.2 L438.8,860.3 L438.1,859.3 L437.4,858.3 L436.6,857.3 L435.9,856.3 L435.2,855.3 L434.5,854.3 L433.9,853.2 L433.2,852.1 L432.5,851.1 L431.9,850.0 L431.2,848.9 L430.6,847.7 L430.0,846.6 L429.4,845.5 L428.8,844.3 L428.2,843.2 L427.6,842.0 L427.1,840.8 L424.0,841.6 L423.4,840.4 L422.8,839.1 L422.3,837.8 L421.7,836.5 L421.2,835.1 L420.7,833.8 L420.2,832.5 L419.7,831.1 L419.3,829.8 L418.8,828.4 L421.3,825.9 L420.9,824.7 L420.5,823.4 L420.1,822.1 L419.8,820.8 L419.4,819.5 L419.1,818.2 L418.8,816.9 L418.5,815.6 L418.2,814.3 L418.0,812.9 L417.7,811.6 L417.5,810.3 L417.2,809.0 L417.0,807.7 L416.8,806.4 L416.6,805.0 L416.5,803.7 L416.3,802.4 L416.2,801.1 L416.1,799.8 L416.0,798.5 L415.9,797.2 L415.8,795.9 L412.5,793.7 L412.4,792.3 L412.4,791.0 L412.4,789.6 L412.4,788.2 L412.4,786.9 L412.5,785.5 L412.5,784.2 L412.6,782.9 L412.7,781.5 L412.8,780.2 L416.1,780.7 L416.2,779.5 L416.4,778.3 L416.5,777.1 L416.7,775.9 L416.9,774.7 L417.1,773.5 L417.3,772.4 L417.5,771.2 L417.8,770.1 L418.0,769.0 L418.3,767.8 L418.6,766.7 L418.9,765.6 L419.2,764.6 L419.5,763.5 L419.9,762.5 L420.2,761.4 L420.6,760.4 L421.0,759.4 L421.4,758.4 L421.8,757.4 L422.2,756.5 L422.7,755.5 L420.3,751.1 L420.8,750.1 L421.4,749.2 L421.9,748.2 L422.4,747.3 L423.0,746.4 L423.5,745.5 L424.1,744.7 L424.7,743.8 L425.3,743.0 L425.9,742.2 L426.5,741.4 L427.2,740.7 L427.8,739.9 L428.5,739.2 L429.2,738.5 L429.8,737.8 L430.5,737.2 L431.2,736.5 L432.0,735.9 L432.7,735.3 L435.4,739.2 L436.1,738.7 L436.8,738.2 L437.5,737.8 L438.3,737.3 L439.0,736.9 L439.7,736.5 L440.5,736.1 L441.3,735.7 L442.0,735.4 L442.8,735.1 L443.6,734.8 L444.4,734.5 L445.2,734.3 L446.0,734.0 L446.8,733.8 L447.6,733.7 L448.4,733.5 L449.2,733.4 L450.1,733.3 L450.9,733.2 L451.7,733.1 L452.6,733.1 L453.4,733.0 L453.5,728.1 L454.4,728.2 L455.3,728.2 L456.3,728.3 L457.2,728.4 L458.1,728.5 L459.0,728.7 L460.0,728.8 L460.9,729.0 L461.8,729.2 L462.8,729.5 L463.8,734.6 L464.7,734.8 L465.6,735.1 L466.4,735.5 L467.3,735.8 L468.2,736.2 L469.1,736.5 L470.0,737.0 L470.8,737.4 L471.7,737.8 L472.6,738.3 L473.4,738.8 L474.3,739.3 L475.2,739.9 L476.0,740.4 L476.9,741.0 L477.7,741.6 L478.6,742.2 L479.4,742.8 L480.3,743.5 L481.1,744.2 L481.9,744.9 L482.8,745.6 L483.6,746.3 L485.6,743.1 L486.5,743.9 L487.3,744.8 L488.2,745.6 L489.0,746.5 L489.9,747.4 L490.7,748.4 L491.5,749.3 L492.3,750.2 L493.2,751.2 L494.0,752.2 L493.0,756.6 L493.7,757.6 L494.4,758.5 L495.2,759.5 L495.9,760.5 L496.6,761.6 L497.3,762.6 L497.9,763.6 L498.6,764.7 L499.3,765.8 L499.9,766.9 L500.6,768.0 L501.2,769.1 L501.8,770.2 L502.4,771.4 L503.0,772.5 L503.6,773.7 L504.2,774.9 L504.7,776.0 L505.3,777.2 L505.8,778.4 L506.3,779.7 L506.9,780.9 L507.4,782.1 L510.6,781.7 L511.1,783.0 L511.6,784.4 L512.1,785.7 L512.5,787.1 L513.0,788.4 L513.4,789.8 L513.8,791.1 L514.2,792.5 L514.6,793.9 Z M505.4,797.8 L505.7,798.9 L506.0,800.1 L506.3,801.2 L506.5,802.3 L506.8,803.4 L507.0,804.6 L507.2,805.7 L507.4,806.8 L507.6,807.9 L507.8,809.1 L508.0,810.2 L508.1,811.3 L508.3,812.4 L508.4,813.6 L508.5,814.7 L508.6,815.8 L508.7,816.9 L508.8,818.1 L508.8,819.2 L508.9,820.3 L508.9,821.4 L508.9,822.5 L509.0,823.6 L509.0,824.7 L508.9,825.8 L508.9,826.9 L508.9,827.9 L508.8,829.0 L508.7,830.1 L508.7,831.1 L508.6,832.2 L508.5,833.2 L508.4,834.3 L508.2,835.3 L508.1,836.3 L507.9,837.3 L507.7,838.3 L507.6,839.3 L507.4,840.3 L507.2,841.3 L506.9,842.3 L506.7,843.2 L506.5,844.2 L506.2,845.1 L505.9,846.0 L505.6,846.9 L505.3,847.8 L505.0,848.7 L504.7,849.6 L504.4,850.5 L504.0,851.3 L503.7,852.1 L503.3,853.0 L503.0,853.8 L502.6,854.6 L502.2,855.4 L501.8,856.1 L501.3,856.9 L500.9,857.6 L500.5,858.3 L500.0,859.0 L499.5,859.7 L499.1,860.4 L498.6,861.1 L498.1,861.7 L497.6,862.4 L497.1,863.0 L496.5,863.6 L496.0,864.1 L495.5,864.7 L494.9,865.3 L494.4,865.8 L493.8,866.3 L493.2,866.8 L492.6,867.3 L492.0,867.7 L491.4,868.2 L490.8,868.6 L490.2,869.0 L489.6,869.4 L489.0,869.7 L488.3,870.1 L487.7,870.4 L487.0,870.7 L486.4,871.0 L485.7,871.3 L485.0,871.5 L484.3,871.8 L483.7,872.0 L483.0,872.2 L482.3,872.3 L481.6,872.5 L480.9,872.6 L480.2,872.8 L479.5,872.9 L478.8,872.9 L478.0,873.0 L477.3,873.0 L476.6,873.0 L475.9,873.0 L475.1,873.0 L474.4,873.0 L473.7,872.9 L472.9,872.8 L472.2,872.7 L471.4,872.6 L470.7,872.5 L469.9,872.3 L469.2,872.1 L468.4,872.0 L467.7,871.7 L466.9,871.5 L466.2,871.2 L465.4,871.0 L464.7,870.7 L463.9,870.4 L463.2,870.0 L462.4,869.7 L461.7,869.3 L460.9,868.9 L460.2,868.5 L459.4,868.1 L458.7,867.7 L458.0,867.2 L457.2,866.7 L456.5,866.2 L455.8,865.7 L455.0,865.2 L454.3,864.6 L453.6,864.1 L452.9,863.5 L452.1,862.9 L451.4,862.3 L450.7,861.6 L450.0,861.0 L449.3,860.3 L448.6,859.6 L448.0,859.0 L447.3,858.2 L446.6,857.5 L445.9,856.8 L445.3,856.0 L444.6,855.2 L444.0,854.5 L443.3,853.7 L442.7,852.9 L442.1,852.0 L441.4,851.2 L440.8,850.3 L440.2,849.5 L439.6,848.6 L439.0,847.7 L438.4,846.8 L437.9,845.9 L437.3,845.0 L436.7,844.0 L436.2,843.1 L435.6,842.1 L435.1,841.2 L434.6,840.2 L434.1,839.2 L433.6,838.2 L433.1,837.2 L432.6,836.2 L432.1,835.2 L431.7,834.1 L431.2,833.1 L430.8,832.0 L430.4,831.0 L429.9,829.9 L429.5,828.9 L429.1,827.8 L428.7,826.7 L428.4,825.6 L428.0,824.5 L427.7,823.4 L427.3,822.3 L427.0,821.2 L426.7,820.1 L426.4,819.0 L426.1,817.9 L425.8,816.8 L425.5,815.7 L425.3,814.5 L425.0,813.4 L424.8,812.3 L424.6,811.2 L424.4,810.0 L424.2,808.9 L424.0,807.8 L423.8,806.7 L423.7,805.5 L423.5,804.4 L423.4,803.3 L423.3,802.2 L423.2,801.0 L423.1,799.9 L423.0,798.8 L423.0,797.7 L422.9,796.6 L422.9,795.5 L422.9,794.4 L422.8,793.3 L422.8,792.2 L422.9,791.1 L422.9,790.0 L422.9,788.9 L423.0,787.8 L423.0,786.8 L423.1,785.7 L423.2,784.7 L423.3,783.6 L423.4,782.6 L423.6,781.6 L423.7,780.5 L423.9,779.5 L424.1,778.5 L424.2,777.5 L424.4,776.5 L424.6,775.6 L424.9,774.6 L425.1,773.6 L425.3,772.7 L425.6,771.8 L425.9,770.8 L426.2,769.9 L426.4,769.0 L426.8,768.1 L427.1,767.3 L427.4,766.4 L427.7,765.5 L428.1,764.7 L428.5,763.9 L428.8,763.1 L429.2,762.3 L429.6,761.5 L430.0,760.7 L430.5,760.0 L430.9,759.2 L431.3,758.5 L431.8,757.8 L432.3,757.1 L432.7,756.4 L433.2,755.8 L433.7,755.1 L434.2,754.5 L434.7,753.9 L435.3,753.3 L435.8,752.7 L436.3,752.1 L436.9,751.6 L437.4,751.1 L438.0,750.6 L438.6,750.1 L439.2,749.6 L439.8,749.1 L440.4,748.7 L441.0,748.3 L441.6,747.9 L442.2,747.5 L442.8,747.1 L443.5,746.8 L444.1,746.4 L444.8,746.1 L445.4,745.8 L446.1,745.6 L446.8,745.3 L447.4,745.1 L448.1,744.9 L448.8,744.7 L449.5,744.5 L450.2,744.3 L450.9,744.2 L451.6,744.1 L452.3,744.0 L453.0,743.9 L453.8,743.9 L454.5,743.8 L455.2,743.8 L455.9,743.8 L456.7,743.8 L457.4,743.9 L458.1,743.9 L458.9,744.0 L459.6,744.1 L460.4,744.2 L461.1,744.4 L461.9,744.5 L462.6,744.7 L463.4,744.9 L464.1,745.1 L464.9,745.3 L465.6,745.6 L466.4,745.9 L467.1,746.2 L467.9,746.5 L468.6,746.8 L469.4,747.2 L470.1,747.5 L470.9,747.9 L471.6,748.3 L472.4,748.7 L473.1,749.2 L473.8,749.6 L474.6,750.1 L475.3,750.6 L476.0,751.1 L476.8,751.7 L477.5,752.2 L478.2,752.8 L478.9,753.4 L479.7,754.0 L480.4,754.6 L481.1,755.2 L481.8,755.9 L482.5,756.5 L483.2,757.2 L483.8,757.9 L484.5,758.6 L485.2,759.3 L485.9,760.1 L486.5,760.8 L487.2,761.6 L487.8,762.4 L488.5,763.2 L489.1,764.0 L489.7,764.8 L490.4,765.7 L491.0,766.5 L491.6,767.4 L492.2,768.3 L492.8,769.1 L493.4,770.0 L493.9,771.0 L494.5,771.9 L495.1,772.8 L495.6,773.8 L496.1,774.7 L496.7,775.7 L497.2,776.7 L497.7,777.7 L498.2,778.7 L498.7,779.7 L499.2,780.7 L499.7,781.7 L500.1,782.7 L500.6,783.8 L501.0,784.8 L501.4,785.9 L501.9,786.9 L502.3,788.0 L502.7,789.1 L503.0,790.1 L503.4,791.2 L503.8,792.3 L504.1,793.4 L504.5,794.5 L504.8,795.6 L505.1,796.7 Z" fill="#fff" fill-rule="evenodd" stroke-width="1.5"/>
<path d="M512.1,796.0 L509.5,798.1 L509.8,799.4 L510.1,800.8 L510.4,802.1 L510.7,803.4 L510.9,804.7 L511.2,806.0 L511.4,807.3 L511.7,808.6 L511.9,809.9 L512.1,811.3 L512.2,812.6 L512.4,813.9 L512.6,815.2 L512.7,816.5 L512.8,817.8 L512.9,819.1 L513.0,820.4 L513.1,821.7 L513.1,823.0 L513.2,824.3 L513.2,825.6 L513.2,826.9 L513.2,828.2 L516.5,830.7 L516.4,832.1 L516.4,833.4 L516.3,834.8 L516.2,836.1 L516.1,837.4 L516.0,838.7 L515.9,840.0 L515.7,841.3 L515.6,842.6 L515.4,843.9 L512.0,842.9 L511.8,844.1 L511.6,845.3 L511.4,846.4 L511.1,847.5 L510.9,848.7 L510.6,849.8 L510.3,850.9 L510.0,852.0 L509.7,853.1 L509.4,854.1 L509.0,855.2 L508.7,856.2 L508.3,857.2 L507.9,858.2 L507.5,859.2 L507.1,860.2 L506.7,861.2 L506.2,862.1 L505.8,863.0 L505.3,864.0 L504.8,864.8 L504.3,865.7 L503.8,866.6 L505.9,871.2 L505.4,872.1 L504.8,873.0 L504.2,873.8 L503.6,874.6 L503.0,875.4 L502.4,876.2 L501.7,877.0 L501.1,877.7 L500.4,878.4 L499.7,879.1 L496.9,875.5 L496.2,876.1 L495.5,876.7 L494.9,877.3 L494.2,877.8 L493.5,878.4 L492.8,878.9 L492.1,879.4 L491.4,879.9 L490.6,880.3 L489.9,880.7 L489.2,881.1 L488.4,881.5 L487.6,881.9 L486.9,882.2 L486.1,882.5 L485.3,882.8 L484.5,883.1 L483.7,883.3 L482.9,883.6 L482.1,883.8 L481.3,884.0 L480.5,884.1 L479.7,884.3 L479.9,889.3 L479.0,889.3 L478.1,889.4 L477.2,889.5 L476.3,889.5 L475.4,889.5 L474.5,889.5 L473.5,889.4 L472.6,889.3 L471.7,889.2 L470.8,889.1 L469.4,884.1 L468.6,883.9 L467.7,883.8 L466.8,883.5 L466.0,883.3 L465.1,883.1 L464.2,882.8 L463.3,882.5 L462.5,882.2 L461.6,881.8 L460.7,881.5 L459.8,881.1 L458.9,880.7 L458.1,880.2 L457.2,879.8 L456.3,879.3 L455.5,878.8 L454.6,878.3 L453.7,877.8 L452.9,877.2 L452.0,876.6 L451.2,876.0 L450.3,875.4 L449.5,874.8 L447.7,878.3 L446.8,877.6 L445.9,876.9 L445.0,876.1 L444.2,875.3 L443.3,874.5 L442.4,873.7 L441.6,872.8 L440.7,872.0 L439.9,871.1 L439.0,870.2 L439.7,865.6 L438.9,864.7 L438.2,863.8 L437.4,862.9 L436.7,862.0 L435.9,861.0 L435.2,860.1 L434.5,859.1 L433.7,858.1 L433.0,857.1 L432.3,856.1 L431.6,855.0 L431.0,854.0 L430.3,852.9 L429.6,851.8 L429.0,850.7 L428.3,849.6 L427.7,848.5 L427.1,847.4 L426.5,846.2 L425.9,845.1 L425.3,843.9 L424.7,842.8 L424.2,841.6 L421.1,842.4 L420.5,841.1 L419.9,839.8 L419.4,838.5 L418.8,837.2 L418.3,835.9 L417.8,834.6 L417.3,833.3 L416.8,831.9 L416.4,830.6 L415.9,829.2 L418.4,826.7 L418.0,825.4 L417.6,824.1 L417.2,822.9 L416.9,821.6 L416.5,820.3 L416.2,819.0 L415.9,817.6 L415.6,816.3 L415.3,815.0 L415.1,813.7 L414.8,812.4 L414.6,811.1 L414.3,809.8 L414.1,808.5 L413.9,807.1 L413.8,805.8 L413.6,804.5 L413.4,803.2 L413.3,801.9 L413.2,800.6 L413.1,799.3 L413.0,798.0 L412.9,796.7 L409.6,794.5 L409.5,793.1 L409.5,791.7 L409.5,790.4 L409.5,789.0 L409.5,787.7 L409.6,786.3 L409.6,785.0 L409.7,783.6 L409.8,782.3 L409.9,781.0 L413.2,781.5 L413.3,780.3 L413.5,779.1 L413.6,777.9 L413.8,776.7 L414.0,775.5 L414.2,774.3 L414.4,773.1 L414.6,772.0 L414.9,770.9 L415.1,769.7 L415.4,768.6 L415.7,767.5 L416.0,766.4 L416.3,765.3 L416.6,764.3 L417.0,763.2 L417.3,762.2 L417.7,761.2 L418.1,760.2 L418.5,759.2 L418.9,758.2 L419.3,757.2 L419.8,756.3 L417.4,751.9 L417.9,750.9 L418.5,749.9 L419.0,749.0 L419.5,748.1 L420.1,747.2 L420.6,746.3 L421.2,745.4 L421.8,744.6 L422.4,743.8 L423.0,743.0 L423.6,742.2 L424.3,741.4 L424.9,740.7 L425.6,740.0 L426.3,739.3 L426.9,738.6 L427.6,737.9 L428.3,737.3 L429.1,736.7 L429.8,736.1 L432.5,740.0 L433.2,739.5 L433.9,739.0 L434.6,738.5 L435.4,738.1 L436.1,737.7 L436.8,737.3 L437.6,736.9 L438.4,736.5 L439.1,736.2 L439.9,735.9 L440.7,735.6 L441.5,735.3 L442.3,735.1 L443.1,734.8 L443.9,734.6 L444.7,734.4 L445.5,734.3 L446.3,734.1 L447.2,734.0 L448.0,733.9 L448.8,733.9 L449.7,733.8 L450.5,733.8 L450.6,728.9 L451.5,728.9 L452.5,729.0 L453.4,729.1 L454.3,729.2 L455.2,729.3 L456.1,729.4 L457.1,729.6 L458.0,729.8 L458.9,730.0 L459.9,730.3 L460.9,735.3 L461.8,735.6 L462.7,735.9 L463.5,736.2 L464.4,736.6 L465.3,736.9 L466.2,737.3 L467.1,737.7 L467.9,738.2 L468.8,738.6 L469.7,739.1 L470.5,739.6 L471.4,740.1 L472.3,740.6 L473.1,741.2 L474.0,741.8 L474.8,742.4 L475.7,743.0 L476.5,743.6 L477.4,744.3 L478.2,745.0 L479.0,745.7 L479.9,746.4 L480.7,747.1 L482.7,743.9 L483.6,744.7 L484.4,745.6 L485.3,746.4 L486.1,747.3 L487.0,748.2 L487.8,749.1 L488.6,750.1 L489.4,751.0 L490.3,752.0 L491.1,753.0 L490.1,757.4 L490.8,758.3 L491.5,759.3 L492.3,760.3 L493.0,761.3 L493.7,762.3 L494.4,763.4 L495.0,764.4 L495.7,765.5 L496.4,766.6 L497.0,767.7 L497.7,768.8 L498.3,769.9 L498.9,771.0 L499.5,772.2 L500.1,773.3 L500.7,774.5 L501.3,775.6 L501.8,776.8 L502.4,778.0 L502.9,779.2 L503.4,780.4 L504.0,781.7 L504.5,782.9 L507.7,782.5 L508.2,783.8 L508.7,785.1 L509.2,786.5 L509.6,787.8 L510.1,789.2 L510.5,790.5 L510.9,791.9 L511.3,793.3 L511.7,794.7 Z M502.5,798.6 L502.8,799.7 L503.1,800.8 L503.4,802.0 L503.6,803.1 L503.9,804.2 L504.1,805.3 L504.3,806.5 L504.5,807.6 L504.7,808.7 L504.9,809.8 L505.1,811.0 L505.2,812.1 L505.4,813.2 L505.5,814.3 L505.6,815.5 L505.7,816.6 L505.8,817.7 L505.9,818.8 L505.9,819.9 L506.0,821.1 L506.0,822.2 L506.0,823.3 L506.1,824.4 L506.1,825.5 L506.0,826.5 L506.0,827.6 L506.0,828.7 L505.9,829.8 L505.9,830.8 L505.8,831.9 L505.7,833.0 L505.6,834.0 L505.5,835.0 L505.3,836.1 L505.2,837.1 L505.0,838.1 L504.8,839.1 L504.7,840.1 L504.5,841.1 L504.3,842.1 L504.0,843.0 L503.8,844.0 L503.6,844.9 L503.3,845.9 L503.0,846.8 L502.7,847.7 L502.4,848.6 L502.1,849.5 L501.8,850.4 L501.5,851.2 L501.1,852.1 L500.8,852.9 L500.4,853.7 L500.1,854.6 L499.7,855.3 L499.3,856.1 L498.9,856.9 L498.4,857.7 L498.0,858.4 L497.6,859.1 L497.1,859.8 L496.6,860.5 L496.2,861.2 L495.7,861.9 L495.2,862.5 L494.7,863.1 L494.2,863.7 L493.6,864.3 L493.1,864.9 L492.6,865.5 L492.0,866.0 L491.5,866.6 L490.9,867.1 L490.3,867.6 L489.7,868.0 L489.1,868.5 L488.5,868.9 L487.9,869.4 L487.3,869.8 L486.7,870.1 L486.1,870.5 L485.4,870.9 L484.8,871.2 L484.1,871.5 L483.5,871.8 L482.8,872.1 L482.1,872.3 L481.5,872.5 L480.8,872.8 L480.1,873.0 L479.4,873.1 L478.7,873.3 L478.0,873.4 L477.3,873.5 L476.6,873.6 L475.9,873.7 L475.1,873.8 L474.4,873.8 L473.7,873.8 L473.0,873.8 L472.2,873.8 L471.5,873.8 L470.8,873.7 L470.0,873.6 L469.3,873.5 L468.5,873.4 L467.8,873.3 L467.0,873.1 L466.3,872.9 L465.5,872.7 L464.8,872.5 L464.0,872.3 L463.3,872.0 L462.5,871.7 L461.8,871.5 L461.0,871.1 L460.3,870.8 L459.5,870.5 L458.8,870.1 L458.0,869.7 L457.3,869.3 L456.5,868.9 L455.8,868.4 L455.1,868.0 L454.3,867.5 L453.6,867.0 L452.9,866.5 L452.1,866.0 L451.4,865.4 L450.7,864.8 L450.0,864.3 L449.2,863.7 L448.5,863.0 L447.8,862.4 L447.1,861.8 L446.4,861.1 L445.7,860.4 L445.1,859.7 L444.4,859.0 L443.7,858.3 L443.0,857.6 L442.4,856.8 L441.7,856.0 L441.1,855.2 L440.4,854.4 L439.8,853.6 L439.2,852.8 L438.5,852.0 L437.9,851.1 L437.3,850.2 L436.7,849.4 L436.1,848.5 L435.5,847.6 L435.0,846.7 L434.4,845.7 L433.8,844.8 L433.3,843.9 L432.8,842.9 L432.2,841.9 L431.7,841.0 L431.2,840.0 L430.7,839.0 L430.2,838.0 L429.7,837.0 L429.2,835.9 L428.8,834.9 L428.3,833.9 L427.9,832.8 L427.5,831.8 L427.0,830.7 L426.6,829.6 L426.2,828.6 L425.9,827.5 L425.5,826.4 L425.1,825.3 L424.8,824.2 L424.4,823.1 L424.1,822.0 L423.8,820.9 L423.5,819.8 L423.2,818.7 L422.9,817.6 L422.6,816.4 L422.4,815.3 L422.1,814.2 L421.9,813.1 L421.7,811.9 L421.5,810.8 L421.3,809.7 L421.1,808.6 L420.9,807.4 L420.8,806.3 L420.6,805.2 L420.5,804.1 L420.4,802.9 L420.3,801.8 L420.2,800.7 L420.1,799.6 L420.1,798.5 L420.0,797.3 L420.0,796.2 L420.0,795.1 L419.9,794.0 L419.9,792.9 L420.0,791.9 L420.0,790.8 L420.0,789.7 L420.1,788.6 L420.1,787.6 L420.2,786.5 L420.3,785.4 L420.4,784.4 L420.5,783.4 L420.7,782.3 L420.8,781.3 L421.0,780.3 L421.2,779.3 L421.3,778.3 L421.5,777.3 L421.7,776.3 L422.0,775.4 L422.2,774.4 L422.4,773.5 L422.7,772.5 L423.0,771.6 L423.3,770.7 L423.6,769.8 L423.9,768.9 L424.2,768.0 L424.5,767.2 L424.9,766.3 L425.2,765.5 L425.6,764.7 L425.9,763.8 L426.3,763.1 L426.7,762.3 L427.1,761.5 L427.6,760.7 L428.0,760.0 L428.4,759.3 L428.9,758.6 L429.4,757.9 L429.8,757.2 L430.3,756.5 L430.8,755.9 L431.3,755.3 L431.8,754.7 L432.4,754.1 L432.9,753.5 L433.4,752.9 L434.0,752.4 L434.5,751.8 L435.1,751.3 L435.7,750.8 L436.3,750.4 L436.9,749.9 L437.5,749.5 L438.1,749.0 L438.7,748.6 L439.3,748.3 L439.9,747.9 L440.6,747.5 L441.2,747.2 L441.9,746.9 L442.5,746.6 L443.2,746.3 L443.9,746.1 L444.5,745.9 L445.2,745.6 L445.9,745.4 L446.6,745.3 L447.3,745.1 L448.0,745.0 L448.7,744.9 L449.4,744.8 L450.1,744.7 L450.9,744.6 L451.6,744.6 L452.3,744.6 L453.0,744.6 L453.8,744.6 L454.5,744.6 L455.2,744.7 L456.0,744.8 L456.7,744.9 L457.5,745.0 L458.2,745.1 L459.0,745.3 L459.7,745.5 L460.5,745.7 L461.2,745.9 L462.0,746.1 L462.7,746.4 L463.5,746.7 L464.2,746.9 L465.0,747.3 L465.7,747.6 L466.5,747.9 L467.2,748.3 L468.0,748.7 L468.7,749.1 L469.5,749.5 L470.2,750.0 L470.9,750.4 L471.7,750.9 L472.4,751.4 L473.1,751.9 L473.9,752.4 L474.6,753.0 L475.3,753.6 L476.0,754.1 L476.8,754.7 L477.5,755.4 L478.2,756.0 L478.9,756.6 L479.6,757.3 L480.3,758.0 L480.9,758.7 L481.6,759.4 L482.3,760.1 L483.0,760.8 L483.6,761.6 L484.3,762.4 L484.9,763.2 L485.6,764.0 L486.2,764.8 L486.8,765.6 L487.5,766.4 L488.1,767.3 L488.7,768.2 L489.3,769.0 L489.9,769.9 L490.5,770.8 L491.0,771.7 L491.6,772.7 L492.2,773.6 L492.7,774.5 L493.2,775.5 L493.8,776.5 L494.3,777.4 L494.8,778.4 L495.3,779.4 L495.8,780.4 L496.3,781.4 L496.8,782.5 L497.2,783.5 L497.7,784.5 L498.1,785.6 L498.5,786.6 L499.0,787.7 L499.4,788.8 L499.8,789.8 L500.1,790.9 L500.5,792.0 L500.9,793.1 L501.2,794.2 L501.6,795.3 L501.9,796.4 L502.2,797.5 Z" fill="#fff" fill-rule="evenodd" stroke-width="1.5"/>
<path d="M480.2,805.0 L480.6,806.4 L480.9,807.7 L481.2,809.1 L481.5,810.4 L481.8,811.7 L482.1,813.1 L482.3,814.4 L482.6,815.8 L482.8,817.1 L483.0,818.5 L483.2,819.8 L483.4,821.2 L483.6,822.5 L483.7,823.9 L483.9,825.2 L484.0,826.6 L484.1,827.9 L484.2,829.2 L484.3,830.6 L484.3,831.9 L484.4,833.2 L484.4,834.6 L484.4,835.9 L484.4,837.2 L484.4,838.5 L484.4,839.8 L484.3,841.1 L484.3,842.4 L484.2,843.6 L484.1,844.9 L484.0,846.2 L483.9,847.4 L483.7,848.7 L483.6,849.9 L483.4,851.1 L483.2,852.3 L483.0,853.5 L482.8,854.7 L482.5,855.9 L482.3,857.1 L482.0,858.2 L481.7,859.4 L481.4,860.5 L481.1,861.6 L480.8,862.7 L480.5,863.8 L480.1,864.9 L479.7,865.9 L479.4,867.0 L479.0,868.0 L478.6,869.0 L478.1,870.1 L477.7,871.0 L477.2,872.0 L476.8,873.0 L476.3,873.9 L475.8,874.8 L475.3,875.7 L474.8,876.6 L474.3,877.5 L473.7,878.3 L473.2,879.1 L472.6,880.0 L472.0,880.8 L471.4,881.5 L470.8,882.3 L470.2,883.0 L469.6,883.7 L468.9,884.4 L468.3,885.1 L467.6,885.7 L467.0,886.4 L466.3,887.0 L465.6,887.6 L464.9,888.2 L464.2,888.7 L463.5,889.2 L462.7,889.7 L462.0,890.2 L461.2,890.7 L460.5,891.1 L459.7,891.5 L459.0,891.9 L458.2,892.3 L457.4,892.6 L456.6,893.0 L455.8,893.3 L455.0,893.5 L454.2,893.8 L453.3,894.0 L452.5,894.2 L451.7,894.4 L450.8,894.6 L450.0,894.7 L449.1,894.8 L448.3,894.9 L447.4,895.0 L446.6,895.1 L445.7,895.1 L444.8,895.1 L443.9,895.0 L443.1,895.0 L442.2,894.9 L441.3,894.8 L440.4,894.7 L439.5,894.6 L438.6,894.4 L437.7,894.2 L436.8,894.0 L435.9,893.8 L435.0,893.5 L434.1,893.2 L433.2,892.9 L432.3,892.6 L431.4,892.2 L430.5,891.9 L429.6,891.5 L428.7,891.1 L427.8,890.6 L426.9,890.1 L426.1,889.7 L425.2,889.2 L424.3,888.6 L423.4,888.1 L422.5,887.5 L421.6,886.9 L420.8,886.3 L419.9,885.7 L419.0,885.0 L418.1,884.3 L417.3,883.6 L416.4,882.9 L415.6,882.2 L414.7,881.4 L413.9,880.6 L413.1,879.9 L412.2,879.0 L411.4,878.2 L410.6,877.4 L409.8,876.5 L409.0,875.6 L408.2,874.7 L407.4,873.8 L406.6,872.8 L405.9,871.9 L405.1,870.9 L404.4,869.9 L403.6,868.9 L402.9,867.9 L402.1,866.9 L401.4,865.8 L400.7,864.7 L400.0,863.7 L399.3,862.6 L398.7,861.5 L398.0,860.3 L397.3,859.2 L396.7,858.1 L396.1,856.9 L395.4,855.7 L394.8,854.6 L394.2,853.4 L393.6,852.2 L393.1,850.9 L392.5,849.7 L391.9,848.5 L391.4,847.2 L390.9,846.0 L390.4,844.7 L389.9,843.5 L389.4,842.2 L388.9,840.9 L388.4,839.6 L388.0,838.3 L387.5,837.0 L387.1,835.7 L386.7,834.4 L386.3,833.1 L386.0,831.7 L385.6,830.4 L385.2,829.1 L384.9,827.7 L384.6,826.4 L384.3,825.0 L384.0,823.7 L383.7,822.4 L383.4,821.0 L383.2,819.7 L383.0,818.3 L382.8,817.0 L382.6,815.6 L382.4,814.3 L382.2,812.9 L382.0,811.6 L381.9,810.2 L381.8,808.9 L381.7,807.5 L381.6,806.2 L381.5,804.9 L381.4,803.5 L381.4,802.2 L381.4,800.9 L381.4,799.6 L381.4,798.3 L381.4,797.0 L381.4,795.7 L381.5,794.4 L381.5,793.1 L381.6,791.8 L381.7,790.5 L381.8,789.3 L381.9,788.0 L382.1,786.8 L382.2,785.6 L382.4,784.3 L382.6,783.1 L382.8,781.9 L383.0,780.7 L383.3,779.6 L383.5,778.4 L383.8,777.2 L384.1,776.1 L384.4,775.0 L384.7,773.8 L385.0,772.7 L385.3,771.6 L385.7,770.6 L386.0,769.5 L386.4,768.4 L386.8,767.4 L387.2,766.4 L387.7,765.4 L388.1,764.4 L388.5,763.4 L389.0,762.5 L389.5,761.6 L390.0,760.6 L390.5,759.7 L391.0,758.8 L391.5,758.0 L392.1,757.1 L392.6,756.3 L393.2,755.5 L393.8,754.7 L394.4,753.9 L395.0,753.2 L395.6,752.4 L396.2,751.7 L396.9,751.0 L397.5,750.4 L398.2,749.7 L398.8,749.1 L399.5,748.5 L400.2,747.9 L400.9,747.3 L401.6,746.7 L402.3,746.2 L403.1,745.7 L403.8,745.2 L404.5,744.8 L405.3,744.3 L406.1,743.9 L406.8,743.5 L407.6,743.2 L408.4,742.8 L409.2,742.5 L410.0,742.2 L410.8,741.9 L411.6,741.6 L412.5,741.4 L413.3,741.2 L414.1,741.0 L415.0,740.9 L415.8,740.7 L416.7,740.6 L417.5,740.5 L418.4,740.4 L419.2,740.4 L420.1,740.4 L421.0,740.4 L421.9,740.4 L422.7,740.4 L423.6,740.5 L424.5,740.6 L425.4,740.7 L426.3,740.9 L427.2,741.0 L428.1,741.2 L429.0,741.4 L429.9,741.7 L430.8,741.9 L431.7,742.2 L432.6,742.5 L433.5,742.9 L434.4,743.2 L435.3,743.6 L436.2,744.0 L437.1,744.4 L438.0,744.8 L438.8,745.3 L439.7,745.8 L440.6,746.3 L441.5,746.8 L442.4,747.4 L443.3,747.9 L444.2,748.5 L445.0,749.2 L445.9,749.8 L446.8,750.4 L447.6,751.1 L448.5,751.8 L449.4,752.5 L450.2,753.3 L451.1,754.0 L451.9,754.8 L452.7,755.6 L453.6,756.4 L454.4,757.2 L455.2,758.1 L456.0,759.0 L456.8,759.8 L457.6,760.8 L458.4,761.7 L459.2,762.6 L459.9,763.6 L460.7,764.5 L461.4,765.5 L462.2,766.5 L462.9,767.6 L463.6,768.6 L464.4,769.6 L465.1,770.7 L465.8,771.8 L466.5,772.9 L467.1,774.0 L467.8,775.1 L468.5,776.2 L469.1,777.4 L469.7,778.5 L470.4,779.7 L471.0,780.9 L471.6,782.1 L472.2,783.3 L472.7,784.5 L473.3,785.7 L473.9,787.0 L474.4,788.2 L474.9,789.5 L475.4,790.7 L475.9,792.0 L476.4,793.3 L476.9,794.5 L477.4,795.8 L477.8,797.1 L478.2,798.4 L478.7,799.8 L479.1,801.1 L479.5,802.4 L479.8,803.7 Z M472.4,807.1 L472.7,808.2 L473.0,809.4 L471.4,810.8 L471.7,811.9 L471.9,813.0 L472.1,814.0 L474.2,815.0 L474.4,816.1 L474.6,817.2 L474.8,818.4 L473.0,819.4 L473.2,820.5 L473.3,821.6 L473.5,822.6 L475.5,824.0 L475.6,825.1 L475.7,826.2 L475.8,827.4 L473.9,828.0 L473.9,829.0 L474.0,830.1 L474.0,831.1 L476.0,832.9 L476.0,834.0 L475.9,835.1 L475.9,836.2 L473.9,836.3 L473.9,837.4 L473.8,838.4 L473.7,839.4 L475.6,841.5 L475.5,842.5 L475.4,843.6 L475.2,844.6 L473.2,844.3 L473.0,845.3 L472.8,846.3 L472.7,847.2 L474.4,849.6 L474.2,850.6 L473.9,851.6 L473.7,852.5 L471.6,851.8 L471.4,852.7 L471.1,853.6 L470.8,854.5 L470.6,855.3 L472.0,858.0 L471.7,858.9 L471.4,859.8 L471.0,860.6 L469.0,859.5 L468.6,860.2 L468.3,861.0 L467.9,861.8 L469.2,864.7 L468.8,865.4 L468.3,866.2 L467.9,866.9 L465.9,865.4 L465.5,866.0 L465.0,866.7 L464.6,867.4 L465.6,870.4 L465.1,871.0 L464.6,871.7 L464.1,872.3 L462.1,870.4 L461.6,870.9 L461.1,871.4 L460.6,872.0 L461.4,875.1 L460.8,875.6 L460.2,876.1 L459.6,876.6 L457.8,874.3 L457.3,874.7 L456.7,875.1 L456.1,875.5 L456.6,878.7 L456.0,879.0 L455.3,879.4 L454.7,879.7 L453.1,877.2 L452.4,877.5 L451.8,877.7 L451.2,878.0 L451.3,881.1 L450.7,881.3 L450.0,881.5 L449.3,881.6 L448.6,881.8 L447.2,879.0 L446.5,879.1 L445.9,879.2 L445.2,879.3 L445.0,882.3 L444.3,882.3 L443.6,882.3 L442.9,882.3 L441.7,879.4 L441.0,879.3 L440.3,879.3 L439.6,879.2 L439.2,882.0 L438.4,881.9 L437.7,881.8 L436.9,881.6 L436.0,878.6 L435.3,878.4 L434.6,878.2 L433.9,877.9 L433.2,880.5 L432.4,880.3 L431.7,880.0 L430.9,879.7 L430.3,876.5 L429.6,876.2 L428.9,875.8 L428.2,875.5 L427.2,877.8 L426.4,877.4 L425.7,877.0 L425.0,876.5 L424.6,873.4 L423.9,872.9 L423.2,872.4 L422.5,871.9 L421.3,873.9 L420.6,873.4 L419.9,872.8 L419.1,872.2 L419.1,869.1 L418.4,868.5 L417.7,867.9 L417.1,867.3 L416.4,866.6 L415.0,868.3 L414.3,867.5 L413.6,866.8 L412.9,866.1 L413.2,863.2 L412.6,862.4 L412.0,861.7 L411.3,860.9 L409.7,862.2 L409.1,861.3 L408.4,860.5 L407.8,859.6 L408.4,856.9 L407.8,856.1 L407.2,855.2 L406.7,854.4 L404.9,855.2 L404.3,854.3 L403.7,853.3 L403.2,852.4 L404.0,849.9 L403.5,849.0 L403.0,848.0 L402.5,847.1 L400.6,847.5 L400.1,846.5 L399.6,845.5 L399.1,844.5 L400.2,842.3 L399.8,841.3 L399.4,840.3 L399.0,839.3 L396.9,839.2 L396.5,838.2 L396.1,837.1 L395.7,836.0 L397.1,834.1 L396.7,833.1 L396.4,832.1 L396.1,831.0 L394.0,830.5 L393.7,829.4 L393.4,828.3 L393.1,827.2 L392.8,826.1 L394.4,824.6 L394.1,823.6 L393.9,822.5 L393.7,821.4 L391.6,820.5 L391.4,819.3 L391.2,818.2 L391.0,817.1 L392.8,816.0 L392.6,815.0 L392.5,813.9 L392.3,812.8 L390.3,811.5 L390.2,810.3 L390.1,809.2 L390.0,808.1 L391.9,807.5 L391.9,806.4 L391.8,805.4 L391.8,804.3 L389.8,802.6 L389.8,801.5 L389.9,800.4 L389.9,799.3 L391.9,799.1 L391.9,798.1 L392.0,797.1 L392.1,796.1 L390.2,794.0 L390.3,792.9 L390.4,791.9 L390.6,790.9 L392.6,791.1 L392.8,790.1 L393.0,789.2 L393.1,788.2 L391.4,785.8 L391.6,784.9 L391.9,783.9 L392.1,782.9 L394.2,783.6 L394.4,782.7 L394.7,781.8 L395.0,781.0 L395.2,780.1 L393.8,777.4 L394.1,776.6 L394.4,775.7 L394.7,774.8 L396.8,776.0 L397.2,775.2 L397.5,774.4 L397.9,773.7 L396.6,770.8 L397.0,770.0 L397.5,769.3 L397.9,768.5 L399.9,770.1 L400.3,769.4 L400.8,768.7 L401.2,768.1 L400.2,765.1 L400.7,764.4 L401.2,763.8 L401.7,763.2 L403.6,765.1 L404.2,764.5 L404.7,764.0 L405.2,763.5 L404.4,760.4 L405.0,759.9 L405.6,759.4 L406.2,758.9 L407.9,761.1 L408.5,760.7 L409.1,760.3 L409.7,759.9 L409.2,756.8 L409.8,756.4 L410.5,756.1 L411.1,755.7 L412.7,758.3 L413.4,758.0 L414.0,757.7 L414.6,757.5 L414.4,754.4 L415.1,754.2 L415.8,754.0 L416.5,753.8 L417.2,753.6 L418.6,756.4 L419.3,756.3 L419.9,756.2 L420.6,756.1 L420.8,753.2 L421.5,753.1 L422.2,753.1 L422.9,753.1 L424.1,756.1 L424.8,756.1 L425.5,756.2 L426.2,756.2 L426.6,753.4 L427.4,753.5 L428.1,753.7 L428.9,753.8 L429.8,756.9 L430.5,757.1 L431.2,757.3 L431.9,757.5 L432.6,754.9 L433.4,755.2 L434.1,755.5 L434.9,755.8 L435.5,758.9 L436.2,759.2 L436.9,759.6 L437.6,760.0 L438.6,757.6 L439.4,758.0 L440.1,758.5 L440.8,758.9 L441.2,762.1 L441.9,762.5 L442.6,763.0 L443.3,763.5 L444.5,761.5 L445.2,762.1 L445.9,762.7 L446.7,763.3 L446.7,766.3 L447.4,766.9 L448.0,767.5 L448.7,768.2 L449.4,768.8 L450.8,767.2 L451.5,767.9 L452.2,768.6 L452.9,769.4 L452.6,772.3 L453.2,773.0 L453.8,773.8 L454.5,774.5 L456.1,773.3 L456.7,774.1 L457.4,775.0 L458.0,775.8 L457.4,778.5 L458.0,779.4 L458.6,780.2 L459.1,781.1 L460.9,780.3 L461.5,781.2 L462.1,782.1 L462.6,783.1 L461.8,785.6 L462.3,786.5 L462.8,787.4 L463.3,788.4 L465.2,788.0 L465.7,789.0 L466.2,790.0 L466.7,791.0 L465.6,793.2 L466.0,794.2 L466.4,795.2 L466.8,796.2 L468.9,796.2 L469.3,797.3 L469.7,798.4 L470.0,799.4 L468.7,801.3 L469.1,802.3 L469.4,803.4 L469.7,804.4 L471.8,804.9 L472.1,806.0 Z" fill="#fff" fill-rule="evenodd" stroke-width="1.5"/>
<path d="M477.3,805.8 L477.7,807.2 L478.0,808.5 L478.3,809.8 L478.6,811.2 L478.9,812.5 L479.2,813.9 L479.5,815.2 L479.7,816.6 L479.9,817.9 L480.1,819.3 L480.3,820.6 L480.5,822.0 L480.7,823.3 L480.9,824.7 L481.0,826.0 L481.1,827.3 L481.2,828.7 L481.3,830.0 L481.4,831.4 L481.5,832.7 L481.5,834.0 L481.5,835.3 L481.5,836.6 L481.5,838.0 L481.5,839.3 L481.5,840.6 L481.4,841.8 L481.4,843.1 L481.3,844.4 L481.2,845.7 L481.1,846.9 L481.0,848.2 L480.8,849.4 L480.7,850.7 L480.5,851.9 L480.3,853.1 L480.1,854.3 L479.9,855.5 L479.6,856.7 L479.4,857.8 L479.1,859.0 L478.8,860.1 L478.5,861.3 L478.2,862.4 L477.9,863.5 L477.6,864.6 L477.2,865.7 L476.9,866.7 L476.5,867.8 L476.1,868.8 L475.7,869.8 L475.2,870.8 L474.8,871.8 L474.4,872.8 L473.9,873.7 L473.4,874.7 L472.9,875.6 L472.4,876.5 L471.9,877.4 L471.4,878.2 L470.8,879.1 L470.3,879.9 L469.7,880.7 L469.1,881.5 L468.5,882.3 L467.9,883.1 L467.3,883.8 L466.7,884.5 L466.0,885.2 L465.4,885.9 L464.7,886.5 L464.1,887.2 L463.4,887.8 L462.7,888.4 L462.0,888.9 L461.3,889.5 L460.6,890.0 L459.8,890.5 L459.1,891.0 L458.4,891.4 L457.6,891.9 L456.8,892.3 L456.1,892.7 L455.3,893.1 L454.5,893.4 L453.7,893.7 L452.9,894.0 L452.1,894.3 L451.3,894.6 L450.4,894.8 L449.6,895.0 L448.8,895.2 L447.9,895.4 L447.1,895.5 L446.2,895.6 L445.4,895.7 L444.5,895.8 L443.7,895.8 L442.8,895.9 L441.9,895.9 L441.0,895.8 L440.2,895.8 L439.3,895.7 L438.4,895.6 L437.5,895.5 L436.6,895.3 L435.7,895.2 L434.8,895.0 L433.9,894.8 L433.0,894.5 L432.1,894.3 L431.2,894.0 L430.3,893.7 L429.4,893.4 L428.5,893.0 L427.6,892.6 L426.7,892.2 L425.8,891.8 L424.9,891.4 L424.1,890.9 L423.2,890.4 L422.3,889.9 L421.4,889.4 L420.5,888.9 L419.6,888.3 L418.7,887.7 L417.9,887.1 L417.0,886.4 L416.1,885.8 L415.3,885.1 L414.4,884.4 L413.5,883.7 L412.7,883.0 L411.8,882.2 L411.0,881.4 L410.2,880.6 L409.3,879.8 L408.5,879.0 L407.7,878.1 L406.9,877.3 L406.1,876.4 L405.3,875.5 L404.5,874.5 L403.7,873.6 L403.0,872.7 L402.2,871.7 L401.5,870.7 L400.7,869.7 L400.0,868.7 L399.3,867.6 L398.5,866.6 L397.8,865.5 L397.1,864.4 L396.4,863.3 L395.8,862.2 L395.1,861.1 L394.4,860.0 L393.8,858.8 L393.2,857.7 L392.5,856.5 L391.9,855.3 L391.3,854.1 L390.7,852.9 L390.2,851.7 L389.6,850.5 L389.0,849.3 L388.5,848.0 L388.0,846.8 L387.5,845.5 L387.0,844.2 L386.5,843.0 L386.0,841.7 L385.5,840.4 L385.1,839.1 L384.7,837.8 L384.2,836.5 L383.8,835.2 L383.4,833.8 L383.1,832.5 L382.7,831.2 L382.3,829.8 L382.0,828.5 L381.7,827.2 L381.4,825.8 L381.1,824.5 L380.8,823.1 L380.5,821.8 L380.3,820.4 L380.1,819.1 L379.9,817.7 L379.7,816.4 L379.5,815.0 L379.3,813.7 L379.1,812.3 L379.0,811.0 L378.9,809.7 L378.8,808.3 L378.7,807.0 L378.6,805.6 L378.5,804.3 L378.5,803.0 L378.5,801.7 L378.5,800.4 L378.5,799.0 L378.5,797.7 L378.5,796.4 L378.6,795.2 L378.6,793.9 L378.7,792.6 L378.8,791.3 L378.9,790.1 L379.0,788.8 L379.2,787.6 L379.3,786.3 L379.5,785.1 L379.7,783.9 L379.9,782.7 L380.1,781.5 L380.4,780.3 L380.6,779.2 L380.9,778.0 L381.2,776.9 L381.5,775.7 L381.8,774.6 L382.1,773.5 L382.4,772.4 L382.8,771.3 L383.1,770.3 L383.5,769.2 L383.9,768.2 L384.3,767.2 L384.8,766.2 L385.2,765.2 L385.6,764.2 L386.1,763.3 L386.6,762.3 L387.1,761.4 L387.6,760.5 L388.1,759.6 L388.6,758.8 L389.2,757.9 L389.7,757.1 L390.3,756.3 L390.9,755.5 L391.5,754.7 L392.1,753.9 L392.7,753.2 L393.3,752.5 L394.0,751.8 L394.6,751.1 L395.3,750.5 L395.9,749.8 L396.6,749.2 L397.3,748.6 L398.0,748.1 L398.7,747.5 L399.4,747.0 L400.2,746.5 L400.9,746.0 L401.6,745.6 L402.4,745.1 L403.2,744.7 L403.9,744.3 L404.7,743.9 L405.5,743.6 L406.3,743.3 L407.1,743.0 L407.9,742.7 L408.7,742.4 L409.6,742.2 L410.4,742.0 L411.2,741.8 L412.1,741.6 L412.9,741.5 L413.8,741.4 L414.6,741.3 L415.5,741.2 L416.3,741.2 L417.2,741.1 L418.1,741.1 L419.0,741.2 L419.8,741.2 L420.7,741.3 L421.6,741.4 L422.5,741.5 L423.4,741.7 L424.3,741.8 L425.2,742.0 L426.1,742.2 L427.0,742.5 L427.9,742.7 L428.8,743.0 L429.7,743.3 L430.6,743.6 L431.5,744.0 L432.4,744.4 L433.3,744.8 L434.2,745.2 L435.1,745.6 L435.9,746.1 L436.8,746.6 L437.7,747.1 L438.6,747.6 L439.5,748.1 L440.4,748.7 L441.3,749.3 L442.1,749.9 L443.0,750.6 L443.9,751.2 L444.7,751.9 L445.6,752.6 L446.5,753.3 L447.3,754.0 L448.2,754.8 L449.0,755.6 L449.8,756.4 L450.7,757.2 L451.5,758.0 L452.3,758.9 L453.1,759.7 L453.9,760.6 L454.7,761.5 L455.5,762.5 L456.3,763.4 L457.0,764.3 L457.8,765.3 L458.5,766.3 L459.3,767.3 L460.0,768.3 L460.7,769.4 L461.5,770.4 L462.2,771.5 L462.9,772.6 L463.6,773.7 L464.2,774.8 L464.9,775.9 L465.6,777.0 L466.2,778.2 L466.8,779.3 L467.5,780.5 L468.1,781.7 L468.7,782.9 L469.3,784.1 L469.8,785.3 L470.4,786.5 L471.0,787.7 L471.5,789.0 L472.0,790.2 L472.5,791.5 L473.0,792.8 L473.5,794.0 L474.0,795.3 L474.5,796.6 L474.9,797.9 L475.3,799.2 L475.8,800.5 L476.2,801.8 L476.6,803.2 L476.9,804.5 Z M469.5,807.9 L469.8,809.0 L470.1,810.1 L468.5,811.6 L468.8,812.7 L469.0,813.7 L469.2,814.8 L471.3,815.8 L471.5,816.9 L471.7,818.0 L471.9,819.1 L470.1,820.2 L470.3,821.3 L470.4,822.3 L470.6,823.4 L472.6,824.8 L472.7,825.9 L472.8,827.0 L472.9,828.1 L471.0,828.8 L471.0,829.8 L471.1,830.9 L471.1,831.9 L473.1,833.7 L473.1,834.8 L473.0,835.8 L473.0,836.9 L471.0,837.1 L471.0,838.1 L470.9,839.2 L470.8,840.2 L472.7,842.3 L472.6,843.3 L472.5,844.3 L472.3,845.4 L470.3,845.1 L470.1,846.1 L469.9,847.0 L469.8,848.0 L471.5,850.4 L471.3,851.4 L471.0,852.3 L470.8,853.3 L468.7,852.6 L468.5,853.5 L468.2,854.4 L467.9,855.3 L467.7,856.1 L469.1,858.8 L468.8,859.7 L468.5,860.5 L468.1,861.4 L466.1,860.2 L465.7,861.0 L465.4,861.8 L465.0,862.5 L466.3,865.4 L465.9,866.2 L465.4,867.0 L465.0,867.7 L463.0,866.1 L462.6,866.8 L462.1,867.5 L461.7,868.1 L462.7,871.2 L462.2,871.8 L461.7,872.4 L461.2,873.0 L459.3,871.1 L458.7,871.7 L458.2,872.2 L457.7,872.7 L458.5,875.9 L457.9,876.4 L457.3,876.9 L456.7,877.3 L454.9,875.1 L454.4,875.5 L453.8,875.9 L453.2,876.3 L453.7,879.4 L453.1,879.8 L452.4,880.2 L451.8,880.5 L450.2,878.0 L449.5,878.2 L448.9,878.5 L448.3,878.7 L448.5,881.8 L447.8,882.1 L447.1,882.3 L446.4,882.4 L445.7,882.6 L444.3,879.8 L443.6,879.9 L443.0,880.0 L442.3,880.1 L442.1,883.1 L441.4,883.1 L440.7,883.1 L440.0,883.1 L438.8,880.2 L438.1,880.1 L437.4,880.1 L436.7,880.0 L436.3,882.8 L435.5,882.7 L434.8,882.6 L434.0,882.4 L433.1,879.3 L432.4,879.1 L431.7,878.9 L431.0,878.7 L430.3,881.3 L429.5,881.0 L428.8,880.8 L428.0,880.4 L427.4,877.3 L426.7,877.0 L426.0,876.6 L425.3,876.3 L424.3,878.6 L423.5,878.2 L422.8,877.7 L422.1,877.3 L421.7,874.1 L421.0,873.7 L420.3,873.2 L419.6,872.7 L418.4,874.7 L417.7,874.1 L417.0,873.6 L416.2,873.0 L416.2,869.9 L415.5,869.3 L414.9,868.7 L414.2,868.0 L413.5,867.4 L412.1,869.0 L411.4,868.3 L410.7,867.6 L410.0,866.9 L410.3,863.9 L409.7,863.2 L409.1,862.4 L408.4,861.7 L406.8,862.9 L406.2,862.1 L405.5,861.3 L404.9,860.4 L405.5,857.7 L404.9,856.8 L404.3,856.0 L403.8,855.1 L402.0,856.0 L401.4,855.0 L400.8,854.1 L400.3,853.2 L401.1,850.7 L400.6,849.7 L400.1,848.8 L399.6,847.9 L397.7,848.3 L397.2,847.3 L396.7,846.3 L396.2,845.2 L397.3,843.0 L396.9,842.0 L396.5,841.0 L396.1,840.0 L394.0,840.0 L393.6,838.9 L393.2,837.9 L392.9,836.8 L394.2,834.9 L393.8,833.9 L393.5,832.8 L393.2,831.8 L391.1,831.3 L390.8,830.2 L390.5,829.1 L390.2,828.0 L389.9,826.9 L391.5,825.4 L391.2,824.3 L391.0,823.3 L390.8,822.2 L388.7,821.2 L388.5,820.1 L388.3,819.0 L388.1,817.9 L389.9,816.8 L389.7,815.7 L389.6,814.7 L389.4,813.6 L387.4,812.2 L387.3,811.1 L387.2,810.0 L387.1,808.9 L389.0,808.2 L389.0,807.2 L388.9,806.1 L388.9,805.1 L386.9,803.3 L386.9,802.2 L387.0,801.2 L387.0,800.1 L389.0,799.9 L389.0,798.9 L389.1,797.8 L389.2,796.8 L387.3,794.7 L387.4,793.7 L387.5,792.7 L387.7,791.6 L389.7,791.9 L389.9,790.9 L390.1,790.0 L390.2,789.0 L388.5,786.6 L388.7,785.6 L389.0,784.7 L389.2,783.7 L391.3,784.4 L391.5,783.5 L391.8,782.6 L392.1,781.7 L392.3,780.9 L390.9,778.2 L391.2,777.3 L391.5,776.5 L391.9,775.6 L393.9,776.8 L394.3,776.0 L394.6,775.2 L395.0,774.5 L393.7,771.6 L394.1,770.8 L394.6,770.0 L395.0,769.3 L397.0,770.9 L397.4,770.2 L397.9,769.5 L398.3,768.9 L397.3,765.8 L397.8,765.2 L398.3,764.6 L398.8,764.0 L400.7,765.9 L401.3,765.3 L401.8,764.8 L402.3,764.3 L401.5,761.1 L402.1,760.6 L402.7,760.1 L403.3,759.7 L405.1,761.9 L405.6,761.5 L406.2,761.1 L406.8,760.7 L406.3,757.6 L406.9,757.2 L407.6,756.8 L408.2,756.5 L409.8,759.0 L410.5,758.8 L411.1,758.5 L411.7,758.3 L411.5,755.2 L412.2,754.9 L412.9,754.7 L413.6,754.6 L414.3,754.4 L415.7,757.2 L416.4,757.1 L417.0,757.0 L417.7,756.9 L417.9,753.9 L418.6,753.9 L419.3,753.9 L420.0,753.9 L421.2,756.8 L421.9,756.9 L422.6,756.9 L423.3,757.0 L423.7,754.2 L424.5,754.3 L425.2,754.4 L426.0,754.6 L426.9,757.7 L427.6,757.9 L428.3,758.1 L429.0,758.3 L429.7,755.7 L430.5,756.0 L431.2,756.2 L432.0,756.6 L432.6,759.7 L433.3,760.0 L434.0,760.4 L434.7,760.7 L435.7,758.4 L436.5,758.8 L437.2,759.3 L437.9,759.7 L438.3,762.9 L439.0,763.3 L439.7,763.8 L440.4,764.3 L441.6,762.3 L442.3,762.9 L443.0,763.4 L443.8,764.0 L443.8,767.1 L444.5,767.7 L445.1,768.3 L445.8,769.0 L446.5,769.6 L447.9,768.0 L448.6,768.7 L449.3,769.4 L450.0,770.1 L449.7,773.1 L450.3,773.8 L450.9,774.6 L451.6,775.3 L453.2,774.1 L453.8,774.9 L454.5,775.7 L455.1,776.6 L454.5,779.3 L455.1,780.2 L455.7,781.0 L456.2,781.9 L458.0,781.0 L458.6,782.0 L459.2,782.9 L459.7,783.8 L458.9,786.3 L459.4,787.3 L459.9,788.2 L460.4,789.1 L462.3,788.7 L462.8,789.7 L463.3,790.7 L463.8,791.8 L462.7,794.0 L463.1,795.0 L463.5,796.0 L463.9,797.0 L466.0,797.0 L466.4,798.1 L466.8,799.1 L467.1,800.2 L465.8,802.1 L466.2,803.1 L466.5,804.2 L466.8,805.2 L468.9,805.7 L469.2,806.8 Z" fill="#fff" fill-rule="evenodd" stroke-width="1.5"/>
<path d="M449.0,813.9 L446.4,816.0 L446.7,817.3 L447.0,818.6 L447.3,819.9 L447.6,821.2 L447.8,822.5 L448.1,823.8 L448.3,825.1 L448.6,826.5 L448.8,827.8 L449.0,829.1 L449.1,830.4 L449.3,831.7 L449.5,833.0 L449.6,834.3 L449.7,835.6 L449.8,837.0 L449.9,838.3 L450.0,839.6 L450.0,840.9 L450.1,842.1 L450.1,843.4 L450.1,844.7 L450.1,846.0 L453.4,848.6 L453.3,849.9 L453.3,851.3 L453.2,852.6 L453.1,853.9 L453.0,855.2 L452.9,856.5 L452.8,857.8 L452.6,859.1 L452.5,860.4 L452.3,861.7 L448.9,860.7 L448.7,861.9 L448.5,863.1 L448.3,864.2 L448.0,865.4 L447.8,866.5 L447.5,867.6 L447.2,868.7 L446.9,869.8 L446.6,870.9 L446.3,871.9 L445.9,873.0 L445.6,874.0 L445.2,875.0 L444.8,876.1 L444.4,877.0 L444.0,878.0 L443.6,879.0 L443.1,879.9 L442.7,880.9 L442.2,881.8 L441.7,882.7 L441.2,883.6 L440.7,884.4 L442.8,889.0 L442.3,889.9 L441.7,890.8 L441.1,891.6 L440.5,892.4 L439.9,893.2 L439.3,894.0 L438.6,894.8 L438.0,895.5 L437.3,896.3 L436.6,897.0 L433.8,893.3 L433.1,893.9 L432.4,894.5 L431.8,895.1 L431.1,895.7 L430.4,896.2 L429.7,896.7 L429.0,897.2 L428.3,897.7 L427.5,898.1 L426.8,898.6 L426.1,899.0 L425.3,899.3 L424.5,899.7 L423.8,900.0 L423.0,900.4 L422.2,900.7 L421.4,900.9 L420.6,901.2 L419.8,901.4 L419.0,901.6 L418.2,901.8 L417.4,901.9 L416.6,902.1 L416.8,907.1 L415.9,907.2 L415.0,907.2 L414.1,907.3 L413.2,907.3 L412.3,907.3 L411.4,907.3 L410.4,907.2 L409.5,907.2 L408.6,907.1 L407.7,906.9 L406.3,901.9 L405.5,901.8 L404.6,901.6 L403.7,901.4 L402.9,901.1 L402.0,900.9 L401.1,900.6 L400.2,900.3 L399.3,900.0 L398.5,899.7 L397.6,899.3 L396.7,898.9 L395.8,898.5 L395.0,898.1 L394.1,897.6 L393.2,897.1 L392.4,896.6 L391.5,896.1 L390.6,895.6 L389.8,895.0 L388.9,894.5 L388.1,893.9 L387.2,893.2 L386.4,892.6 L384.6,896.2 L383.7,895.4 L382.8,894.7 L381.9,893.9 L381.1,893.1 L380.2,892.3 L379.3,891.5 L378.5,890.7 L377.6,889.8 L376.8,888.9 L375.9,888.0 L376.6,883.4 L375.8,882.6 L375.1,881.7 L374.3,880.7 L373.6,879.8 L372.8,878.9 L372.1,877.9 L371.4,876.9 L370.6,875.9 L369.9,874.9 L369.2,873.9 L368.5,872.9 L367.9,871.8 L367.2,870.7 L366.5,869.7 L365.9,868.6 L365.2,867.5 L364.6,866.3 L364.0,865.2 L363.4,864.1 L362.8,862.9 L362.2,861.8 L361.6,860.6 L361.1,859.4 L358.0,860.2 L357.4,859.0 L356.8,857.7 L356.3,856.4 L355.7,855.1 L355.2,853.7 L354.7,852.4 L354.2,851.1 L353.7,849.7 L353.3,848.4 L352.8,847.0 L355.3,844.5 L354.9,843.3 L354.5,842.0 L354.1,840.7 L353.8,839.4 L353.4,838.1 L353.1,836.8 L352.8,835.5 L352.5,834.2 L352.2,832.9 L352.0,831.5 L351.7,830.2 L351.5,828.9 L351.2,827.6 L351.0,826.3 L350.8,825.0 L350.6,823.6 L350.5,822.3 L350.3,821.0 L350.2,819.7 L350.1,818.4 L350.0,817.1 L349.9,815.8 L349.8,814.5 L346.5,812.3 L346.4,810.9 L346.4,809.6 L346.4,808.2 L346.4,806.8 L346.4,805.5 L346.5,804.1 L346.5,802.8 L346.6,801.5 L346.7,800.1 L346.8,798.8 L350.1,799.3 L350.2,798.1 L350.4,796.9 L350.5,795.7 L350.7,794.5 L350.9,793.3 L351.1,792.1 L351.3,791.0 L351.5,789.8 L351.8,788.7 L352.0,787.6 L352.3,786.4 L352.6,785.3 L352.9,784.2 L353.2,783.2 L353.5,782.1 L353.9,781.1 L354.2,780.0 L354.6,779.0 L355.0,778.0 L355.4,777.0 L355.8,776.0 L356.2,775.1 L356.7,774.1 L354.3,769.7 L354.8,768.7 L355.4,767.8 L355.9,766.8 L356.4,765.9 L357.0,765.0 L357.5,764.1 L358.1,763.3 L358.7,762.4 L359.3,761.6 L359.9,760.8 L360.5,760.0 L361.2,759.3 L361.8,758.5 L362.5,757.8 L363.2,757.1 L363.8,756.4 L364.5,755.8 L365.2,755.1 L366.0,754.5 L366.7,753.9 L369.4,757.8 L370.1,757.3 L370.8,756.8 L371.5,756.4 L372.3,755.9 L373.0,755.5 L373.7,755.1 L374.5,754.7 L375.3,754.3 L376.0,754.0 L376.8,753.7 L377.6,753.4 L378.4,753.1 L379.2,752.9 L380.0,752.6 L380.8,752.4 L381.6,752.3 L382.4,752.1 L383.2,752.0 L384.1,751.9 L384.9,751.8 L385.7,751.7 L386.6,751.7 L387.4,751.6 L387.5,746.7 L388.4,746.8 L389.3,746.8 L390.3,746.9 L391.2,747.0 L392.1,747.1 L393.0,747.3 L394.0,747.4 L394.9,747.6 L395.8,747.8 L396.8,748.1 L397.8,753.2 L398.7,753.4 L399.6,753.7 L400.4,754.1 L401.3,754.4 L402.2,754.8 L403.1,755.1 L404.0,755.6 L404.8,756.0 L405.7,756.4 L406.6,756.9 L407.4,757.4 L408.3,757.9 L409.2,758.5 L410.0,759.0 L410.9,759.6 L411.7,760.2 L412.6,760.8 L413.4,761.4 L414.3,762.1 L415.1,762.8 L415.9,763.5 L416.8,764.2 L417.6,764.9 L419.6,761.7 L420.5,762.5 L421.3,763.4 L422.2,764.2 L423.0,765.1 L423.9,766.0 L424.7,767.0 L425.5,767.9 L426.3,768.8 L427.2,769.8 L428.0,770.8 L427.0,775.2 L427.7,776.2 L428.4,777.1 L429.2,778.1 L429.9,779.1 L430.6,780.2 L431.3,781.2 L431.9,782.2 L432.6,783.3 L433.3,784.4 L433.9,785.5 L434.6,786.6 L435.2,787.7 L435.8,788.8 L436.4,790.0 L437.0,791.1 L437.6,792.3 L438.2,793.5 L438.7,794.6 L439.3,795.8 L439.8,797.0 L440.3,798.3 L440.9,799.5 L441.4,800.7 L444.6,800.3 L445.1,801.6 L445.6,803.0 L446.1,804.3 L446.5,805.7 L447.0,807.0 L447.4,808.4 L447.8,809.7 L448.2,811.1 L448.6,812.5 Z M439.4,816.4 L439.7,817.5 L440.0,818.7 L440.3,819.8 L440.5,820.9 L440.8,822.0 L441.0,823.2 L441.2,824.3 L441.4,825.4 L441.6,826.5 L441.8,827.7 L442.0,828.8 L442.1,829.9 L442.3,831.0 L442.4,832.2 L442.5,833.3 L442.6,834.4 L442.7,835.5 L442.8,836.7 L442.8,837.8 L442.9,838.9 L442.9,840.0 L442.9,841.1 L443.0,842.2 L443.0,843.3 L442.9,844.4 L442.9,845.5 L442.9,846.5 L442.8,847.6 L442.7,848.7 L442.7,849.7 L442.6,850.8 L442.5,851.8 L442.4,852.9 L442.2,853.9 L442.1,854.9 L441.9,855.9 L441.7,856.9 L441.6,857.9 L441.4,858.9 L441.2,859.9 L440.9,860.9 L440.7,861.8 L440.5,862.8 L440.2,863.7 L439.9,864.6 L439.6,865.5 L439.3,866.4 L439.0,867.3 L438.7,868.2 L438.4,869.1 L438.0,869.9 L437.7,870.7 L437.3,871.6 L437.0,872.4 L436.6,873.2 L436.2,874.0 L435.8,874.7 L435.3,875.5 L434.9,876.2 L434.5,876.9 L434.0,877.6 L433.5,878.3 L433.1,879.0 L432.6,879.7 L432.1,880.3 L431.6,881.0 L431.1,881.6 L430.5,882.2 L430.0,882.7 L429.5,883.3 L428.9,883.9 L428.4,884.4 L427.8,884.9 L427.2,885.4 L426.6,885.9 L426.0,886.3 L425.4,886.8 L424.8,887.2 L424.2,887.6 L423.6,888.0 L423.0,888.3 L422.3,888.7 L421.7,889.0 L421.0,889.3 L420.4,889.6 L419.7,889.9 L419.0,890.1 L418.3,890.4 L417.7,890.6 L417.0,890.8 L416.3,890.9 L415.6,891.1 L414.9,891.2 L414.2,891.4 L413.5,891.5 L412.8,891.5 L412.0,891.6 L411.3,891.6 L410.6,891.6 L409.9,891.6 L409.1,891.6 L408.4,891.6 L407.7,891.5 L406.9,891.4 L406.2,891.3 L405.4,891.2 L404.7,891.1 L403.9,890.9 L403.2,890.7 L402.4,890.6 L401.7,890.3 L400.9,890.1 L400.2,889.8 L399.4,889.6 L398.7,889.3 L397.9,889.0 L397.2,888.6 L396.4,888.3 L395.7,887.9 L394.9,887.5 L394.2,887.1 L393.4,886.7 L392.7,886.3 L392.0,885.8 L391.2,885.3 L390.5,884.8 L389.8,884.3 L389.0,883.8 L388.3,883.2 L387.6,882.7 L386.9,882.1 L386.1,881.5 L385.4,880.9 L384.7,880.2 L384.0,879.6 L383.3,878.9 L382.6,878.2 L382.0,877.6 L381.3,876.8 L380.6,876.1 L379.9,875.4 L379.3,874.6 L378.6,873.8 L378.0,873.1 L377.3,872.3 L376.7,871.5 L376.1,870.6 L375.4,869.8 L374.8,868.9 L374.2,868.1 L373.6,867.2 L373.0,866.3 L372.4,865.4 L371.9,864.5 L371.3,863.6 L370.7,862.6 L370.2,861.7 L369.6,860.7 L369.1,859.8 L368.6,858.8 L368.1,857.8 L367.6,856.8 L367.1,855.8 L366.6,854.8 L366.1,853.8 L365.7,852.7 L365.2,851.7 L364.8,850.6 L364.4,849.6 L363.9,848.5 L363.5,847.5 L363.1,846.4 L362.7,845.3 L362.4,844.2 L362.0,843.1 L361.7,842.0 L361.3,840.9 L361.0,839.8 L360.7,838.7 L360.4,837.6 L360.1,836.5 L359.8,835.4 L359.5,834.3 L359.3,833.1 L359.0,832.0 L358.8,830.9 L358.6,829.8 L358.4,828.6 L358.2,827.5 L358.0,826.4 L357.8,825.3 L357.7,824.1 L357.5,823.0 L357.4,821.9 L357.3,820.8 L357.2,819.6 L357.1,818.5 L357.0,817.4 L357.0,816.3 L356.9,815.2 L356.9,814.1 L356.9,813.0 L356.8,811.9 L356.8,810.8 L356.9,809.7 L356.9,808.6 L356.9,807.5 L357.0,806.4 L357.0,805.4 L357.1,804.3 L357.2,803.3 L357.3,802.2 L357.4,801.2 L357.6,800.2 L357.7,799.1 L357.9,798.1 L358.1,797.1 L358.2,796.1 L358.4,795.1 L358.6,794.2 L358.9,793.2 L359.1,792.2 L359.3,791.3 L359.6,790.4 L359.9,789.4 L360.2,788.5 L360.4,787.6 L360.8,786.7 L361.1,785.9 L361.4,785.0 L361.7,784.1 L362.1,783.3 L362.5,782.5 L362.8,781.7 L363.2,780.9 L363.6,780.1 L364.0,779.3 L364.5,778.6 L364.9,777.8 L365.3,777.1 L365.8,776.4 L366.3,775.7 L366.7,775.0 L367.2,774.4 L367.7,773.7 L368.2,773.1 L368.7,772.5 L369.3,771.9 L369.8,771.3 L370.3,770.7 L370.9,770.2 L371.4,769.7 L372.0,769.2 L372.6,768.7 L373.2,768.2 L373.8,767.7 L374.4,767.3 L375.0,766.9 L375.6,766.5 L376.2,766.1 L376.8,765.7 L377.5,765.4 L378.1,765.0 L378.8,764.7 L379.4,764.4 L380.1,764.2 L380.8,763.9 L381.4,763.7 L382.1,763.5 L382.8,763.3 L383.5,763.1 L384.2,762.9 L384.9,762.8 L385.6,762.7 L386.3,762.6 L387.0,762.5 L387.8,762.5 L388.5,762.4 L389.2,762.4 L389.9,762.4 L390.7,762.4 L391.4,762.5 L392.1,762.5 L392.9,762.6 L393.6,762.7 L394.4,762.8 L395.1,763.0 L395.9,763.1 L396.6,763.3 L397.4,763.5 L398.1,763.7 L398.9,763.9 L399.6,764.2 L400.4,764.5 L401.1,764.8 L401.9,765.1 L402.6,765.4 L403.4,765.8 L404.1,766.1 L404.9,766.5 L405.6,766.9 L406.4,767.3 L407.1,767.8 L407.8,768.2 L408.6,768.7 L409.3,769.2 L410.0,769.7 L410.8,770.3 L411.5,770.8 L412.2,771.4 L412.9,772.0 L413.7,772.6 L414.4,773.2 L415.1,773.8 L415.8,774.5 L416.5,775.1 L417.2,775.8 L417.8,776.5 L418.5,777.2 L419.2,777.9 L419.9,778.7 L420.5,779.4 L421.2,780.2 L421.8,781.0 L422.5,781.8 L423.1,782.6 L423.7,783.4 L424.4,784.3 L425.0,785.1 L425.6,786.0 L426.2,786.9 L426.8,787.7 L427.4,788.6 L427.9,789.6 L428.5,790.5 L429.1,791.4 L429.6,792.4 L430.1,793.3 L430.7,794.3 L431.2,795.3 L431.7,796.3 L432.2,797.3 L432.7,798.3 L433.2,799.3 L433.7,800.3 L434.1,801.3 L434.6,802.4 L435.0,803.4 L435.4,804.5 L435.9,805.5 L436.3,806.6 L436.7,807.7 L437.0,808.7 L437.4,809.8 L437.8,810.9 L438.1,812.0 L438.5,813.1 L438.8,814.2 L439.1,815.3 Z" fill="#fff" fill-rule="evenodd" stroke-width="1.5"/>
<path d="M446.1,814.6 L443.5,816.7 L443.8,818.0 L444.1,819.4 L444.4,820.7 L444.7,822.0 L444.9,823.3 L445.2,824.6 L445.4,825.9 L445.7,827.2 L445.9,828.5 L446.1,829.9 L446.2,831.2 L446.4,832.5 L446.6,833.8 L446.7,835.1 L446.8,836.4 L446.9,837.7 L447.0,839.0 L447.1,840.3 L447.1,841.6 L447.2,842.9 L447.2,844.2 L447.2,845.5 L447.2,846.8 L450.5,849.3 L450.4,850.7 L450.4,852.0 L450.3,853.4 L450.2,854.7 L450.1,856.0 L450.0,857.3 L449.9,858.6 L449.7,859.9 L449.6,861.2 L449.4,862.5 L446.0,861.5 L445.8,862.7 L445.6,863.9 L445.4,865.0 L445.1,866.1 L444.9,867.3 L444.6,868.4 L444.3,869.5 L444.0,870.6 L443.7,871.7 L443.4,872.7 L443.0,873.8 L442.7,874.8 L442.3,875.8 L441.9,876.8 L441.5,877.8 L441.1,878.8 L440.7,879.8 L440.2,880.7 L439.8,881.6 L439.3,882.6 L438.8,883.4 L438.3,884.3 L437.8,885.2 L439.9,889.8 L439.4,890.7 L438.8,891.6 L438.2,892.4 L437.6,893.2 L437.0,894.0 L436.4,894.8 L435.7,895.6 L435.1,896.3 L434.4,897.0 L433.7,897.7 L430.9,894.1 L430.2,894.7 L429.5,895.3 L428.9,895.9 L428.2,896.4 L427.5,897.0 L426.8,897.5 L426.1,898.0 L425.4,898.5 L424.6,898.9 L423.9,899.3 L423.2,899.7 L422.4,900.1 L421.6,900.5 L420.9,900.8 L420.1,901.1 L419.3,901.4 L418.5,901.7 L417.7,901.9 L416.9,902.2 L416.1,902.4 L415.3,902.6 L414.5,902.7 L413.7,902.9 L413.9,907.9 L413.0,907.9 L412.1,908.0 L411.2,908.1 L410.3,908.1 L409.4,908.1 L408.5,908.1 L407.5,908.0 L406.6,907.9 L405.7,907.8 L404.8,907.7 L403.4,902.7 L402.6,902.5 L401.7,902.4 L400.8,902.1 L400.0,901.9 L399.1,901.7 L398.2,901.4 L397.3,901.1 L396.5,900.8 L395.6,900.4 L394.7,900.1 L393.8,899.7 L392.9,899.3 L392.1,898.8 L391.2,898.4 L390.3,897.9 L389.5,897.4 L388.6,896.9 L387.7,896.4 L386.9,895.8 L386.0,895.2 L385.2,894.6 L384.3,894.0 L383.5,893.4 L381.7,896.9 L380.8,896.2 L379.9,895.5 L379.0,894.7 L378.2,893.9 L377.3,893.1 L376.4,892.3 L375.6,891.4 L374.7,890.6 L373.9,889.7 L373.0,888.8 L373.7,884.2 L372.9,883.3 L372.2,882.4 L371.4,881.5 L370.7,880.6 L369.9,879.6 L369.2,878.7 L368.5,877.7 L367.7,876.7 L367.0,875.7 L366.3,874.7 L365.6,873.6 L365.0,872.6 L364.3,871.5 L363.6,870.4 L363.0,869.3 L362.3,868.2 L361.7,867.1 L361.1,866.0 L360.5,864.8 L359.9,863.7 L359.3,862.5 L358.7,861.4 L358.2,860.2 L355.1,861.0 L354.5,859.7 L353.9,858.4 L353.4,857.1 L352.8,855.8 L352.3,854.5 L351.8,853.2 L351.3,851.9 L350.8,850.5 L350.4,849.2 L349.9,847.8 L352.4,845.3 L352.0,844.0 L351.6,842.7 L351.2,841.5 L350.9,840.2 L350.5,838.9 L350.2,837.6 L349.9,836.2 L349.6,834.9 L349.3,833.6 L349.1,832.3 L348.8,831.0 L348.6,829.7 L348.3,828.4 L348.1,827.1 L347.9,825.7 L347.8,824.4 L347.6,823.1 L347.4,821.8 L347.3,820.5 L347.2,819.2 L347.1,817.9 L347.0,816.6 L346.9,815.3 L343.6,813.1 L343.5,811.7 L343.5,810.3 L343.5,809.0 L343.5,807.6 L343.5,806.3 L343.6,804.9 L343.6,803.6 L343.7,802.2 L343.8,800.9 L343.9,799.6 L347.2,800.1 L347.3,798.9 L347.5,797.7 L347.6,796.5 L347.8,795.3 L348.0,794.1 L348.2,792.9 L348.4,791.7 L348.6,790.6 L348.9,789.5 L349.1,788.3 L349.4,787.2 L349.7,786.1 L350.0,785.0 L350.3,783.9 L350.6,782.9 L351.0,781.8 L351.3,780.8 L351.7,779.8 L352.1,778.8 L352.5,777.8 L352.9,776.8 L353.3,775.8 L353.8,774.9 L351.4,770.5 L351.9,769.5 L352.5,768.5 L353.0,767.6 L353.5,766.7 L354.1,765.8 L354.6,764.9 L355.2,764.0 L355.8,763.2 L356.4,762.4 L357.0,761.6 L357.6,760.8 L358.3,760.0 L358.9,759.3 L359.6,758.6 L360.3,757.9 L360.9,757.2 L361.6,756.5 L362.3,755.9 L363.1,755.3 L363.8,754.7 L366.5,758.6 L367.2,758.1 L367.9,757.6 L368.6,757.1 L369.4,756.7 L370.1,756.3 L370.8,755.9 L371.6,755.5 L372.4,755.1 L373.1,754.8 L373.9,754.5 L374.7,754.2 L375.5,753.9 L376.3,753.7 L377.1,753.4 L377.9,753.2 L378.7,753.0 L379.5,752.9 L380.3,752.7 L381.2,752.6 L382.0,752.5 L382.8,752.5 L383.7,752.4 L384.5,752.4 L384.6,747.5 L385.5,747.5 L386.5,747.6 L387.4,747.7 L388.3,747.8 L389.2,747.9 L390.1,748.0 L391.1,748.2 L392.0,748.4 L392.9,748.6 L393.9,748.9 L394.9,753.9 L395.8,754.2 L396.7,754.5 L397.5,754.8 L398.4,755.2 L399.3,755.5 L400.2,755.9 L401.1,756.3 L401.9,756.8 L402.8,757.2 L403.7,757.7 L404.5,758.2 L405.4,758.7 L406.3,759.2 L407.1,759.8 L408.0,760.4 L408.8,761.0 L409.7,761.6 L410.5,762.2 L411.4,762.9 L412.2,763.6 L413.0,764.3 L413.9,765.0 L414.7,765.7 L416.7,762.5 L417.6,763.3 L418.4,764.2 L419.3,765.0 L420.1,765.9 L421.0,766.8 L421.8,767.7 L422.6,768.7 L423.4,769.6 L424.3,770.6 L425.1,771.6 L424.1,776.0 L424.8,776.9 L425.5,777.9 L426.3,778.9 L427.0,779.9 L427.7,780.9 L428.4,782.0 L429.0,783.0 L429.7,784.1 L430.4,785.2 L431.0,786.3 L431.7,787.4 L432.3,788.5 L432.9,789.6 L433.5,790.8 L434.1,791.9 L434.7,793.1 L435.3,794.2 L435.8,795.4 L436.4,796.6 L436.9,797.8 L437.4,799.0 L438.0,800.3 L438.5,801.5 L441.7,801.1 L442.2,802.4 L442.7,803.7 L443.2,805.1 L443.6,806.4 L444.1,807.8 L444.5,809.1 L444.9,810.5 L445.3,811.9 L445.7,813.3 Z M436.5,817.2 L436.8,818.3 L437.1,819.4 L437.4,820.6 L437.6,821.7 L437.9,822.8 L438.1,823.9 L438.3,825.1 L438.5,826.2 L438.7,827.3 L438.9,828.4 L439.1,829.6 L439.2,830.7 L439.4,831.8 L439.5,832.9 L439.6,834.1 L439.7,835.2 L439.8,836.3 L439.9,837.4 L439.9,838.5 L440.0,839.7 L440.0,840.8 L440.0,841.9 L440.1,843.0 L440.1,844.1 L440.0,845.1 L440.0,846.2 L440.0,847.3 L439.9,848.4 L439.9,849.4 L439.8,850.5 L439.7,851.6 L439.6,852.6 L439.5,853.6 L439.3,854.7 L439.2,855.7 L439.0,856.7 L438.8,857.7 L438.7,858.7 L438.5,859.7 L438.3,860.7 L438.0,861.6 L437.8,862.6 L437.6,863.5 L437.3,864.5 L437.0,865.4 L436.7,866.3 L436.4,867.2 L436.1,868.1 L435.8,869.0 L435.5,869.8 L435.1,870.7 L434.8,871.5 L434.4,872.3 L434.1,873.2 L433.7,873.9 L433.3,874.7 L432.9,875.5 L432.4,876.3 L432.0,877.0 L431.6,877.7 L431.1,878.4 L430.6,879.1 L430.2,879.8 L429.7,880.5 L429.2,881.1 L428.7,881.7 L428.2,882.3 L427.6,882.9 L427.1,883.5 L426.6,884.1 L426.0,884.6 L425.5,885.2 L424.9,885.7 L424.3,886.2 L423.7,886.6 L423.1,887.1 L422.5,887.5 L421.9,888.0 L421.3,888.4 L420.7,888.7 L420.1,889.1 L419.4,889.5 L418.8,889.8 L418.1,890.1 L417.5,890.4 L416.8,890.7 L416.1,890.9 L415.5,891.1 L414.8,891.4 L414.1,891.6 L413.4,891.7 L412.7,891.9 L412.0,892.0 L411.3,892.1 L410.6,892.2 L409.9,892.3 L409.1,892.4 L408.4,892.4 L407.7,892.4 L407.0,892.4 L406.2,892.4 L405.5,892.4 L404.8,892.3 L404.0,892.2 L403.3,892.1 L402.5,892.0 L401.8,891.9 L401.0,891.7 L400.3,891.5 L399.5,891.3 L398.8,891.1 L398.0,890.9 L397.3,890.6 L396.5,890.3 L395.8,890.1 L395.0,889.7 L394.3,889.4 L393.5,889.1 L392.8,888.7 L392.0,888.3 L391.3,887.9 L390.5,887.5 L389.8,887.0 L389.1,886.6 L388.3,886.1 L387.6,885.6 L386.9,885.1 L386.1,884.6 L385.4,884.0 L384.7,883.4 L384.0,882.9 L383.2,882.3 L382.5,881.6 L381.8,881.0 L381.1,880.4 L380.4,879.7 L379.7,879.0 L379.1,878.3 L378.4,877.6 L377.7,876.9 L377.0,876.2 L376.4,875.4 L375.7,874.6 L375.1,873.8 L374.4,873.0 L373.8,872.2 L373.2,871.4 L372.5,870.6 L371.9,869.7 L371.3,868.8 L370.7,868.0 L370.1,867.1 L369.5,866.2 L369.0,865.3 L368.4,864.3 L367.8,863.4 L367.3,862.5 L366.8,861.5 L366.2,860.5 L365.7,859.6 L365.2,858.6 L364.7,857.6 L364.2,856.6 L363.7,855.6 L363.2,854.5 L362.8,853.5 L362.3,852.5 L361.9,851.4 L361.5,850.4 L361.0,849.3 L360.6,848.2 L360.2,847.2 L359.9,846.1 L359.5,845.0 L359.1,843.9 L358.8,842.8 L358.4,841.7 L358.1,840.6 L357.8,839.5 L357.5,838.4 L357.2,837.3 L356.9,836.2 L356.6,835.0 L356.4,833.9 L356.1,832.8 L355.9,831.7 L355.7,830.5 L355.5,829.4 L355.3,828.3 L355.1,827.2 L354.9,826.0 L354.8,824.9 L354.6,823.8 L354.5,822.7 L354.4,821.5 L354.3,820.4 L354.2,819.3 L354.1,818.2 L354.1,817.1 L354.0,815.9 L354.0,814.8 L354.0,813.7 L353.9,812.6 L353.9,811.5 L354.0,810.5 L354.0,809.4 L354.0,808.3 L354.1,807.2 L354.1,806.2 L354.2,805.1 L354.3,804.0 L354.4,803.0 L354.5,802.0 L354.7,800.9 L354.8,799.9 L355.0,798.9 L355.2,797.9 L355.3,796.9 L355.5,795.9 L355.7,794.9 L356.0,794.0 L356.2,793.0 L356.4,792.1 L356.7,791.1 L357.0,790.2 L357.3,789.3 L357.6,788.4 L357.9,787.5 L358.2,786.6 L358.5,785.8 L358.9,784.9 L359.2,784.1 L359.6,783.3 L359.9,782.4 L360.3,781.7 L360.7,780.9 L361.1,780.1 L361.6,779.3 L362.0,778.6 L362.4,777.9 L362.9,777.2 L363.4,776.5 L363.8,775.8 L364.3,775.1 L364.8,774.5 L365.3,773.9 L365.8,773.3 L366.4,772.7 L366.9,772.1 L367.4,771.5 L368.0,771.0 L368.5,770.4 L369.1,769.9 L369.7,769.4 L370.3,769.0 L370.9,768.5 L371.5,768.1 L372.1,767.6 L372.7,767.2 L373.3,766.9 L373.9,766.5 L374.6,766.1 L375.2,765.8 L375.9,765.5 L376.5,765.2 L377.2,764.9 L377.9,764.7 L378.5,764.5 L379.2,764.2 L379.9,764.0 L380.6,763.9 L381.3,763.7 L382.0,763.6 L382.7,763.5 L383.4,763.4 L384.1,763.3 L384.9,763.2 L385.6,763.2 L386.3,763.2 L387.0,763.2 L387.8,763.2 L388.5,763.2 L389.2,763.3 L390.0,763.4 L390.7,763.5 L391.5,763.6 L392.2,763.7 L393.0,763.9 L393.7,764.1 L394.5,764.3 L395.2,764.5 L396.0,764.7 L396.7,765.0 L397.5,765.3 L398.2,765.5 L399.0,765.9 L399.7,766.2 L400.5,766.5 L401.2,766.9 L402.0,767.3 L402.7,767.7 L403.5,768.1 L404.2,768.6 L404.9,769.0 L405.7,769.5 L406.4,770.0 L407.1,770.5 L407.9,771.0 L408.6,771.6 L409.3,772.2 L410.0,772.7 L410.8,773.3 L411.5,774.0 L412.2,774.6 L412.9,775.2 L413.6,775.9 L414.3,776.6 L414.9,777.3 L415.6,778.0 L416.3,778.7 L417.0,779.4 L417.6,780.2 L418.3,781.0 L418.9,781.8 L419.6,782.6 L420.2,783.4 L420.8,784.2 L421.5,785.0 L422.1,785.9 L422.7,786.8 L423.3,787.6 L423.9,788.5 L424.5,789.4 L425.0,790.3 L425.6,791.3 L426.2,792.2 L426.7,793.1 L427.2,794.1 L427.8,795.1 L428.3,796.0 L428.8,797.0 L429.3,798.0 L429.8,799.0 L430.3,800.0 L430.8,801.1 L431.2,802.1 L431.7,803.1 L432.1,804.2 L432.5,805.2 L433.0,806.3 L433.4,807.4 L433.8,808.4 L434.1,809.5 L434.5,810.6 L434.9,811.7 L435.2,812.8 L435.6,813.9 L435.9,815.0 L436.2,816.1 Z" fill="#fff" fill-rule="evenodd" stroke-width="1.5"/>
<path d="M414.2,823.6 L414.6,825.0 L414.9,826.3 L415.2,827.7 L415.5,829.0 L415.8,830.3 L416.1,831.7 L416.3,833.0 L416.6,834.4 L416.8,835.7 L417.0,837.1 L417.2,838.4 L417.4,839.8 L417.6,841.1 L417.7,842.5 L417.9,843.8 L418.0,845.2 L418.1,846.5 L418.2,847.8 L418.3,849.2 L418.3,850.5 L418.4,851.8 L418.4,853.2 L418.4,854.5 L418.4,855.8 L418.4,857.1 L418.4,858.4 L418.3,859.7 L418.3,861.0 L418.2,862.2 L418.1,863.5 L418.0,864.8 L417.9,866.0 L417.7,867.3 L417.6,868.5 L417.4,869.7 L417.2,870.9 L417.0,872.1 L416.8,873.3 L416.5,874.5 L416.3,875.7 L416.0,876.8 L415.7,878.0 L415.4,879.1 L415.1,880.2 L414.8,881.3 L414.5,882.4 L414.1,883.5 L413.7,884.5 L413.4,885.6 L413.0,886.6 L412.6,887.6 L412.1,888.7 L411.7,889.6 L411.2,890.6 L410.8,891.6 L410.3,892.5 L409.8,893.4 L409.3,894.3 L408.8,895.2 L408.3,896.1 L407.7,896.9 L407.2,897.7 L406.6,898.6 L406.0,899.4 L405.4,900.1 L404.8,900.9 L404.2,901.6 L403.6,902.3 L402.9,903.0 L402.3,903.7 L401.6,904.3 L401.0,905.0 L400.3,905.6 L399.6,906.2 L398.9,906.8 L398.2,907.3 L397.5,907.8 L396.7,908.3 L396.0,908.8 L395.2,909.3 L394.5,909.7 L393.7,910.1 L393.0,910.5 L392.2,910.9 L391.4,911.2 L390.6,911.6 L389.8,911.9 L389.0,912.1 L388.2,912.4 L387.3,912.6 L386.5,912.8 L385.7,913.0 L384.8,913.2 L384.0,913.3 L383.1,913.4 L382.3,913.5 L381.4,913.6 L380.6,913.7 L379.7,913.7 L378.8,913.7 L377.9,913.6 L377.1,913.6 L376.2,913.5 L375.3,913.4 L374.4,913.3 L373.5,913.2 L372.6,913.0 L371.7,912.8 L370.8,912.6 L369.9,912.4 L369.0,912.1 L368.1,911.8 L367.2,911.5 L366.3,911.2 L365.4,910.8 L364.5,910.5 L363.6,910.1 L362.7,909.7 L361.8,909.2 L360.9,908.7 L360.1,908.3 L359.2,907.8 L358.3,907.2 L357.4,906.7 L356.5,906.1 L355.6,905.5 L354.8,904.9 L353.9,904.3 L353.0,903.6 L352.1,902.9 L351.3,902.2 L350.4,901.5 L349.6,900.8 L348.7,900.0 L347.9,899.2 L347.1,898.5 L346.2,897.6 L345.4,896.8 L344.6,896.0 L343.8,895.1 L343.0,894.2 L342.2,893.3 L341.4,892.4 L340.6,891.4 L339.9,890.5 L339.1,889.5 L338.4,888.5 L337.6,887.5 L336.9,886.5 L336.1,885.5 L335.4,884.4 L334.7,883.3 L334.0,882.3 L333.3,881.2 L332.7,880.1 L332.0,878.9 L331.3,877.8 L330.7,876.7 L330.1,875.5 L329.4,874.3 L328.8,873.2 L328.2,872.0 L327.6,870.8 L327.1,869.5 L326.5,868.3 L325.9,867.1 L325.4,865.8 L324.9,864.6 L324.4,863.3 L323.9,862.1 L323.4,860.8 L322.9,859.5 L322.4,858.2 L322.0,856.9 L321.5,855.6 L321.1,854.3 L320.7,853.0 L320.3,851.7 L320.0,850.3 L319.6,849.0 L319.2,847.7 L318.9,846.3 L318.6,845.0 L318.3,843.6 L318.0,842.3 L317.7,841.0 L317.4,839.6 L317.2,838.3 L317.0,836.9 L316.8,835.6 L316.6,834.2 L316.4,832.9 L316.2,831.5 L316.0,830.2 L315.9,828.8 L315.8,827.5 L315.7,826.1 L315.6,824.8 L315.5,823.5 L315.4,822.1 L315.4,820.8 L315.4,819.5 L315.4,818.2 L315.4,816.9 L315.4,815.6 L315.4,814.3 L315.5,813.0 L315.5,811.7 L315.6,810.4 L315.7,809.1 L315.8,807.9 L315.9,806.6 L316.1,805.4 L316.2,804.2 L316.4,802.9 L316.6,801.7 L316.8,800.5 L317.0,799.3 L317.3,798.2 L317.5,797.0 L317.8,795.8 L318.1,794.7 L318.4,793.6 L318.7,792.4 L319.0,791.3 L319.3,790.2 L319.7,789.2 L320.0,788.1 L320.4,787.0 L320.8,786.0 L321.2,785.0 L321.7,784.0 L322.1,783.0 L322.5,782.0 L323.0,781.1 L323.5,780.2 L324.0,779.2 L324.5,778.3 L325.0,777.4 L325.5,776.6 L326.1,775.7 L326.6,774.9 L327.2,774.1 L327.8,773.3 L328.4,772.5 L329.0,771.8 L329.6,771.0 L330.2,770.3 L330.9,769.6 L331.5,769.0 L332.2,768.3 L332.8,767.7 L333.5,767.1 L334.2,766.5 L334.9,765.9 L335.6,765.3 L336.3,764.8 L337.1,764.3 L337.8,763.8 L338.5,763.4 L339.3,762.9 L340.1,762.5 L340.8,762.1 L341.6,761.8 L342.4,761.4 L343.2,761.1 L344.0,760.8 L344.8,760.5 L345.6,760.2 L346.5,760.0 L347.3,759.8 L348.1,759.6 L349.0,759.5 L349.8,759.3 L350.7,759.2 L351.5,759.1 L352.4,759.0 L353.2,759.0 L354.1,759.0 L355.0,759.0 L355.9,759.0 L356.7,759.0 L357.6,759.1 L358.5,759.2 L359.4,759.3 L360.3,759.5 L361.2,759.6 L362.1,759.8 L363.0,760.0 L363.9,760.3 L364.8,760.5 L365.7,760.8 L366.6,761.1 L367.5,761.5 L368.4,761.8 L369.3,762.2 L370.2,762.6 L371.1,763.0 L372.0,763.4 L372.8,763.9 L373.7,764.4 L374.6,764.9 L375.5,765.4 L376.4,766.0 L377.3,766.5 L378.2,767.1 L379.0,767.8 L379.9,768.4 L380.8,769.0 L381.6,769.7 L382.5,770.4 L383.4,771.1 L384.2,771.9 L385.1,772.6 L385.9,773.4 L386.7,774.2 L387.6,775.0 L388.4,775.8 L389.2,776.7 L390.0,777.6 L390.8,778.4 L391.6,779.4 L392.4,780.3 L393.2,781.2 L393.9,782.2 L394.7,783.1 L395.4,784.1 L396.2,785.1 L396.9,786.2 L397.6,787.2 L398.4,788.2 L399.1,789.3 L399.8,790.4 L400.5,791.5 L401.1,792.6 L401.8,793.7 L402.5,794.8 L403.1,796.0 L403.7,797.1 L404.4,798.3 L405.0,799.5 L405.6,800.7 L406.2,801.9 L406.7,803.1 L407.3,804.3 L407.9,805.6 L408.4,806.8 L408.9,808.1 L409.4,809.3 L409.9,810.6 L410.4,811.9 L410.9,813.1 L411.4,814.4 L411.8,815.7 L412.2,817.0 L412.7,818.4 L413.1,819.7 L413.5,821.0 L413.8,822.3 Z M406.4,825.7 L406.7,826.8 L407.0,828.0 L405.4,829.4 L405.7,830.5 L405.9,831.6 L406.1,832.6 L408.2,833.6 L408.4,834.7 L408.6,835.8 L408.8,837.0 L407.0,838.0 L407.2,839.1 L407.3,840.2 L407.5,841.2 L409.5,842.6 L409.6,843.7 L409.7,844.8 L409.8,846.0 L407.9,846.6 L407.9,847.6 L408.0,848.7 L408.0,849.7 L410.0,851.5 L410.0,852.6 L409.9,853.7 L409.9,854.8 L407.9,854.9 L407.9,856.0 L407.8,857.0 L407.7,858.0 L409.6,860.1 L409.5,861.1 L409.4,862.2 L409.2,863.2 L407.2,862.9 L407.0,863.9 L406.8,864.9 L406.7,865.8 L408.4,868.2 L408.2,869.2 L407.9,870.2 L407.7,871.1 L405.6,870.4 L405.4,871.3 L405.1,872.2 L404.8,873.1 L404.6,873.9 L406.0,876.6 L405.7,877.5 L405.4,878.4 L405.0,879.2 L403.0,878.1 L402.6,878.8 L402.3,879.6 L401.9,880.4 L403.2,883.3 L402.8,884.0 L402.3,884.8 L401.9,885.5 L399.9,884.0 L399.5,884.6 L399.0,885.3 L398.6,886.0 L399.6,889.0 L399.1,889.6 L398.6,890.3 L398.1,890.9 L396.1,889.0 L395.6,889.5 L395.1,890.0 L394.6,890.6 L395.4,893.7 L394.8,894.2 L394.2,894.7 L393.6,895.2 L391.8,892.9 L391.3,893.3 L390.7,893.7 L390.1,894.1 L390.6,897.3 L390.0,897.6 L389.3,898.0 L388.7,898.3 L387.1,895.8 L386.4,896.1 L385.8,896.3 L385.2,896.6 L385.3,899.7 L384.7,899.9 L384.0,900.1 L383.3,900.2 L382.6,900.4 L381.2,897.6 L380.5,897.7 L379.9,897.8 L379.2,897.9 L379.0,900.9 L378.3,900.9 L377.6,900.9 L376.9,900.9 L375.7,898.0 L375.0,897.9 L374.3,897.9 L373.6,897.8 L373.2,900.6 L372.4,900.5 L371.7,900.4 L370.9,900.2 L370.0,897.2 L369.3,897.0 L368.6,896.8 L367.9,896.5 L367.2,899.1 L366.4,898.9 L365.7,898.6 L364.9,898.3 L364.3,895.1 L363.6,894.8 L362.9,894.4 L362.2,894.1 L361.2,896.4 L360.4,896.0 L359.7,895.6 L359.0,895.1 L358.6,892.0 L357.9,891.5 L357.2,891.0 L356.5,890.5 L355.3,892.5 L354.6,892.0 L353.9,891.4 L353.1,890.8 L353.1,887.7 L352.4,887.1 L351.7,886.5 L351.1,885.9 L350.4,885.2 L349.0,886.9 L348.3,886.1 L347.6,885.4 L346.9,884.7 L347.2,881.8 L346.6,881.0 L346.0,880.3 L345.3,879.5 L343.7,880.8 L343.1,879.9 L342.4,879.1 L341.8,878.2 L342.4,875.5 L341.8,874.7 L341.2,873.8 L340.7,873.0 L338.9,873.8 L338.3,872.9 L337.7,871.9 L337.2,871.0 L338.0,868.5 L337.5,867.6 L337.0,866.6 L336.5,865.7 L334.6,866.1 L334.1,865.1 L333.6,864.1 L333.1,863.1 L334.2,860.9 L333.8,859.9 L333.4,858.9 L333.0,857.9 L330.9,857.8 L330.5,856.8 L330.1,855.7 L329.7,854.6 L331.1,852.7 L330.7,851.7 L330.4,850.7 L330.1,849.6 L328.0,849.1 L327.7,848.0 L327.4,846.9 L327.1,845.8 L326.8,844.7 L328.4,843.2 L328.1,842.2 L327.9,841.1 L327.7,840.0 L325.6,839.1 L325.4,837.9 L325.2,836.8 L325.0,835.7 L326.8,834.6 L326.6,833.6 L326.5,832.5 L326.3,831.4 L324.3,830.1 L324.2,828.9 L324.1,827.8 L324.0,826.7 L325.9,826.1 L325.9,825.0 L325.8,824.0 L325.8,822.9 L323.8,821.2 L323.8,820.1 L323.9,819.0 L323.9,817.9 L325.9,817.7 L325.9,816.7 L326.0,815.7 L326.1,814.7 L324.2,812.6 L324.3,811.5 L324.4,810.5 L324.6,809.5 L326.6,809.7 L326.8,808.7 L327.0,807.8 L327.1,806.8 L325.4,804.4 L325.6,803.5 L325.9,802.5 L326.1,801.5 L328.2,802.2 L328.4,801.3 L328.7,800.4 L329.0,799.6 L329.2,798.7 L327.8,796.0 L328.1,795.2 L328.4,794.3 L328.7,793.4 L330.8,794.6 L331.2,793.8 L331.5,793.0 L331.9,792.3 L330.6,789.4 L331.0,788.6 L331.5,787.9 L331.9,787.1 L333.9,788.7 L334.3,788.0 L334.8,787.3 L335.2,786.7 L334.2,783.7 L334.7,783.0 L335.2,782.4 L335.7,781.8 L337.6,783.7 L338.2,783.1 L338.7,782.6 L339.2,782.1 L338.4,779.0 L339.0,778.5 L339.6,778.0 L340.2,777.5 L341.9,779.7 L342.5,779.3 L343.1,778.9 L343.7,778.5 L343.2,775.4 L343.8,775.0 L344.5,774.7 L345.1,774.3 L346.7,776.9 L347.4,776.6 L348.0,776.3 L348.6,776.1 L348.4,773.0 L349.1,772.8 L349.8,772.6 L350.5,772.4 L351.2,772.2 L352.6,775.0 L353.3,774.9 L353.9,774.8 L354.6,774.7 L354.8,771.8 L355.5,771.7 L356.2,771.7 L356.9,771.7 L358.1,774.7 L358.8,774.7 L359.5,774.8 L360.2,774.8 L360.6,772.0 L361.4,772.1 L362.1,772.3 L362.9,772.4 L363.8,775.5 L364.5,775.7 L365.2,775.9 L365.9,776.1 L366.6,773.5 L367.4,773.8 L368.1,774.1 L368.9,774.4 L369.5,777.5 L370.2,777.8 L370.9,778.2 L371.6,778.6 L372.6,776.2 L373.4,776.6 L374.1,777.1 L374.8,777.5 L375.2,780.7 L375.9,781.1 L376.6,781.6 L377.3,782.1 L378.5,780.1 L379.2,780.7 L379.9,781.3 L380.7,781.9 L380.7,784.9 L381.4,785.5 L382.0,786.1 L382.7,786.8 L383.4,787.4 L384.8,785.8 L385.5,786.5 L386.2,787.2 L386.9,788.0 L386.6,790.9 L387.2,791.6 L387.8,792.4 L388.5,793.1 L390.1,791.9 L390.7,792.7 L391.4,793.6 L392.0,794.4 L391.4,797.1 L392.0,798.0 L392.6,798.8 L393.1,799.7 L394.9,798.9 L395.5,799.8 L396.1,800.7 L396.6,801.7 L395.8,804.2 L396.3,805.1 L396.8,806.0 L397.3,807.0 L399.2,806.6 L399.7,807.6 L400.2,808.6 L400.7,809.6 L399.6,811.8 L400.0,812.8 L400.4,813.8 L400.8,814.8 L402.9,814.8 L403.3,815.9 L403.7,817.0 L404.0,818.0 L402.7,819.9 L403.1,820.9 L403.4,822.0 L403.7,823.0 L405.8,823.5 L406.1,824.6 Z" fill="#fff" fill-rule="evenodd" stroke-width="1.5"/>
<path d="M411.3,824.4 L411.7,825.8 L412.0,827.1 L412.3,828.4 L412.6,829.8 L412.9,831.1 L413.2,832.5 L413.5,833.8 L413.7,835.2 L413.9,836.5 L414.1,837.9 L414.3,839.2 L414.5,840.6 L414.7,841.9 L414.9,843.3 L415.0,844.6 L415.1,845.9 L415.2,847.3 L415.3,848.6 L415.4,850.0 L415.5,851.3 L415.5,852.6 L415.5,853.9 L415.5,855.2 L415.5,856.6 L415.5,857.9 L415.5,859.2 L415.4,860.4 L415.4,861.7 L415.3,863.0 L415.2,864.3 L415.1,865.5 L415.0,866.8 L414.8,868.0 L414.7,869.3 L414.5,870.5 L414.3,871.7 L414.1,872.9 L413.9,874.1 L413.6,875.3 L413.4,876.4 L413.1,877.6 L412.8,878.7 L412.5,879.9 L412.2,881.0 L411.9,882.1 L411.6,883.2 L411.2,884.3 L410.9,885.3 L410.5,886.4 L410.1,887.4 L409.7,888.4 L409.2,889.4 L408.8,890.4 L408.4,891.4 L407.9,892.3 L407.4,893.3 L406.9,894.2 L406.4,895.1 L405.9,896.0 L405.4,896.8 L404.8,897.7 L404.3,898.5 L403.7,899.3 L403.1,900.1 L402.5,900.9 L401.9,901.7 L401.3,902.4 L400.7,903.1 L400.0,903.8 L399.4,904.5 L398.7,905.1 L398.1,905.8 L397.4,906.4 L396.7,907.0 L396.0,907.5 L395.3,908.1 L394.6,908.6 L393.8,909.1 L393.1,909.6 L392.4,910.0 L391.6,910.5 L390.8,910.9 L390.1,911.3 L389.3,911.7 L388.5,912.0 L387.7,912.3 L386.9,912.6 L386.1,912.9 L385.3,913.2 L384.4,913.4 L383.6,913.6 L382.8,913.8 L381.9,914.0 L381.1,914.1 L380.2,914.2 L379.4,914.3 L378.5,914.4 L377.7,914.4 L376.8,914.5 L375.9,914.5 L375.0,914.4 L374.2,914.4 L373.3,914.3 L372.4,914.2 L371.5,914.1 L370.6,913.9 L369.7,913.8 L368.8,913.6 L367.9,913.4 L367.0,913.1 L366.1,912.9 L365.2,912.6 L364.3,912.3 L363.4,912.0 L362.5,911.6 L361.6,911.2 L360.7,910.8 L359.8,910.4 L358.9,910.0 L358.1,909.5 L357.2,909.0 L356.3,908.5 L355.4,908.0 L354.5,907.5 L353.6,906.9 L352.7,906.3 L351.9,905.7 L351.0,905.0 L350.1,904.4 L349.3,903.7 L348.4,903.0 L347.5,902.3 L346.7,901.6 L345.8,900.8 L345.0,900.0 L344.2,899.2 L343.3,898.4 L342.5,897.6 L341.7,896.7 L340.9,895.9 L340.1,895.0 L339.3,894.1 L338.5,893.1 L337.7,892.2 L337.0,891.3 L336.2,890.3 L335.5,889.3 L334.7,888.3 L334.0,887.3 L333.3,886.2 L332.5,885.2 L331.8,884.1 L331.1,883.0 L330.4,881.9 L329.8,880.8 L329.1,879.7 L328.4,878.6 L327.8,877.4 L327.2,876.3 L326.5,875.1 L325.9,873.9 L325.3,872.7 L324.7,871.5 L324.2,870.3 L323.6,869.1 L323.0,867.9 L322.5,866.6 L322.0,865.4 L321.5,864.1 L321.0,862.8 L320.5,861.6 L320.0,860.3 L319.5,859.0 L319.1,857.7 L318.7,856.4 L318.2,855.1 L317.8,853.8 L317.4,852.4 L317.1,851.1 L316.7,849.8 L316.3,848.4 L316.0,847.1 L315.7,845.8 L315.4,844.4 L315.1,843.1 L314.8,841.7 L314.5,840.4 L314.3,839.0 L314.1,837.7 L313.9,836.3 L313.7,835.0 L313.5,833.6 L313.3,832.3 L313.1,830.9 L313.0,829.6 L312.9,828.3 L312.8,826.9 L312.7,825.6 L312.6,824.2 L312.5,822.9 L312.5,821.6 L312.5,820.3 L312.5,819.0 L312.5,817.6 L312.5,816.3 L312.5,815.0 L312.6,813.8 L312.6,812.5 L312.7,811.2 L312.8,809.9 L312.9,808.7 L313.0,807.4 L313.2,806.2 L313.3,804.9 L313.5,803.7 L313.7,802.5 L313.9,801.3 L314.1,800.1 L314.4,798.9 L314.6,797.8 L314.9,796.6 L315.2,795.5 L315.5,794.3 L315.8,793.2 L316.1,792.1 L316.4,791.0 L316.8,789.9 L317.1,788.9 L317.5,787.8 L317.9,786.8 L318.3,785.8 L318.8,784.8 L319.2,783.8 L319.6,782.8 L320.1,781.9 L320.6,780.9 L321.1,780.0 L321.6,779.1 L322.1,778.2 L322.6,777.4 L323.2,776.5 L323.7,775.7 L324.3,774.9 L324.9,774.1 L325.5,773.3 L326.1,772.5 L326.7,771.8 L327.3,771.1 L328.0,770.4 L328.6,769.7 L329.3,769.1 L329.9,768.4 L330.6,767.8 L331.3,767.2 L332.0,766.7 L332.7,766.1 L333.4,765.6 L334.2,765.1 L334.9,764.6 L335.6,764.2 L336.4,763.7 L337.2,763.3 L337.9,762.9 L338.7,762.5 L339.5,762.2 L340.3,761.9 L341.1,761.6 L341.9,761.3 L342.7,761.0 L343.6,760.8 L344.4,760.6 L345.2,760.4 L346.1,760.2 L346.9,760.1 L347.8,760.0 L348.6,759.9 L349.5,759.8 L350.3,759.8 L351.2,759.7 L352.1,759.7 L353.0,759.8 L353.8,759.8 L354.7,759.9 L355.6,760.0 L356.5,760.1 L357.4,760.3 L358.3,760.4 L359.2,760.6 L360.1,760.8 L361.0,761.1 L361.9,761.3 L362.8,761.6 L363.7,761.9 L364.6,762.2 L365.5,762.6 L366.4,763.0 L367.3,763.4 L368.2,763.8 L369.1,764.2 L369.9,764.7 L370.8,765.2 L371.7,765.7 L372.6,766.2 L373.5,766.7 L374.4,767.3 L375.3,767.9 L376.1,768.5 L377.0,769.2 L377.9,769.8 L378.7,770.5 L379.6,771.2 L380.5,771.9 L381.3,772.6 L382.2,773.4 L383.0,774.2 L383.8,775.0 L384.7,775.8 L385.5,776.6 L386.3,777.5 L387.1,778.3 L387.9,779.2 L388.7,780.1 L389.5,781.1 L390.3,782.0 L391.0,782.9 L391.8,783.9 L392.5,784.9 L393.3,785.9 L394.0,786.9 L394.7,788.0 L395.5,789.0 L396.2,790.1 L396.9,791.2 L397.6,792.3 L398.2,793.4 L398.9,794.5 L399.6,795.6 L400.2,796.8 L400.8,797.9 L401.5,799.1 L402.1,800.3 L402.7,801.5 L403.3,802.7 L403.8,803.9 L404.4,805.1 L405.0,806.3 L405.5,807.6 L406.0,808.8 L406.5,810.1 L407.0,811.4 L407.5,812.6 L408.0,813.9 L408.5,815.2 L408.9,816.5 L409.3,817.8 L409.8,819.1 L410.2,820.4 L410.6,821.8 L410.9,823.1 Z M403.5,826.5 L403.8,827.6 L404.1,828.7 L402.5,830.2 L402.8,831.3 L403.0,832.3 L403.2,833.4 L405.3,834.4 L405.5,835.5 L405.7,836.6 L405.9,837.7 L404.1,838.8 L404.3,839.9 L404.4,840.9 L404.6,842.0 L406.6,843.4 L406.7,844.5 L406.8,845.6 L406.9,846.7 L405.0,847.4 L405.0,848.4 L405.1,849.5 L405.1,850.5 L407.1,852.3 L407.1,853.4 L407.0,854.4 L407.0,855.5 L405.0,855.7 L405.0,856.7 L404.9,857.8 L404.8,858.8 L406.7,860.9 L406.6,861.9 L406.5,862.9 L406.3,864.0 L404.3,863.7 L404.1,864.7 L403.9,865.6 L403.8,866.6 L405.5,869.0 L405.3,870.0 L405.0,870.9 L404.8,871.9 L402.7,871.2 L402.5,872.1 L402.2,873.0 L401.9,873.9 L401.7,874.7 L403.1,877.4 L402.8,878.3 L402.5,879.1 L402.1,880.0 L400.1,878.8 L399.7,879.6 L399.4,880.4 L399.0,881.1 L400.3,884.0 L399.9,884.8 L399.4,885.6 L399.0,886.3 L397.0,884.7 L396.6,885.4 L396.1,886.1 L395.7,886.7 L396.7,889.8 L396.2,890.4 L395.7,891.0 L395.2,891.6 L393.3,889.7 L392.7,890.3 L392.2,890.8 L391.7,891.3 L392.5,894.5 L391.9,895.0 L391.3,895.5 L390.7,895.9 L388.9,893.7 L388.4,894.1 L387.8,894.5 L387.2,894.9 L387.7,898.0 L387.1,898.4 L386.4,898.8 L385.8,899.1 L384.2,896.6 L383.5,896.8 L382.9,897.1 L382.3,897.3 L382.5,900.4 L381.8,900.7 L381.1,900.9 L380.4,901.0 L379.7,901.2 L378.3,898.4 L377.6,898.5 L377.0,898.6 L376.3,898.7 L376.1,901.7 L375.4,901.7 L374.7,901.7 L374.0,901.7 L372.8,898.8 L372.1,898.7 L371.4,898.7 L370.7,898.6 L370.3,901.4 L369.5,901.3 L368.8,901.2 L368.0,901.0 L367.1,897.9 L366.4,897.7 L365.7,897.5 L365.0,897.3 L364.3,899.9 L363.5,899.6 L362.8,899.4 L362.0,899.0 L361.4,895.9 L360.7,895.6 L360.0,895.2 L359.3,894.9 L358.3,897.2 L357.5,896.8 L356.8,896.3 L356.1,895.9 L355.7,892.7 L355.0,892.3 L354.3,891.8 L353.6,891.3 L352.4,893.3 L351.7,892.7 L351.0,892.2 L350.2,891.6 L350.2,888.5 L349.5,887.9 L348.9,887.3 L348.2,886.6 L347.5,886.0 L346.1,887.6 L345.4,886.9 L344.7,886.2 L344.0,885.5 L344.3,882.5 L343.7,881.8 L343.1,881.0 L342.4,880.3 L340.8,881.5 L340.2,880.7 L339.5,879.9 L338.9,879.0 L339.5,876.3 L338.9,875.4 L338.3,874.6 L337.8,873.7 L336.0,874.6 L335.4,873.6 L334.8,872.7 L334.3,871.8 L335.1,869.3 L334.6,868.3 L334.1,867.4 L333.6,866.5 L331.7,866.9 L331.2,865.9 L330.7,864.9 L330.2,863.8 L331.3,861.6 L330.9,860.6 L330.5,859.6 L330.1,858.6 L328.0,858.6 L327.6,857.5 L327.2,856.5 L326.9,855.4 L328.2,853.5 L327.8,852.5 L327.5,851.4 L327.2,850.4 L325.1,849.9 L324.8,848.8 L324.5,847.7 L324.2,846.6 L323.9,845.5 L325.5,844.0 L325.2,842.9 L325.0,841.9 L324.8,840.8 L322.7,839.8 L322.5,838.7 L322.3,837.6 L322.1,836.5 L323.9,835.4 L323.7,834.3 L323.6,833.3 L323.4,832.2 L321.4,830.8 L321.3,829.7 L321.2,828.6 L321.1,827.5 L323.0,826.8 L323.0,825.8 L322.9,824.7 L322.9,823.7 L320.9,821.9 L320.9,820.8 L321.0,819.8 L321.0,818.7 L323.0,818.5 L323.0,817.5 L323.1,816.4 L323.2,815.4 L321.3,813.3 L321.4,812.3 L321.5,811.3 L321.7,810.2 L323.7,810.5 L323.9,809.5 L324.1,808.6 L324.2,807.6 L322.5,805.2 L322.7,804.2 L323.0,803.3 L323.2,802.3 L325.3,803.0 L325.5,802.1 L325.8,801.2 L326.1,800.3 L326.3,799.5 L324.9,796.8 L325.2,795.9 L325.5,795.1 L325.9,794.2 L327.9,795.4 L328.3,794.6 L328.6,793.8 L329.0,793.1 L327.7,790.2 L328.1,789.4 L328.6,788.6 L329.0,787.9 L331.0,789.5 L331.4,788.8 L331.9,788.1 L332.3,787.5 L331.3,784.4 L331.8,783.8 L332.3,783.2 L332.8,782.6 L334.7,784.5 L335.3,783.9 L335.8,783.4 L336.3,782.9 L335.5,779.7 L336.1,779.2 L336.7,778.7 L337.3,778.3 L339.1,780.5 L339.6,780.1 L340.2,779.7 L340.8,779.3 L340.3,776.2 L340.9,775.8 L341.6,775.4 L342.2,775.1 L343.8,777.6 L344.5,777.4 L345.1,777.1 L345.7,776.9 L345.5,773.8 L346.2,773.5 L346.9,773.3 L347.6,773.2 L348.3,773.0 L349.7,775.8 L350.4,775.7 L351.0,775.6 L351.7,775.5 L351.9,772.5 L352.6,772.5 L353.3,772.5 L354.0,772.5 L355.2,775.4 L355.9,775.5 L356.6,775.5 L357.3,775.6 L357.7,772.8 L358.5,772.9 L359.2,773.0 L360.0,773.2 L360.9,776.3 L361.6,776.5 L362.3,776.7 L363.0,776.9 L363.7,774.3 L364.5,774.6 L365.2,774.8 L366.0,775.2 L366.6,778.3 L367.3,778.6 L368.0,779.0 L368.7,779.3 L369.7,777.0 L370.5,777.4 L371.2,777.9 L371.9,778.3 L372.3,781.5 L373.0,781.9 L373.7,782.4 L374.4,782.9 L375.6,780.9 L376.3,781.5 L377.0,782.0 L377.8,782.6 L377.8,785.7 L378.5,786.3 L379.1,786.9 L379.8,787.6 L380.5,788.2 L381.9,786.6 L382.6,787.3 L383.3,788.0 L384.0,788.7 L383.7,791.7 L384.3,792.4 L384.9,793.2 L385.6,793.9 L387.2,792.7 L387.8,793.5 L388.5,794.3 L389.1,795.2 L388.5,797.9 L389.1,798.8 L389.7,799.6 L390.2,800.5 L392.0,799.6 L392.6,800.6 L393.2,801.5 L393.7,802.4 L392.9,804.9 L393.4,805.9 L393.9,806.8 L394.4,807.7 L396.3,807.3 L396.8,808.3 L397.3,809.3 L397.8,810.4 L396.7,812.6 L397.1,813.6 L397.5,814.6 L397.9,815.6 L400.0,815.6 L400.4,816.7 L400.8,817.7 L401.1,818.8 L399.8,820.7 L400.2,821.7 L400.5,822.8 L400.8,823.8 L402.9,824.3 L403.2,825.4 Z" fill="#fff" fill-rule="evenodd" stroke-width="1.5"/>
<path d="M383.0,832.5 L380.4,834.6 L380.7,835.9 L381.0,837.2 L381.3,838.5 L381.6,839.8 L381.8,841.1 L382.1,842.4 L382.3,843.7 L382.6,845.1 L382.8,846.4 L383.0,847.7 L383.1,849.0 L383.3,850.3 L383.5,851.6 L383.6,852.9 L383.7,854.2 L383.8,855.6 L383.9,856.9 L384.0,858.2 L384.0,859.5 L384.1,860.7 L384.1,862.0 L384.1,863.3 L384.1,864.6 L387.4,867.2 L387.3,868.5 L387.3,869.9 L387.2,871.2 L387.1,872.5 L387.0,873.8 L386.9,875.1 L386.8,876.4 L386.6,877.7 L386.5,879.0 L386.3,880.3 L382.9,879.3 L382.7,880.5 L382.5,881.7 L382.3,882.8 L382.0,884.0 L381.8,885.1 L381.5,886.2 L381.2,887.3 L380.9,888.4 L380.6,889.5 L380.3,890.5 L379.9,891.6 L379.6,892.6 L379.2,893.6 L378.8,894.7 L378.4,895.6 L378.0,896.6 L377.6,897.6 L377.1,898.5 L376.7,899.5 L376.2,900.4 L375.7,901.3 L375.2,902.2 L374.7,903.0 L376.8,907.6 L376.3,908.5 L375.7,909.4 L375.1,910.2 L374.5,911.0 L373.9,911.8 L373.3,912.6 L372.6,913.4 L372.0,914.1 L371.3,914.9 L370.6,915.6 L367.8,911.9 L367.1,912.5 L366.4,913.1 L365.8,913.7 L365.1,914.3 L364.4,914.8 L363.7,915.3 L363.0,915.8 L362.3,916.3 L361.5,916.7 L360.8,917.2 L360.1,917.6 L359.3,917.9 L358.5,918.3 L357.8,918.6 L357.0,919.0 L356.2,919.3 L355.4,919.5 L354.6,919.8 L353.8,920.0 L353.0,920.2 L352.2,920.4 L351.4,920.5 L350.6,920.7 L350.8,925.7 L349.9,925.8 L349.0,925.8 L348.1,925.9 L347.2,925.9 L346.3,925.9 L345.4,925.9 L344.4,925.8 L343.5,925.8 L342.6,925.7 L341.7,925.5 L340.3,920.5 L339.5,920.4 L338.6,920.2 L337.7,920.0 L336.9,919.7 L336.0,919.5 L335.1,919.2 L334.2,918.9 L333.3,918.6 L332.5,918.3 L331.6,917.9 L330.7,917.5 L329.8,917.1 L329.0,916.7 L328.1,916.2 L327.2,915.7 L326.4,915.2 L325.5,914.7 L324.6,914.2 L323.8,913.6 L322.9,913.1 L322.1,912.5 L321.2,911.8 L320.4,911.2 L318.6,914.8 L317.7,914.0 L316.8,913.3 L315.9,912.5 L315.1,911.7 L314.2,910.9 L313.3,910.1 L312.5,909.3 L311.6,908.4 L310.8,907.5 L309.9,906.6 L310.6,902.0 L309.8,901.2 L309.1,900.3 L308.3,899.3 L307.6,898.4 L306.8,897.5 L306.1,896.5 L305.4,895.5 L304.6,894.5 L303.9,893.5 L303.2,892.5 L302.5,891.5 L301.9,890.4 L301.2,889.3 L300.5,888.3 L299.9,887.2 L299.2,886.1 L298.6,884.9 L298.0,883.8 L297.4,882.7 L296.8,881.5 L296.2,880.4 L295.6,879.2 L295.1,878.0 L292.0,878.8 L291.4,877.6 L290.8,876.3 L290.3,875.0 L289.7,873.7 L289.2,872.3 L288.7,871.0 L288.2,869.7 L287.7,868.3 L287.3,867.0 L286.8,865.6 L289.3,863.1 L288.9,861.9 L288.5,860.6 L288.1,859.3 L287.8,858.0 L287.4,856.7 L287.1,855.4 L286.8,854.1 L286.5,852.8 L286.2,851.5 L286.0,850.1 L285.7,848.8 L285.5,847.5 L285.2,846.2 L285.0,844.9 L284.8,843.6 L284.6,842.2 L284.5,840.9 L284.3,839.6 L284.2,838.3 L284.1,837.0 L284.0,835.7 L283.9,834.4 L283.8,833.1 L280.5,830.9 L280.4,829.5 L280.4,828.2 L280.4,826.8 L280.4,825.4 L280.4,824.1 L280.5,822.7 L280.5,821.4 L280.6,820.1 L280.7,818.7 L280.8,817.4 L284.1,817.9 L284.2,816.7 L284.4,815.5 L284.5,814.3 L284.7,813.1 L284.9,811.9 L285.1,810.7 L285.3,809.6 L285.5,808.4 L285.8,807.3 L286.0,806.2 L286.3,805.0 L286.6,803.9 L286.9,802.8 L287.2,801.8 L287.5,800.7 L287.9,799.7 L288.2,798.6 L288.6,797.6 L289.0,796.6 L289.4,795.6 L289.8,794.6 L290.2,793.7 L290.7,792.7 L288.3,788.3 L288.8,787.3 L289.4,786.4 L289.9,785.4 L290.4,784.5 L291.0,783.6 L291.5,782.7 L292.1,781.9 L292.7,781.0 L293.3,780.2 L293.9,779.4 L294.5,778.6 L295.2,777.9 L295.8,777.1 L296.5,776.4 L297.2,775.7 L297.8,775.0 L298.5,774.4 L299.2,773.7 L300.0,773.1 L300.7,772.5 L303.4,776.4 L304.1,775.9 L304.8,775.4 L305.5,775.0 L306.3,774.5 L307.0,774.1 L307.7,773.7 L308.5,773.3 L309.3,772.9 L310.0,772.6 L310.8,772.3 L311.6,772.0 L312.4,771.7 L313.2,771.5 L314.0,771.2 L314.8,771.0 L315.6,770.9 L316.4,770.7 L317.2,770.6 L318.1,770.5 L318.9,770.4 L319.7,770.3 L320.6,770.3 L321.4,770.2 L321.5,765.3 L322.4,765.4 L323.3,765.4 L324.3,765.5 L325.2,765.6 L326.1,765.7 L327.0,765.9 L328.0,766.0 L328.9,766.2 L329.8,766.4 L330.8,766.7 L331.8,771.8 L332.7,772.0 L333.6,772.3 L334.4,772.7 L335.3,773.0 L336.2,773.4 L337.1,773.7 L338.0,774.2 L338.8,774.6 L339.7,775.0 L340.6,775.5 L341.4,776.0 L342.3,776.5 L343.2,777.1 L344.0,777.6 L344.9,778.2 L345.7,778.8 L346.6,779.4 L347.4,780.0 L348.3,780.7 L349.1,781.4 L349.9,782.1 L350.8,782.8 L351.6,783.5 L353.6,780.3 L354.5,781.1 L355.3,782.0 L356.2,782.8 L357.0,783.7 L357.9,784.6 L358.7,785.6 L359.5,786.5 L360.3,787.4 L361.2,788.4 L362.0,789.4 L361.0,793.8 L361.7,794.8 L362.4,795.7 L363.2,796.7 L363.9,797.7 L364.6,798.8 L365.3,799.8 L365.9,800.8 L366.6,801.9 L367.3,803.0 L367.9,804.1 L368.6,805.2 L369.2,806.3 L369.8,807.4 L370.4,808.6 L371.0,809.7 L371.6,810.9 L372.2,812.1 L372.7,813.2 L373.3,814.4 L373.8,815.6 L374.3,816.9 L374.9,818.1 L375.4,819.3 L378.6,818.9 L379.1,820.2 L379.6,821.6 L380.1,822.9 L380.5,824.3 L381.0,825.6 L381.4,827.0 L381.8,828.3 L382.2,829.7 L382.6,831.1 Z M373.4,835.0 L373.7,836.1 L374.0,837.3 L374.3,838.4 L374.5,839.5 L374.8,840.6 L375.0,841.8 L375.2,842.9 L375.4,844.0 L375.6,845.1 L375.8,846.3 L376.0,847.4 L376.1,848.5 L376.3,849.6 L376.4,850.8 L376.5,851.9 L376.6,853.0 L376.7,854.1 L376.8,855.3 L376.8,856.4 L376.9,857.5 L376.9,858.6 L376.9,859.7 L377.0,860.8 L377.0,861.9 L376.9,863.0 L376.9,864.1 L376.9,865.1 L376.8,866.2 L376.7,867.3 L376.7,868.3 L376.6,869.4 L376.5,870.4 L376.4,871.5 L376.2,872.5 L376.1,873.5 L375.9,874.5 L375.7,875.5 L375.6,876.5 L375.4,877.5 L375.2,878.5 L374.9,879.5 L374.7,880.4 L374.5,881.4 L374.2,882.3 L373.9,883.2 L373.6,884.1 L373.3,885.0 L373.0,885.9 L372.7,886.8 L372.4,887.7 L372.0,888.5 L371.7,889.3 L371.3,890.2 L371.0,891.0 L370.6,891.8 L370.2,892.6 L369.8,893.3 L369.3,894.1 L368.9,894.8 L368.5,895.5 L368.0,896.2 L367.5,896.9 L367.1,897.6 L366.6,898.3 L366.1,898.9 L365.6,899.6 L365.1,900.2 L364.5,900.8 L364.0,901.3 L363.5,901.9 L362.9,902.5 L362.4,903.0 L361.8,903.5 L361.2,904.0 L360.6,904.5 L360.0,904.9 L359.4,905.4 L358.8,905.8 L358.2,906.2 L357.6,906.6 L357.0,906.9 L356.3,907.3 L355.7,907.6 L355.0,907.9 L354.4,908.2 L353.7,908.5 L353.0,908.7 L352.3,909.0 L351.7,909.2 L351.0,909.4 L350.3,909.5 L349.6,909.7 L348.9,909.8 L348.2,910.0 L347.5,910.1 L346.8,910.1 L346.0,910.2 L345.3,910.2 L344.6,910.2 L343.9,910.2 L343.1,910.2 L342.4,910.2 L341.7,910.1 L340.9,910.0 L340.2,909.9 L339.4,909.8 L338.7,909.7 L337.9,909.5 L337.2,909.3 L336.4,909.2 L335.7,908.9 L334.9,908.7 L334.2,908.4 L333.4,908.2 L332.7,907.9 L331.9,907.6 L331.2,907.2 L330.4,906.9 L329.7,906.5 L328.9,906.1 L328.2,905.7 L327.4,905.3 L326.7,904.9 L326.0,904.4 L325.2,903.9 L324.5,903.4 L323.8,902.9 L323.0,902.4 L322.3,901.8 L321.6,901.3 L320.9,900.7 L320.1,900.1 L319.4,899.5 L318.7,898.8 L318.0,898.2 L317.3,897.5 L316.6,896.8 L316.0,896.2 L315.3,895.4 L314.6,894.7 L313.9,894.0 L313.3,893.2 L312.6,892.4 L312.0,891.7 L311.3,890.9 L310.7,890.1 L310.1,889.2 L309.4,888.4 L308.8,887.5 L308.2,886.7 L307.6,885.8 L307.0,884.9 L306.4,884.0 L305.9,883.1 L305.3,882.2 L304.7,881.2 L304.2,880.3 L303.6,879.3 L303.1,878.4 L302.6,877.4 L302.1,876.4 L301.6,875.4 L301.1,874.4 L300.6,873.4 L300.1,872.4 L299.7,871.3 L299.2,870.3 L298.8,869.2 L298.4,868.2 L297.9,867.1 L297.5,866.1 L297.1,865.0 L296.7,863.9 L296.4,862.8 L296.0,861.7 L295.7,860.6 L295.3,859.5 L295.0,858.4 L294.7,857.3 L294.4,856.2 L294.1,855.1 L293.8,854.0 L293.5,852.9 L293.3,851.7 L293.0,850.6 L292.8,849.5 L292.6,848.4 L292.4,847.2 L292.2,846.1 L292.0,845.0 L291.8,843.9 L291.7,842.7 L291.5,841.6 L291.4,840.5 L291.3,839.4 L291.2,838.2 L291.1,837.1 L291.0,836.0 L291.0,834.9 L290.9,833.8 L290.9,832.7 L290.9,831.6 L290.8,830.5 L290.8,829.4 L290.9,828.3 L290.9,827.2 L290.9,826.1 L291.0,825.0 L291.0,824.0 L291.1,822.9 L291.2,821.9 L291.3,820.8 L291.4,819.8 L291.6,818.8 L291.7,817.7 L291.9,816.7 L292.1,815.7 L292.2,814.7 L292.4,813.7 L292.6,812.8 L292.9,811.8 L293.1,810.8 L293.3,809.9 L293.6,809.0 L293.9,808.0 L294.2,807.1 L294.4,806.2 L294.8,805.3 L295.1,804.5 L295.4,803.6 L295.7,802.7 L296.1,801.9 L296.5,801.1 L296.8,800.3 L297.2,799.5 L297.6,798.7 L298.0,797.9 L298.5,797.2 L298.9,796.4 L299.3,795.7 L299.8,795.0 L300.3,794.3 L300.7,793.6 L301.2,793.0 L301.7,792.3 L302.2,791.7 L302.7,791.1 L303.3,790.5 L303.8,789.9 L304.3,789.3 L304.9,788.8 L305.4,788.3 L306.0,787.8 L306.6,787.3 L307.2,786.8 L307.8,786.3 L308.4,785.9 L309.0,785.5 L309.6,785.1 L310.2,784.7 L310.8,784.3 L311.5,784.0 L312.1,783.6 L312.8,783.3 L313.4,783.0 L314.1,782.8 L314.8,782.5 L315.4,782.3 L316.1,782.1 L316.8,781.9 L317.5,781.7 L318.2,781.5 L318.9,781.4 L319.6,781.3 L320.3,781.2 L321.0,781.1 L321.8,781.1 L322.5,781.0 L323.2,781.0 L323.9,781.0 L324.7,781.0 L325.4,781.1 L326.1,781.1 L326.9,781.2 L327.6,781.3 L328.4,781.4 L329.1,781.6 L329.9,781.7 L330.6,781.9 L331.4,782.1 L332.1,782.3 L332.9,782.5 L333.6,782.8 L334.4,783.1 L335.1,783.4 L335.9,783.7 L336.6,784.0 L337.4,784.4 L338.1,784.7 L338.9,785.1 L339.6,785.5 L340.4,785.9 L341.1,786.4 L341.8,786.8 L342.6,787.3 L343.3,787.8 L344.0,788.3 L344.8,788.9 L345.5,789.4 L346.2,790.0 L346.9,790.6 L347.7,791.2 L348.4,791.8 L349.1,792.4 L349.8,793.1 L350.5,793.7 L351.2,794.4 L351.8,795.1 L352.5,795.8 L353.2,796.5 L353.9,797.3 L354.5,798.0 L355.2,798.8 L355.8,799.6 L356.5,800.4 L357.1,801.2 L357.7,802.0 L358.4,802.9 L359.0,803.7 L359.6,804.6 L360.2,805.5 L360.8,806.3 L361.4,807.2 L361.9,808.2 L362.5,809.1 L363.1,810.0 L363.6,811.0 L364.1,811.9 L364.7,812.9 L365.2,813.9 L365.7,814.9 L366.2,815.9 L366.7,816.9 L367.2,817.9 L367.7,818.9 L368.1,819.9 L368.6,821.0 L369.0,822.0 L369.4,823.1 L369.9,824.1 L370.3,825.2 L370.7,826.3 L371.0,827.3 L371.4,828.4 L371.8,829.5 L372.1,830.6 L372.5,831.7 L372.8,832.8 L373.1,833.9 Z" fill="#fff" fill-rule="evenodd" stroke-width="1.5"/>
<path d="M380.1,833.2 L377.5,835.3 L377.8,836.6 L378.1,838.0 L378.4,839.3 L378.7,840.6 L378.9,841.9 L379.2,843.2 L379.4,844.5 L379.7,845.8 L379.9,847.1 L380.1,848.5 L380.2,849.8 L380.4,851.1 L380.6,852.4 L380.7,853.7 L380.8,855.0 L380.9,856.3 L381.0,857.6 L381.1,858.9 L381.1,860.2 L381.2,861.5 L381.2,862.8 L381.2,864.1 L381.2,865.4 L384.5,867.9 L384.4,869.3 L384.4,870.6 L384.3,872.0 L384.2,873.3 L384.1,874.6 L384.0,875.9 L383.9,877.2 L383.7,878.5 L383.6,879.8 L383.4,881.1 L380.0,880.1 L379.8,881.3 L379.6,882.5 L379.4,883.6 L379.1,884.7 L378.9,885.9 L378.6,887.0 L378.3,888.1 L378.0,889.2 L377.7,890.3 L377.4,891.3 L377.0,892.4 L376.7,893.4 L376.3,894.4 L375.9,895.4 L375.5,896.4 L375.1,897.4 L374.7,898.4 L374.2,899.3 L373.8,900.2 L373.3,901.2 L372.8,902.0 L372.3,902.9 L371.8,903.8 L373.9,908.4 L373.4,909.3 L372.8,910.2 L372.2,911.0 L371.6,911.8 L371.0,912.6 L370.4,913.4 L369.7,914.2 L369.1,914.9 L368.4,915.6 L367.7,916.3 L364.9,912.7 L364.2,913.3 L363.5,913.9 L362.9,914.5 L362.2,915.0 L361.5,915.6 L360.8,916.1 L360.1,916.6 L359.4,917.1 L358.6,917.5 L357.9,917.9 L357.2,918.3 L356.4,918.7 L355.6,919.1 L354.9,919.4 L354.1,919.7 L353.3,920.0 L352.5,920.3 L351.7,920.5 L350.9,920.8 L350.1,921.0 L349.3,921.2 L348.5,921.3 L347.7,921.5 L347.9,926.5 L347.0,926.5 L346.1,926.6 L345.2,926.7 L344.3,926.7 L343.4,926.7 L342.5,926.7 L341.5,926.6 L340.6,926.5 L339.7,926.4 L338.8,926.3 L337.4,921.3 L336.6,921.1 L335.7,921.0 L334.8,920.7 L334.0,920.5 L333.1,920.3 L332.2,920.0 L331.3,919.7 L330.5,919.4 L329.6,919.0 L328.7,918.7 L327.8,918.3 L326.9,917.9 L326.1,917.4 L325.2,917.0 L324.3,916.5 L323.5,916.0 L322.6,915.5 L321.7,915.0 L320.9,914.4 L320.0,913.8 L319.2,913.2 L318.3,912.6 L317.5,912.0 L315.7,915.5 L314.8,914.8 L313.9,914.1 L313.0,913.3 L312.2,912.5 L311.3,911.7 L310.4,910.9 L309.6,910.0 L308.7,909.2 L307.9,908.3 L307.0,907.4 L307.7,902.8 L306.9,901.9 L306.2,901.0 L305.4,900.1 L304.7,899.2 L303.9,898.2 L303.2,897.3 L302.5,896.3 L301.7,895.3 L301.0,894.3 L300.3,893.3 L299.6,892.2 L299.0,891.2 L298.3,890.1 L297.6,889.0 L297.0,887.9 L296.3,886.8 L295.7,885.7 L295.1,884.6 L294.5,883.4 L293.9,882.3 L293.3,881.1 L292.7,880.0 L292.2,878.8 L289.1,879.6 L288.5,878.3 L287.9,877.0 L287.4,875.7 L286.8,874.4 L286.3,873.1 L285.8,871.8 L285.3,870.5 L284.8,869.1 L284.4,867.8 L283.9,866.4 L286.4,863.9 L286.0,862.6 L285.6,861.3 L285.2,860.1 L284.9,858.8 L284.5,857.5 L284.2,856.2 L283.9,854.8 L283.6,853.5 L283.3,852.2 L283.1,850.9 L282.8,849.6 L282.6,848.3 L282.3,847.0 L282.1,845.7 L281.9,844.3 L281.8,843.0 L281.6,841.7 L281.4,840.4 L281.3,839.1 L281.2,837.8 L281.1,836.5 L281.0,835.2 L280.9,833.9 L277.6,831.7 L277.5,830.3 L277.5,828.9 L277.5,827.6 L277.5,826.2 L277.5,824.9 L277.6,823.5 L277.6,822.2 L277.7,820.8 L277.8,819.5 L277.9,818.2 L281.2,818.7 L281.3,817.5 L281.5,816.3 L281.6,815.1 L281.8,813.9 L282.0,812.7 L282.2,811.5 L282.4,810.3 L282.6,809.2 L282.9,808.1 L283.1,806.9 L283.4,805.8 L283.7,804.7 L284.0,803.6 L284.3,802.5 L284.6,801.5 L285.0,800.4 L285.3,799.4 L285.7,798.4 L286.1,797.4 L286.5,796.4 L286.9,795.4 L287.3,794.4 L287.8,793.5 L285.4,789.1 L285.9,788.1 L286.5,787.1 L287.0,786.2 L287.5,785.3 L288.1,784.4 L288.6,783.5 L289.2,782.6 L289.8,781.8 L290.4,781.0 L291.0,780.2 L291.6,779.4 L292.3,778.6 L292.9,777.9 L293.6,777.2 L294.3,776.5 L294.9,775.8 L295.6,775.1 L296.3,774.5 L297.1,773.9 L297.8,773.3 L300.5,777.2 L301.2,776.7 L301.9,776.2 L302.6,775.7 L303.4,775.3 L304.1,774.9 L304.8,774.5 L305.6,774.1 L306.4,773.7 L307.1,773.4 L307.9,773.1 L308.7,772.8 L309.5,772.5 L310.3,772.3 L311.1,772.0 L311.9,771.8 L312.7,771.6 L313.5,771.5 L314.3,771.3 L315.2,771.2 L316.0,771.1 L316.8,771.1 L317.7,771.0 L318.5,771.0 L318.6,766.1 L319.5,766.1 L320.5,766.2 L321.4,766.3 L322.3,766.4 L323.2,766.5 L324.1,766.6 L325.1,766.8 L326.0,767.0 L326.9,767.2 L327.9,767.5 L328.9,772.5 L329.8,772.8 L330.7,773.1 L331.5,773.4 L332.4,773.8 L333.3,774.1 L334.2,774.5 L335.1,774.9 L335.9,775.4 L336.8,775.8 L337.7,776.3 L338.5,776.8 L339.4,777.3 L340.3,777.8 L341.1,778.4 L342.0,779.0 L342.8,779.6 L343.7,780.2 L344.5,780.8 L345.4,781.5 L346.2,782.2 L347.0,782.9 L347.9,783.6 L348.7,784.3 L350.7,781.1 L351.6,781.9 L352.4,782.8 L353.3,783.6 L354.1,784.5 L355.0,785.4 L355.8,786.3 L356.6,787.3 L357.4,788.2 L358.3,789.2 L359.1,790.2 L358.1,794.6 L358.8,795.5 L359.5,796.5 L360.3,797.5 L361.0,798.5 L361.7,799.5 L362.4,800.6 L363.0,801.6 L363.7,802.7 L364.4,803.8 L365.0,804.9 L365.7,806.0 L366.3,807.1 L366.9,808.2 L367.5,809.4 L368.1,810.5 L368.7,811.7 L369.3,812.8 L369.8,814.0 L370.4,815.2 L370.9,816.4 L371.4,817.6 L372.0,818.9 L372.5,820.1 L375.7,819.7 L376.2,821.0 L376.7,822.3 L377.2,823.7 L377.6,825.0 L378.1,826.4 L378.5,827.7 L378.9,829.1 L379.3,830.5 L379.7,831.9 Z M370.5,835.8 L370.8,836.9 L371.1,838.0 L371.4,839.2 L371.6,840.3 L371.9,841.4 L372.1,842.5 L372.3,843.7 L372.5,844.8 L372.7,845.9 L372.9,847.0 L373.1,848.2 L373.2,849.3 L373.4,850.4 L373.5,851.5 L373.6,852.7 L373.7,853.8 L373.8,854.9 L373.9,856.0 L373.9,857.1 L374.0,858.3 L374.0,859.4 L374.0,860.5 L374.1,861.6 L374.1,862.7 L374.0,863.7 L374.0,864.8 L374.0,865.9 L373.9,867.0 L373.9,868.0 L373.8,869.1 L373.7,870.2 L373.6,871.2 L373.5,872.2 L373.3,873.3 L373.2,874.3 L373.0,875.3 L372.8,876.3 L372.7,877.3 L372.5,878.3 L372.3,879.3 L372.0,880.2 L371.8,881.2 L371.6,882.1 L371.3,883.1 L371.0,884.0 L370.7,884.9 L370.4,885.8 L370.1,886.7 L369.8,887.6 L369.5,888.4 L369.1,889.3 L368.8,890.1 L368.4,890.9 L368.1,891.8 L367.7,892.5 L367.3,893.3 L366.9,894.1 L366.4,894.9 L366.0,895.6 L365.6,896.3 L365.1,897.0 L364.6,897.7 L364.2,898.4 L363.7,899.1 L363.2,899.7 L362.7,900.3 L362.2,900.9 L361.6,901.5 L361.1,902.1 L360.6,902.7 L360.0,903.2 L359.5,903.8 L358.9,904.3 L358.3,904.8 L357.7,905.2 L357.1,905.7 L356.5,906.1 L355.9,906.6 L355.3,907.0 L354.7,907.3 L354.1,907.7 L353.4,908.1 L352.8,908.4 L352.1,908.7 L351.5,909.0 L350.8,909.3 L350.1,909.5 L349.5,909.7 L348.8,910.0 L348.1,910.2 L347.4,910.3 L346.7,910.5 L346.0,910.6 L345.3,910.7 L344.6,910.8 L343.9,910.9 L343.1,911.0 L342.4,911.0 L341.7,911.0 L341.0,911.0 L340.2,911.0 L339.5,911.0 L338.8,910.9 L338.0,910.8 L337.3,910.7 L336.5,910.6 L335.8,910.5 L335.0,910.3 L334.3,910.1 L333.5,909.9 L332.8,909.7 L332.0,909.5 L331.3,909.2 L330.5,908.9 L329.8,908.7 L329.0,908.3 L328.3,908.0 L327.5,907.7 L326.8,907.3 L326.0,906.9 L325.3,906.5 L324.5,906.1 L323.8,905.6 L323.1,905.2 L322.3,904.7 L321.6,904.2 L320.9,903.7 L320.1,903.2 L319.4,902.6 L318.7,902.0 L318.0,901.5 L317.2,900.9 L316.5,900.2 L315.8,899.6 L315.1,899.0 L314.4,898.3 L313.7,897.6 L313.1,896.9 L312.4,896.2 L311.7,895.5 L311.0,894.8 L310.4,894.0 L309.7,893.2 L309.1,892.4 L308.4,891.6 L307.8,890.8 L307.2,890.0 L306.5,889.2 L305.9,888.3 L305.3,887.4 L304.7,886.6 L304.1,885.7 L303.5,884.8 L303.0,883.9 L302.4,882.9 L301.8,882.0 L301.3,881.1 L300.8,880.1 L300.2,879.1 L299.7,878.2 L299.2,877.2 L298.7,876.2 L298.2,875.2 L297.7,874.2 L297.2,873.1 L296.8,872.1 L296.3,871.1 L295.9,870.0 L295.5,869.0 L295.0,867.9 L294.6,866.8 L294.2,865.8 L293.9,864.7 L293.5,863.6 L293.1,862.5 L292.8,861.4 L292.4,860.3 L292.1,859.2 L291.8,858.1 L291.5,857.0 L291.2,855.9 L290.9,854.8 L290.6,853.6 L290.4,852.5 L290.1,851.4 L289.9,850.3 L289.7,849.1 L289.5,848.0 L289.3,846.9 L289.1,845.8 L288.9,844.6 L288.8,843.5 L288.6,842.4 L288.5,841.3 L288.4,840.1 L288.3,839.0 L288.2,837.9 L288.1,836.8 L288.1,835.7 L288.0,834.5 L288.0,833.4 L288.0,832.3 L287.9,831.2 L287.9,830.1 L288.0,829.1 L288.0,828.0 L288.0,826.9 L288.1,825.8 L288.1,824.8 L288.2,823.7 L288.3,822.6 L288.4,821.6 L288.5,820.6 L288.7,819.5 L288.8,818.5 L289.0,817.5 L289.2,816.5 L289.3,815.5 L289.5,814.5 L289.7,813.5 L290.0,812.6 L290.2,811.6 L290.4,810.7 L290.7,809.7 L291.0,808.8 L291.3,807.9 L291.6,807.0 L291.9,806.1 L292.2,805.2 L292.5,804.4 L292.9,803.5 L293.2,802.7 L293.6,801.9 L293.9,801.0 L294.3,800.3 L294.7,799.5 L295.1,798.7 L295.6,797.9 L296.0,797.2 L296.4,796.5 L296.9,795.8 L297.4,795.1 L297.8,794.4 L298.3,793.7 L298.8,793.1 L299.3,792.5 L299.8,791.9 L300.4,791.3 L300.9,790.7 L301.4,790.1 L302.0,789.6 L302.5,789.0 L303.1,788.5 L303.7,788.0 L304.3,787.6 L304.9,787.1 L305.5,786.7 L306.1,786.2 L306.7,785.8 L307.3,785.5 L307.9,785.1 L308.6,784.7 L309.2,784.4 L309.9,784.1 L310.5,783.8 L311.2,783.5 L311.9,783.3 L312.5,783.1 L313.2,782.8 L313.9,782.6 L314.6,782.5 L315.3,782.3 L316.0,782.2 L316.7,782.1 L317.4,782.0 L318.1,781.9 L318.9,781.8 L319.6,781.8 L320.3,781.8 L321.0,781.8 L321.8,781.8 L322.5,781.8 L323.2,781.9 L324.0,782.0 L324.7,782.1 L325.5,782.2 L326.2,782.3 L327.0,782.5 L327.7,782.7 L328.5,782.9 L329.2,783.1 L330.0,783.3 L330.7,783.6 L331.5,783.9 L332.2,784.1 L333.0,784.5 L333.7,784.8 L334.5,785.1 L335.2,785.5 L336.0,785.9 L336.7,786.3 L337.5,786.7 L338.2,787.2 L338.9,787.6 L339.7,788.1 L340.4,788.6 L341.1,789.1 L341.9,789.6 L342.6,790.2 L343.3,790.8 L344.0,791.3 L344.8,791.9 L345.5,792.6 L346.2,793.2 L346.9,793.8 L347.6,794.5 L348.3,795.2 L348.9,795.9 L349.6,796.6 L350.3,797.3 L351.0,798.0 L351.6,798.8 L352.3,799.6 L352.9,800.4 L353.6,801.2 L354.2,802.0 L354.8,802.8 L355.5,803.6 L356.1,804.5 L356.7,805.4 L357.3,806.2 L357.9,807.1 L358.5,808.0 L359.0,808.9 L359.6,809.9 L360.2,810.8 L360.7,811.7 L361.2,812.7 L361.8,813.7 L362.3,814.6 L362.8,815.6 L363.3,816.6 L363.8,817.6 L364.3,818.6 L364.8,819.7 L365.2,820.7 L365.7,821.7 L366.1,822.8 L366.5,823.8 L367.0,824.9 L367.4,826.0 L367.8,827.0 L368.1,828.1 L368.5,829.2 L368.9,830.3 L369.2,831.4 L369.6,832.5 L369.9,833.6 L370.2,834.7 Z" fill="#fff" fill-rule="evenodd" stroke-width="1.5"/>
<path d="M348.2,842.2 L348.6,843.6 L348.9,844.9 L349.2,846.3 L349.5,847.6 L349.8,848.9 L350.1,850.3 L350.3,851.6 L350.6,853.0 L350.8,854.3 L351.0,855.7 L351.2,857.0 L351.4,858.4 L351.6,859.7 L351.7,861.1 L351.9,862.4 L352.0,863.8 L352.1,865.1 L352.2,866.4 L352.3,867.8 L352.3,869.1 L352.4,870.4 L352.4,871.8 L352.4,873.1 L352.4,874.4 L352.4,875.7 L352.4,877.0 L352.3,878.3 L352.3,879.6 L352.2,880.8 L352.1,882.1 L352.0,883.4 L351.9,884.6 L351.7,885.9 L351.6,887.1 L351.4,888.3 L351.2,889.5 L351.0,890.7 L350.8,891.9 L350.5,893.1 L350.3,894.3 L350.0,895.4 L349.7,896.6 L349.4,897.7 L349.1,898.8 L348.8,899.9 L348.5,901.0 L348.1,902.1 L347.7,903.1 L347.4,904.2 L347.0,905.2 L346.6,906.2 L346.1,907.3 L345.7,908.2 L345.2,909.2 L344.8,910.2 L344.3,911.1 L343.8,912.0 L343.3,912.9 L342.8,913.8 L342.3,914.7 L341.7,915.5 L341.2,916.3 L340.6,917.2 L340.0,918.0 L339.4,918.7 L338.8,919.5 L338.2,920.2 L337.6,920.9 L336.9,921.6 L336.3,922.3 L335.6,922.9 L335.0,923.6 L334.3,924.2 L333.6,924.8 L332.9,925.4 L332.2,925.9 L331.5,926.4 L330.7,926.9 L330.0,927.4 L329.2,927.9 L328.5,928.3 L327.7,928.7 L327.0,929.1 L326.2,929.5 L325.4,929.8 L324.6,930.2 L323.8,930.5 L323.0,930.7 L322.2,931.0 L321.3,931.2 L320.5,931.4 L319.7,931.6 L318.8,931.8 L318.0,931.9 L317.1,932.0 L316.3,932.1 L315.4,932.2 L314.6,932.3 L313.7,932.3 L312.8,932.3 L311.9,932.2 L311.1,932.2 L310.2,932.1 L309.3,932.0 L308.4,931.9 L307.5,931.8 L306.6,931.6 L305.7,931.4 L304.8,931.2 L303.9,931.0 L303.0,930.7 L302.1,930.4 L301.2,930.1 L300.3,929.8 L299.4,929.4 L298.5,929.1 L297.6,928.7 L296.7,928.3 L295.8,927.8 L294.9,927.3 L294.1,926.9 L293.2,926.4 L292.3,925.8 L291.4,925.3 L290.5,924.7 L289.6,924.1 L288.8,923.5 L287.9,922.9 L287.0,922.2 L286.1,921.5 L285.3,920.8 L284.4,920.1 L283.6,919.4 L282.7,918.6 L281.9,917.8 L281.1,917.1 L280.2,916.2 L279.4,915.4 L278.6,914.6 L277.8,913.7 L277.0,912.8 L276.2,911.9 L275.4,911.0 L274.6,910.0 L273.9,909.1 L273.1,908.1 L272.4,907.1 L271.6,906.1 L270.9,905.1 L270.1,904.1 L269.4,903.0 L268.7,901.9 L268.0,900.9 L267.3,899.8 L266.7,898.7 L266.0,897.5 L265.3,896.4 L264.7,895.3 L264.1,894.1 L263.4,892.9 L262.8,891.8 L262.2,890.6 L261.6,889.4 L261.1,888.1 L260.5,886.9 L259.9,885.7 L259.4,884.4 L258.9,883.2 L258.4,881.9 L257.9,880.7 L257.4,879.4 L256.9,878.1 L256.4,876.8 L256.0,875.5 L255.5,874.2 L255.1,872.9 L254.7,871.6 L254.3,870.3 L254.0,868.9 L253.6,867.6 L253.2,866.3 L252.9,864.9 L252.6,863.6 L252.3,862.2 L252.0,860.9 L251.7,859.6 L251.4,858.2 L251.2,856.9 L251.0,855.5 L250.8,854.2 L250.6,852.8 L250.4,851.5 L250.2,850.1 L250.0,848.8 L249.9,847.4 L249.8,846.1 L249.7,844.7 L249.6,843.4 L249.5,842.1 L249.4,840.7 L249.4,839.4 L249.4,838.1 L249.4,836.8 L249.4,835.5 L249.4,834.2 L249.4,832.9 L249.5,831.6 L249.5,830.3 L249.6,829.0 L249.7,827.7 L249.8,826.5 L249.9,825.2 L250.1,824.0 L250.2,822.8 L250.4,821.5 L250.6,820.3 L250.8,819.1 L251.0,817.9 L251.3,816.8 L251.5,815.6 L251.8,814.4 L252.1,813.3 L252.4,812.2 L252.7,811.0 L253.0,809.9 L253.3,808.8 L253.7,807.8 L254.0,806.7 L254.4,805.6 L254.8,804.6 L255.2,803.6 L255.7,802.6 L256.1,801.6 L256.5,800.6 L257.0,799.7 L257.5,798.8 L258.0,797.8 L258.5,796.9 L259.0,796.0 L259.5,795.2 L260.1,794.3 L260.6,793.5 L261.2,792.7 L261.8,791.9 L262.4,791.1 L263.0,790.4 L263.6,789.6 L264.2,788.9 L264.9,788.2 L265.5,787.6 L266.2,786.9 L266.8,786.3 L267.5,785.7 L268.2,785.1 L268.9,784.5 L269.6,783.9 L270.3,783.4 L271.1,782.9 L271.8,782.4 L272.5,782.0 L273.3,781.5 L274.1,781.1 L274.8,780.7 L275.6,780.4 L276.4,780.0 L277.2,779.7 L278.0,779.4 L278.8,779.1 L279.6,778.8 L280.5,778.6 L281.3,778.4 L282.1,778.2 L283.0,778.1 L283.8,777.9 L284.7,777.8 L285.5,777.7 L286.4,777.6 L287.2,777.6 L288.1,777.6 L289.0,777.6 L289.9,777.6 L290.7,777.6 L291.6,777.7 L292.5,777.8 L293.4,777.9 L294.3,778.1 L295.2,778.2 L296.1,778.4 L297.0,778.6 L297.9,778.9 L298.8,779.1 L299.7,779.4 L300.6,779.7 L301.5,780.1 L302.4,780.4 L303.3,780.8 L304.2,781.2 L305.1,781.6 L306.0,782.0 L306.8,782.5 L307.7,783.0 L308.6,783.5 L309.5,784.0 L310.4,784.6 L311.3,785.1 L312.2,785.7 L313.0,786.4 L313.9,787.0 L314.8,787.6 L315.6,788.3 L316.5,789.0 L317.4,789.7 L318.2,790.5 L319.1,791.2 L319.9,792.0 L320.7,792.8 L321.6,793.6 L322.4,794.4 L323.2,795.3 L324.0,796.2 L324.8,797.0 L325.6,798.0 L326.4,798.9 L327.2,799.8 L327.9,800.8 L328.7,801.7 L329.4,802.7 L330.2,803.7 L330.9,804.8 L331.6,805.8 L332.4,806.8 L333.1,807.9 L333.8,809.0 L334.5,810.1 L335.1,811.2 L335.8,812.3 L336.5,813.4 L337.1,814.6 L337.7,815.7 L338.4,816.9 L339.0,818.1 L339.6,819.3 L340.2,820.5 L340.7,821.7 L341.3,822.9 L341.9,824.2 L342.4,825.4 L342.9,826.7 L343.4,827.9 L343.9,829.2 L344.4,830.5 L344.9,831.7 L345.4,833.0 L345.8,834.3 L346.2,835.6 L346.7,837.0 L347.1,838.3 L347.5,839.6 L347.8,840.9 Z M340.4,844.3 L340.7,845.4 L341.0,846.6 L339.4,848.0 L339.7,849.1 L339.9,850.2 L340.1,851.2 L342.2,852.2 L342.4,853.3 L342.6,854.4 L342.8,855.6 L341.0,856.6 L341.2,857.7 L341.3,858.8 L341.5,859.8 L343.5,861.2 L343.6,862.3 L343.7,863.4 L343.8,864.6 L341.9,865.2 L341.9,866.2 L342.0,867.3 L342.0,868.3 L344.0,870.1 L344.0,871.2 L343.9,872.3 L343.9,873.4 L341.9,873.5 L341.9,874.6 L341.8,875.6 L341.7,876.6 L343.6,878.7 L343.5,879.7 L343.4,880.8 L343.2,881.8 L341.2,881.5 L341.0,882.5 L340.8,883.5 L340.7,884.4 L342.4,886.8 L342.2,887.8 L341.9,888.8 L341.7,889.7 L339.6,889.0 L339.4,889.9 L339.1,890.8 L338.8,891.7 L338.6,892.5 L340.0,895.2 L339.7,896.1 L339.4,897.0 L339.0,897.8 L337.0,896.7 L336.6,897.4 L336.3,898.2 L335.9,899.0 L337.2,901.9 L336.8,902.6 L336.3,903.4 L335.9,904.1 L333.9,902.6 L333.5,903.2 L333.0,903.9 L332.6,904.6 L333.6,907.6 L333.1,908.2 L332.6,908.9 L332.1,909.5 L330.1,907.6 L329.6,908.1 L329.1,908.6 L328.6,909.2 L329.4,912.3 L328.8,912.8 L328.2,913.3 L327.6,913.8 L325.8,911.5 L325.3,911.9 L324.7,912.3 L324.1,912.7 L324.6,915.9 L324.0,916.2 L323.3,916.6 L322.7,916.9 L321.1,914.4 L320.4,914.7 L319.8,914.9 L319.2,915.2 L319.3,918.3 L318.7,918.5 L318.0,918.7 L317.3,918.8 L316.6,919.0 L315.2,916.2 L314.5,916.3 L313.9,916.4 L313.2,916.5 L313.0,919.5 L312.3,919.5 L311.6,919.5 L310.9,919.5 L309.7,916.6 L309.0,916.5 L308.3,916.5 L307.6,916.4 L307.2,919.2 L306.4,919.1 L305.7,919.0 L304.9,918.8 L304.0,915.8 L303.3,915.6 L302.6,915.4 L301.9,915.1 L301.2,917.7 L300.4,917.5 L299.7,917.2 L298.9,916.9 L298.3,913.7 L297.6,913.4 L296.9,913.0 L296.2,912.7 L295.2,915.0 L294.4,914.6 L293.7,914.2 L293.0,913.7 L292.6,910.6 L291.9,910.1 L291.2,909.6 L290.5,909.1 L289.3,911.1 L288.6,910.6 L287.9,910.0 L287.1,909.4 L287.1,906.3 L286.4,905.7 L285.7,905.1 L285.1,904.5 L284.4,903.8 L283.0,905.5 L282.3,904.7 L281.6,904.0 L280.9,903.3 L281.2,900.4 L280.6,899.6 L280.0,898.9 L279.3,898.1 L277.7,899.4 L277.1,898.5 L276.4,897.7 L275.8,896.8 L276.4,894.1 L275.8,893.3 L275.2,892.4 L274.7,891.6 L272.9,892.4 L272.3,891.5 L271.7,890.5 L271.2,889.6 L272.0,887.1 L271.5,886.2 L271.0,885.2 L270.5,884.3 L268.6,884.7 L268.1,883.7 L267.6,882.7 L267.1,881.7 L268.2,879.5 L267.8,878.5 L267.4,877.5 L267.0,876.5 L264.9,876.4 L264.5,875.4 L264.1,874.3 L263.7,873.2 L265.1,871.3 L264.7,870.3 L264.4,869.3 L264.1,868.2 L262.0,867.7 L261.7,866.6 L261.4,865.5 L261.1,864.4 L260.8,863.3 L262.4,861.8 L262.1,860.8 L261.9,859.7 L261.7,858.6 L259.6,857.7 L259.4,856.5 L259.2,855.4 L259.0,854.3 L260.8,853.2 L260.6,852.2 L260.5,851.1 L260.3,850.0 L258.3,848.7 L258.2,847.5 L258.1,846.4 L258.0,845.3 L259.9,844.7 L259.9,843.6 L259.8,842.6 L259.8,841.5 L257.8,839.8 L257.8,838.7 L257.9,837.6 L257.9,836.5 L259.9,836.3 L259.9,835.3 L260.0,834.3 L260.1,833.3 L258.2,831.2 L258.3,830.1 L258.4,829.1 L258.6,828.1 L260.6,828.3 L260.8,827.3 L261.0,826.4 L261.1,825.4 L259.4,823.0 L259.6,822.1 L259.9,821.1 L260.1,820.1 L262.2,820.8 L262.4,819.9 L262.7,819.0 L263.0,818.2 L263.2,817.3 L261.8,814.6 L262.1,813.8 L262.4,812.9 L262.7,812.0 L264.8,813.2 L265.2,812.4 L265.5,811.6 L265.9,810.9 L264.6,808.0 L265.0,807.2 L265.5,806.5 L265.9,805.7 L267.9,807.3 L268.3,806.6 L268.8,805.9 L269.2,805.3 L268.2,802.3 L268.7,801.6 L269.2,801.0 L269.7,800.4 L271.6,802.3 L272.2,801.7 L272.7,801.2 L273.2,800.7 L272.4,797.6 L273.0,797.1 L273.6,796.6 L274.2,796.1 L275.9,798.3 L276.5,797.9 L277.1,797.5 L277.7,797.1 L277.2,794.0 L277.8,793.6 L278.5,793.3 L279.1,792.9 L280.7,795.5 L281.4,795.2 L282.0,794.9 L282.6,794.7 L282.4,791.6 L283.1,791.4 L283.8,791.2 L284.5,791.0 L285.2,790.8 L286.6,793.6 L287.3,793.5 L287.9,793.4 L288.6,793.3 L288.8,790.4 L289.5,790.3 L290.2,790.3 L290.9,790.3 L292.1,793.3 L292.8,793.3 L293.5,793.4 L294.2,793.4 L294.6,790.6 L295.4,790.7 L296.1,790.9 L296.9,791.0 L297.8,794.1 L298.5,794.3 L299.2,794.5 L299.9,794.7 L300.6,792.1 L301.4,792.4 L302.1,792.7 L302.9,793.0 L303.5,796.1 L304.2,796.4 L304.9,796.8 L305.6,797.2 L306.6,794.8 L307.4,795.2 L308.1,795.7 L308.8,796.1 L309.2,799.3 L309.9,799.7 L310.6,800.2 L311.3,800.7 L312.5,798.7 L313.2,799.3 L313.9,799.9 L314.7,800.5 L314.7,803.5 L315.4,804.1 L316.0,804.7 L316.7,805.4 L317.4,806.0 L318.8,804.4 L319.5,805.1 L320.2,805.8 L320.9,806.6 L320.6,809.5 L321.2,810.2 L321.8,811.0 L322.5,811.7 L324.1,810.5 L324.7,811.3 L325.4,812.2 L326.0,813.0 L325.4,815.7 L326.0,816.6 L326.6,817.4 L327.1,818.3 L328.9,817.5 L329.5,818.4 L330.1,819.3 L330.6,820.3 L329.8,822.8 L330.3,823.7 L330.8,824.6 L331.3,825.6 L333.2,825.2 L333.7,826.2 L334.2,827.2 L334.7,828.2 L333.6,830.4 L334.0,831.4 L334.4,832.4 L334.8,833.4 L336.9,833.4 L337.3,834.5 L337.7,835.6 L338.0,836.6 L336.7,838.5 L337.1,839.5 L337.4,840.6 L337.7,841.6 L339.8,842.1 L340.1,843.2 Z" fill="#fff" fill-rule="evenodd" stroke-width="1.5"/>
<path d="M345.3,843.0 L345.7,844.4 L346.0,845.7 L346.3,847.0 L346.6,848.4 L346.9,849.7 L347.2,851.1 L347.5,852.4 L347.7,853.8 L347.9,855.1 L348.1,856.5 L348.3,857.8 L348.5,859.2 L348.7,860.5 L348.9,861.9 L349.0,863.2 L349.1,864.5 L349.2,865.9 L349.3,867.2 L349.4,868.6 L349.5,869.9 L349.5,871.2 L349.5,872.5 L349.5,873.8 L349.5,875.2 L349.5,876.5 L349.5,877.8 L349.4,879.0 L349.4,880.3 L349.3,881.6 L349.2,882.9 L349.1,884.1 L349.0,885.4 L348.8,886.6 L348.7,887.9 L348.5,889.1 L348.3,890.3 L348.1,891.5 L347.9,892.7 L347.6,893.9 L347.4,895.0 L347.1,896.2 L346.8,897.3 L346.5,898.5 L346.2,899.6 L345.9,900.7 L345.6,901.8 L345.2,902.9 L344.9,903.9 L344.5,905.0 L344.1,906.0 L343.7,907.0 L343.2,908.0 L342.8,909.0 L342.4,910.0 L341.9,910.9 L341.4,911.9 L340.9,912.8 L340.4,913.7 L339.9,914.6 L339.4,915.4 L338.8,916.3 L338.3,917.1 L337.7,917.9 L337.1,918.7 L336.5,919.5 L335.9,920.3 L335.3,921.0 L334.7,921.7 L334.0,922.4 L333.4,923.1 L332.7,923.7 L332.1,924.4 L331.4,925.0 L330.7,925.6 L330.0,926.1 L329.3,926.7 L328.6,927.2 L327.8,927.7 L327.1,928.2 L326.4,928.6 L325.6,929.1 L324.8,929.5 L324.1,929.9 L323.3,930.3 L322.5,930.6 L321.7,930.9 L320.9,931.2 L320.1,931.5 L319.3,931.8 L318.4,932.0 L317.6,932.2 L316.8,932.4 L315.9,932.6 L315.1,932.7 L314.2,932.8 L313.4,932.9 L312.5,933.0 L311.7,933.0 L310.8,933.1 L309.9,933.1 L309.0,933.0 L308.2,933.0 L307.3,932.9 L306.4,932.8 L305.5,932.7 L304.6,932.5 L303.7,932.4 L302.8,932.2 L301.9,932.0 L301.0,931.7 L300.1,931.5 L299.2,931.2 L298.3,930.9 L297.4,930.6 L296.5,930.2 L295.6,929.8 L294.7,929.4 L293.8,929.0 L292.9,928.6 L292.1,928.1 L291.2,927.6 L290.3,927.1 L289.4,926.6 L288.5,926.1 L287.6,925.5 L286.7,924.9 L285.9,924.3 L285.0,923.6 L284.1,923.0 L283.3,922.3 L282.4,921.6 L281.5,920.9 L280.7,920.2 L279.8,919.4 L279.0,918.6 L278.2,917.8 L277.3,917.0 L276.5,916.2 L275.7,915.3 L274.9,914.5 L274.1,913.6 L273.3,912.7 L272.5,911.7 L271.7,910.8 L271.0,909.9 L270.2,908.9 L269.5,907.9 L268.7,906.9 L268.0,905.9 L267.3,904.8 L266.5,903.8 L265.8,902.7 L265.1,901.6 L264.4,900.5 L263.8,899.4 L263.1,898.3 L262.4,897.2 L261.8,896.0 L261.2,894.9 L260.5,893.7 L259.9,892.5 L259.3,891.3 L258.7,890.1 L258.2,888.9 L257.6,887.7 L257.0,886.5 L256.5,885.2 L256.0,884.0 L255.5,882.7 L255.0,881.4 L254.5,880.2 L254.0,878.9 L253.5,877.6 L253.1,876.3 L252.7,875.0 L252.2,873.7 L251.8,872.4 L251.4,871.0 L251.1,869.7 L250.7,868.4 L250.3,867.0 L250.0,865.7 L249.7,864.4 L249.4,863.0 L249.1,861.7 L248.8,860.3 L248.5,859.0 L248.3,857.6 L248.1,856.3 L247.9,854.9 L247.7,853.6 L247.5,852.2 L247.3,850.9 L247.1,849.5 L247.0,848.2 L246.9,846.9 L246.8,845.5 L246.7,844.2 L246.6,842.8 L246.5,841.5 L246.5,840.2 L246.5,838.9 L246.5,837.6 L246.5,836.2 L246.5,834.9 L246.5,833.6 L246.6,832.4 L246.6,831.1 L246.7,829.8 L246.8,828.5 L246.9,827.3 L247.0,826.0 L247.2,824.8 L247.3,823.5 L247.5,822.3 L247.7,821.1 L247.9,819.9 L248.1,818.7 L248.4,817.5 L248.6,816.4 L248.9,815.2 L249.2,814.1 L249.5,812.9 L249.8,811.8 L250.1,810.7 L250.4,809.6 L250.8,808.5 L251.1,807.5 L251.5,806.4 L251.9,805.4 L252.3,804.4 L252.8,803.4 L253.2,802.4 L253.6,801.4 L254.1,800.5 L254.6,799.5 L255.1,798.6 L255.6,797.7 L256.1,796.8 L256.6,796.0 L257.2,795.1 L257.7,794.3 L258.3,793.5 L258.9,792.7 L259.5,791.9 L260.1,791.1 L260.7,790.4 L261.3,789.7 L262.0,789.0 L262.6,788.3 L263.3,787.7 L263.9,787.0 L264.6,786.4 L265.3,785.8 L266.0,785.3 L266.7,784.7 L267.4,784.2 L268.2,783.7 L268.9,783.2 L269.6,782.8 L270.4,782.3 L271.2,781.9 L271.9,781.5 L272.7,781.1 L273.5,780.8 L274.3,780.5 L275.1,780.2 L275.9,779.9 L276.7,779.6 L277.6,779.4 L278.4,779.2 L279.2,779.0 L280.1,778.8 L280.9,778.7 L281.8,778.6 L282.6,778.5 L283.5,778.4 L284.3,778.4 L285.2,778.3 L286.1,778.3 L287.0,778.4 L287.8,778.4 L288.7,778.5 L289.6,778.6 L290.5,778.7 L291.4,778.9 L292.3,779.0 L293.2,779.2 L294.1,779.4 L295.0,779.7 L295.9,779.9 L296.8,780.2 L297.7,780.5 L298.6,780.8 L299.5,781.2 L300.4,781.6 L301.3,782.0 L302.2,782.4 L303.1,782.8 L303.9,783.3 L304.8,783.8 L305.7,784.3 L306.6,784.8 L307.5,785.3 L308.4,785.9 L309.3,786.5 L310.1,787.1 L311.0,787.8 L311.9,788.4 L312.7,789.1 L313.6,789.8 L314.5,790.5 L315.3,791.2 L316.2,792.0 L317.0,792.8 L317.8,793.6 L318.7,794.4 L319.5,795.2 L320.3,796.1 L321.1,796.9 L321.9,797.8 L322.7,798.7 L323.5,799.7 L324.3,800.6 L325.0,801.5 L325.8,802.5 L326.5,803.5 L327.3,804.5 L328.0,805.5 L328.7,806.6 L329.5,807.6 L330.2,808.7 L330.9,809.8 L331.6,810.9 L332.2,812.0 L332.9,813.1 L333.6,814.2 L334.2,815.4 L334.8,816.5 L335.5,817.7 L336.1,818.9 L336.7,820.1 L337.3,821.3 L337.8,822.5 L338.4,823.7 L339.0,824.9 L339.5,826.2 L340.0,827.4 L340.5,828.7 L341.0,830.0 L341.5,831.2 L342.0,832.5 L342.5,833.8 L342.9,835.1 L343.3,836.4 L343.8,837.7 L344.2,839.0 L344.6,840.4 L344.9,841.7 Z M337.5,845.1 L337.8,846.2 L338.1,847.3 L336.5,848.8 L336.8,849.9 L337.0,850.9 L337.2,852.0 L339.3,853.0 L339.5,854.1 L339.7,855.2 L339.9,856.3 L338.1,857.4 L338.3,858.5 L338.4,859.5 L338.6,860.6 L340.6,862.0 L340.7,863.1 L340.8,864.2 L340.9,865.3 L339.0,866.0 L339.0,867.0 L339.1,868.1 L339.1,869.1 L341.1,870.9 L341.1,872.0 L341.0,873.0 L341.0,874.1 L339.0,874.3 L339.0,875.3 L338.9,876.4 L338.8,877.4 L340.7,879.5 L340.6,880.5 L340.5,881.5 L340.3,882.6 L338.3,882.3 L338.1,883.3 L337.9,884.2 L337.8,885.2 L339.5,887.6 L339.3,888.6 L339.0,889.5 L338.8,890.5 L336.7,889.8 L336.5,890.7 L336.2,891.6 L335.9,892.5 L335.7,893.3 L337.1,896.0 L336.8,896.9 L336.5,897.7 L336.1,898.6 L334.1,897.4 L333.7,898.2 L333.4,899.0 L333.0,899.7 L334.3,902.6 L333.9,903.4 L333.4,904.2 L333.0,904.9 L331.0,903.3 L330.6,904.0 L330.1,904.7 L329.7,905.3 L330.7,908.4 L330.2,909.0 L329.7,909.6 L329.2,910.2 L327.3,908.3 L326.7,908.9 L326.2,909.4 L325.7,909.9 L326.5,913.1 L325.9,913.6 L325.3,914.1 L324.7,914.5 L322.9,912.3 L322.4,912.7 L321.8,913.1 L321.2,913.5 L321.7,916.6 L321.1,917.0 L320.4,917.4 L319.8,917.7 L318.2,915.2 L317.5,915.4 L316.9,915.7 L316.3,915.9 L316.5,919.0 L315.8,919.3 L315.1,919.5 L314.4,919.6 L313.7,919.8 L312.3,917.0 L311.6,917.1 L311.0,917.2 L310.3,917.3 L310.1,920.3 L309.4,920.3 L308.7,920.3 L308.0,920.3 L306.8,917.4 L306.1,917.3 L305.4,917.3 L304.7,917.2 L304.3,920.0 L303.5,919.9 L302.8,919.8 L302.0,919.6 L301.1,916.5 L300.4,916.3 L299.7,916.1 L299.0,915.9 L298.3,918.5 L297.5,918.2 L296.8,918.0 L296.0,917.6 L295.4,914.5 L294.7,914.2 L294.0,913.8 L293.3,913.5 L292.3,915.8 L291.5,915.4 L290.8,914.9 L290.1,914.5 L289.7,911.3 L289.0,910.9 L288.3,910.4 L287.6,909.9 L286.4,911.9 L285.7,911.3 L285.0,910.8 L284.2,910.2 L284.2,907.1 L283.5,906.5 L282.9,905.9 L282.2,905.2 L281.5,904.6 L280.1,906.2 L279.4,905.5 L278.7,904.8 L278.0,904.1 L278.3,901.1 L277.7,900.4 L277.1,899.6 L276.4,898.9 L274.8,900.1 L274.2,899.3 L273.5,898.5 L272.9,897.6 L273.5,894.9 L272.9,894.0 L272.3,893.2 L271.8,892.3 L270.0,893.2 L269.4,892.2 L268.8,891.3 L268.3,890.4 L269.1,887.9 L268.6,886.9 L268.1,886.0 L267.6,885.1 L265.7,885.5 L265.2,884.5 L264.7,883.5 L264.2,882.4 L265.3,880.2 L264.9,879.2 L264.5,878.2 L264.1,877.2 L262.0,877.2 L261.6,876.1 L261.2,875.1 L260.9,874.0 L262.2,872.1 L261.8,871.1 L261.5,870.0 L261.2,869.0 L259.1,868.5 L258.8,867.4 L258.5,866.3 L258.2,865.2 L257.9,864.1 L259.5,862.6 L259.2,861.5 L259.0,860.5 L258.8,859.4 L256.7,858.4 L256.5,857.3 L256.3,856.2 L256.1,855.1 L257.9,854.0 L257.7,852.9 L257.6,851.9 L257.4,850.8 L255.4,849.4 L255.3,848.3 L255.2,847.2 L255.1,846.1 L257.0,845.4 L257.0,844.4 L256.9,843.3 L256.9,842.3 L254.9,840.5 L254.9,839.4 L255.0,838.4 L255.0,837.3 L257.0,837.1 L257.0,836.1 L257.1,835.0 L257.2,834.0 L255.3,831.9 L255.4,830.9 L255.5,829.9 L255.7,828.8 L257.7,829.1 L257.9,828.1 L258.1,827.2 L258.2,826.2 L256.5,823.8 L256.7,822.8 L257.0,821.9 L257.2,820.9 L259.3,821.6 L259.5,820.7 L259.8,819.8 L260.1,818.9 L260.3,818.1 L258.9,815.4 L259.2,814.5 L259.5,813.7 L259.9,812.8 L261.9,814.0 L262.3,813.2 L262.6,812.4 L263.0,811.7 L261.7,808.8 L262.1,808.0 L262.6,807.2 L263.0,806.5 L265.0,808.1 L265.4,807.4 L265.9,806.7 L266.3,806.1 L265.3,803.0 L265.8,802.4 L266.3,801.8 L266.8,801.2 L268.7,803.1 L269.3,802.5 L269.8,802.0 L270.3,801.5 L269.5,798.3 L270.1,797.8 L270.7,797.3 L271.3,796.9 L273.1,799.1 L273.6,798.7 L274.2,798.3 L274.8,797.9 L274.3,794.8 L274.9,794.4 L275.6,794.0 L276.2,793.7 L277.8,796.2 L278.5,796.0 L279.1,795.7 L279.7,795.5 L279.5,792.4 L280.2,792.1 L280.9,791.9 L281.6,791.8 L282.3,791.6 L283.7,794.4 L284.4,794.3 L285.0,794.2 L285.7,794.1 L285.9,791.1 L286.6,791.1 L287.3,791.1 L288.0,791.1 L289.2,794.0 L289.9,794.1 L290.6,794.1 L291.3,794.2 L291.7,791.4 L292.5,791.5 L293.2,791.6 L294.0,791.8 L294.9,794.9 L295.6,795.1 L296.3,795.3 L297.0,795.5 L297.7,792.9 L298.5,793.2 L299.2,793.4 L300.0,793.8 L300.6,796.9 L301.3,797.2 L302.0,797.6 L302.7,797.9 L303.7,795.6 L304.5,796.0 L305.2,796.5 L305.9,796.9 L306.3,800.1 L307.0,800.5 L307.7,801.0 L308.4,801.5 L309.6,799.5 L310.3,800.1 L311.0,800.6 L311.8,801.2 L311.8,804.3 L312.5,804.9 L313.1,805.5 L313.8,806.2 L314.5,806.8 L315.9,805.2 L316.6,805.9 L317.3,806.6 L318.0,807.3 L317.7,810.3 L318.3,811.0 L318.9,811.8 L319.6,812.5 L321.2,811.3 L321.8,812.1 L322.5,812.9 L323.1,813.8 L322.5,816.5 L323.1,817.4 L323.7,818.2 L324.2,819.1 L326.0,818.2 L326.6,819.2 L327.2,820.1 L327.7,821.0 L326.9,823.5 L327.4,824.5 L327.9,825.4 L328.4,826.3 L330.3,825.9 L330.8,826.9 L331.3,827.9 L331.8,829.0 L330.7,831.2 L331.1,832.2 L331.5,833.2 L331.9,834.2 L334.0,834.2 L334.4,835.3 L334.8,836.3 L335.1,837.4 L333.8,839.3 L334.2,840.3 L334.5,841.4 L334.8,842.4 L336.9,842.9 L337.2,844.0 Z" fill="#fff" fill-rule="evenodd" stroke-width="1.5"/>
<path d="M317.0,851.1 L314.4,853.2 L314.7,854.5 L315.0,855.8 L315.3,857.1 L315.6,858.4 L315.8,859.7 L316.1,861.0 L316.3,862.3 L316.6,863.7 L316.8,865.0 L317.0,866.3 L317.1,867.6 L317.3,868.9 L317.5,870.2 L317.6,871.5 L317.7,872.8 L317.8,874.2 L317.9,875.5 L318.0,876.8 L318.0,878.1 L318.1,879.3 L318.1,880.6 L318.1,881.9 L318.1,883.2 L321.4,885.8 L321.3,887.1 L321.3,888.5 L321.2,889.8 L321.1,891.1 L321.0,892.4 L320.9,893.7 L320.8,895.0 L320.6,896.3 L320.5,897.6 L320.3,898.9 L316.9,897.9 L316.7,899.1 L316.5,900.3 L316.3,901.4 L316.0,902.6 L315.8,903.7 L315.5,904.8 L315.2,905.9 L314.9,907.0 L314.6,908.1 L314.3,909.1 L313.9,910.2 L313.6,911.2 L313.2,912.2 L312.8,913.3 L312.4,914.2 L312.0,915.2 L311.6,916.2 L311.1,917.1 L310.7,918.1 L310.2,919.0 L309.7,919.9 L309.2,920.8 L308.7,921.6 L310.8,926.2 L310.3,927.1 L309.7,928.0 L309.1,928.8 L308.5,929.6 L307.9,930.4 L307.3,931.2 L306.6,932.0 L306.0,932.7 L305.3,933.5 L304.6,934.2 L301.8,930.5 L301.1,931.1 L300.4,931.7 L299.8,932.3 L299.1,932.9 L298.4,933.4 L297.7,933.9 L297.0,934.4 L296.3,934.9 L295.5,935.3 L294.8,935.8 L294.1,936.2 L293.3,936.5 L292.5,936.9 L291.8,937.2 L291.0,937.6 L290.2,937.9 L289.4,938.1 L288.6,938.4 L287.8,938.6 L287.0,938.8 L286.2,939.0 L285.4,939.1 L284.6,939.3 L284.8,944.3 L283.9,944.4 L283.0,944.4 L282.1,944.5 L281.2,944.5 L280.3,944.5 L279.4,944.5 L278.4,944.4 L277.5,944.4 L276.6,944.3 L275.7,944.1 L274.3,939.1 L273.5,939.0 L272.6,938.8 L271.7,938.6 L270.9,938.3 L270.0,938.1 L269.1,937.8 L268.2,937.5 L267.3,937.2 L266.5,936.9 L265.6,936.5 L264.7,936.1 L263.8,935.7 L263.0,935.3 L262.1,934.8 L261.2,934.3 L260.4,933.8 L259.5,933.3 L258.6,932.8 L257.8,932.2 L256.9,931.7 L256.1,931.1 L255.2,930.4 L254.4,929.8 L252.6,933.4 L251.7,932.6 L250.8,931.9 L249.9,931.1 L249.1,930.3 L248.2,929.5 L247.3,928.7 L246.5,927.9 L245.6,927.0 L244.8,926.1 L243.9,925.2 L244.6,920.6 L243.8,919.8 L243.1,918.9 L242.3,917.9 L241.6,917.0 L240.8,916.1 L240.1,915.1 L239.4,914.1 L238.6,913.1 L237.9,912.1 L237.2,911.1 L236.5,910.1 L235.9,909.0 L235.2,907.9 L234.5,906.9 L233.9,905.8 L233.2,904.7 L232.6,903.5 L232.0,902.4 L231.4,901.3 L230.8,900.1 L230.2,899.0 L229.6,897.8 L229.1,896.6 L226.0,897.4 L225.4,896.2 L224.8,894.9 L224.3,893.6 L223.7,892.3 L223.2,890.9 L222.7,889.6 L222.2,888.3 L221.7,886.9 L221.3,885.6 L220.8,884.2 L223.3,881.7 L222.9,880.5 L222.5,879.2 L222.1,877.9 L221.8,876.6 L221.4,875.3 L221.1,874.0 L220.8,872.7 L220.5,871.4 L220.2,870.1 L220.0,868.7 L219.7,867.4 L219.5,866.1 L219.2,864.8 L219.0,863.5 L218.8,862.2 L218.6,860.8 L218.5,859.5 L218.3,858.2 L218.2,856.9 L218.1,855.6 L218.0,854.3 L217.9,853.0 L217.8,851.7 L214.5,849.5 L214.4,848.1 L214.4,846.8 L214.4,845.4 L214.4,844.0 L214.4,842.7 L214.5,841.3 L214.5,840.0 L214.6,838.7 L214.7,837.3 L214.8,836.0 L218.1,836.5 L218.2,835.3 L218.4,834.1 L218.5,832.9 L218.7,831.7 L218.9,830.5 L219.1,829.3 L219.3,828.2 L219.5,827.0 L219.8,825.9 L220.0,824.8 L220.3,823.6 L220.6,822.5 L220.9,821.4 L221.2,820.4 L221.5,819.3 L221.9,818.3 L222.2,817.2 L222.6,816.2 L223.0,815.2 L223.4,814.2 L223.8,813.2 L224.2,812.3 L224.7,811.3 L222.3,806.9 L222.8,805.9 L223.4,805.0 L223.9,804.0 L224.4,803.1 L225.0,802.2 L225.5,801.3 L226.1,800.5 L226.7,799.6 L227.3,798.8 L227.9,798.0 L228.5,797.2 L229.2,796.5 L229.8,795.7 L230.5,795.0 L231.2,794.3 L231.8,793.6 L232.5,793.0 L233.2,792.3 L234.0,791.7 L234.7,791.1 L237.4,795.0 L238.1,794.5 L238.8,794.0 L239.5,793.6 L240.3,793.1 L241.0,792.7 L241.7,792.3 L242.5,791.9 L243.3,791.5 L244.0,791.2 L244.8,790.9 L245.6,790.6 L246.4,790.3 L247.2,790.1 L248.0,789.8 L248.8,789.6 L249.6,789.5 L250.4,789.3 L251.2,789.2 L252.1,789.1 L252.9,789.0 L253.7,788.9 L254.6,788.9 L255.4,788.8 L255.5,783.9 L256.4,784.0 L257.3,784.0 L258.3,784.1 L259.2,784.2 L260.1,784.3 L261.0,784.5 L262.0,784.6 L262.9,784.8 L263.8,785.0 L264.8,785.3 L265.8,790.4 L266.7,790.6 L267.6,790.9 L268.4,791.3 L269.3,791.6 L270.2,792.0 L271.1,792.3 L272.0,792.8 L272.8,793.2 L273.7,793.6 L274.6,794.1 L275.4,794.6 L276.3,795.1 L277.2,795.7 L278.0,796.2 L278.9,796.8 L279.7,797.4 L280.6,798.0 L281.4,798.6 L282.3,799.3 L283.1,800.0 L283.9,800.7 L284.8,801.4 L285.6,802.1 L287.6,798.9 L288.5,799.7 L289.3,800.6 L290.2,801.4 L291.0,802.3 L291.9,803.2 L292.7,804.2 L293.5,805.1 L294.3,806.0 L295.2,807.0 L296.0,808.0 L295.0,812.4 L295.7,813.4 L296.4,814.3 L297.2,815.3 L297.9,816.3 L298.6,817.4 L299.3,818.4 L299.9,819.4 L300.6,820.5 L301.3,821.6 L301.9,822.7 L302.6,823.8 L303.2,824.9 L303.8,826.0 L304.4,827.2 L305.0,828.3 L305.6,829.5 L306.2,830.7 L306.7,831.8 L307.3,833.0 L307.8,834.2 L308.3,835.5 L308.9,836.7 L309.4,837.9 L312.6,837.5 L313.1,838.8 L313.6,840.2 L314.1,841.5 L314.5,842.9 L315.0,844.2 L315.4,845.6 L315.8,846.9 L316.2,848.3 L316.6,849.7 Z M307.4,853.6 L307.7,854.7 L308.0,855.9 L308.3,857.0 L308.5,858.1 L308.8,859.2 L309.0,860.4 L309.2,861.5 L309.4,862.6 L309.6,863.7 L309.8,864.9 L310.0,866.0 L310.1,867.1 L310.3,868.2 L310.4,869.4 L310.5,870.5 L310.6,871.6 L310.7,872.7 L310.8,873.9 L310.8,875.0 L310.9,876.1 L310.9,877.2 L310.9,878.3 L311.0,879.4 L311.0,880.5 L310.9,881.6 L310.9,882.7 L310.9,883.7 L310.8,884.8 L310.7,885.9 L310.7,886.9 L310.6,888.0 L310.5,889.0 L310.4,890.1 L310.2,891.1 L310.1,892.1 L309.9,893.1 L309.7,894.1 L309.6,895.1 L309.4,896.1 L309.2,897.1 L308.9,898.1 L308.7,899.0 L308.5,900.0 L308.2,900.9 L307.9,901.8 L307.6,902.7 L307.3,903.6 L307.0,904.5 L306.7,905.4 L306.4,906.3 L306.0,907.1 L305.7,907.9 L305.3,908.8 L305.0,909.6 L304.6,910.4 L304.2,911.2 L303.8,911.9 L303.3,912.7 L302.9,913.4 L302.5,914.1 L302.0,914.8 L301.5,915.5 L301.1,916.2 L300.6,916.9 L300.1,917.5 L299.6,918.2 L299.1,918.8 L298.5,919.4 L298.0,919.9 L297.5,920.5 L296.9,921.1 L296.4,921.6 L295.8,922.1 L295.2,922.6 L294.6,923.1 L294.0,923.5 L293.4,924.0 L292.8,924.4 L292.2,924.8 L291.6,925.2 L291.0,925.5 L290.3,925.9 L289.7,926.2 L289.0,926.5 L288.4,926.8 L287.7,927.1 L287.0,927.3 L286.3,927.6 L285.7,927.8 L285.0,928.0 L284.3,928.1 L283.6,928.3 L282.9,928.4 L282.2,928.6 L281.5,928.7 L280.8,928.7 L280.0,928.8 L279.3,928.8 L278.6,928.8 L277.9,928.8 L277.1,928.8 L276.4,928.8 L275.7,928.7 L274.9,928.6 L274.2,928.5 L273.4,928.4 L272.7,928.3 L271.9,928.1 L271.2,927.9 L270.4,927.8 L269.7,927.5 L268.9,927.3 L268.2,927.0 L267.4,926.8 L266.7,926.5 L265.9,926.2 L265.2,925.8 L264.4,925.5 L263.7,925.1 L262.9,924.7 L262.2,924.3 L261.4,923.9 L260.7,923.5 L260.0,923.0 L259.2,922.5 L258.5,922.0 L257.8,921.5 L257.0,921.0 L256.3,920.4 L255.6,919.9 L254.9,919.3 L254.1,918.7 L253.4,918.1 L252.7,917.4 L252.0,916.8 L251.3,916.1 L250.6,915.4 L250.0,914.8 L249.3,914.0 L248.6,913.3 L247.9,912.6 L247.3,911.8 L246.6,911.0 L246.0,910.3 L245.3,909.5 L244.7,908.7 L244.1,907.8 L243.4,907.0 L242.8,906.1 L242.2,905.3 L241.6,904.4 L241.0,903.5 L240.4,902.6 L239.9,901.7 L239.3,900.8 L238.7,899.8 L238.2,898.9 L237.6,897.9 L237.1,897.0 L236.6,896.0 L236.1,895.0 L235.6,894.0 L235.1,893.0 L234.6,892.0 L234.1,891.0 L233.7,889.9 L233.2,888.9 L232.8,887.8 L232.4,886.8 L231.9,885.7 L231.5,884.7 L231.1,883.6 L230.7,882.5 L230.4,881.4 L230.0,880.3 L229.7,879.2 L229.3,878.1 L229.0,877.0 L228.7,875.9 L228.4,874.8 L228.1,873.7 L227.8,872.6 L227.5,871.5 L227.3,870.3 L227.0,869.2 L226.8,868.1 L226.6,867.0 L226.4,865.8 L226.2,864.7 L226.0,863.6 L225.8,862.5 L225.7,861.3 L225.5,860.2 L225.4,859.1 L225.3,858.0 L225.2,856.8 L225.1,855.7 L225.0,854.6 L225.0,853.5 L224.9,852.4 L224.9,851.3 L224.9,850.2 L224.8,849.1 L224.8,848.0 L224.9,846.9 L224.9,845.8 L224.9,844.7 L225.0,843.6 L225.0,842.6 L225.1,841.5 L225.2,840.5 L225.3,839.4 L225.4,838.4 L225.6,837.4 L225.7,836.3 L225.9,835.3 L226.1,834.3 L226.2,833.3 L226.4,832.3 L226.6,831.4 L226.9,830.4 L227.1,829.4 L227.3,828.5 L227.6,827.6 L227.9,826.6 L228.2,825.7 L228.4,824.8 L228.8,823.9 L229.1,823.1 L229.4,822.2 L229.7,821.3 L230.1,820.5 L230.5,819.7 L230.8,818.9 L231.2,818.1 L231.6,817.3 L232.0,816.5 L232.5,815.8 L232.9,815.0 L233.3,814.3 L233.8,813.6 L234.3,812.9 L234.7,812.2 L235.2,811.6 L235.7,810.9 L236.2,810.3 L236.7,809.7 L237.3,809.1 L237.8,808.5 L238.3,807.9 L238.9,807.4 L239.4,806.9 L240.0,806.4 L240.6,805.9 L241.2,805.4 L241.8,804.9 L242.4,804.5 L243.0,804.1 L243.6,803.7 L244.2,803.3 L244.8,802.9 L245.5,802.6 L246.1,802.2 L246.8,801.9 L247.4,801.6 L248.1,801.4 L248.8,801.1 L249.4,800.9 L250.1,800.7 L250.8,800.5 L251.5,800.3 L252.2,800.1 L252.9,800.0 L253.6,799.9 L254.3,799.8 L255.0,799.7 L255.8,799.7 L256.5,799.6 L257.2,799.6 L257.9,799.6 L258.7,799.6 L259.4,799.7 L260.1,799.7 L260.9,799.8 L261.6,799.9 L262.4,800.0 L263.1,800.2 L263.9,800.3 L264.6,800.5 L265.4,800.7 L266.1,800.9 L266.9,801.1 L267.6,801.4 L268.4,801.7 L269.1,802.0 L269.9,802.3 L270.6,802.6 L271.4,803.0 L272.1,803.3 L272.9,803.7 L273.6,804.1 L274.4,804.5 L275.1,805.0 L275.8,805.4 L276.6,805.9 L277.3,806.4 L278.0,806.9 L278.8,807.5 L279.5,808.0 L280.2,808.6 L280.9,809.2 L281.7,809.8 L282.4,810.4 L283.1,811.0 L283.8,811.7 L284.5,812.3 L285.2,813.0 L285.8,813.7 L286.5,814.4 L287.2,815.1 L287.9,815.9 L288.5,816.6 L289.2,817.4 L289.8,818.2 L290.5,819.0 L291.1,819.8 L291.7,820.6 L292.4,821.5 L293.0,822.3 L293.6,823.2 L294.2,824.1 L294.8,824.9 L295.4,825.8 L295.9,826.8 L296.5,827.7 L297.1,828.6 L297.6,829.6 L298.1,830.5 L298.7,831.5 L299.2,832.5 L299.7,833.5 L300.2,834.5 L300.7,835.5 L301.2,836.5 L301.7,837.5 L302.1,838.5 L302.6,839.6 L303.0,840.6 L303.4,841.7 L303.9,842.7 L304.3,843.8 L304.7,844.9 L305.0,845.9 L305.4,847.0 L305.8,848.1 L306.1,849.2 L306.5,850.3 L306.8,851.4 L307.1,852.5 Z" fill="#fff" fill-rule="evenodd" stroke-width="1.5"/>
<path d="M314.1,851.8 L311.5,853.9 L311.8,855.2 L312.1,856.6 L312.4,857.9 L312.7,859.2 L312.9,860.5 L313.2,861.8 L313.4,863.1 L313.7,864.4 L313.9,865.7 L314.1,867.1 L314.2,868.4 L314.4,869.7 L314.6,871.0 L314.7,872.3 L314.8,873.6 L314.9,874.9 L315.0,876.2 L315.1,877.5 L315.1,878.8 L315.2,880.1 L315.2,881.4 L315.2,882.7 L315.2,884.0 L318.5,886.5 L318.4,887.9 L318.4,889.2 L318.3,890.6 L318.2,891.9 L318.1,893.2 L318.0,894.5 L317.9,895.8 L317.7,897.1 L317.6,898.4 L317.4,899.7 L314.0,898.7 L313.8,899.9 L313.6,901.1 L313.4,902.2 L313.1,903.3 L312.9,904.5 L312.6,905.6 L312.3,906.7 L312.0,907.8 L311.7,908.9 L311.4,909.9 L311.0,911.0 L310.7,912.0 L310.3,913.0 L309.9,914.0 L309.5,915.0 L309.1,916.0 L308.7,917.0 L308.2,917.9 L307.8,918.8 L307.3,919.8 L306.8,920.6 L306.3,921.5 L305.8,922.4 L307.9,927.0 L307.4,927.9 L306.8,928.8 L306.2,929.6 L305.6,930.4 L305.0,931.2 L304.4,932.0 L303.7,932.8 L303.1,933.5 L302.4,934.2 L301.7,934.9 L298.9,931.3 L298.2,931.9 L297.5,932.5 L296.9,933.1 L296.2,933.6 L295.5,934.2 L294.8,934.7 L294.1,935.2 L293.4,935.7 L292.6,936.1 L291.9,936.5 L291.2,936.9 L290.4,937.3 L289.6,937.7 L288.9,938.0 L288.1,938.3 L287.3,938.6 L286.5,938.9 L285.7,939.1 L284.9,939.4 L284.1,939.6 L283.3,939.8 L282.5,939.9 L281.7,940.1 L281.9,945.1 L281.0,945.1 L280.1,945.2 L279.2,945.3 L278.3,945.3 L277.4,945.3 L276.5,945.3 L275.5,945.2 L274.6,945.1 L273.7,945.0 L272.8,944.9 L271.4,939.9 L270.6,939.7 L269.7,939.6 L268.8,939.3 L268.0,939.1 L267.1,938.9 L266.2,938.6 L265.3,938.3 L264.5,938.0 L263.6,937.6 L262.7,937.3 L261.8,936.9 L260.9,936.5 L260.1,936.0 L259.2,935.6 L258.3,935.1 L257.5,934.6 L256.6,934.1 L255.7,933.6 L254.9,933.0 L254.0,932.4 L253.2,931.8 L252.3,931.2 L251.5,930.6 L249.7,934.1 L248.8,933.4 L247.9,932.7 L247.0,931.9 L246.2,931.1 L245.3,930.3 L244.4,929.5 L243.6,928.6 L242.7,927.8 L241.9,926.9 L241.0,926.0 L241.7,921.4 L240.9,920.5 L240.2,919.6 L239.4,918.7 L238.7,917.8 L237.9,916.8 L237.2,915.9 L236.5,914.9 L235.7,913.9 L235.0,912.9 L234.3,911.9 L233.6,910.8 L233.0,909.8 L232.3,908.7 L231.6,907.6 L231.0,906.5 L230.3,905.4 L229.7,904.3 L229.1,903.2 L228.5,902.0 L227.9,900.9 L227.3,899.7 L226.7,898.6 L226.2,897.4 L223.1,898.2 L222.5,896.9 L221.9,895.6 L221.4,894.3 L220.8,893.0 L220.3,891.7 L219.8,890.4 L219.3,889.1 L218.8,887.7 L218.4,886.4 L217.9,885.0 L220.4,882.5 L220.0,881.2 L219.6,879.9 L219.2,878.7 L218.9,877.4 L218.5,876.1 L218.2,874.8 L217.9,873.4 L217.6,872.1 L217.3,870.8 L217.1,869.5 L216.8,868.2 L216.6,866.9 L216.3,865.6 L216.1,864.3 L215.9,862.9 L215.8,861.6 L215.6,860.3 L215.4,859.0 L215.3,857.7 L215.2,856.4 L215.1,855.1 L215.0,853.8 L214.9,852.5 L211.6,850.3 L211.5,848.9 L211.5,847.5 L211.5,846.2 L211.5,844.8 L211.5,843.5 L211.6,842.1 L211.6,840.8 L211.7,839.4 L211.8,838.1 L211.9,836.8 L215.2,837.3 L215.3,836.1 L215.5,834.9 L215.6,833.7 L215.8,832.5 L216.0,831.3 L216.2,830.1 L216.4,828.9 L216.6,827.8 L216.9,826.7 L217.1,825.5 L217.4,824.4 L217.7,823.3 L218.0,822.2 L218.3,821.1 L218.6,820.1 L219.0,819.0 L219.3,818.0 L219.7,817.0 L220.1,816.0 L220.5,815.0 L220.9,814.0 L221.3,813.0 L221.8,812.1 L219.4,807.7 L219.9,806.7 L220.5,805.7 L221.0,804.8 L221.5,803.9 L222.1,803.0 L222.6,802.1 L223.2,801.2 L223.8,800.4 L224.4,799.6 L225.0,798.8 L225.6,798.0 L226.3,797.2 L226.9,796.5 L227.6,795.8 L228.3,795.1 L228.9,794.4 L229.6,793.7 L230.3,793.1 L231.1,792.5 L231.8,791.9 L234.5,795.8 L235.2,795.3 L235.9,794.8 L236.6,794.3 L237.4,793.9 L238.1,793.5 L238.8,793.1 L239.6,792.7 L240.4,792.3 L241.1,792.0 L241.9,791.7 L242.7,791.4 L243.5,791.1 L244.3,790.9 L245.1,790.6 L245.9,790.4 L246.7,790.2 L247.5,790.1 L248.3,789.9 L249.2,789.8 L250.0,789.7 L250.8,789.7 L251.7,789.6 L252.5,789.6 L252.6,784.7 L253.5,784.7 L254.5,784.8 L255.4,784.9 L256.3,785.0 L257.2,785.1 L258.1,785.2 L259.1,785.4 L260.0,785.6 L260.9,785.8 L261.9,786.1 L262.9,791.1 L263.8,791.4 L264.7,791.7 L265.5,792.0 L266.4,792.4 L267.3,792.7 L268.2,793.1 L269.1,793.5 L269.9,794.0 L270.8,794.4 L271.7,794.9 L272.5,795.4 L273.4,795.9 L274.3,796.4 L275.1,797.0 L276.0,797.6 L276.8,798.2 L277.7,798.8 L278.5,799.4 L279.4,800.1 L280.2,800.8 L281.0,801.5 L281.9,802.2 L282.7,802.9 L284.7,799.7 L285.6,800.5 L286.4,801.4 L287.3,802.2 L288.1,803.1 L289.0,804.0 L289.8,804.9 L290.6,805.9 L291.4,806.8 L292.3,807.8 L293.1,808.8 L292.1,813.2 L292.8,814.1 L293.5,815.1 L294.3,816.1 L295.0,817.1 L295.7,818.1 L296.4,819.2 L297.0,820.2 L297.7,821.3 L298.4,822.4 L299.0,823.5 L299.7,824.6 L300.3,825.7 L300.9,826.8 L301.5,828.0 L302.1,829.1 L302.7,830.3 L303.3,831.4 L303.8,832.6 L304.4,833.8 L304.9,835.0 L305.4,836.2 L306.0,837.5 L306.5,838.7 L309.7,838.3 L310.2,839.6 L310.7,840.9 L311.2,842.3 L311.6,843.6 L312.1,845.0 L312.5,846.3 L312.9,847.7 L313.3,849.1 L313.7,850.5 Z M304.5,854.4 L304.8,855.5 L305.1,856.6 L305.4,857.8 L305.6,858.9 L305.9,860.0 L306.1,861.1 L306.3,862.3 L306.5,863.4 L306.7,864.5 L306.9,865.6 L307.1,866.8 L307.2,867.9 L307.4,869.0 L307.5,870.1 L307.6,871.3 L307.7,872.4 L307.8,873.5 L307.9,874.6 L307.9,875.7 L308.0,876.9 L308.0,878.0 L308.0,879.1 L308.1,880.2 L308.1,881.3 L308.0,882.3 L308.0,883.4 L308.0,884.5 L307.9,885.6 L307.9,886.6 L307.8,887.7 L307.7,888.8 L307.6,889.8 L307.5,890.8 L307.3,891.9 L307.2,892.9 L307.0,893.9 L306.8,894.9 L306.7,895.9 L306.5,896.9 L306.3,897.9 L306.0,898.8 L305.8,899.8 L305.6,900.7 L305.3,901.7 L305.0,902.6 L304.7,903.5 L304.4,904.4 L304.1,905.3 L303.8,906.2 L303.5,907.0 L303.1,907.9 L302.8,908.7 L302.4,909.5 L302.1,910.4 L301.7,911.1 L301.3,911.9 L300.9,912.7 L300.4,913.5 L300.0,914.2 L299.6,914.9 L299.1,915.6 L298.6,916.3 L298.2,917.0 L297.7,917.7 L297.2,918.3 L296.7,918.9 L296.2,919.5 L295.6,920.1 L295.1,920.7 L294.6,921.3 L294.0,921.8 L293.5,922.4 L292.9,922.9 L292.3,923.4 L291.7,923.8 L291.1,924.3 L290.5,924.7 L289.9,925.2 L289.3,925.6 L288.7,925.9 L288.1,926.3 L287.4,926.7 L286.8,927.0 L286.1,927.3 L285.5,927.6 L284.8,927.9 L284.1,928.1 L283.5,928.3 L282.8,928.6 L282.1,928.8 L281.4,928.9 L280.7,929.1 L280.0,929.2 L279.3,929.3 L278.6,929.4 L277.9,929.5 L277.1,929.6 L276.4,929.6 L275.7,929.6 L275.0,929.6 L274.2,929.6 L273.5,929.6 L272.8,929.5 L272.0,929.4 L271.3,929.3 L270.5,929.2 L269.8,929.1 L269.0,928.9 L268.3,928.7 L267.5,928.5 L266.8,928.3 L266.0,928.1 L265.3,927.8 L264.5,927.5 L263.8,927.3 L263.0,926.9 L262.3,926.6 L261.5,926.3 L260.8,925.9 L260.0,925.5 L259.3,925.1 L258.5,924.7 L257.8,924.2 L257.1,923.8 L256.3,923.3 L255.6,922.8 L254.9,922.3 L254.1,921.8 L253.4,921.2 L252.7,920.6 L252.0,920.1 L251.2,919.5 L250.5,918.8 L249.8,918.2 L249.1,917.6 L248.4,916.9 L247.7,916.2 L247.1,915.5 L246.4,914.8 L245.7,914.1 L245.0,913.4 L244.4,912.6 L243.7,911.8 L243.1,911.0 L242.4,910.2 L241.8,909.4 L241.2,908.6 L240.5,907.8 L239.9,906.9 L239.3,906.0 L238.7,905.2 L238.1,904.3 L237.5,903.4 L237.0,902.5 L236.4,901.5 L235.8,900.6 L235.3,899.7 L234.8,898.7 L234.2,897.7 L233.7,896.8 L233.2,895.8 L232.7,894.8 L232.2,893.8 L231.7,892.8 L231.2,891.7 L230.8,890.7 L230.3,889.7 L229.9,888.6 L229.5,887.6 L229.0,886.5 L228.6,885.4 L228.2,884.4 L227.9,883.3 L227.5,882.2 L227.1,881.1 L226.8,880.0 L226.4,878.9 L226.1,877.8 L225.8,876.7 L225.5,875.6 L225.2,874.5 L224.9,873.4 L224.6,872.2 L224.4,871.1 L224.1,870.0 L223.9,868.9 L223.7,867.7 L223.5,866.6 L223.3,865.5 L223.1,864.4 L222.9,863.2 L222.8,862.1 L222.6,861.0 L222.5,859.9 L222.4,858.7 L222.3,857.6 L222.2,856.5 L222.1,855.4 L222.1,854.3 L222.0,853.1 L222.0,852.0 L222.0,850.9 L221.9,849.8 L221.9,848.7 L222.0,847.7 L222.0,846.6 L222.0,845.5 L222.1,844.4 L222.1,843.4 L222.2,842.3 L222.3,841.2 L222.4,840.2 L222.5,839.2 L222.7,838.1 L222.8,837.1 L223.0,836.1 L223.2,835.1 L223.3,834.1 L223.5,833.1 L223.7,832.1 L224.0,831.2 L224.2,830.2 L224.4,829.3 L224.7,828.3 L225.0,827.4 L225.3,826.5 L225.6,825.6 L225.9,824.7 L226.2,823.8 L226.5,823.0 L226.9,822.1 L227.2,821.3 L227.6,820.5 L227.9,819.6 L228.3,818.9 L228.7,818.1 L229.1,817.3 L229.6,816.5 L230.0,815.8 L230.4,815.1 L230.9,814.4 L231.4,813.7 L231.8,813.0 L232.3,812.3 L232.8,811.7 L233.3,811.1 L233.8,810.5 L234.4,809.9 L234.9,809.3 L235.4,808.7 L236.0,808.2 L236.5,807.6 L237.1,807.1 L237.7,806.6 L238.3,806.2 L238.9,805.7 L239.5,805.3 L240.1,804.8 L240.7,804.4 L241.3,804.1 L241.9,803.7 L242.6,803.3 L243.2,803.0 L243.9,802.7 L244.5,802.4 L245.2,802.1 L245.9,801.9 L246.5,801.7 L247.2,801.4 L247.9,801.2 L248.6,801.1 L249.3,800.9 L250.0,800.8 L250.7,800.7 L251.4,800.6 L252.1,800.5 L252.9,800.4 L253.6,800.4 L254.3,800.4 L255.0,800.4 L255.8,800.4 L256.5,800.4 L257.2,800.5 L258.0,800.6 L258.7,800.7 L259.5,800.8 L260.2,800.9 L261.0,801.1 L261.7,801.3 L262.5,801.5 L263.2,801.7 L264.0,801.9 L264.7,802.2 L265.5,802.5 L266.2,802.7 L267.0,803.1 L267.7,803.4 L268.5,803.7 L269.2,804.1 L270.0,804.5 L270.7,804.9 L271.5,805.3 L272.2,805.8 L272.9,806.2 L273.7,806.7 L274.4,807.2 L275.1,807.7 L275.9,808.2 L276.6,808.8 L277.3,809.4 L278.0,809.9 L278.8,810.5 L279.5,811.2 L280.2,811.8 L280.9,812.4 L281.6,813.1 L282.3,813.8 L282.9,814.5 L283.6,815.2 L284.3,815.9 L285.0,816.6 L285.6,817.4 L286.3,818.2 L286.9,819.0 L287.6,819.8 L288.2,820.6 L288.8,821.4 L289.5,822.2 L290.1,823.1 L290.7,824.0 L291.3,824.8 L291.9,825.7 L292.5,826.6 L293.0,827.5 L293.6,828.5 L294.2,829.4 L294.7,830.3 L295.2,831.3 L295.8,832.3 L296.3,833.2 L296.8,834.2 L297.3,835.2 L297.8,836.2 L298.3,837.2 L298.8,838.3 L299.2,839.3 L299.7,840.3 L300.1,841.4 L300.5,842.4 L301.0,843.5 L301.4,844.6 L301.8,845.6 L302.1,846.7 L302.5,847.8 L302.9,848.9 L303.2,850.0 L303.6,851.1 L303.9,852.2 L304.2,853.3 Z" fill="#fff" fill-rule="evenodd" stroke-width="1.5"/>
<path d="M316.5,851.4 L313.9,853.5 L314.2,854.8 L314.5,856.1 L314.8,857.5 L315.1,858.8 L315.4,860.1 L315.7,861.5 L315.9,862.8 L316.1,864.1 L316.3,865.5 L316.5,866.8 L316.7,868.1 L316.9,869.5 L317.0,870.8 L317.2,872.1 L317.3,873.4 L317.4,874.8 L317.5,876.1 L317.6,877.4 L317.6,878.7 L317.7,880.0 L317.7,881.3 L317.7,882.6 L317.7,883.9 L321.0,886.5 L320.9,887.9 L320.9,889.2 L320.8,890.6 L320.7,891.9 L320.6,893.3 L320.5,894.6 L320.4,895.9 L320.2,897.2 L320.1,898.5 L319.9,899.8 L316.5,898.9 L316.3,900.1 L316.1,901.2 L315.8,902.4 L315.6,903.5 L315.3,904.7 L315.1,905.8 L314.8,906.9 L314.5,908.0 L314.1,909.1 L313.8,910.2 L313.5,911.3 L313.1,912.3 L312.7,913.4 L312.3,914.4 L311.9,915.4 L311.5,916.4 L311.1,917.3 L310.6,918.3 L310.2,919.2 L309.7,920.2 L309.2,921.1 L308.7,922.0 L308.2,922.8 L310.3,927.5 L309.7,928.4 L309.1,929.2 L308.5,930.1 L307.9,930.9 L307.3,931.7 L306.7,932.5 L306.0,933.3 L305.4,934.1 L304.7,934.8 L304.0,935.5 L301.1,931.9 L300.5,932.5 L299.8,933.1 L299.1,933.7 L298.4,934.2 L297.7,934.8 L297.0,935.3 L296.3,935.8 L295.6,936.3 L294.8,936.7 L294.1,937.2 L293.3,937.6 L292.6,938.0 L291.8,938.3 L291.0,938.7 L290.2,939.0 L289.4,939.3 L288.6,939.6 L287.8,939.8 L287.0,940.0 L286.2,940.3 L285.4,940.4 L284.5,940.6 L283.7,940.7 L283.9,945.7 L283.0,945.8 L282.1,945.9 L281.2,946.0 L280.3,946.0 L279.4,946.0 L278.4,945.9 L277.5,945.9 L276.6,945.8 L275.6,945.7 L274.7,945.6 L273.4,940.6 L272.5,940.4 L271.6,940.2 L270.7,940.0 L269.8,939.8 L268.9,939.5 L268.0,939.3 L267.2,938.9 L266.3,938.6 L265.4,938.3 L264.5,937.9 L263.6,937.5 L262.7,937.1 L261.8,936.7 L261.0,936.2 L260.1,935.7 L259.2,935.2 L258.3,934.7 L257.4,934.2 L256.6,933.6 L255.7,933.0 L254.8,932.4 L254.0,931.8 L253.1,931.1 L251.3,934.7 L250.4,934.0 L249.5,933.2 L248.6,932.4 L247.8,931.6 L246.9,930.8 L246.0,930.0 L245.1,929.1 L244.3,928.2 L243.4,927.4 L242.6,926.4 L243.2,921.8 L242.4,921.0 L241.7,920.0 L240.9,919.1 L240.1,918.2 L239.4,917.2 L238.6,916.2 L237.9,915.2 L237.2,914.2 L236.5,913.2 L235.8,912.2 L235.1,911.1 L234.4,910.1 L233.7,909.0 L233.0,907.9 L232.4,906.8 L231.7,905.7 L231.1,904.5 L230.5,903.4 L229.8,902.2 L229.2,901.1 L228.6,899.9 L228.1,898.7 L227.5,897.5 L224.4,898.3 L223.8,897.0 L223.2,895.7 L222.7,894.4 L222.1,893.1 L221.6,891.7 L221.1,890.4 L220.6,889.1 L220.1,887.7 L219.6,886.3 L219.2,885.0 L221.6,882.4 L221.2,881.1 L220.9,879.8 L220.5,878.5 L220.1,877.2 L219.8,875.9 L219.4,874.6 L219.1,873.3 L218.8,871.9 L218.5,870.6 L218.3,869.3 L218.0,867.9 L217.8,866.6 L217.5,865.3 L217.3,863.9 L217.1,862.6 L216.9,861.3 L216.8,860.0 L216.6,858.6 L216.5,857.3 L216.4,856.0 L216.3,854.6 L216.2,853.3 L216.1,852.0 L212.8,849.8 L212.7,848.4 L212.7,847.0 L212.7,845.6 L212.7,844.3 L212.7,842.9 L212.7,841.5 L212.8,840.2 L212.9,838.8 L212.9,837.5 L213.0,836.2 L216.4,836.6 L216.5,835.4 L216.7,834.2 L216.8,833.0 L217.0,831.7 L217.2,830.5 L217.4,829.4 L217.6,828.2 L217.8,827.0 L218.1,825.9 L218.3,824.7 L218.6,823.6 L218.9,822.5 L219.2,821.4 L219.5,820.3 L219.9,819.2 L220.2,818.1 L220.6,817.1 L220.9,816.1 L221.3,815.0 L221.7,814.0 L222.2,813.0 L222.6,812.1 L223.0,811.1 L220.7,806.7 L221.2,805.7 L221.7,804.7 L222.3,803.8 L222.8,802.8 L223.4,801.9 L223.9,801.0 L224.5,800.2 L225.1,799.3 L225.7,798.5 L226.4,797.7 L227.0,796.9 L227.6,796.1 L228.3,795.4 L229.0,794.6 L229.6,793.9 L230.3,793.2 L231.0,792.6 L231.8,791.9 L232.5,791.3 L233.2,790.7 L235.9,794.6 L236.7,794.1 L237.4,793.6 L238.1,793.1 L238.8,792.7 L239.6,792.2 L240.3,791.8 L241.1,791.5 L241.9,791.1 L242.6,790.7 L243.4,790.4 L244.2,790.1 L245.0,789.8 L245.8,789.6 L246.6,789.4 L247.5,789.2 L248.3,789.0 L249.1,788.8 L249.9,788.7 L250.8,788.6 L251.6,788.5 L252.5,788.4 L253.3,788.4 L254.2,788.3 L254.3,783.4 L255.2,783.5 L256.2,783.5 L257.1,783.6 L258.0,783.7 L258.9,783.8 L259.9,784.0 L260.8,784.1 L261.8,784.3 L262.7,784.6 L263.6,784.8 L264.7,789.9 L265.6,790.2 L266.5,790.5 L267.4,790.8 L268.3,791.1 L269.2,791.5 L270.0,791.9 L270.9,792.3 L271.8,792.7 L272.7,793.2 L273.6,793.7 L274.5,794.2 L275.3,794.7 L276.2,795.2 L277.1,795.8 L278.0,796.4 L278.8,797.0 L279.7,797.6 L280.5,798.3 L281.4,798.9 L282.2,799.6 L283.1,800.3 L283.9,801.1 L284.8,801.8 L286.8,798.6 L287.7,799.4 L288.5,800.3 L289.4,801.2 L290.3,802.1 L291.1,803.0 L291.9,803.9 L292.8,804.9 L293.6,805.8 L294.4,806.8 L295.2,807.8 L294.3,812.2 L295.0,813.2 L295.7,814.2 L296.5,815.2 L297.2,816.2 L297.9,817.2 L298.6,818.3 L299.3,819.3 L300.0,820.4 L300.6,821.5 L301.3,822.6 L301.9,823.7 L302.6,824.9 L303.2,826.0 L303.8,827.2 L304.4,828.3 L305.0,829.5 L305.6,830.7 L306.2,831.9 L306.7,833.1 L307.3,834.3 L307.8,835.6 L308.3,836.8 L308.8,838.0 L312.1,837.7 L312.6,839.0 L313.1,840.4 L313.5,841.7 L314.0,843.1 L314.5,844.5 L314.9,845.8 L315.3,847.2 L315.8,848.6 L316.2,850.0 Z M305.2,854.4 L305.4,855.5 L305.7,856.6 L306.0,857.7 L306.2,858.8 L306.5,859.9 L306.7,861.0 L306.9,862.0 L307.1,863.1 L307.3,864.2 L307.5,865.3 L307.6,866.4 L307.8,867.5 L307.9,868.6 L308.0,869.7 L308.1,870.8 L308.2,871.9 L308.3,873.0 L308.4,874.0 L308.5,875.1 L308.5,876.2 L308.5,877.3 L308.6,878.3 L308.6,879.4 L308.6,880.5 L308.6,881.5 L308.5,882.6 L308.5,883.6 L308.4,884.7 L308.4,885.7 L308.3,886.7 L308.2,887.7 L308.1,888.8 L308.0,889.8 L307.9,890.8 L307.7,891.8 L307.6,892.7 L307.4,893.7 L307.2,894.7 L307.0,895.6 L306.8,896.6 L306.6,897.5 L306.4,898.4 L306.2,899.4 L305.9,900.3 L305.6,901.2 L305.4,902.0 L305.1,902.9 L304.8,903.8 L304.5,904.6 L304.2,905.5 L303.8,906.3 L303.5,907.1 L303.1,907.9 L302.8,908.7 L302.4,909.5 L302.0,910.2 L301.6,911.0 L301.2,911.7 L300.8,912.4 L300.3,913.1 L299.9,913.8 L299.4,914.5 L299.0,915.1 L298.5,915.8 L298.0,916.4 L297.6,917.0 L297.1,917.6 L296.5,918.2 L296.0,918.7 L295.5,919.3 L295.0,919.8 L294.4,920.3 L293.9,920.8 L293.3,921.3 L292.7,921.8 L292.2,922.2 L291.6,922.6 L291.0,923.0 L290.4,923.4 L289.8,923.8 L289.2,924.2 L288.6,924.5 L287.9,924.8 L287.3,925.1 L286.7,925.4 L286.0,925.7 L285.4,925.9 L284.7,926.1 L284.1,926.3 L283.4,926.5 L282.7,926.7 L282.0,926.8 L281.4,927.0 L280.7,927.1 L280.0,927.2 L279.3,927.3 L278.6,927.3 L277.9,927.4 L277.2,927.4 L276.5,927.4 L275.8,927.3 L275.1,927.3 L274.3,927.3 L273.6,927.2 L272.9,927.1 L272.2,927.0 L271.5,926.8 L270.7,926.7 L270.0,926.5 L269.3,926.3 L268.6,926.1 L267.8,925.9 L267.1,925.6 L266.4,925.4 L265.6,925.1 L264.9,924.8 L264.2,924.4 L263.5,924.1 L262.7,923.8 L262.0,923.4 L261.3,923.0 L260.6,922.6 L259.8,922.1 L259.1,921.7 L258.4,921.2 L257.7,920.8 L257.0,920.3 L256.3,919.7 L255.6,919.2 L254.9,918.7 L254.2,918.1 L253.5,917.5 L252.8,916.9 L252.1,916.3 L251.4,915.7 L250.8,915.0 L250.1,914.4 L249.4,913.7 L248.8,913.0 L248.1,912.3 L247.5,911.6 L246.8,910.9 L246.2,910.1 L245.6,909.4 L244.9,908.6 L244.3,907.8 L243.7,907.0 L243.1,906.2 L242.5,905.3 L241.9,904.5 L241.3,903.7 L240.8,902.8 L240.2,901.9 L239.6,901.0 L239.1,900.1 L238.6,899.2 L238.0,898.3 L237.5,897.4 L237.0,896.4 L236.5,895.5 L236.0,894.5 L235.5,893.6 L235.0,892.6 L234.6,891.6 L234.1,890.6 L233.6,889.6 L233.2,888.6 L232.8,887.6 L232.4,886.6 L232.0,885.6 L231.6,884.5 L231.2,883.5 L230.8,882.4 L230.4,881.4 L230.1,880.3 L229.8,879.3 L229.4,878.2 L229.1,877.1 L228.8,876.1 L228.5,875.0 L228.2,873.9 L227.9,872.8 L227.7,871.7 L227.4,870.6 L227.2,869.5 L227.0,868.5 L226.8,867.4 L226.6,866.3 L226.4,865.2 L226.2,864.1 L226.0,863.0 L225.9,861.9 L225.8,860.8 L225.6,859.7 L225.5,858.6 L225.4,857.5 L225.3,856.5 L225.3,855.4 L225.2,854.3 L225.1,853.2 L225.1,852.1 L225.1,851.1 L225.1,850.0 L225.1,848.9 L225.1,847.9 L225.1,846.8 L225.2,845.8 L225.2,844.8 L225.3,843.7 L225.4,842.7 L225.4,841.7 L225.5,840.7 L225.7,839.6 L225.8,838.7 L225.9,837.7 L226.1,836.7 L226.3,835.7 L226.4,834.7 L226.6,833.8 L226.8,832.8 L227.0,831.9 L227.3,831.0 L227.5,830.1 L227.8,829.2 L228.0,828.3 L228.3,827.4 L228.6,826.5 L228.9,825.6 L229.2,824.8 L229.5,824.0 L229.8,823.1 L230.2,822.3 L230.5,821.5 L230.9,820.7 L231.3,820.0 L231.7,819.2 L232.1,818.5 L232.5,817.7 L232.9,817.0 L233.3,816.3 L233.8,815.6 L234.2,814.9 L234.7,814.3 L235.1,813.6 L235.6,813.0 L236.1,812.4 L236.6,811.8 L237.1,811.2 L237.6,810.7 L238.2,810.1 L238.7,809.6 L239.2,809.1 L239.8,808.6 L240.3,808.1 L240.9,807.7 L241.5,807.2 L242.1,806.8 L242.7,806.4 L243.3,806.0 L243.9,805.6 L244.5,805.3 L245.1,804.9 L245.7,804.6 L246.3,804.3 L247.0,804.0 L247.6,803.8 L248.3,803.5 L248.9,803.3 L249.6,803.1 L250.3,802.9 L250.9,802.7 L251.6,802.6 L252.3,802.4 L253.0,802.3 L253.7,802.2 L254.4,802.2 L255.1,802.1 L255.8,802.1 L256.5,802.0 L257.2,802.0 L257.9,802.1 L258.6,802.1 L259.3,802.2 L260.0,802.2 L260.7,802.3 L261.5,802.5 L262.2,802.6 L262.9,802.7 L263.6,802.9 L264.4,803.1 L265.1,803.3 L265.8,803.5 L266.6,803.8 L267.3,804.1 L268.0,804.3 L268.7,804.6 L269.5,805.0 L270.2,805.3 L270.9,805.7 L271.6,806.0 L272.4,806.4 L273.1,806.8 L273.8,807.3 L274.5,807.7 L275.2,808.2 L276.0,808.7 L276.7,809.2 L277.4,809.7 L278.1,810.2 L278.8,810.7 L279.5,811.3 L280.2,811.9 L280.9,812.5 L281.5,813.1 L282.2,813.7 L282.9,814.4 L283.6,815.0 L284.2,815.7 L284.9,816.4 L285.5,817.1 L286.2,817.8 L286.8,818.6 L287.5,819.3 L288.1,820.1 L288.7,820.8 L289.3,821.6 L290.0,822.4 L290.6,823.2 L291.2,824.1 L291.7,824.9 L292.3,825.8 L292.9,826.6 L293.5,827.5 L294.0,828.4 L294.6,829.3 L295.1,830.2 L295.6,831.1 L296.2,832.0 L296.7,833.0 L297.2,833.9 L297.7,834.9 L298.2,835.8 L298.6,836.8 L299.1,837.8 L299.6,838.8 L300.0,839.8 L300.4,840.8 L300.9,841.8 L301.3,842.8 L301.7,843.9 L302.1,844.9 L302.5,845.9 L302.9,847.0 L303.2,848.0 L303.6,849.1 L303.9,850.1 L304.2,851.2 L304.6,852.3 L304.9,853.4 Z" fill="#fff" fill-rule="evenodd" stroke-width="1.5"/>
<path d="M311.7,852.7 L309.1,854.8 L309.4,856.1 L309.7,857.4 L310.0,858.8 L310.3,860.1 L310.6,861.4 L310.8,862.8 L311.1,864.1 L311.3,865.4 L311.5,866.8 L311.7,868.1 L311.9,869.4 L312.1,870.8 L312.2,872.1 L312.3,873.4 L312.5,874.7 L312.6,876.1 L312.7,877.4 L312.7,878.7 L312.8,880.0 L312.8,881.3 L312.9,882.6 L312.9,883.9 L312.9,885.2 L316.1,887.8 L316.1,889.2 L316.0,890.5 L316.0,891.9 L315.9,893.2 L315.8,894.6 L315.7,895.9 L315.5,897.2 L315.4,898.5 L315.2,899.8 L315.0,901.1 L311.7,900.2 L311.5,901.3 L311.2,902.5 L311.0,903.7 L310.8,904.8 L310.5,906.0 L310.2,907.1 L309.9,908.2 L309.6,909.3 L309.3,910.4 L309.0,911.5 L308.6,912.6 L308.3,913.6 L307.9,914.6 L307.5,915.7 L307.1,916.7 L306.7,917.7 L306.2,918.6 L305.8,919.6 L305.3,920.5 L304.9,921.5 L304.4,922.4 L303.9,923.3 L303.4,924.1 L305.5,928.8 L304.9,929.7 L304.3,930.5 L303.7,931.4 L303.1,932.2 L302.5,933.0 L301.8,933.8 L301.2,934.6 L300.5,935.3 L299.9,936.1 L299.2,936.8 L296.3,933.2 L295.6,933.8 L295.0,934.4 L294.3,935.0 L293.6,935.5 L292.9,936.1 L292.2,936.6 L291.5,937.1 L290.7,937.6 L290.0,938.0 L289.2,938.5 L288.5,938.9 L287.7,939.3 L287.0,939.6 L286.2,940.0 L285.4,940.3 L284.6,940.6 L283.8,940.9 L283.0,941.1 L282.2,941.3 L281.4,941.5 L280.5,941.7 L279.7,941.9 L278.9,942.0 L279.1,947.0 L278.2,947.1 L277.3,947.2 L276.4,947.2 L275.4,947.3 L274.5,947.3 L273.6,947.2 L272.7,947.2 L271.7,947.1 L270.8,947.0 L269.9,946.9 L268.5,941.9 L267.6,941.7 L266.8,941.5 L265.9,941.3 L265.0,941.1 L264.1,940.8 L263.2,940.5 L262.3,940.2 L261.4,939.9 L260.6,939.6 L259.7,939.2 L258.8,938.8 L257.9,938.4 L257.0,938.0 L256.1,937.5 L255.2,937.0 L254.4,936.5 L253.5,936.0 L252.6,935.5 L251.7,934.9 L250.9,934.3 L250.0,933.7 L249.1,933.1 L248.3,932.4 L246.5,936.0 L245.6,935.2 L244.7,934.5 L243.8,933.7 L242.9,932.9 L242.0,932.1 L241.2,931.3 L240.3,930.4 L239.4,929.5 L238.6,928.6 L237.7,927.7 L238.4,923.1 L237.6,922.2 L236.8,921.3 L236.1,920.4 L235.3,919.5 L234.6,918.5 L233.8,917.5 L233.1,916.5 L232.4,915.5 L231.6,914.5 L230.9,913.5 L230.2,912.4 L229.5,911.4 L228.9,910.3 L228.2,909.2 L227.5,908.1 L226.9,907.0 L226.3,905.8 L225.6,904.7 L225.0,903.5 L224.4,902.4 L223.8,901.2 L223.2,900.0 L222.7,898.8 L219.5,899.6 L219.0,898.3 L218.4,897.0 L217.8,895.7 L217.3,894.4 L216.8,893.0 L216.3,891.7 L215.8,890.3 L215.3,889.0 L214.8,887.6 L214.4,886.3 L216.8,883.7 L216.4,882.4 L216.0,881.1 L215.6,879.8 L215.3,878.5 L214.9,877.2 L214.6,875.9 L214.3,874.6 L214.0,873.2 L213.7,871.9 L213.4,870.6 L213.2,869.2 L212.9,867.9 L212.7,866.6 L212.5,865.2 L212.3,863.9 L212.1,862.6 L211.9,861.2 L211.8,859.9 L211.7,858.6 L211.5,857.3 L211.4,855.9 L211.3,854.6 L211.3,853.3 L207.9,851.1 L207.9,849.7 L207.9,848.3 L207.9,846.9 L207.9,845.6 L207.9,844.2 L207.9,842.8 L208.0,841.5 L208.0,840.1 L208.1,838.8 L208.2,837.4 L211.6,837.9 L211.7,836.7 L211.8,835.5 L212.0,834.2 L212.2,833.0 L212.3,831.8 L212.5,830.7 L212.8,829.5 L213.0,828.3 L213.2,827.2 L213.5,826.0 L213.8,824.9 L214.1,823.8 L214.4,822.7 L214.7,821.6 L215.0,820.5 L215.4,819.4 L215.7,818.4 L216.1,817.4 L216.5,816.3 L216.9,815.3 L217.3,814.3 L217.8,813.4 L218.2,812.4 L215.9,808.0 L216.4,807.0 L216.9,806.0 L217.4,805.1 L218.0,804.1 L218.5,803.2 L219.1,802.3 L219.7,801.5 L220.3,800.6 L220.9,799.8 L221.5,799.0 L222.2,798.2 L222.8,797.4 L223.5,796.7 L224.1,795.9 L224.8,795.2 L225.5,794.5 L226.2,793.9 L226.9,793.2 L227.6,792.6 L228.4,792.0 L231.1,795.9 L231.8,795.4 L232.5,794.9 L233.3,794.4 L234.0,794.0 L234.8,793.5 L235.5,793.1 L236.3,792.7 L237.0,792.4 L237.8,792.0 L238.6,791.7 L239.4,791.4 L240.2,791.1 L241.0,790.9 L241.8,790.7 L242.6,790.5 L243.5,790.3 L244.3,790.1 L245.1,790.0 L246.0,789.9 L246.8,789.8 L247.7,789.7 L248.5,789.6 L249.4,789.6 L249.5,784.7 L250.4,784.8 L251.3,784.8 L252.3,784.9 L253.2,785.0 L254.1,785.1 L255.1,785.3 L256.0,785.4 L256.9,785.6 L257.9,785.9 L258.8,786.1 L259.9,791.2 L260.8,791.5 L261.7,791.8 L262.6,792.1 L263.4,792.4 L264.3,792.8 L265.2,793.2 L266.1,793.6 L267.0,794.0 L267.9,794.5 L268.8,795.0 L269.6,795.5 L270.5,796.0 L271.4,796.5 L272.3,797.1 L273.1,797.7 L274.0,798.3 L274.9,798.9 L275.7,799.6 L276.6,800.2 L277.4,800.9 L278.3,801.6 L279.1,802.4 L279.9,803.1 L282.0,799.9 L282.8,800.7 L283.7,801.6 L284.6,802.5 L285.4,803.4 L286.3,804.3 L287.1,805.2 L287.9,806.1 L288.8,807.1 L289.6,808.1 L290.4,809.1 L289.4,813.5 L290.2,814.5 L290.9,815.5 L291.6,816.5 L292.4,817.5 L293.1,818.5 L293.8,819.6 L294.5,820.6 L295.1,821.7 L295.8,822.8 L296.5,823.9 L297.1,825.0 L297.7,826.2 L298.4,827.3 L299.0,828.5 L299.6,829.6 L300.2,830.8 L300.8,832.0 L301.3,833.2 L301.9,834.4 L302.4,835.6 L303.0,836.9 L303.5,838.1 L304.0,839.3 L307.2,839.0 L307.7,840.3 L308.2,841.7 L308.7,843.0 L309.2,844.4 L309.6,845.7 L310.1,847.1 L310.5,848.5 L310.9,849.9 L311.3,851.3 Z M300.3,855.7 L300.6,856.8 L300.9,857.9 L301.1,859.0 L301.4,860.1 L301.6,861.2 L301.8,862.2 L302.1,863.3 L302.3,864.4 L302.4,865.5 L302.6,866.6 L302.8,867.7 L302.9,868.8 L303.1,869.9 L303.2,871.0 L303.3,872.1 L303.4,873.2 L303.5,874.3 L303.6,875.3 L303.6,876.4 L303.7,877.5 L303.7,878.6 L303.7,879.6 L303.8,880.7 L303.8,881.8 L303.7,882.8 L303.7,883.9 L303.7,884.9 L303.6,886.0 L303.6,887.0 L303.5,888.0 L303.4,889.0 L303.3,890.0 L303.2,891.1 L303.0,892.1 L302.9,893.0 L302.7,894.0 L302.6,895.0 L302.4,896.0 L302.2,896.9 L302.0,897.9 L301.8,898.8 L301.6,899.7 L301.3,900.6 L301.1,901.6 L300.8,902.5 L300.5,903.3 L300.3,904.2 L300.0,905.1 L299.6,905.9 L299.3,906.8 L299.0,907.6 L298.6,908.4 L298.3,909.2 L297.9,910.0 L297.6,910.7 L297.2,911.5 L296.8,912.3 L296.4,913.0 L295.9,913.7 L295.5,914.4 L295.1,915.1 L294.6,915.8 L294.2,916.4 L293.7,917.1 L293.2,917.7 L292.7,918.3 L292.2,918.9 L291.7,919.5 L291.2,920.0 L290.7,920.6 L290.1,921.1 L289.6,921.6 L289.0,922.1 L288.5,922.6 L287.9,923.1 L287.3,923.5 L286.8,923.9 L286.2,924.3 L285.6,924.7 L285.0,925.1 L284.4,925.5 L283.7,925.8 L283.1,926.1 L282.5,926.4 L281.8,926.7 L281.2,927.0 L280.5,927.2 L279.9,927.4 L279.2,927.6 L278.6,927.8 L277.9,928.0 L277.2,928.1 L276.5,928.3 L275.9,928.4 L275.2,928.5 L274.5,928.6 L273.8,928.6 L273.1,928.6 L272.4,928.7 L271.7,928.7 L270.9,928.6 L270.2,928.6 L269.5,928.5 L268.8,928.5 L268.1,928.4 L267.4,928.3 L266.6,928.1 L265.9,928.0 L265.2,927.8 L264.5,927.6 L263.7,927.4 L263.0,927.2 L262.3,926.9 L261.5,926.7 L260.8,926.4 L260.1,926.1 L259.4,925.7 L258.6,925.4 L257.9,925.0 L257.2,924.7 L256.5,924.3 L255.7,923.9 L255.0,923.4 L254.3,923.0 L253.6,922.5 L252.9,922.0 L252.2,921.6 L251.5,921.0 L250.8,920.5 L250.1,920.0 L249.4,919.4 L248.7,918.8 L248.0,918.2 L247.3,917.6 L246.6,917.0 L245.9,916.3 L245.3,915.7 L244.6,915.0 L243.9,914.3 L243.3,913.6 L242.6,912.9 L242.0,912.2 L241.4,911.4 L240.7,910.6 L240.1,909.9 L239.5,909.1 L238.9,908.3 L238.3,907.5 L237.7,906.6 L237.1,905.8 L236.5,905.0 L235.9,904.1 L235.4,903.2 L234.8,902.3 L234.3,901.4 L233.7,900.5 L233.2,899.6 L232.7,898.7 L232.2,897.7 L231.6,896.8 L231.2,895.8 L230.7,894.9 L230.2,893.9 L229.7,892.9 L229.3,891.9 L228.8,890.9 L228.4,889.9 L228.0,888.9 L227.5,887.9 L227.1,886.8 L226.7,885.8 L226.4,884.8 L226.0,883.7 L225.6,882.7 L225.3,881.6 L224.9,880.6 L224.6,879.5 L224.3,878.4 L224.0,877.3 L223.7,876.3 L223.4,875.2 L223.1,874.1 L222.9,873.0 L222.6,871.9 L222.4,870.8 L222.2,869.8 L221.9,868.7 L221.7,867.6 L221.6,866.5 L221.4,865.4 L221.2,864.3 L221.1,863.2 L220.9,862.1 L220.8,861.0 L220.7,859.9 L220.6,858.8 L220.5,857.7 L220.4,856.7 L220.4,855.6 L220.3,854.5 L220.3,853.4 L220.3,852.4 L220.2,851.3 L220.2,850.2 L220.3,849.2 L220.3,848.1 L220.3,847.1 L220.4,846.0 L220.4,845.0 L220.5,844.0 L220.6,843.0 L220.7,842.0 L220.8,840.9 L221.0,839.9 L221.1,839.0 L221.3,838.0 L221.4,837.0 L221.6,836.0 L221.8,835.1 L222.0,834.1 L222.2,833.2 L222.4,832.3 L222.7,831.4 L222.9,830.4 L223.2,829.5 L223.5,828.7 L223.7,827.8 L224.0,826.9 L224.4,826.1 L224.7,825.2 L225.0,824.4 L225.4,823.6 L225.7,822.8 L226.1,822.0 L226.4,821.3 L226.8,820.5 L227.2,819.7 L227.6,819.0 L228.1,818.3 L228.5,817.6 L228.9,816.9 L229.4,816.2 L229.8,815.6 L230.3,814.9 L230.8,814.3 L231.3,813.7 L231.8,813.1 L232.3,812.5 L232.8,812.0 L233.3,811.4 L233.9,810.9 L234.4,810.4 L235.0,809.9 L235.5,809.4 L236.1,808.9 L236.7,808.5 L237.2,808.1 L237.8,807.7 L238.4,807.3 L239.0,806.9 L239.6,806.5 L240.3,806.2 L240.9,805.9 L241.5,805.6 L242.2,805.3 L242.8,805.0 L243.5,804.8 L244.1,804.6 L244.8,804.4 L245.4,804.2 L246.1,804.0 L246.8,803.9 L247.5,803.7 L248.1,803.6 L248.8,803.5 L249.5,803.4 L250.2,803.4 L250.9,803.4 L251.6,803.3 L252.3,803.3 L253.1,803.4 L253.8,803.4 L254.5,803.5 L255.2,803.5 L255.9,803.6 L256.6,803.7 L257.4,803.9 L258.1,804.0 L258.8,804.2 L259.5,804.4 L260.3,804.6 L261.0,804.8 L261.7,805.1 L262.5,805.3 L263.2,805.6 L263.9,805.9 L264.6,806.3 L265.4,806.6 L266.1,807.0 L266.8,807.3 L267.5,807.7 L268.3,808.1 L269.0,808.6 L269.7,809.0 L270.4,809.5 L271.1,810.0 L271.8,810.4 L272.5,811.0 L273.2,811.5 L273.9,812.0 L274.6,812.6 L275.3,813.2 L276.0,813.8 L276.7,814.4 L277.4,815.0 L278.1,815.7 L278.7,816.3 L279.4,817.0 L280.1,817.7 L280.7,818.4 L281.4,819.1 L282.0,819.8 L282.6,820.6 L283.3,821.4 L283.9,822.1 L284.5,822.9 L285.1,823.7 L285.7,824.5 L286.3,825.4 L286.9,826.2 L287.5,827.0 L288.1,827.9 L288.6,828.8 L289.2,829.7 L289.7,830.6 L290.3,831.5 L290.8,832.4 L291.3,833.3 L291.8,834.3 L292.4,835.2 L292.8,836.2 L293.3,837.1 L293.8,838.1 L294.3,839.1 L294.7,840.1 L295.2,841.1 L295.6,842.1 L296.0,843.1 L296.5,844.1 L296.9,845.2 L297.3,846.2 L297.6,847.2 L298.0,848.3 L298.4,849.3 L298.7,850.4 L299.1,851.4 L299.4,852.5 L299.7,853.6 L300.0,854.7 Z" fill="#fff" fill-rule="evenodd" stroke-width="1.5"/>
<polyline points="219.5,940.7 215.9,938.1 212.4,935.2 209.0,932.0 205.7,928.5 202.5,924.7 199.5,920.6 196.6,916.3 193.9,911.8 191.3,907.0 188.9,902.1 186.8,897.0 184.8,891.8 183.1,886.4 181.6,881.0 180.4,875.5 179.4,870.1 178.6,864.6 178.1,859.1 177.8,853.7 177.8,848.3 178.1,843.1 178.6,838.0 179.4,833.1 180.4,828.3 181.7,823.8 183.2,819.4 184.9,815.4 186.9,811.6 189.1,808.0 191.4,804.8 194.0,801.9 196.7,799.4 199.6,797.2 202.7,795.3 205.9,793.9 209.2,792.8 212.6,792.0 216.1,791.7 219.7,791.7 223.3,792.2 226.9,793.0 230.6,794.2 234.3,795.8 237.9,797.7 241.5,800.0 245.1,802.6 248.5,805.6 251.9,808.9 255.2,812.5 258.3,816.4 261.3,820.5 264.2,824.9 266.9,829.5 269.4,834.3 271.7,839.3 273.8,844.4 275.7,849.7 277.3,855.1 278.8,860.5 279.9,866.0 280.9,871.5 281.6,877.0 282.0,882.4 282.2,887.8 282.1,893.1 281.8,898.3 281.2,903.4 280.3,908.3 279.3,913.0 277.9,917.5 276.3,921.7 274.5,925.7 272.5,929.4 270.3,932.9 267.9,936.0 265.3,938.8 262.5,941.3 259.5,943.4 256.4,945.1 253.2,946.5 249.9,947.5" fill="none" stroke-width="1.5"/>
<polyline points="220.0,937.1 216.6,934.7 213.3,932.0 210.1,928.9 206.9,925.6 203.9,922.0 201.0,918.1 198.3,914.0 195.7,909.7 193.2,905.2 191.0,900.5 188.9,895.6 187.1,890.7 185.5,885.6 184.0,880.5 182.8,875.3 181.9,870.0 181.2,864.8 180.7,859.6 180.4,854.5 180.5,849.4 180.7,844.4 181.2,839.6 181.9,834.9 182.9,830.4 184.1,826.1 185.5,822.0 187.2,818.1 189.0,814.5 191.1,811.1 193.4,808.1 195.8,805.3 198.4,802.9 201.2,800.8 204.1,799.1 207.1,797.7 210.2,796.6 213.5,795.9 216.8,795.6 220.2,795.7 223.6,796.1 227.1,796.8 230.6,798.0 234.1,799.5 237.5,801.3 240.9,803.5 244.3,806.0 247.6,808.8 250.8,812.0 253.9,815.4 256.9,819.1 259.8,823.0 262.5,827.2 265.0,831.5 267.4,836.1 269.6,840.8 271.6,845.7 273.4,850.7 275.0,855.8 276.3,861.0 277.4,866.2 278.3,871.4 279.0,876.6 279.4,881.8 279.6,886.9 279.5,892.0 279.2,896.9 278.6,901.7 277.8,906.4 276.8,910.8 275.5,915.1 274.0,919.1 272.3,922.9 270.4,926.5 268.3,929.7 266.0,932.7 263.5,935.4 260.8,937.7 258.0,939.7 255.1,941.4 252.0,942.7 248.9,943.6" fill="none" stroke-width="1.5"/>
<line x1="219.5" y1="940.7" x2="220.0" y2="937.1" stroke-width="1.5"/>
<line x1="249.9" y1="947.5" x2="248.9" y2="943.6" stroke-width="1.5"/>
</g>
<g stroke="#000" stroke-width="1.3">
<line x1="176.5" y1="346.0" x2="176.5" y2="370.0"/>
<line x1="84.5" y1="514.0" x2="84.5" y2="534.7"/>
<line x1="289.5" y1="516.5" x2="289.5" y2="551.0"/>
<line x1="314.5" y1="304.6" x2="314.5" y2="340.4"/>
<line x1="422.5" y1="275.5" x2="422.5" y2="311.9"/>
<line x1="507.5" y1="265.9" x2="507.5" y2="296.5"/>
<line x1="646.5" y1="241.4" x2="646.5" y2="304.6"/>
<line x1="594.5" y1="410.9" x2="594.5" y2="437.1"/>
<line x1="502.5" y1="461.8" x2="502.5" y2="488.0"/>
<line x1="401.5" y1="450.2" x2="401.5" y2="504.0"/>
<line x1="740.5" y1="209.0" x2="740.5" y2="255.5"/>
<line x1="842.5" y1="210.3" x2="842.5" y2="232.9"/>
<line x1="927.5" y1="206.5" x2="927.5" y2="243.0"/>
<line x1="815.5" y1="328.4" x2="815.5" y2="361.0"/>
<line x1="905.5" y1="317.0" x2="905.5" y2="356.0"/>
<line x1="731.5" y1="366.0" x2="731.5" y2="397.5"/>
<line x1="1060.5" y1="133.5" x2="1060.5" y2="168.0"/>
<line x1="1209.5" y1="89.5" x2="1209.5" y2="107.8"/>
<line x1="1335.5" y1="92.0" x2="1335.5" y2="123.5"/>
<line x1="1309.5" y1="247.2" x2="1309.5" y2="269.5"/>
<line x1="1172.5" y1="284.3" x2="1172.5" y2="319.8"/>
<line x1="1447.5" y1="453.5" x2="1447.5" y2="507.8"/>
<line x1="1369.5" y1="514.0" x2="1369.5" y2="540.6"/>
<line x1="1494.5" y1="573.5" x2="1494.5" y2="595.2"/>
<line x1="1409.5" y1="583.8" x2="1409.5" y2="636.7"/>
<line x1="1247.5" y1="726.6" x2="1247.5" y2="776.7"/>
<line x1="820.5" y1="624.2" x2="820.5" y2="648.9"/>
<line x1="938.5" y1="593.2" x2="938.5" y2="614.3"/>
<line x1="1032.5" y1="541.0" x2="1032.5" y2="620.3"/>
<line x1="1079.5" y1="677.6" x2="1079.5" y2="706.2"/>
<line x1="1031.5" y1="694.2" x2="1031.5" y2="757.5"/>
<line x1="905.5" y1="736.4" x2="905.5" y2="779.2"/>
<line x1="776.5" y1="801.2" x2="776.5" y2="828.3"/>
<line x1="684.5" y1="804.2" x2="684.5" y2="840.4"/>
<line x1="244.5" y1="755.7" x2="244.5" y2="788.4"/>
<line x1="321.5" y1="738.7" x2="321.5" y2="765.3"/>
<line x1="386.5" y1="713.9" x2="386.5" y2="747.6"/>
<line x1="458.5" y1="691.9" x2="458.5" y2="729.8"/>
<line x1="591.5" y1="683.7" x2="591.5" y2="697.9"/>
<line x1="557.5" y1="868.2" x2="557.5" y2="891.3"/>
<line x1="451.5" y1="891.3" x2="451.5" y2="917.9"/>
<line x1="386.5" y1="910.8" x2="386.5" y2="953.4"/>
<line x1="321.5" y1="926.8" x2="321.5" y2="990.7"/>
<line x1="195.5" y1="923.2" x2="195.5" y2="965.1"/>
</g>
<g style="opacity:0.999">
<text x="0" y="0" transform="translate(147.2 343.4) scale(1 1.1)" class="m">34601</text>
<text x="0" y="0" transform="translate(284.7 281.2) scale(1 1.1)" class="m">34602A</text>
<text x="0" y="0" transform="translate(392.7 270.5) scale(1 1.1)" class="m">34601C</text>
<text x="0" y="0" transform="translate(479.5 241.4) scale(1 1.1)" class="m">34601D</text>
<text x="0" y="0" transform="translate(621.5 237.6) scale(1 1.1)" class="m">34601B</text>
<text x="0" y="0" transform="translate(712.3 204.7) scale(1 1.1)" class="m">34738</text>
<text x="0" y="0" transform="translate(814.1 207.2) scale(1 1.1)" class="m">34713</text>
<text x="0" y="0" transform="translate(899.0 180.8) scale(1 1.1)" class="m">34710D</text>
<text x="0" y="0" transform="translate(1032.5 130.4) scale(1 1.1)" class="m">34710</text>
<text x="0" y="0" transform="translate(1179.5 85.8) scale(1 1.1)" class="m">34624</text>
<text x="0" y="0" transform="translate(1308.3 88.9) scale(1 1.1)" class="m">34736</text>
<text x="0" y="0" transform="translate(1280.6 289.9) scale(1 1.1)" class="m">34601F</text>
<text x="0" y="0" transform="translate(1143.1 337.7) scale(1 1.1)" class="m">34601E</text>
<text x="0" y="0" transform="translate(787.7 380.6) scale(1 1.1)" class="m">34714</text>
<text x="0" y="0" transform="translate(876.9 376.8) scale(1 1.1)" class="m">34737</text>
<text x="0" y="0" transform="translate(706.1 415.7) scale(1 1.1)" class="m">34710A</text>
<text x="0" y="0" transform="translate(565.3 456.9) scale(1 1.1)" class="m">34604</text>
<text x="0" y="0" transform="translate(472.2 507.8) scale(1 1.1)" class="m">34615</text>
<text x="0" y="0" transform="translate(372.3 519.4) scale(1 1.1)" class="m">34602A</text>
<text x="0" y="0" transform="translate(259.9 571.6) scale(1 1.1)" class="m">34602</text>
<text x="0" y="0" transform="translate(55.9 555.0) scale(1 1.1)" class="m">34710C</text>
<text x="0" y="0" transform="translate(1418.1 450.8) scale(1 1.1)" class="m">35617A</text>
<text x="0" y="0" transform="translate(1338.5 489.9) scale(1 1.1)" class="m">34710C</text>
<text x="0" y="0" transform="translate(1465.4 614.3) scale(1 1.1)" class="m">35617A</text>
<text x="0" y="0" transform="translate(1380.7 654.1) scale(1 1.1)" class="m">34710D</text>
<text x="0" y="0" transform="translate(1004.2 538.1) scale(1 1.1)" class="m">34739A</text>
<text x="0" y="0" transform="translate(909.7 590.4) scale(1 1.1)" class="m">34705</text>
<text x="0" y="0" transform="translate(790.0 600.1) scale(1 1.1)" class="m">34622A</text>
<text x="0" y="0" transform="translate(562.0 677.8) scale(1 1.1)" class="m">34603</text>
<text x="0" y="0" transform="translate(427.9 688.4) scale(1 1.1)" class="m">35634C</text>
<text x="0" y="0" transform="translate(354.4 710.4) scale(1 1.1)" class="m">35634C</text>
<text x="0" y="0" transform="translate(290.2 735.6) scale(1 1.1)" class="m">35634C</text>
<text x="0" y="0" transform="translate(214.2 751.6) scale(1 1.1)" class="m">34625</text>
<text x="0" y="0" transform="translate(1050.2 726.1) scale(1 1.1)" class="m">34739</text>
<text x="0" y="0" transform="translate(1003.2 777.1) scale(1 1.1)" class="m">34739</text>
<text x="0" y="0" transform="translate(876.6 796.7) scale(1 1.1)" class="m">34735</text>
<text x="0" y="0" transform="translate(1218.6 795.1) scale(1 1.1)" class="m">34101</text>
<text x="0" y="0" transform="translate(655.0 859.4) scale(1 1.1)" class="m">34622</text>
<text x="0" y="0" transform="translate(745.4 845.2) scale(1 1.1)" class="m">34622A</text>
<text x="0" y="0" transform="translate(527.2 908.4) scale(1 1.1)" class="m">34623B</text>
<text x="0" y="0" transform="translate(421.5 937.5) scale(1 1.1)" class="m">34601D</text>
<text x="0" y="0" transform="translate(355.8 973.0) scale(1 1.1)" class="m">34601D</text>
<text x="0" y="0" transform="translate(290.5 1013.1) scale(1 1.1)" class="m">34601D</text>
<text x="0" y="0" transform="translate(165.3 983.7) scale(1 1.1)" class="m">34625A</text>
<text x="282.1" y="297.4" class="s">(OUTER)</text>
<text x="484.6" y="260.8" class="s">(NO.1)</text>
<text x="893.2" y="199.2" class="s">(FRONT)</text>
<text x="372.8" y="538.2" class="s">(INNER)</text>
<text x="53.3" y="574.3" class="s">(FRONT)</text>
<text x="1338.4" y="508.5" class="s">(REAR)</text>
<text x="1382.7" y="671.6" class="s">(REAR)</text>
<text x="789.0" y="618.7" class="s">(INNER)</text>
<text x="1048.3" y="744.7" class="s">(REAR)</text>
<text x="995.5" y="798.1" class="s">(FRONT)</text>
<text x="741.7" y="865.3" class="s">(OUTER)</text>
<text x="426.7" y="955.2" class="s">(NO.2)</text>
<text x="361.4" y="991.7" class="s">(NO.2)</text>
<text x="294.7" y="1029.7" class="s">(NO.2)</text>
<text x="0" y="0" transform="translate(23.4 1084.2) scale(1 1.16)" class="c">354692D</text>
<text x="0" y="0" transform="translate(1506.5 1084.6) scale(1 1.16)" class="c">358013A</text>
</g>
</svg>
</body></html>
